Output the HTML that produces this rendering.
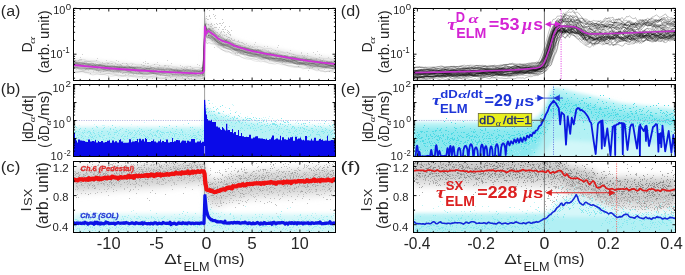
<!DOCTYPE html><html><head><meta charset="utf-8"><style>html,body{margin:0;padding:0;background:#fff;width:685px;height:275px;overflow:hidden}svg{display:block;will-change:transform}</style></head><body><svg width="685" height="275" viewBox="0 0 685 275" font-family='"Liberation Sans", sans-serif'>
<defs>
<clipPath id="clipA0"><rect x="73.5" y="8.5" width="262.0" height="72.0"/></clipPath>
<clipPath id="clipB"><rect x="73.5" y="84.5" width="262.0" height="72.0"/></clipPath>
<clipPath id="clipC"><rect x="73.5" y="161.5" width="262.0" height="71.0"/></clipPath>
<clipPath id="clipD"><rect x="413.5" y="8.5" width="262.0" height="72.0"/></clipPath>
<clipPath id="clipE"><rect x="413.5" y="84.5" width="262.0" height="72.0"/></clipPath>
<clipPath id="clipF"><rect x="413.5" y="161.5" width="262.0" height="71.0"/></clipPath>
<filter id="b1" x="-5%" y="-40%" width="110%" height="180%"><feGaussianBlur stdDeviation="1"/></filter>
<filter id="b2" x="-5%" y="-40%" width="110%" height="180%"><feGaussianBlur stdDeviation="2"/></filter>
<filter id="b3" x="-5%" y="-40%" width="110%" height="180%"><feGaussianBlur stdDeviation="3"/></filter>
<filter id="b15" x="-5%" y="-40%" width="110%" height="180%"><feGaussianBlur stdDeviation="1.5"/></filter>
</defs>
<rect width="685" height="275" fill="#fff"/>
<g clip-path="url(#clipA0)">
<polygon points="73,59 75,59.1 77,59.3 79,59.5 81,59.7 83,59.9 85,60.1 87,60.3 89,60.5 91,60.7 93,60.9 95,61 97,61.2 99,61.4 101,61.5 103,61.7 105,61.9 107,62.1 109,62.2 111,62.4 113,62.6 115,62.7 117,62.9 119,63 121,63.1 123,63.3 125,63.4 127,63.6 129,63.7 131,63.9 133,64 135,64.1 137,64.3 139,64.4 141,64.6 143,64.7 145,64.8 147,64.9 149,65 151,65.1 153,65.2 155,65.3 157,65.4 159,65.5 161,65.7 163,65.8 165,65.9 167,66 169,66.1 171,66.2 173,66.3 175,66.4 177,66.5 179,66.6 181,66.7 183,66.8 185,66.9 187,67 189,67.1 191,67.2 193,67.3 195,67.4 197,67.4 199,67.3 201,67.2 203,66.5 205,16.2 207,23.4 209,22.5 211,24.5 213,26.4 215,28.3 217,30.2 219,31.7 221,32.9 223,34.1 225,34.8 227,35.4 229,36.2 231,37.3 233,38.4 235,39.5 237,40.2 239,40.9 241,41.6 243,42.2 245,42.8 247,43.4 249,44 251,44.5 253,44.9 255,45.3 257,45.8 259,46.2 261,46.6 263,47 265,47.4 267,47.7 269,48.1 271,48.5 273,48.8 275,49.2 277,49.6 279,49.9 281,50.3 283,50.6 285,51 287,51.3 289,51.7 291,52 293,52.4 295,52.7 297,53 299,53.4 301,53.7 303,54 305,54.3 307,54.7 309,54.9 311,55.2 313,55.5 315,55.7 317,56 319,56.3 321,56.5 323,56.8 325,57 327,57.2 329,57.4 331,57.6 333,57.8 335,58 335,69.5 333,69.3 331,69.1 329,68.9 327,68.7 325,68.5 323,68.3 321,68.1 319,67.9 317,67.6 315,67.4 313,67.1 311,66.9 309,66.6 307,66.3 305,66 303,65.7 301,65.4 299,65.1 297,64.8 295,64.5 293,64.1 291,63.8 289,63.5 287,63.1 285,62.8 283,62.4 281,62.1 279,61.8 277,61.4 275,61.1 273,60.7 271,60.4 269,60 267,59.7 265,59.3 263,58.9 261,58.5 259,58.1 257,57.7 255,57.3 253,56.9 251,56.5 249,56 247,55.4 245,54.8 243,54.2 241,53.6 239,53.1 237,52.6 235,52 233,51.1 231,50.2 229,49.3 227,48.7 225,48.2 223,47.8 221,46.8 219,45.8 217,44.4 215,42.6 213,41.5 211,40.3 209,39.1 207,40.7 205,36.9 203,78 201,78.7 199,78.8 197,78.9 195,78.9 193,78.8 191,78.7 189,78.6 187,78.5 185,78.4 183,78.3 181,78.2 179,78.1 177,78 175,77.9 173,77.8 171,77.7 169,77.6 167,77.5 165,77.4 163,77.3 161,77.2 159,77 157,76.9 155,76.8 153,76.7 151,76.6 149,76.5 147,76.4 145,76.3 143,76.2 141,76.1 139,75.9 137,75.8 135,75.6 133,75.5 131,75.4 129,75.2 127,75.1 125,74.9 123,74.8 121,74.6 119,74.5 117,74.4 115,74.2 113,74.1 111,73.9 109,73.7 107,73.6 105,73.4 103,73.2 101,73 99,72.9 97,72.7 95,72.5 93,72.4 91,72.2 89,72 87,71.8 85,71.6 83,71.4 81,71.2 79,71 77,70.8 75,70.6 73,70.5" fill="#e4e4e4" fill-opacity="1.0" filter="url(#b2)"/>
<path d="M208 19.5h1m-3 4h1m-1 1h1m3 0h1m-3 1h1m-4 2h1m3 1h1m-5 1h1m1 0h1m-1 2h1m5 0h1m-5 1h1m0 0h1m2 0h1m1 0h1m4 0h1m0 0h1m-8 1h1m5 0h1m7 0h1m-18 1h1m4 0h1m2 0h1m9 0h1m-12 1h1m0 0h1m2 0h1m-12 1h1m0 0h1m2 0h1m6 0h1m3 0h1m-4 1h1m5 0h1m-13 1h1m13 0h1m-8 1h1m6 0h1m2 0h1m-23 1h1m12 0h1m0 0h1m5 0h1m0 0h1m0 0h1m3 0h1m-23 1h1m10 0h1m0 0h1m8 0h1m0 0h1m-22 1h1m6 0h1m14 0h1m1 0h1m0 0h1m12 0h1m-35 1h1m3 0h1m4 0h1m4 0h1m7 0h1m2 0h1m-43 1h1m39 0h1m9 0h1m-28 1h1m4 0h1m3 0h1m3 0h1m7 0h1m1 0h1m27 0h1m-46 1h1m2 0h1m5 0h1m1 0h1m0 0h1m3 0h1m2 0h1m11 0h1m2 0h1m-54 1h1m8 0h1m6 0h1m26 0h1m19 0h1m-33 1h1m0 0h1m0 0h1m0 0h1m-10 1h1m1 0h1m9 0h1m0 0h1m2 0h1m1 0h1m0 0h1m1 0h1m1 0h1m-59 1h1m46 0h1m1 0h1m0 0h1m1 0h1m11 0h1m2 0h1m3 0h1m14 0h1m-38 1h1m2 0h1m1 0h1m19 0h1m38 0h1m-78 1h1m9 0h1m8 0h1m1 0h1m4 0h1m3 0h1m16 0h1m13 0h1m11 0h1m-79 1h1m1 0h1m5 0h1m16 0h1m0 0h1m0 0h1m2 0h1m4 0h1m2 0h1m3 0h1m11 0h1m11 0h1m5 0h1m-226 1h1m164 0h1m15 0h1m0 0h1m2 0h1m1 0h1m2 0h1m3 0h1m16 0h1m21 0h1m3 0h1m-49 1h1m2 0h1m0 0h1m4 0h1m0 0h1m2 0h1m0 0h1m1 0h1m3 0h1m10 0h1m1 0h1m2 0h1m13 0h1m12 0h1m-70 1h1m0 0h1m12 0h1m5 0h1m0 0h1m5 0h1m2 0h1m1 0h1m-218 1h1m192 0h1m2 0h1m4 0h1m1 0h1m19 0h1m0 0h1m14 0h1m8 0h1m-232 1h1m170 0h1m3 0h1m1 0h1m4 0h1m0 0h1m8 0h1m3 0h1m0 0h1m0 0h1m0 0h1m1 0h1m0 0h1m2 0h1m3 0h1m3 0h1m0 0h1m4 0h1m-238 1h1m0 0h1m0 0h1m201 0h1m0 0h1m3 0h1m2 0h1m8 0h1m4 0h1m10 0h1m3 0h1m2 0h1m-249 1h1m2 0h1m17 0h1m9 0h1m9 0h1m50 0h1m101 0h1m12 0h1m11 0h1m5 0h1m21 0h1m10 0h1m0 0h1m-251 1h1m0 0h1m32 0h1m26 0h1m140 0h1m1 0h1m1 0h1m1 0h1m3 0h1m6 0h1m16 0h1m1 0h1m1 0h1m1 0h1m0 0h1m3 0h1m-257 1h1m0 0h1m2 0h1m6 0h1m15 0h1m40 0h1m13 0h1m124 0h1m26 0h1m2 0h1m1 0h1m0 0h1m11 0h1m0 0h1m0 0h1m-256 1h1m9 0h1m8 0h1m1 0h1m11 0h1m0 0h1m2 0h1m0 0h1m2 0h1m6 0h1m3 0h1m18 0h1m1 0h1m0 0h1m22 0h1m125 0h1m10 0h1m2 0h1m1 0h1m0 0h1m6 0h1m10 0h1m0 0h1m-256 1h1m3 0h1m0 0h1m10 0h1m4 0h1m0 0h1m16 0h1m2 0h1m6 0h1m4 0h1m8 0h1m12 0h1m42 0h1m101 0h1m5 0h1m19 0h1m4 0h1m-257 1h1m2 0h1m3 0h1m1 0h1m3 0h1m0 0h1m3 0h1m2 0h1m2 0h1m0 0h1m4 0h1m2 0h1m6 0h1m6 0h1m4 0h1m0 0h1m0 0h1m2 0h1m11 0h1m0 0h1m14 0h1m4 0h1m0 0h1m14 0h1m18 0h1m110 0h1m7 0h1m11 0h1m4 0h1m-259 1h1m11 0h1m1 0h1m2 0h1m6 0h1m0 0h1m2 0h1m4 0h1m8 0h1m4 0h1m0 0h1m3 0h1m17 0h1m0 0h1m1 0h1m17 0h1m13 0h1m7 0h1m12 0h1m94 0h1m18 0h1m13 0h1m-221 1h1m2 0h1m4 0h1m1 0h1m2 0h1m4 0h1m3 0h1m0 0h1m0 0h1m1 0h1m2 0h1m9 0h1m0 0h1m5 0h1m0 0h1m25 0h1m1 0h1m0 0h1m13 0h1m0 0h1m109 0h1m12 0h1m0 0h1m-241 1h1m2 0h1m0 0h1m0 0h1m0 0h1m4 0h1m3 0h1m4 0h1m2 0h1m2 0h1m0 0h1m9 0h1m6 0h1m1 0h1m1 0h1m11 0h1m7 0h1m3 0h1m4 0h1m12 0h1m4 0h1m10 0h1m8 0h1m107 0h1m22 0h1m-257 1h1m8 0h1m17 0h1m0 0h1m0 0h1m3 0h1m5 0h1m20 0h1m7 0h1m4 0h1m3 0h1m12 0h1m4 0h1m11 0h1m6 0h1m127 0h1m5 0h1m-237 1h1m7 0h1m13 0h1m20 0h1m5 0h1m8 0h1m4 0h1m3 0h1m0 0h1m2 0h1m1 0h1m2 0h1m4 0h1m4 0h1m2 0h1m1 0h1m0 0h1m4 0h1m6 0h1m6 0h1m2 0h1m105 0h1m-216 1h1m4 0h1m4 0h1m9 0h1m2 0h1m0 0h1m12 0h1m4 0h1m3 0h1m9 0h1m2 0h1m7 0h1m1 0h1m5 0h1m1 0h1m2 0h1m0 0h1m0 0h1m1 0h1m0 0h1m5 0h1m8 0h1m0 0h1m134 0h1m-230 1h1m17 0h1m1 0h1m2 0h1m15 0h1m22 0h1m0 0h1m3 0h1m5 0h1m20 0h1m0 0h1m0 0h1m-107 1h1m31 0h1m13 0h1m1 0h1m1 0h1m0 0h1m0 0h1m10 0h1m21 0h1m10 0h1m6 0h1m3 0h1m-73 1h1m2 0h1m4 0h1m32 0h1m5 0h1m10 0h1m5 0h1m5 0h1m0 0h1m3 0h1m-45 1h1m3 0h1m8 0h1m2 0h1m5 0h1m2 0h1m16 0h1m4 0h1m-96 1h1m79 0h1m2 0h1m-50 1h1m22 0h1m4 0h1m5 0h1m5 0h1m4 0h1m-36 1h1m35 0h1m2 0h1m-3 1h1m-5 1h1m14 1h1" stroke="#d2d2d2" stroke-opacity="1.0" stroke-width="1" fill="none" shape-rendering="crispEdges"/>
<path d="M207 9.5h1m1 1h1m3 4h1m-5 1h1m5 0h1m-10 1h1m2 0h1m4 0h1m-9 2h1m3 0h1m4 0h1m-9 1h1m14 0h1m0 3h1m-13 1h1m4 0h1m2 0h1m0 0h1m1 0h1m-15 1h1m2 0h1m2 0h1m2 0h1m-6 1h1m8 0h1m-12 1h1m0 0h1m13 0h1m3 0h1m-16 1h1m0 0h1m0 0h1m2 0h1m4 0h1m-20 1h1m0 0h1m5 0h1m0 0h1m4 1h1m3 0h1m0 0h1m1 0h1m1 1h1m3 0h1m-11 1h1m1 0h1m4 0h1m-12 1h1m6 0h1m2 0h1m1 0h1m-2 1h1m-17 1h1m13 0h1m3 0h1m-23 1h1m11 0h1m3 0h1m5 0h1m-13 1h1m9 1h1m-2 1h1m3 0h1m-6 1h1m2 0h1m-4 1h1m3 0h1" stroke="#c8c8c8" stroke-opacity="1.0" stroke-width="1" fill="none" shape-rendering="crispEdges"/>
<g fill="none" stroke="#3a3a3a" stroke-opacity="0.11" stroke-width="0.9" stroke-linejoin="round"><polyline points="73,71 75,71.2 77,71.9 79,71.5 81,71.6 83,71.2 85,72.2 87,72.2 89,72.3 91,72 93,72.5 95,72.4 97,72.2 99,72.3 101,73 103,73.2 105,73.3 107,73.4 109,73.5 111,73.9 113,73.2 115,74.4 117,75.5 119,77.1 121,76.6 123,76 125,75.3 127,75.6 129,76.1 131,75.6 133,76.1 135,75.5 137,77 139,76.7 141,76.5 143,76.1 145,76.5 147,76.9 149,77.1 151,76.6 153,75.7 155,76 157,76.7 159,77.9 161,77.6 163,77.9 165,77.7 167,77.5 169,77 171,77.9 173,77.7 175,78.4 177,77.7 179,77.9 181,78.1 183,78.4 185,78.4 187,77.7 189,78.3 191,79.5 193,79.6 195,79.4 197,79.2 199,79 201,78.9 203,77.9 205,37.9 207,41.1 209,39.7 211,41.3 213,42.4 215,43.4 217,45.7 219,47.5 221,49.3 223,50.3 225,51 227,52.2 229,51.6 231,52.7 233,52.2 235,54.5 237,55.5 239,55.2 241,54.4 243,54.5 245,56.4 247,57.8 249,58.1 251,58.4 253,58.8 255,59.2 257,59.8 259,58.8 261,59.6 263,59 265,60.9 267,60.8 269,61.3 271,61.3 273,61.4 275,61.7 277,61.1 279,61.9 281,62.9 283,64.5 285,64.8 287,65.4 289,65.2 291,65.6 293,65.7 295,66.5 297,66.7 299,66.7 301,66.4 303,66.9 305,66.9 307,67.8 309,67.8 311,68.7 313,68.1 315,68.7 317,68.9 319,69.4 321,70.4 323,70.6 325,71.8 327,71.5 329,71.2 331,70.4 333,70.4 335,70.9 337,71.2"/><polyline points="73,64.7 75,64.7 77,64.2 79,65.2 81,65.2 83,66 85,65.9 87,66.5 89,66.4 91,66 93,65.7 95,65.7 97,66.1 99,67.3 101,67.8 103,68.6 105,67.7 107,68.3 109,68.2 111,68.8 113,69.1 115,70 117,70.2 119,70.2 121,69.3 123,69.6 125,69.6 127,70.4 129,70.3 131,71.2 133,70.3 135,70.4 137,70.2 139,70.9 141,70.9 143,70.6 145,70.3 147,70.7 149,71.9 151,72.9 153,72.5 155,71.4 157,71 159,71.9 161,72 163,72 165,72.1 167,72.8 169,73 171,72.4 173,71.6 175,71.6 177,71.3 179,72.3 181,72.4 183,73.5 185,74 187,74.7 189,74.2 191,73.9 193,74 195,74.2 197,73.6 199,73 201,72.6 203,72.8 205,27.1 207,33.1 209,31 211,33.7 213,35.8 215,37.6 217,39.4 219,41.3 221,41.4 223,42.5 225,42.3 227,43.8 229,44.6 231,45.5 233,46.2 235,47.4 237,48.6 239,49.2 241,50.3 243,51.6 245,51.9 247,51.9 249,52.5 251,53.9 253,54.3 255,53.6 257,53.5 259,53.8 261,54 263,54.9 265,55.3 267,55.6 269,55.3 271,55.8 273,55.9 275,56.7 277,57.5 279,58.3 281,58.9 283,59 285,59.2 287,59.3 289,59.4 291,60 293,60 295,61 297,61 299,61.4 301,61.1 303,61.1 305,61.8 307,62 309,63 311,62.9 313,62.6 315,62.1 317,61.9 319,63 321,63.9 323,65.1 325,64.9 327,64.4 329,65 331,65.8 333,66.3 335,66.2 337,66.2"/><polyline points="73,72 75,72.3 77,72.2 79,72.1 81,71.7 83,71.7 85,71.8 87,72.4 89,72.6 91,74 93,73.9 95,74 97,73.2 99,73.9 101,74.5 103,74.5 105,74.2 107,73.3 109,73.3 111,74 113,74.9 115,75 117,74.8 119,74.9 121,75.6 123,75.7 125,75.7 127,75 129,74.9 131,75.8 133,75.8 135,76.2 137,75.8 139,76.7 141,76.6 143,76.6 145,76.9 147,77.3 149,76.7 151,76.7 153,76.5 155,77.1 157,77.4 159,78.1 161,78.8 163,78.6 165,78.8 167,79 169,79.8 171,80.1 173,79.7 175,79.3 177,79.2 179,78.8 181,79 183,78.6 185,79.1 187,78.4 189,78.3 191,78.6 193,79.7 195,80.5 197,80.5 199,80 201,79.2 203,78.7 205,39.2 207,43.7 209,42.8 211,44 213,44 215,43.9 217,44.9 219,46.4 221,48.5 223,50.3 225,50.6 227,50.7 229,51.8 231,53.2 233,53.5 235,53.7 237,54.5 239,55.6 241,56.8 243,57.7 245,58.6 247,59.2 249,59.6 251,59 253,58.8 255,59 257,59.9 259,60.7 261,60.8 263,61 265,61.6 267,62.4 269,63.2 271,63.3 273,63.9 275,64.3 277,63.2 279,62.9 281,62.9 283,63.8 285,64.5 287,65.5 289,66.1 291,65.9 293,66.6 295,66.9 297,67.2 299,66.8 301,67.4 303,67.9 305,68.5 307,68.4 309,68.6 311,68.6 313,69.4 315,69.7 317,70 319,69.9 321,71.6 323,71.4 325,72.1 327,71.2 329,71.6 331,71.6 333,72.1 335,72.9 337,72.7"/><polyline points="73,65.8 75,66.1 77,66.6 79,67.5 81,67.6 83,68 85,68.2 87,68.3 89,67.7 91,67 93,66.7 95,67.8 97,68.1 99,69.1 101,69 103,70 105,70.1 107,70 109,69.6 111,69.5 113,69.7 115,69.7 117,69.9 119,70.5 121,70.2 123,70.5 125,69.8 127,70.5 129,70.9 131,71.3 133,71.6 135,71 137,71.5 139,71.2 141,72 143,71.9 145,71.3 147,71 149,71.1 151,72.6 153,73 155,73.1 157,72.3 159,72.8 161,73.4 163,73.9 165,73.5 167,72.5 169,72.9 171,74 173,74.8 175,75.1 177,74.5 179,74 181,74.2 183,73.7 185,74 187,73.8 189,74.5 191,74.8 193,74.9 195,74.5 197,73.9 199,73.8 201,73.7 203,73 205,28.2 207,33.8 209,32.3 211,33.8 213,34.9 215,37.3 217,39.8 219,42.7 221,43.1 223,43.7 225,43.9 227,44.9 229,45.7 231,46.9 233,47.9 235,48.6 237,48.2 239,49 241,50.1 243,50.7 245,50.8 247,51.5 249,52.8 251,53.4 253,53.8 255,54.2 257,54.3 259,54.3 261,54.7 263,55.5 265,55.3 267,55.4 269,56.2 271,57.8 273,57.5 275,58.5 277,58 279,59.4 281,59.2 283,60.3 285,60.4 287,59.9 289,60.1 291,60.2 293,60.1 295,61.2 297,61.9 299,63.7 301,62.8 303,63.3 305,63.6 307,64.7 309,64.5 311,63.8 313,63.5 315,63.1 317,63.2 319,63.5 321,64.2 323,64.9 325,65 327,66.2 329,66.8 331,67.1 333,67 335,66.5 337,66.7"/><polyline points="73,64.3 75,64.4 77,63.8 79,64.5 81,65.3 83,65.7 85,66 87,65.2 89,65.3 91,64.9 93,66 95,67.4 97,68.2 99,67.6 101,67.2 103,67.1 105,67.8 107,67.8 109,68.2 111,68.3 113,68.1 115,68 117,67.3 119,67.5 121,67.3 123,68 125,68 127,68.7 129,69 131,69 133,68.8 135,68.4 137,69.4 139,70.4 141,71.2 143,70.9 145,70.9 147,70.2 149,71 151,70.3 153,70 155,70.5 157,71.4 159,72.2 161,71.4 163,70.8 165,71.4 167,70.9 169,70.8 171,71 173,71.8 175,72.6 177,72.5 179,73.4 181,72.8 183,73 185,71.5 187,71.4 189,71.9 191,72.3 193,73.1 195,72.6 197,72.6 199,72.2 201,72 203,71.5 205,26.9 207,33.2 209,32 211,32.8 213,34.2 215,36 217,38.7 219,41.2 221,42.7 223,43.3 225,42.7 227,42.5 229,42.8 231,43.5 233,44.7 235,46 237,47.3 239,47.9 241,48.6 243,48.5 245,49.9 247,50.8 249,52.5 251,52.7 253,53.5 255,53.1 257,53.5 259,54.3 261,54.4 263,54.9 265,54.9 267,55.9 269,56.1 271,56.3 273,56.3 275,56.5 277,56 279,56.4 281,56.4 283,57 285,57.6 287,58.4 289,58.3 291,59.3 293,59.9 295,61.1 297,60.5 299,60.3 301,60.6 303,61.2 305,60.9 307,61.3 309,62.5 311,62.7 313,63.1 315,62.4 317,63.3 319,63.7 321,63.4 323,63.7 325,63.9 327,64.5 329,64.5 331,64.2 333,64.3 335,65.2 337,65.3"/><polyline points="73,62.8 75,63.2 77,63 79,62.6 81,62.5 83,62.3 85,63.4 87,64.3 89,64.5 91,64.4 93,64.5 95,65.2 97,66.5 99,66.2 101,66 103,65.4 105,66 107,67 109,67.2 111,66.8 113,66.5 115,66.4 117,67.4 119,67.6 121,67.5 123,66.5 125,67 127,67.9 129,68.2 131,67.8 133,67.6 135,67.1 137,66.9 139,67.4 141,68.1 143,68.9 145,69.2 147,69.9 149,69.8 151,70.3 153,70.4 155,70.4 157,69.9 159,69.9 161,69.8 163,69.6 165,69.4 167,69 169,69 171,69.1 173,69.9 175,69.3 177,69.4 179,69.7 181,70.6 183,70.3 185,70.7 187,70.2 189,70.7 191,71.1 193,71.4 195,71.4 197,71.3 199,71.3 201,71.3 203,70.3 205,25.2 207,29.9 209,28.2 211,28.7 213,31.1 215,32.8 217,34.8 219,37.1 221,38.2 223,39.8 225,40.5 227,41.2 229,41.8 231,43.5 233,45 235,45.7 237,45.6 239,45.6 241,46.7 243,47.7 245,48.4 247,48.8 249,49.5 251,50.2 253,50.7 255,50.2 257,50.4 259,50.5 261,52.3 263,52.9 265,53.3 267,52.5 269,52.9 271,53.8 273,54.5 275,55.9 277,56 279,57 281,56.5 283,57 285,56.1 287,56.3 289,56.3 291,57.2 293,56.7 295,57.4 297,57.7 299,58.7 301,58.6 303,58.9 305,59.6 307,59.5 309,59.5 311,59.7 313,60.6 315,61.1 317,61 319,60.8 321,61.2 323,62.2 325,62.3 327,63.2 329,63.2 331,63.7 333,63.6 335,62.8 337,63.1"/><polyline points="73,60.3 75,60.3 77,60.8 79,61.2 81,60.7 83,61.3 85,60.8 87,61.6 89,61.5 91,61.7 93,61.6 95,61.6 97,62.2 99,63.2 101,64 103,63.8 105,63.4 107,62.9 109,63.7 111,63.4 113,64.4 115,64.2 117,64.8 119,64.6 121,65.4 123,66 125,66.4 127,66.2 129,66.7 131,66.9 133,66.9 135,67.2 137,66.9 139,67.1 141,66.3 143,66.2 145,66.6 147,66.5 149,67 151,66.9 153,67.7 155,66.7 157,66.6 159,66.8 161,67.5 163,67.7 165,66.6 167,67.3 169,67.1 171,68.5 173,67.6 175,68.3 177,67.9 179,69.1 181,68.6 183,68.5 185,69.2 187,69.3 189,69.4 191,68.4 193,68.4 195,69.3 197,70.1 199,70.2 201,68.9 203,68 205,21.2 207,29.4 209,28.4 211,29 213,30.2 215,30.7 217,32.4 219,34.5 221,36 223,38.9 225,39.1 227,39.8 229,39.8 231,41.6 233,43.2 235,43.4 237,43.4 239,44.5 241,45.5 243,45.6 245,46 247,46.9 249,47.4 251,47.3 253,47.3 255,48.3 257,48.9 259,50.2 261,50.7 263,50.4 265,50.5 267,51 269,52.2 271,52.8 273,52.6 275,52.3 277,52.6 279,52.8 281,52.6 283,53 285,53.5 287,54.6 289,54 291,54.1 293,54.1 295,54.8 297,55.9 299,55.7 301,56.5 303,56.2 305,57 307,57.3 309,58 311,58.1 313,58.9 315,58.8 317,59.8 319,59.4 321,60.6 323,60.5 325,61.1 327,60.4 329,61.2 331,60.7 333,61.1 335,61.6 337,62"/><polyline points="73,67.1 75,67.4 77,67.2 79,66.7 81,66.3 83,67.3 85,67.7 87,68.1 89,67.6 91,67.3 93,67.8 95,67.8 97,68.1 99,67.4 101,67.8 103,67.6 105,68.5 107,69 109,68.8 111,69.4 113,69.3 115,69.7 117,69 119,68.7 121,69.3 123,69.6 125,70.3 127,70.7 129,71.7 131,72.5 133,72.1 135,71.3 137,71.2 139,71.6 141,72.7 143,72.4 145,72.8 147,72.8 149,73.2 151,73.1 153,73 155,72.9 157,72.9 159,73.2 161,73 163,73.8 165,73.4 167,74.2 169,73.5 171,73.6 173,74.1 175,74.1 177,73.8 179,72.8 181,72.9 183,74.4 185,74.9 187,75.5 189,74.2 191,74.4 193,74.4 195,75.6 197,75.2 199,75.1 201,74.4 203,73.5 205,29.5 207,34.4 209,32.3 211,34.3 213,36.2 215,38.7 217,39.5 219,41.5 221,42.9 223,45.1 225,45.6 227,45.8 229,46.3 231,46.5 233,47.7 235,48.3 237,49 239,50.1 241,50.8 243,51.4 245,51.4 247,52.1 249,52.4 251,52.8 253,53 255,53.5 257,54.1 259,54.3 261,55.8 263,56.8 265,57.7 267,57.1 269,57.9 271,58.2 273,58.5 275,58 277,58.4 279,59.4 281,59.6 283,60.7 285,60.1 287,60.7 289,59.7 291,61.2 293,61.1 295,61.9 297,61.8 299,62.8 301,62.7 303,62.4 305,61.6 307,62.5 309,62.9 311,63.6 313,63.5 315,63.6 317,63.7 319,64.5 321,65.5 323,65.2 325,65.2 327,64.6 329,65.8 331,65.6 333,65.9 335,65.5 337,66"/><polyline points="73,67 75,67.3 77,67.4 79,67 81,67.3 83,67.7 85,68.4 87,68.8 89,69.4 91,69.2 93,68.6 95,68.9 97,70.1 99,70.3 101,69.4 103,68.8 105,69 107,69 109,69.5 111,69.3 113,69.6 115,70.1 117,70.5 119,71.1 121,71.1 123,71.9 125,71.9 127,71.8 129,71.3 131,72.3 133,72.7 135,72.7 137,72.2 139,72.3 141,73.1 143,73.9 145,74.3 147,74 149,73.3 151,72.4 153,72.8 155,73 157,74.7 159,74.8 161,74 163,72.8 165,72.9 167,73.3 169,73.3 171,73.3 173,74 175,74.4 177,74.3 179,74.6 181,74.5 183,74.8 185,74 187,74 189,74.5 191,74.5 193,74.9 195,75 197,75.5 199,75.6 201,74.7 203,74.7 205,32.7 207,38.2 209,35 211,35.3 213,37.2 215,40.4 217,42.8 219,44.3 221,44.3 223,45.1 225,45.1 227,46.1 229,46.1 231,47.5 233,48.8 235,50 237,49.6 239,49.8 241,50.6 243,50.8 245,51.6 247,52.5 249,53.9 251,55 253,55.3 255,55.6 257,55.2 259,55.1 261,55.5 263,56 265,56.6 267,57.1 269,58 271,58.9 273,59.8 275,59.7 277,59.9 279,60.5 281,60.6 283,61.5 285,60.9 287,61.1 289,60.2 291,60.8 293,61.4 295,62.9 297,63.1 299,63.2 301,62.8 303,63 305,62.9 307,63.4 309,63.3 311,64 313,64.3 315,65 317,64.8 319,64.5 321,65.7 323,65.8 325,67.2 327,66.9 329,67.5 331,66.6 333,67 335,68 337,68.5"/><polyline points="73,63.3 75,63.5 77,64.6 79,64.2 81,64.5 83,63.4 85,64.6 87,64.3 89,64.1 91,63.5 93,63.9 95,65.6 97,65.7 99,66 101,65.6 103,66.5 105,66.7 107,67 109,66.8 111,66.9 113,66.7 115,66.6 117,66.5 119,67.1 121,66.7 123,67.6 125,67.7 127,68.3 129,67.7 131,67.4 133,67.8 135,68.5 137,68.8 139,69.2 141,68.8 143,68.9 145,68 147,68.6 149,68.7 151,69.3 153,69.5 155,69.9 157,69 159,68.7 161,68 163,69.6 165,70.7 167,71.1 169,70.9 171,69.9 173,70.3 175,70.7 177,71.4 179,71 181,71.4 183,70.7 185,71.2 187,71.2 189,71.9 191,71.5 193,70.9 195,70.5 197,70.8 199,71.5 201,71.1 203,70.6 205,24.2 207,31.5 209,30.3 211,32.5 213,34 215,35.9 217,37.2 219,39.3 221,39.2 223,40.6 225,40.3 227,41.6 229,41.3 231,41.6 233,42.6 235,43.8 237,45.5 239,45.7 241,47.2 243,47.7 245,48.8 247,48.6 249,48.7 251,48.9 253,49.4 255,50.1 257,50.9 259,50.9 261,51.2 263,51.3 265,52.4 267,53.6 269,54.6 271,54.7 273,53.7 275,53.2 277,53 279,54.3 281,55 283,56 285,55.8 287,56.5 289,57.4 291,57.7 293,57.9 295,57.3 297,58.3 299,58.3 301,58.5 303,57.9 305,58.1 307,59 309,60.9 311,61.3 313,61.8 315,61.1 317,61.3 319,61.1 321,61.2 323,61.6 325,62.6 327,62.2 329,62.8 331,62.4 333,63.1 335,63.2 337,63.2"/><polyline points="73,67.7 75,68.1 77,67.5 79,68.1 81,68.9 83,70.2 85,70.3 87,69 89,68.8 91,68.3 93,68.8 95,69.4 97,69.5 99,69.9 101,69 103,69.4 105,69.6 107,70.3 109,70.2 111,71.1 113,71 115,71.1 117,70.2 119,71.2 121,72.6 123,73.2 125,72.6 127,71.8 129,72.2 131,72.2 133,73.1 135,73.4 137,73.9 139,73.7 141,73.6 143,74.3 145,73.8 147,74 149,73.4 151,73.6 153,73.3 155,73.5 157,73.5 159,73 161,72.8 163,73.8 165,75.3 167,76 169,76.1 171,75.2 173,75 175,74.8 177,74.7 179,74.5 181,74.5 183,74.9 185,74.9 187,75.1 189,75.2 191,76.1 193,76.1 195,76.1 197,75.8 199,75.6 201,75.4 203,74.5 205,32.3 207,37.9 209,37.4 211,37.5 213,38.3 215,38.9 217,41.6 219,43 221,44 223,45.3 225,46.2 227,46.4 229,47.2 231,48.6 233,49.8 235,50.5 237,50.4 239,51.7 241,51.8 243,52.4 245,52.4 247,52.8 249,53.8 251,54.5 253,55.3 255,55.3 257,54.2 259,54.6 261,54.5 263,56.5 265,57.3 267,58.5 269,58.6 271,58.4 273,58.6 275,58.9 277,59.1 279,59.1 281,60.2 283,60.7 285,61.8 287,61.6 289,62 291,61.9 293,62.5 295,63.1 297,63.6 299,63.5 301,63.2 303,64 305,64.5 307,65 309,65.2 311,66 313,66.6 315,66.1 317,66.8 319,67 321,67.7 323,66.9 325,66.4 327,65.9 329,66.3 331,67.2 333,67.8 335,67.4 337,67.4"/><polyline points="73,61.1 75,61.5 77,62.2 79,63.9 81,64.1 83,63.7 85,62.6 87,61.3 89,61.5 91,61.9 93,63.6 95,64.2 97,64.7 99,64.6 101,64.8 103,65.2 105,65 107,64.7 109,63.9 111,65 113,65.8 115,66.7 117,65.9 119,65.6 121,65.4 123,66 125,66 127,66.4 129,66.4 131,66.9 133,66.9 135,67.1 137,66.9 139,66.8 141,67.3 143,67.4 145,67.8 147,67.5 149,67.1 151,67.5 153,67.3 155,68.2 157,68.1 159,68 161,67.6 163,67.4 165,67.8 167,67.8 169,68.3 171,68.7 173,69.3 175,69 177,69.3 179,69 181,69.3 183,69.5 185,69.8 187,69.8 189,69.3 191,69.4 193,69.8 195,70.1 197,69.8 199,69.8 201,70.7 203,70.2 205,23.7 207,28.8 209,26.7 211,28.4 213,29.7 215,33.2 217,34.9 219,36.4 221,36.9 223,38.2 225,38.9 227,39.6 229,39.7 231,40.9 233,42.3 235,44.6 237,45.7 239,46.1 241,46.5 243,47.2 245,48.3 247,48.9 249,49.1 251,49.1 253,49.2 255,49.7 257,50.1 259,50.1 261,49.7 263,49.8 265,49.7 267,50.9 269,51.5 271,52 273,52.6 275,53.2 277,54.2 279,54.9 281,55.6 283,55.5 285,55.7 287,55.5 289,56.4 291,56.7 293,56.7 295,56.6 297,56.3 299,56.6 301,57.1 303,57.2 305,57.4 307,58 309,58.8 311,59.5 313,58.9 315,58.9 317,58.9 319,59.8 321,60.1 323,60.9 325,61.1 327,61.5 329,61.4 331,61.8 333,61.9 335,62.5 337,62.3"/><polyline points="73,66.5 75,66.9 77,67.5 79,68.1 81,68.2 83,68.3 85,68.2 87,68.7 89,68.5 91,67.8 93,68 95,68.2 97,68.8 99,68.3 101,68 103,69.6 105,70.1 107,70 109,69.5 111,69.2 113,70.9 115,70.4 117,69.7 119,69 121,69.5 123,70.4 125,69.6 127,70.1 129,71.1 131,71.4 133,71.9 135,71 137,73 139,72.8 141,73.1 143,72.7 145,72.9 147,72.8 149,72.7 151,72.4 153,72 155,72.7 157,72.8 159,73.5 161,72.8 163,72.4 165,72.2 167,72 169,72.5 171,73.2 173,74.1 175,74.2 177,74.5 179,74.4 181,74.2 183,74.2 185,73.6 187,74.6 189,74.8 191,75.3 193,74.3 195,74.3 197,73.9 199,74.8 201,74.6 203,73.9 205,30.7 207,36.3 209,35.1 211,36.7 213,37.5 215,39.1 217,40.4 219,41.6 221,42.6 223,43.5 225,45.2 227,46.7 229,47.3 231,48.3 233,48.5 235,49.8 237,50.1 239,50.8 241,52.3 243,52.6 245,52.5 247,52.7 249,53 251,53.9 253,52.3 255,53.4 257,54.3 259,56.4 261,56.8 263,57.6 265,57.6 267,57.9 269,57.2 271,57.4 273,57.8 275,58.7 277,58.6 279,58.6 281,58.7 283,59.3 285,59.7 287,59.9 289,59.9 291,59.6 293,60.9 295,61.3 297,62.2 299,62 301,63.2 303,62.9 305,62.8 307,62.9 309,64.1 311,64.2 313,63.9 315,64.2 317,65.2 319,66.2 321,65.7 323,65.6 325,65.7 327,66.5 329,66 331,66.2 333,66 335,66.3 337,66.3"/><polyline points="73,65.7 75,66 77,65.7 79,66 81,66.2 83,67 85,67.6 87,67.2 89,66.7 91,66.6 93,67.4 95,68.9 97,69.2 99,68.9 101,68.6 103,68.2 105,68.2 107,69 109,69.6 111,70.6 113,70 115,70.7 117,70.7 119,71.1 121,70.2 123,69.7 125,69.9 127,71 129,71.8 131,71.5 133,71.2 135,70.9 137,71.5 139,71.8 141,72.4 143,72.1 145,72.3 147,72.4 149,72.7 151,72 153,72.1 155,72.7 157,73.1 159,72.9 161,72.6 163,73.2 165,73.6 167,72.8 169,72.8 171,72.2 173,72.6 175,72.7 177,73.2 179,73.9 181,74.9 183,75.4 185,75.5 187,74.1 189,73.6 191,73.1 193,73.3 195,73.2 197,73.4 199,73.4 201,73.4 203,72.4 205,27.1 207,33.5 209,33.1 211,35.9 213,37.6 215,38.8 217,40.5 219,40.8 221,43.1 223,44.4 225,45.4 227,44.5 229,44.8 231,45.1 233,46.3 235,47.4 237,48.8 239,49.6 241,50.2 243,50.4 245,51.3 247,51.4 249,52.1 251,52.6 253,52.8 255,54.3 257,54.3 259,55.8 261,55.1 263,55.9 265,55.1 267,55.4 269,55.6 271,56.6 273,57 275,57.8 277,57.6 279,58.5 281,58.5 283,59.4 285,59 287,59.8 289,60.1 291,61 293,60.3 295,59.8 297,59.8 299,60.7 301,61.5 303,61.9 305,61.8 307,62.9 309,63.4 311,63.7 313,63.8 315,64.4 317,64.9 319,64.4 321,63.9 323,63.7 325,64 327,64.7 329,65.4 331,66 333,66.4 335,66.5 337,66.4"/><polyline points="73,61.8 75,61.6 77,62.3 79,62.6 81,62.7 83,62.7 85,63 87,63.7 89,64 91,64.5 93,64.5 95,64.5 97,64.5 99,65.5 101,65.8 103,66.4 105,66.4 107,67.4 109,66.8 111,67.2 113,66.8 115,67.2 117,66.5 119,66.8 121,67.1 123,67.2 125,67.6 127,67.5 129,67.3 131,67.3 133,68 135,68.9 137,68.3 139,68.6 141,68.5 143,69.7 145,68.9 147,68.9 149,68.3 151,68.3 153,68 155,68.7 157,69.2 159,69.3 161,69.3 163,70 165,70.7 167,70.2 169,69.9 171,70.1 173,70.2 175,70.1 177,70.1 179,71 181,71 183,69.8 185,68.8 187,68.9 189,69.9 191,70.8 193,71.2 195,71.1 197,70.9 199,70.5 201,70.7 203,69.7 205,25.4 207,31.8 209,30.6 211,30.4 213,31.4 215,32.8 217,34.8 219,36.2 221,38.5 223,39.7 225,40.3 227,39.9 229,40.3 231,41.7 233,43.2 235,45.2 237,45.7 239,46.8 241,47.1 243,47.9 245,47.4 247,47.4 249,48.3 251,50.1 253,51.1 255,51.5 257,51.2 259,51.4 261,51.2 263,52.2 265,52.8 267,53.4 269,53.2 271,53.7 273,54.2 275,54.4 277,55.2 279,55.5 281,56.2 283,56.5 285,57.1 287,57.4 289,57.4 291,57 293,57.1 295,56.4 297,57.6 299,57.4 301,58.8 303,58.4 305,59 307,59 309,59.7 311,60.6 313,61.6 315,61.9 317,62.3 319,61.6 321,62 323,62 325,62.2 327,62.1 329,62.2 331,62.7 333,63.1 335,63.1 337,63.1"/><polyline points="73,63.1 75,63 77,63.5 79,63.3 81,63.4 83,63.3 85,63.9 87,65.4 89,64.3 91,65.7 93,65.5 95,67 97,66.5 99,66.2 101,65.7 103,66.3 105,65.9 107,66.3 109,66.5 111,66.7 113,66.8 115,66.6 117,66.7 119,67.4 121,67.7 123,67.7 125,67.4 127,67.1 129,67.6 131,67.8 133,67.9 135,68.7 137,68.6 139,69.4 141,69.1 143,69.8 145,69.3 147,69.3 149,68.6 151,69.1 153,69.8 155,71.2 157,71.6 159,71.4 161,70.6 163,70.4 165,70.4 167,71.2 169,71.5 171,71.3 173,70.5 175,70.8 177,71.4 179,71.7 181,71.7 183,71.5 185,71.6 187,71 189,70.5 191,71 193,70.8 195,71.4 197,70.8 199,71.5 201,71.6 203,71.2 205,24 207,30.2 209,28.3 211,31.1 213,33 215,35.4 217,38.1 219,39.6 221,41 223,41.2 225,41.5 227,42.2 229,43.3 231,43.9 233,44.9 235,45.7 237,47.3 239,47.7 241,47.6 243,47.3 245,48.5 247,49.7 249,50.2 251,50.1 253,50.3 255,50.5 257,49.8 259,49.7 261,51 263,52.3 265,53.3 267,53.6 269,54.3 271,53.9 273,54 275,53.8 277,54.5 279,54.7 281,55.4 283,56.1 285,56.1 287,56.3 289,57.6 291,58.1 293,57.9 295,57.6 297,58.6 299,59.7 301,59.5 303,60 305,59.8 307,60.1 309,59.7 311,60.3 313,61.3 315,62 317,62.3 319,62.7 321,62.7 323,63.3 325,62.6 327,62.1 329,62.3 331,62.5 333,63.2 335,63 337,63.7"/><polyline points="73,64.5 75,63.6 77,64.3 79,64.9 81,66.1 83,65.9 85,65.5 87,66.4 89,66.1 91,66.1 93,65.4 95,66.3 97,66.5 99,67 101,66.8 103,66.9 105,66.6 107,66.6 109,66.7 111,67.1 113,67.1 115,67.9 117,68 119,68.1 121,68.1 123,68 125,68.9 127,68.5 129,69.1 131,69.1 133,69 135,69.1 137,70 139,69.4 141,69.6 143,69.1 145,69.6 147,69.2 149,70 151,70.4 153,71.8 155,71.3 157,71.6 159,71.1 161,71.2 163,71.8 165,71.9 167,71.8 169,71.5 171,72 173,72.3 175,72 177,71.3 179,71.2 181,71.5 183,71.6 185,71.2 187,71.4 189,71.9 191,72.7 193,72.9 195,73.7 197,73.2 199,74.4 201,73.9 203,73.5 205,27.1 207,30.5 209,29 211,31.1 213,35.3 215,36.2 217,38.9 219,39.3 221,41.4 223,40.4 225,41.2 227,41.3 229,43.4 231,44.4 233,45.1 235,46.2 237,47.2 239,48.5 241,49.1 243,49.9 245,50.3 247,49.9 249,49.5 251,50.5 253,51.8 255,52.8 257,52.5 259,52.6 261,53 263,53.4 265,53.5 267,54.8 269,55.4 271,55.7 273,54.7 275,54.6 277,55.5 279,56.8 281,57.3 283,57.4 285,57.3 287,57.3 289,58.1 291,58.8 293,60.6 295,60.1 297,60.2 299,59.8 301,60.4 303,60.2 305,59.7 307,60.2 309,61.2 311,61.8 313,62.4 315,62.9 317,63.4 319,63.2 321,63 323,63.3 325,63.9 327,64.2 329,64.3 331,64.1 333,63.7 335,63.3 337,63.5"/><polyline points="73,68 75,68.2 77,68.5 79,68.6 81,69.2 83,68.8 85,68.4 87,68.3 89,68.3 91,68.8 93,69.3 95,69.6 97,70.4 99,70.1 101,70.3 103,69.7 105,69.7 107,70.1 109,70.4 111,71.4 113,71.7 115,72 117,71.4 119,70.8 121,70.7 123,70.6 125,71.6 127,71.8 129,72.9 131,73 133,73.5 135,73 137,73 139,73.1 141,73.5 143,73.2 145,73.3 147,74 149,74.4 151,74.2 153,73 155,72.6 157,73.3 159,73.7 161,74.5 163,74.8 165,75.9 167,75.5 169,75.3 171,74.7 173,75.3 175,75.2 177,75.1 179,75.6 181,75.8 183,76 185,76 187,76.2 189,76.3 191,76 193,76.5 195,76.6 197,76.4 199,75.3 201,74.9 203,73.9 205,31.2 207,36.5 209,34.6 211,36 213,37.7 215,40.2 217,41.5 219,43.2 221,43.9 223,44.8 225,44.3 227,45.1 229,46.7 231,48.7 233,49.7 235,49.8 237,49.6 239,49.8 241,50.8 243,50.9 245,51.9 247,52.9 249,54.1 251,54.8 253,54.5 255,54.4 257,54.4 259,55.6 261,57 263,57.5 265,57.9 267,57.7 269,58.8 271,58.9 273,59.2 275,59.3 277,59.1 279,59.3 281,58.8 283,59.5 285,60.2 287,61.1 289,61.2 291,62.1 293,62.3 295,62.5 297,62.8 299,63.8 301,64.5 303,63.7 305,63.2 307,63.6 309,64.6 311,65.7 313,65.2 315,65.7 317,65.1 319,66.4 321,66.3 323,67.2 325,66.6 327,66.3 329,65.7 331,65.9 333,66.3 335,67.4 337,67.7"/><polyline points="73,68.3 75,68.4 77,68.1 79,69.5 81,69.9 83,70.6 85,70 87,69.1 89,68.7 91,68.5 93,69.8 95,70.4 97,70.7 99,70.5 101,71.4 103,71.5 105,71.4 107,70.7 109,71 111,71.4 113,71.9 115,73.2 117,72.7 119,72.6 121,72 123,72.9 125,73 127,72.9 129,73.6 131,73.6 133,73.8 135,73.5 137,73.9 139,74 141,74.6 143,74.7 145,75 147,74.6 149,74.2 151,73.9 153,73.5 155,74.2 157,74.3 159,74.4 161,74.6 163,75.3 165,75.1 167,75.8 169,75.7 171,76.6 173,76.4 175,76.6 177,76.4 179,77.1 181,76.6 183,77 185,76.4 187,76.5 189,76.6 191,76.5 193,78.2 195,77.9 197,77.7 199,76.8 201,77.2 203,75.9 205,34 207,38.5 209,38.2 211,40 213,41.8 215,43.1 217,44.3 219,44.5 221,45.3 223,46.2 225,47.1 227,47.8 229,47.8 231,49.8 233,51.8 235,52.9 237,52.9 239,52.3 241,53.7 243,54.3 245,55.1 247,54.9 249,55.4 251,55.4 253,56.2 255,56.2 257,57.3 259,57.5 261,58.7 263,58.9 265,59.7 267,59.1 269,59.7 271,59.5 273,60.4 275,60.5 277,61.4 279,60.7 281,61.1 283,60.3 285,62.2 287,61.4 289,62 291,61 293,63 295,63.2 297,64.4 299,63.7 301,63.7 303,63.8 305,64.7 307,65.8 309,66.7 311,66.5 313,66.8 315,66.4 317,67 319,68.2 321,68.8 323,68.9 325,67.9 327,67.6 329,68.4 331,68.4 333,68.5 335,68 337,68.6"/><polyline points="73,64.1 75,64.4 77,64 79,64.7 81,64.5 83,64.6 85,66 87,66 89,65.4 91,65.3 93,66.5 95,67.2 97,66 99,66.1 101,66.4 103,68 105,67.5 107,67.6 109,67.1 111,67.9 113,68.9 115,68.3 117,67.4 119,67.7 121,68.6 123,68.5 125,67.9 127,68.2 129,68.9 131,68.8 133,68.9 135,68.8 137,69.3 139,69.3 141,69.5 143,69.4 145,70.4 147,70.8 149,70.9 151,70.7 153,70.8 155,71.4 157,71.5 159,72.2 161,72.4 163,72.3 165,71.5 167,71.4 169,71.7 171,72 173,71.1 175,70.2 177,70.5 179,71.6 181,72.8 183,72.2 185,72.4 187,71.9 189,72.7 191,72.5 193,72.5 195,72.2 197,71.1 199,71 201,70.4 203,70.8 205,25.7 207,33.3 209,32 211,33.3 213,34.5 215,35.7 217,38.2 219,39.6 221,40.4 223,41.2 225,41.7 227,42.6 229,43.7 231,45.5 233,46.5 235,46.9 237,45.7 239,46.5 241,47.1 243,47.7 245,48.5 247,49.6 249,50.8 251,51.1 253,50.8 255,51.8 257,51.7 259,52.4 261,53.3 263,54.4 265,55.2 267,54.6 269,54.4 271,54.6 273,55.2 275,55.6 277,56.1 279,56.8 281,58.1 283,57.6 285,57 287,56.2 289,57.7 291,58.7 293,60.1 295,59.6 297,59.1 299,59.1 301,59.9 303,60.3 305,60.7 307,61.2 309,62 311,61.7 313,60.8 315,60.9 317,61.6 319,62.7 321,62.9 323,62.7 325,63.4 327,63.7 329,64.3 331,63.7 333,63.7 335,63.9 337,64.4"/><polyline points="73,62.2 75,62.8 77,63.5 79,64.4 81,64.1 83,64.1 85,63.2 87,63.2 89,64.1 91,64.9 93,65.6 95,65.5 97,65.5 99,65.3 101,65.3 103,65.7 105,66.2 107,66.5 109,66.4 111,66.2 113,66 115,65.8 117,66.6 119,66 121,66.4 123,67.1 125,67.9 127,67.7 129,66.9 131,67.7 133,68.2 135,68.6 137,68.3 139,68.3 141,69.4 143,69.5 145,69.6 147,68.3 149,68.5 151,69 153,69.6 155,69.6 157,69 159,69 161,69 163,69.5 165,68.9 167,68.9 169,68.8 171,69.5 173,69.3 175,69.7 177,69.8 179,70.1 181,69.9 183,69.6 185,70.5 187,69.9 189,70.1 191,69.3 193,70.1 195,70.7 197,71.1 199,71.2 201,70.5 203,70.8 205,25.4 207,32.5 209,29.5 211,30.2 213,31.9 215,34.1 217,36.4 219,37.5 221,38.2 223,39.8 225,40.2 227,41.6 229,41.7 231,42.9 233,43.5 235,45.2 237,46.1 239,47.4 241,47.8 243,48.3 245,47.4 247,48.2 249,48.4 251,50 253,50 255,50 257,50.1 259,50.9 261,52.4 263,52.8 265,52.6 267,52.9 269,53.2 271,54.7 273,54.5 275,54.9 277,54.8 279,55.8 281,55.9 283,56.5 285,56.1 287,57.6 289,57.2 291,57 293,57 295,57.8 297,59.6 299,60.4 301,60.6 303,60 305,59.5 307,59.4 309,59.4 311,59.8 313,59.2 315,59.8 317,60.2 319,62.4 321,62.9 323,63 325,62.4 327,61.8 329,62 331,61.3 333,62.5 335,63.1 337,64"/><polyline points="73,62.7 75,63.1 77,63.4 79,62.9 81,62.6 83,62.7 85,63.6 87,63.7 89,63.5 91,63.7 93,63.9 95,64.9 97,64.7 99,65.6 101,66 103,66.4 105,66.5 107,65.6 109,65.3 111,65.4 113,66.5 115,67.5 117,68.3 119,68 121,67.6 123,67.2 125,67.3 127,67.3 129,66.6 131,67.2 133,66.9 135,67.7 137,66.9 139,67.9 141,67.4 143,68.4 145,67.4 147,67.8 149,68 151,68.4 153,68.8 155,68.2 157,67.7 159,67.9 161,68.4 163,69 165,69.2 167,68.8 169,69 171,68.9 173,69 175,70.4 177,69.9 179,70.6 181,70.2 183,70.1 185,69.2 187,69.1 189,69.8 191,70.7 193,71 195,71.2 197,70.6 199,69 201,69.1 203,68.5 205,23 207,29.4 209,28.1 211,30.6 213,32.7 215,35.5 217,35.9 219,36.7 221,37.2 223,38.7 225,39 227,40.1 229,41 231,42.8 233,43.4 235,44.9 237,45.5 239,45.2 241,45.1 243,45.6 245,47.7 247,48.5 249,49 251,48.8 253,49.6 255,50 257,50.4 259,50.2 261,51 263,51.5 265,51.5 267,51.9 269,52.2 271,53.3 273,53.6 275,54.7 277,55.4 279,55.4 281,55.1 283,54.5 285,55.8 287,56.4 289,57.8 291,57.4 293,56.7 295,57.1 297,57.6 299,58.8 301,58.5 303,59.1 305,59.5 307,59.2 309,59.7 311,59.5 313,60.2 315,60.7 317,61.6 319,61.9 321,60.7 323,60.6 325,61.2 327,62.1 329,61.7 331,61.4 333,61.2 335,61.9 337,62.3"/><polyline points="73,67.5 75,67.7 77,67.7 79,68 81,68 83,68.9 85,69.3 87,70 89,69.1 91,69.2 93,68.4 95,68.7 97,69.3 99,71.1 101,71.7 103,71.7 105,71 107,70.5 109,70.3 111,70.7 113,70.8 115,71.4 117,70.9 119,70.6 121,70 123,69.8 125,70.1 127,71.1 129,71.9 131,72.7 133,72.8 135,73.6 137,73.4 139,73.6 141,73.4 143,73.7 145,73.5 147,72.8 149,72.6 151,72.5 153,73.4 155,73.7 157,73.8 159,74.1 161,74.9 163,75.4 165,75.6 167,75 169,74.7 171,74.4 173,74.5 175,74.6 177,75.2 179,75.4 181,75.3 183,74.9 185,75.8 187,76.3 189,76.7 191,75.9 193,75.7 195,75 197,75.2 199,76 201,75.8 203,75.8 205,31.9 207,37.3 209,35.5 211,37.8 213,39.5 215,39.6 217,41.2 219,42 221,45.1 223,45.9 225,47 227,45.8 229,46.3 231,46.6 233,48.5 235,49.6 237,51 239,50.9 241,51.3 243,52.3 245,52.7 247,52.8 249,53 251,53.5 253,54.4 255,55.1 257,55.6 259,56.5 261,56.3 263,57.6 265,58.2 267,58.7 269,58.3 271,57.8 273,58.4 275,59.3 277,59.4 279,60.1 281,59.4 283,60 285,59.2 287,61 289,61.7 291,62.9 293,62.1 295,62.8 297,62.2 299,62.8 301,63.5 303,64.6 305,64.9 307,64.5 309,64.7 311,64.9 313,65.3 315,66 317,66.4 319,66.1 321,66.4 323,66.5 325,67.4 327,67.8 329,67.8 331,66.5 333,66.6 335,67.3 337,68.3"/><polyline points="73,61.7 75,62.2 77,62.8 79,63.3 81,63.2 83,64.4 85,64.7 87,64.8 89,64.2 91,65.1 93,65.8 95,66.2 97,65 99,64.4 101,64.9 103,65.3 105,66.2 107,66.3 109,66.9 111,67 113,67.2 115,66.8 117,66.6 119,67.5 121,67.5 123,67.6 125,67.2 127,67.8 129,67.8 131,66.9 133,67.3 135,68.3 137,69.6 139,69.5 141,69.6 143,68.7 145,68.9 147,68.2 149,68.9 151,69.2 153,70.1 155,69.7 157,70 159,69.5 161,69.6 163,69.1 165,68.7 167,69.3 169,69.6 171,70.3 173,70.6 175,70.4 177,70.6 179,69.9 181,70.2 183,69.9 185,70.4 187,70.4 189,71 191,70.5 193,70 195,69.9 197,70.8 199,71.5 201,71.9 203,71.6 205,26.5 207,31.7 209,29.1 211,30 213,31.5 215,33.9 217,36.4 219,38.1 221,39 223,40.4 225,41.1 227,41.9 229,42.4 231,43.1 233,43.5 235,44.6 237,45.7 239,46.7 241,47 243,48.4 245,48.8 247,49.5 249,49.2 251,49.5 253,50.1 255,51.2 257,52.5 259,53.1 261,53 263,53 265,53.6 267,53.6 269,53.7 271,53.7 273,54.5 275,55.2 277,55.8 279,54.9 281,55.6 283,56.7 285,58.5 287,58.2 289,57.2 291,57 293,57.1 295,58.1 297,58.1 299,59.3 301,59.8 303,59.5 305,59.5 307,59 309,59.5 311,59.4 313,59.9 315,61.2 317,61 319,61.8 321,62.5 323,63.7 325,63.7 327,63 329,62.4 331,62.6 333,63 335,64 337,63.9"/><polyline points="73,72.2 75,72.9 77,72.3 79,71.9 81,71.4 83,71.8 85,72.7 87,72.9 89,74 91,74.5 93,75.1 95,74.5 97,74.3 99,74.5 101,74.4 103,74.5 105,74.6 107,75.3 109,75.9 111,76.3 113,76 115,75.6 117,75 119,75.7 121,75.4 123,76.3 125,76.3 127,77.2 129,76.9 131,76.3 133,76.8 135,76.9 137,78.1 139,77.8 141,78.2 143,78.5 145,78.6 147,79 149,77.8 151,78.1 153,77.6 155,78.2 157,78 159,78.4 161,79.1 163,78.5 165,78.5 167,77.7 169,79 171,78.9 173,79.5 175,79 177,79.5 179,79.9 181,80 183,79.8 185,79 187,79.3 189,79.7 191,80.1 193,80.5 195,79.5 197,79 199,78 201,78.5 203,78.5 205,39.8 207,43.6 209,42.3 211,43.3 213,43.8 215,44 217,46.9 219,47.8 221,49.3 223,50 225,51.7 227,51.9 229,51.8 231,52.8 233,54.6 235,55.1 237,55.6 239,55.7 241,57.1 243,57.9 245,58.3 247,57.8 249,58 251,59.4 253,60.6 255,61 257,61.6 259,61.3 261,62 263,61.2 265,62 267,62 269,63.2 271,63.2 273,63.3 275,62.4 277,63.3 279,63.7 281,64.8 283,64.6 285,64.9 287,65.5 289,66.2 291,66.9 293,67.1 295,67.3 297,66.8 299,67.3 301,67.8 303,69.1 305,68.2 307,67.8 309,66.9 311,67.6 313,68.9 315,70.2 317,70.8 319,70.6 321,71 323,71.1 325,71.4 327,71.3 329,70.8 331,70.7 333,71.4 335,72.2 337,72.5"/><polyline points="73,64.5 75,65.1 77,65.4 79,65.4 81,64 83,64 85,63.9 87,64.5 89,65.3 91,66.5 93,66.6 95,66.8 97,66.9 99,67.5 101,67.7 103,67 105,67 107,66.3 109,66.7 111,67.7 113,67.9 115,68 117,67.5 119,68.2 121,68.7 123,69.5 125,69.3 127,69.1 129,68.7 131,69.1 133,69.4 135,69.8 137,70.7 139,71 141,71 143,70.9 145,71 147,70.8 149,69.9 151,70.4 153,71.1 155,71.5 157,71.5 159,71.9 161,72.4 163,72 165,71.6 167,71.4 169,72.3 171,72.4 173,72.2 175,71.8 177,71.3 179,71.7 181,71.7 183,72.7 185,72.4 187,72.5 189,72 191,72.1 193,72.6 195,72.9 197,73.5 199,72.7 201,72.9 203,71.3 205,26.4 207,31.8 209,32 211,33.9 213,35.6 215,37.3 217,39.1 219,40.9 221,42 223,42.9 225,43.1 227,43.5 229,44 231,45.3 233,46.6 235,48.2 237,48.5 239,48.1 241,48.3 243,49 245,50.6 247,51.1 249,51.7 251,52 253,52.4 255,52.8 257,53.6 259,54.8 261,55.5 263,55.3 265,54.7 267,55.1 269,55.3 271,56.2 273,56.1 275,56.4 277,56.6 279,57.3 281,58.2 283,58.8 285,58.4 287,57.8 289,57.3 291,58 293,59 295,60.1 297,60.5 299,60.7 301,60.5 303,60.5 305,60.2 307,60.5 309,61.9 311,62.2 313,63.2 315,63.5 317,64.2 319,63.9 321,63.4 323,63.7 325,64.2 327,64.6 329,65.2 331,65.6 333,66 335,65.9 337,65.6"/><polyline points="73,64.7 75,65 77,65.1 79,65.4 81,66.3 83,66 85,66.2 87,65.7 89,65.5 91,65.7 93,65.2 95,65.7 97,66.1 99,67 101,68 103,68.5 105,69.1 107,69 109,68.7 111,68.9 113,68.6 115,68.7 117,69 119,69.6 121,70.1 123,69.9 125,70.1 127,69.6 129,69.4 131,68.8 133,69.5 135,69.4 137,70.6 139,70.9 141,70.9 143,70.5 145,69.9 147,70.4 149,70.7 151,71.4 153,70.7 155,70.5 157,70.7 159,71.7 161,72.4 163,71.8 165,72 167,71.4 169,72.1 171,72.1 173,72.8 175,72.6 177,72.6 179,72 181,71.8 183,72 185,72.5 187,72.5 189,72.1 191,72.2 193,73.5 195,74.3 197,74.6 199,73.3 201,72.7 203,71.9 205,28.5 207,34.2 209,32.6 211,34.9 213,36.9 215,38.5 217,39 219,40.7 221,41.6 223,43.7 225,44.1 227,44.5 229,44.8 231,44.8 233,46.4 235,47.4 237,49 239,49.7 241,50.1 243,50.4 245,50.7 247,51.1 249,52.2 251,52.5 253,52.8 255,52.3 257,52.6 259,52.4 261,53.2 263,53.7 265,54.7 267,54.5 269,54.8 271,54.9 273,55.5 275,57.2 277,58.3 279,58.9 281,57.7 283,57.7 285,57.3 287,58.6 289,58.8 291,59.7 293,59.7 295,59.8 297,59.5 299,60.1 301,60.1 303,60.6 305,60.5 307,61.1 309,62 311,62.8 313,63.4 315,63.6 317,63.5 319,64 321,63.4 323,63.8 325,63.3 327,63.7 329,63.8 331,64.2 333,65.1 335,65.8 337,66"/><polyline points="73,60 75,60.4 77,61.2 79,60.7 81,60 83,59.3 85,59.7 87,60.8 89,61.1 91,60.9 93,60.9 95,60.7 97,60.8 99,61.5 101,63.1 103,63.4 105,63.6 107,62.8 109,62.7 111,61.4 113,62.1 115,62.4 117,64.2 119,64.1 121,64.5 123,63.1 125,63.7 127,63.6 129,64.3 131,63.1 133,63.7 135,64.3 137,65 139,64.9 141,64.8 143,65.5 145,65.6 147,66.2 149,65.9 151,65.7 153,65 155,64.3 157,64.3 159,65 161,66.1 163,66.2 165,66.1 167,65.3 169,65.7 171,65.8 173,66.9 175,66.9 177,67.1 179,67.7 181,67.9 183,67.9 185,66.7 187,66.3 189,66.3 191,67 193,67.9 195,67.5 197,67.4 199,67.5 201,68.3 203,67.6 205,17.7 207,24.7 209,24.2 211,27.4 213,28.6 215,31.3 217,32.9 219,34.6 221,34 223,34.9 225,35 227,36.5 229,37.6 231,38.7 233,40.5 235,41 237,41.9 239,42 241,42.6 243,43.6 245,44.4 247,45.3 249,46.5 251,46.8 253,47.4 255,46.7 257,46.4 259,46.5 261,47.1 263,48 265,49 267,48.5 269,48.6 271,48 273,49.8 275,50.4 277,51.2 279,50.7 281,51.6 283,52 285,52.8 287,52.1 289,53 291,53.4 293,54.8 295,55.1 297,55.2 299,55.3 301,55.4 303,56 305,56.3 307,56.3 309,56.3 311,56.9 313,57.5 315,57.9 317,58.6 319,58 321,58.1 323,58.3 325,58.9 327,58.6 329,58.7 331,59.3 333,59.7 335,59.6 337,59.5"/><polyline points="73,62 75,62 77,62.3 79,62.4 81,62.4 83,63 85,63.3 87,64.2 89,64.2 91,63.9 93,63.3 95,63.5 97,64.8 99,65.7 101,65.8 103,65.7 105,65.1 107,65.9 109,65.6 111,66.5 113,66.5 115,66.7 117,66.7 119,66.2 121,66.4 123,66.8 125,68.9 127,69.3 129,69.1 131,67.3 133,67.6 135,67.1 137,67.3 139,67.2 141,67.5 143,68.5 145,68.9 147,69.2 149,68.6 151,67.8 153,67.6 155,68.1 157,68.9 159,69.6 161,69.7 163,69.4 165,69.5 167,68.9 169,69.3 171,69.8 173,70.9 175,70.9 177,70.3 179,70.4 181,71.4 183,71 185,70.4 187,70 189,71 191,71 193,71.2 195,70.7 197,71.9 199,71.8 201,71.8 203,70.1 205,24.1 207,30.7 209,29.2 211,30.5 213,31.2 215,33.1 217,34.3 219,35.8 221,37 223,38.3 225,39.7 227,40.9 229,41.9 231,42.3 233,43.4 235,43.7 237,44.1 239,44.7 241,46.4 243,48.1 245,48.4 247,48.2 249,48.3 251,49.1 253,49.7 255,50 257,49.7 259,49.9 261,50.9 263,52 265,52.4 267,52 269,52 271,53 273,53.4 275,53.9 277,53.2 279,53.5 281,54.1 283,55.6 285,56 287,55.9 289,56.2 291,56.8 293,57.3 295,57.5 297,58 299,59 301,59.4 303,59.4 305,59.3 307,59.3 309,59.3 311,59.2 313,59.9 315,60 317,61 319,61 321,61.8 323,61.9 325,62.2 327,62.9 329,62.7 331,62.7 333,62.3 335,63.4 337,63.6"/><polyline points="73,67.1 75,66.9 77,67.5 79,67.9 81,69.2 83,68.7 85,69.2 87,68.7 89,69.3 91,69 93,68.9 95,69.3 97,69.9 99,69.7 101,70.4 103,70 105,71.4 107,71.2 109,72 111,71.8 113,72.2 115,71.9 117,71.5 119,71.5 121,71.9 123,73.2 125,72.3 127,72.1 129,71.8 131,72.2 133,72.4 135,72.9 137,74.1 139,74 141,73.8 143,73.9 145,74.6 147,74.3 149,74.1 151,73.5 153,73.3 155,73.6 157,74.1 159,75.1 161,74.8 163,74 165,73.2 167,73.6 169,74.8 171,75 173,74.7 175,75.2 177,75.1 179,75.8 181,75.2 183,75.1 185,75.4 187,74.7 189,74.9 191,74.6 193,75.5 195,76.2 197,76 199,75.9 201,76.4 203,75.6 205,33.9 207,36.5 209,34.9 211,36.8 213,39 215,40.8 217,41.9 219,43.4 221,43.7 223,44.9 225,45 227,45.9 229,46.7 231,47.5 233,48.5 235,50.2 237,51.4 239,52.8 241,52.6 243,53.3 245,53.8 247,54.8 249,56 251,56.1 253,56.1 255,55.5 257,54.6 259,54.4 261,54.8 263,56.8 265,57.6 267,58.4 269,59 271,59.4 273,59.9 275,60.4 277,61.1 279,60.5 281,60.7 283,60.8 285,61.4 287,61.2 289,61.4 291,62.4 293,63 295,64 297,64.1 299,63.8 301,63.6 303,64 305,64.5 307,66 309,65.8 311,66 313,65.6 315,66.2 317,66.7 319,66.4 321,66.5 323,67.1 325,67.7 327,67.6 329,67.6 331,67.8 333,68.5 335,67.3 337,67.1"/><polyline points="73,62.6 75,62.8 77,63.8 79,64.5 81,64.5 83,64.2 85,65 87,65 89,65.3 91,65.4 93,66 95,65 97,64.6 99,64.4 101,65.6 103,66.1 105,66.7 107,66.8 109,66.9 111,67 113,67.3 115,67.2 117,67.3 119,67.2 121,66.9 123,67 125,66.8 127,66.6 129,67.3 131,67.8 133,68.6 135,68 137,68.3 139,68.5 141,68.7 143,68.4 145,68.9 147,68.7 149,69.7 151,68.4 153,68.3 155,68.4 157,69.4 159,69.7 161,69.5 163,69.2 165,69.7 167,68.5 169,68.9 171,68.7 173,70.1 175,70.9 177,70.9 179,71.5 181,70.9 183,70.4 185,68.5 187,69.7 189,70.7 191,71.7 193,70.6 195,70.2 197,71.2 199,71.4 201,72.8 203,71.3 205,23.9 207,29.4 209,28.2 211,31.4 213,33.5 215,35.2 217,37.9 219,38.5 221,39.3 223,40 225,40.3 227,42 229,43 231,44.3 233,45 235,45.8 237,46.3 239,47.1 241,47.3 243,48.4 245,48.1 247,48.8 249,49.3 251,49.9 253,50.1 255,50 257,51.2 259,51.4 261,52.3 263,53.1 265,54.1 267,53.4 269,53 271,53.8 273,54.8 275,55.6 277,55.8 279,56.5 281,56.2 283,55.9 285,55.9 287,56.5 289,57.3 291,58 293,58.2 295,58.3 297,58.6 299,58.2 301,58.1 303,57.9 305,58.9 307,59.5 309,60 311,60 313,60.7 315,61.2 317,61.1 319,61 321,60.6 323,62.5 325,62.4 327,63 329,62.4 331,62.7 333,63.1 335,64 337,64.2"/><polyline points="73,66.7 75,66.4 77,67 79,67 81,67.9 83,67.1 85,67.4 87,67.4 89,67.7 91,68.4 93,68.7 95,68.9 97,68.3 99,68.6 101,69.3 103,69.6 105,69.9 107,70.2 109,69.7 111,69.2 113,68.5 115,69.1 117,70 119,70.8 121,70.5 123,70 125,70.2 127,70.6 129,70.8 131,70.7 133,70.3 135,70.8 137,70.9 139,72 141,71.5 143,71.1 145,70.8 147,71.4 149,71.8 151,72.2 153,72.9 155,73.5 157,73.3 159,72.4 161,72.7 163,73 165,73.9 167,73.9 169,73.9 171,73.4 173,73 175,73 177,72.8 179,72.7 181,73.5 183,73.8 185,73.9 187,73.5 189,73.2 191,74 193,73.4 195,73.7 197,73.4 199,73.6 201,74 203,73.6 205,30.4 207,35.3 209,32.7 211,35 213,36.4 215,38.5 217,40.7 219,42.4 221,44 223,44.7 225,44.5 227,44.5 229,45.1 231,46 233,47.5 235,48.3 237,49.6 239,49.3 241,49.9 243,50.5 245,51.4 247,52 249,51.6 251,52.8 253,52.7 255,53.1 257,52.6 259,53.1 261,54.6 263,55 265,55.8 267,55.6 269,57.2 271,57.6 273,59.1 275,58.2 277,58.6 279,57.8 281,58.8 283,59.2 285,59.3 287,58.9 289,58.6 291,58.9 293,59.4 295,59.9 297,60.2 299,60.8 301,61.7 303,62.1 305,62.2 307,62.3 309,63 311,63.2 313,63.7 315,64.4 317,65.2 319,65 321,65.7 323,66.4 325,66.5 327,65.9 329,65.9 331,65.9 333,66.3 335,66.1 337,66.5"/><polyline points="73,62.9 75,62.8 77,62.4 79,64 81,65 83,66.4 85,65.8 87,65.8 89,66 91,66.5 93,66.6 95,66 97,65.9 99,65.6 101,65.6 103,65.2 105,65.8 107,66.8 109,66.9 111,67.5 113,67.8 115,68.3 117,67.7 119,67.2 121,67.9 123,68.1 125,67.8 127,67.7 129,67.2 131,67.8 133,68.3 135,69.3 137,69.7 139,69.6 141,69.9 143,69.7 145,69.4 147,69.1 149,69.1 151,70 153,70.8 155,71.1 157,70.5 159,69.7 161,69.6 163,70.5 165,71 167,71.2 169,70.5 171,70.8 173,71 175,71.4 177,71.2 179,71.9 181,71.9 183,72.6 185,72.5 187,72.7 189,72.5 191,72.1 193,71.8 195,71.5 197,71.2 199,71.6 201,71.6 203,71.5 205,26.4 207,30.4 209,29.2 211,29.6 213,32.9 215,34 217,36.8 219,38.8 221,39.6 223,40.7 225,40.7 227,41.2 229,42.1 231,43.2 233,44.8 235,45.2 237,47.2 239,47.9 241,48 243,47 245,47.7 247,48.8 249,49.8 251,50 253,50.8 255,51 257,51.3 259,51.2 261,51.6 263,52.9 265,53.8 267,54.1 269,54.2 271,54.4 273,55.7 275,55.8 277,56.3 279,56.1 281,56.4 283,56.6 285,56.7 287,57.3 289,57.8 291,58.4 293,59.4 295,59.4 297,59.4 299,60.2 301,60.2 303,60.5 305,60.3 307,61.1 309,61.5 311,61.5 313,62 315,62.5 317,62.6 319,62.6 321,62.4 323,62.6 325,62.7 327,62.5 329,63.1 331,64 333,65.2 335,65.6 337,65.1"/><polyline points="73,63.2 75,63.3 77,63.6 79,63.7 81,64.2 83,63.8 85,64.4 87,63.9 89,64.2 91,64.2 93,65.1 95,65.6 97,65.4 99,65 101,64.6 103,64.8 105,64.8 107,65.1 109,65.7 111,65.6 113,65.5 115,66 117,66.3 119,66.3 121,66.8 123,67.9 125,67.8 127,66.8 129,66.6 131,66.9 133,67.5 135,67.3 137,68.1 139,67.4 141,66.8 143,66.2 145,67.7 147,68.6 149,68.6 151,68.5 153,68.9 155,69.6 157,69.4 159,69.4 161,70.1 163,70.4 165,70.5 167,70.1 169,70 171,69.6 173,69.8 175,69.9 177,70.3 179,70.7 181,71.1 183,71.6 185,70.7 187,70.8 189,70.4 191,70.7 193,70.3 195,71.1 197,71.7 199,71.7 201,70.7 203,69.7 205,23.2 207,31.1 209,29.2 211,30.2 213,30.9 215,33.4 217,36.2 219,38.1 221,40.2 223,41.1 225,41.1 227,40 229,40.9 231,42.6 233,44.3 235,45.7 237,46.1 239,47.4 241,47.7 243,47.9 245,47.6 247,47.5 249,47.8 251,48.7 253,50 255,51.9 257,52.2 259,52.2 261,51.3 263,52.2 265,52.8 267,53.4 269,53.6 271,54 273,53.9 275,54.3 277,54.5 279,55.4 281,55.3 283,56.3 285,57.4 287,58.6 289,57.8 291,57.3 293,57.3 295,57.6 297,57.9 299,57.2 301,58.7 303,59.7 305,60.9 307,60.6 309,60.3 311,60.2 313,60.6 315,60.8 317,61.7 319,61.5 321,61.7 323,61.9 325,62.3 327,63 329,62.6 331,62 333,62.2 335,62 337,63"/><polyline points="73,66.6 75,66.9 77,67.9 79,68.9 81,68.5 83,68.8 85,68.4 87,68.9 89,68.4 91,69 93,69.7 95,70 97,70.5 99,70.6 101,70.4 103,69.8 105,69.6 107,70.2 109,71 111,70.5 113,71.2 115,71.5 117,72.4 119,71.7 121,71.5 123,71.5 125,72.4 127,72.6 129,73.2 131,72.9 133,73.7 135,72.6 137,72.5 139,72.3 141,72.7 143,73.6 145,73 147,73.7 149,73.2 151,73.6 153,73.7 155,74.2 157,74.3 159,75.2 161,75.4 163,75.3 165,74.9 167,75.3 169,76.3 171,76.8 173,76.2 175,76.2 177,76.1 179,76.6 181,76.3 183,74.7 185,74.5 187,75.3 189,75.9 191,76 193,75.4 195,76.5 197,77.4 199,76.5 201,76.2 203,75.2 205,33.2 207,37.8 209,37 211,39.9 213,41.4 215,40.4 217,41.4 219,42.8 221,45 223,46 225,47.9 227,48.4 229,48.6 231,48.2 233,49.1 235,50.4 237,50.8 239,51.9 241,52.7 243,52.8 245,53 247,53.7 249,54.7 251,55.7 253,56.3 255,56.4 257,56.5 259,57.4 261,58.9 263,59.1 265,59 267,58.4 269,58.2 271,58.4 273,59.1 275,60.3 277,60.4 279,60.8 281,60.7 283,61.3 285,61.9 287,62.4 289,62.9 291,62.1 293,62.2 295,62.8 297,64.6 299,65.3 301,65 303,64 305,64.4 307,65 309,65.2 311,65.6 313,65.7 315,66.8 317,66.3 319,66.6 321,66 323,67.3 325,67.4 327,67.7 329,67.8 331,68.5 333,68.9 335,69.4 337,69"/><polyline points="73,63.4 75,62.6 77,63.1 79,62.8 81,63.9 83,63.3 85,63.6 87,63.4 89,63.6 91,63.5 93,63.6 95,64.8 97,64.6 99,65 101,64.4 103,65.1 105,65.9 107,66.5 109,66.5 111,66.3 113,66.1 115,66.7 117,67.2 119,67.2 121,66.2 123,66.9 125,67.6 127,68.7 129,68.1 131,67.7 133,67.3 135,67.2 137,67.5 139,67.8 141,67.5 143,67.5 145,68.1 147,68.6 149,68.8 151,67.9 153,68.1 155,68.2 157,68.6 159,68.1 161,68.5 163,68.7 165,69.7 167,69.5 169,70.2 171,69.9 173,69.6 175,69.5 177,69.6 179,70.5 181,70.5 183,70.5 185,70.7 187,71.4 189,72 191,72.1 193,71.9 195,72 197,72 199,71.9 201,71.5 203,70.5 205,25.9 207,31.7 209,30.4 211,30.6 213,32.2 215,34.2 217,35.7 219,36.2 221,37.4 223,38.3 225,40 227,40.5 229,42.4 231,44.1 233,45.2 235,45.5 237,45 239,45.2 241,46 243,46.3 245,47.3 247,47.8 249,49.6 251,49.9 253,50.3 255,50.2 257,50.5 259,50.2 261,50.9 263,52.2 265,53.3 267,53.8 269,53.1 271,54 273,53.9 275,55 277,54.8 279,55.1 281,55.5 283,55.8 285,56.6 287,56.8 289,57.1 291,57.2 293,57.6 295,57.8 297,58.3 299,58.1 301,58 303,58 305,58.4 307,59.3 309,60.4 311,60.2 313,60.5 315,59.4 317,59.9 319,59.9 321,60.2 323,60.1 325,60.5 327,61.6 329,62.5 331,62.4 333,63.4 335,63.5 337,64"/></g>
<g fill="none" stroke="#333" stroke-opacity="0.18" stroke-width="0.9" stroke-linejoin="round"><polyline points="208,35.2 210,36.2 212,37.5 214,38.7 216,40.6 218,42.1 220,42.7 222,43.8 224,44.5 226,45 228,44.9 230,46 232,47.1 234,48.4 236,49.1 238,49.8 240,49.9 242,50.5 244,51.4 246,52.7 248,53.6 250,54 252,54.4 254,54.7 256,54.9 258,55.6 260,56 262,56.7 264,57.1 266,57.2 268,57 270,57.2 272,57.3 274,58.1 276,58.1 278,58.8 280,59.2 282,59.2 284,59.3 286,59.7 288,60 290,60 292,60 294,60.4 296,60.9 298,61.6 300,62.7 302,63.3 304,63.6 306,63.6 308,64 310,63.8 312,63.9 314,63.8 316,64.1 318,64 320,64 322,64.2 324,64.1 326,64.6 328,64.9 330,65.5 332,65.6 334,66 336,66.1"/><polyline points="208,34.6 210,35.2 212,36.2 214,38.2 216,39.9 218,42.2 220,43.2 222,44.5 224,45.5 226,46 228,46.8 230,47.7 232,48.5 234,49.1 236,49.5 238,49.8 240,50.3 242,50.5 244,51.7 246,52.5 248,53.3 250,53.3 252,53.8 254,54.1 256,54.6 258,54.6 260,54.8 262,55.1 264,55.8 266,56.9 268,57.6 270,58.3 272,58.3 274,58.4 276,58 278,58.3 280,58.2 282,58.7 284,59.4 286,60.3 288,60.9 290,60.8 292,60.8 294,60.7 296,61 298,61.9 300,62.7 302,62.9 304,62.9 306,62.7 308,63.1 310,63.1 312,63.4 314,63.8 316,64.4 318,64.4 320,64.5 322,64.3 324,64.9 326,64.9 328,65.4 330,65.3 332,65.6 334,65.6 336,65.9"/><polyline points="208,33.8 210,34.9 212,36.4 214,37.7 216,39.4 218,40.6 220,41.9 222,42.9 224,43.7 226,43.8 228,44.2 230,45.2 232,45.7 234,46.6 236,47 238,48.1 240,48.2 242,49.1 244,49.5 246,50.6 248,50.8 250,51.2 252,51.5 254,51.5 256,52.1 258,52.5 260,53.4 262,54 264,54.5 266,55.4 268,55.8 270,55.9 272,55.5 274,55.5 276,56.2 278,56.5 280,56.8 282,57.6 284,58.1 286,58.6 288,58.4 290,58.6 292,59.4 294,60 296,60.6 298,59.7 300,60 302,60.2 304,61.9 306,62.1 308,61.7 310,61.5 312,61.6 314,61.8 316,61.7 318,62.4 320,63.4 322,64 324,63.7 326,64.2 328,63.9 330,64.3 332,63.4 334,64.3 336,64.5"/><polyline points="208,36.9 210,38 212,39.1 214,39.9 216,41.8 218,43.8 220,45.3 222,46 224,46.5 226,47.6 228,48.3 230,49 232,49.2 234,49.6 236,50.2 238,51 240,52 242,52.8 244,53.6 246,54.4 248,55.1 250,55.6 252,55.9 254,56.2 256,56.5 258,56.3 260,57.1 262,56.9 264,58.1 266,58.1 268,59.2 270,59.3 272,59.3 274,59.6 276,60 278,60.7 280,60.7 282,61.3 284,61.9 286,62.2 288,61.7 290,61.6 292,61.9 294,63.4 296,63.9 298,64.2 300,64.3 302,64.4 304,64.7 306,64.7 308,64.5 310,65.1 312,65.4 314,66 316,65.6 318,65.7 320,66.5 322,66.9 324,66.7 326,66.5 328,66.4 330,66.2 332,66.1 334,66.6 336,67.5"/><polyline points="208,35.5 210,36.5 212,37.9 214,39 216,40.9 218,43.1 220,44.6 222,45.6 224,45 226,44.8 228,45 230,46.9 232,47.7 234,49.2 236,50 238,50.9 240,51.1 242,51.5 244,52.1 246,52.8 248,53.3 250,53.7 252,53.7 254,54.2 256,54.7 258,55.7 260,55.8 262,57 264,57.3 266,57.7 268,57.5 270,58 272,58.5 274,58.5 276,58.5 278,59.5 280,59.7 282,60.2 284,59.9 286,60.7 288,60.7 290,60.9 292,61.6 294,62.2 296,62.3 298,62.8 300,62.5 302,63.3 304,63.2 306,64.2 308,64.4 310,65 312,64.8 314,65.2 316,65.3 318,66.2 320,65.9 322,66.4 324,66.1 326,66.5 328,66.1 330,66.3 332,66 334,65.9 336,65.9"/><polyline points="208,37 210,38 212,40 214,41 216,42.8 218,44.4 220,45.2 222,46.1 224,47.2 226,48.2 228,49.1 230,49.7 232,50.2 234,50.2 236,51.1 238,52.1 240,53.1 242,53.7 244,54.5 246,55.2 248,55.9 250,56.2 252,55.9 254,55.8 256,55.9 258,57.1 260,57.3 262,57.7 264,57.6 266,58.2 268,58.7 270,59.7 272,60.3 274,60.7 276,60.8 278,60.9 280,61.2 282,62 284,61.4 286,61.7 288,61.6 290,63.1 292,63.1 294,63.5 296,63.7 298,64.2 300,63.7 302,63.6 304,63.7 306,64.8 308,64.9 310,66.2 312,66.3 314,66.5 316,66 318,65.8 320,66.4 322,67.4 324,67.8 326,68.2 328,67.6 330,67.9 332,68.6 334,68.6 336,68.6"/><polyline points="208,37.6 210,38.3 212,39.1 214,41.3 216,43.2 218,45.2 220,46.1 222,47.3 224,48.1 226,48.3 228,49.1 230,49.5 232,51.1 234,51.7 236,52.5 238,52.8 240,53.6 242,53.8 244,54.3 246,54.3 248,55.3 250,56 252,56.6 254,57.3 256,57.3 258,58.5 260,58.8 262,58.9 264,58.4 266,58.5 268,59.2 270,59.9 272,60.8 274,61.2 276,61.5 278,61.7 280,61.9 282,62.3 284,62.8 286,63.4 288,63.4 290,63 292,62.9 294,63.4 296,63.5 298,63.9 300,64.3 302,65.1 304,65.2 306,65.9 308,66.8 310,67.3 312,67.4 314,67.6 316,67.6 318,68.2 320,67.8 322,68.3 324,67.3 326,67.8 328,67.7 330,68.2 332,68.7 334,69.3 336,69.5"/><polyline points="208,35.8 210,37.2 212,38 214,39.7 216,41 218,42.9 220,43.8 222,44.6 224,45.1 226,45.7 228,46.4 230,47 232,47.6 234,48.4 236,49.5 238,50.4 240,51.3 242,51.7 244,52.2 246,52.3 248,52.2 250,52.7 252,53 254,54 256,54 258,55.2 260,55.5 262,56.3 264,56.3 266,56.7 268,56.4 270,57.1 272,57.9 274,59 276,59.8 278,60.1 280,60.3 282,60 284,60.3 286,60.4 288,60.4 290,61.4 292,61.2 294,61.9 296,61.7 298,62.7 300,62.6 302,62.6 304,62.7 306,63 308,63.3 310,63.6 312,64 314,64.5 316,64.5 318,65.1 320,64.9 322,65.6 324,65.7 326,66.1 328,65.8 330,65.7 332,65.6 334,66.1 336,66.6"/></g>
<line x1="204.6" y1="8" x2="204.6" y2="80" stroke="#888" stroke-width="0.8"/>
<polyline points="73.5,65 90,66.6 112,68.5 140,70.5 160,71.6 180,72.7 196,73.4 201,73.2 203.3,72.4 204.2,70.5 204.6,40 204.8,26.5 205.2,27.5 205.8,34.5 206.5,33.2 208.2,30.5 210,32 214.7,35.5 218,38.5 222.9,41.2 228.6,42.8 235.2,46.1 250,50.6 265,53.6 279,56.1 294,58.7 308,60.9 322,62.7 336,64.1" fill="none" stroke="#d030d8" stroke-width="1.8" stroke-linejoin="round"/>
</g>
<g clip-path="url(#clipB)">
<polygon points="73,127.5 75,127.5 77,127.5 79,127.5 81,127.5 83,127.5 85,127.5 87,127.5 89,127.5 91,127.5 93,127.5 95,127.5 97,127.5 99,127.5 101,127.5 103,127.5 105,127.5 107,127.5 109,127.5 111,127.5 113,127.5 115,127.5 117,127.5 119,127.5 121,127.5 123,127.5 125,127.5 127,127.5 129,127.5 131,127.5 133,127.5 135,127.5 137,127.5 139,127.5 141,127.5 143,127.5 145,127.5 147,127.5 149,127.5 151,127.5 153,127.5 155,127.5 157,127.5 159,127.5 161,127.5 163,127.5 165,127.5 167,127.5 169,127.5 171,127.5 173,127.5 175,127.5 177,127.5 179,127.5 181,127.5 183,127.5 185,127.5 187,127.5 189,127.5 191,127.5 193,127.5 195,127.5 197,127.5 199,127.5 201,127.5 203,127.5 205,104 207,108.8 209,110.2 211,111.4 213,112.2 215,113 217,113.8 219,114.6 221,115.2 223,115.8 225,116.2 227,116.8 229,117.2 231,117.8 233,118.2 235,118.8 237,119.2 239,119.8 241,120.1 243,120.4 245,120.7 247,121 249,121.3 251,121.6 253,121.9 255,122.1 257,122.4 259,122.7 261,123 263,123.3 265,123.6 267,123.9 269,124.1 271,124.2 273,124.3 275,124.4 277,124.6 279,124.7 281,124.8 283,124.9 285,125.1 287,125.2 289,125.3 291,125.4 293,125.6 295,125.7 297,125.8 299,125.9 301,126 303,126.1 305,126.1 307,126.2 309,126.2 311,126.3 313,126.4 315,126.4 317,126.5 319,126.5 321,126.6 323,126.6 325,126.7 327,126.8 329,126.8 331,126.9 333,126.9 335,127 335,150 333,150 331,150 329,150 327,150 325,150 323,150 321,150 319,150 317,150 315,150 313,150 311,150 309,150 307,150 305,150 303,150 301,150 299,150 297,150 295,150 293,150 291,150 289,150 287,150 285,150 283,150 281,150 279,150 277,150 275,150 273,150 271,150 269,150 267,150 265,150 263,150 261,150 259,150 257,150 255,150 253,150 251,150 249,150 247,150 245,150 243,150 241,150 239,150 237,150 235,150 233,150 231,150 229,150 227,150 225,150 223,150 221,150 219,150 217,150 215,150 213,150 211,150 209,150 207,150 205,150 203,150 201,150 199,150 197,150 195,150 193,150 191,150 189,150 187,150 185,150 183,150 181,150 179,150 177,150 175,150 173,150 171,150 169,150 167,150 165,150 163,150 161,150 159,150 157,150 155,150 153,150 151,150 149,150 147,150 145,150 143,150 141,150 139,150 137,150 135,150 133,150 131,150 129,150 127,150 125,150 123,150 121,150 119,150 117,150 115,150 113,150 111,150 109,150 107,150 105,150 103,150 101,150 99,150 97,150 95,150 93,150 91,150 89,150 87,150 85,150 83,150 81,150 79,150 77,150 75,150 73,150" fill="#b8f2f5" fill-opacity="1.0" filter="url(#b2)"/>
<path d="M208 100.5h1m0 3h1m-6 1h1m0 1h1m16 0h1m-3 1h1m-8 1h1m-7 1h1m9 0h1m11 0h1m-24 1h1m9 0h1m-11 2h1m2 0h1m1 0h1m1 0h1m0 0h1m8 0h1m-18 1h1m1 0h1m9 0h1m0 0h1m15 0h1m-31 1h1m12 0h1m0 0h1m10 0h1m-17 1h1m-5 1h1m1 0h1m2 0h1m8 0h1m1 0h1m11 0h1m-18 1h1m3 0h1m2 0h1m5 0h1m4 0h1m7 0h1m-41 1h1m8 0h1m6 0h1m8 0h1m1 0h1m10 0h1m7 0h1m-40 1h1m2 0h1m12 0h1m2 0h1m2 0h1m0 0h1m9 0h1m1 0h1m0 0h1m5 0h1m2 0h1m21 0h1m-67 1h1m10 0h1m0 0h1m5 0h1m8 0h1m0 0h1m2 0h1m4 0h1m-45 1h1m17 0h1m3 0h1m8 0h1m4 0h1m1 0h1m2 0h1m0 0h1m5 0h1m2 0h1m4 0h1m-53 1h1m14 0h1m11 0h1m0 0h1m23 0h1m2 0h1m4 0h1m3 0h1m7 0h1m3 0h1m37 0h1m-105 1h1m2 0h1m6 0h1m4 0h1m2 0h1m2 0h1m2 0h1m13 0h1m1 0h1m22 0h1m0 0h1m2 0h1m20 0h1m-122 1h1m15 0h1m7 0h1m22 0h1m5 0h1m9 0h1m5 0h1m9 0h1m4 0h1m0 0h1m0 0h1m5 0h1m17 0h1m4 0h1m1 0h1m18 0h1m-117 1h1m13 0h1m23 0h1m6 0h1m3 0h1m6 0h1m5 0h1m1 0h1m0 0h1m0 0h1m0 0h1m0 0h1m3 0h1m1 0h1m5 0h1m1 0h1m10 0h1m31 0h1m-222 1h1m56 0h1m59 0h1m14 0h1m3 0h1m0 0h1m4 0h1m6 0h1m0 0h1m3 0h1m0 0h1m1 0h1m5 0h1m1 0h1m7 0h1m18 0h1m9 0h1m8 0h1m5 0h1m2 0h1m-258 1h1m20 0h1m22 0h1m39 0h1m16 0h1m55 0h1m1 0h1m17 0h1m7 0h1m4 0h1m5 0h1m5 0h1m1 0h1m4 0h1m2 0h1m4 0h1m0 0h1m8 0h1m3 0h1m0 0h1m7 0h1m2 0h1m1 0h1m9 0h1m-255 1h1m20 0h1m6 0h1m10 0h1m48 0h1m1 0h1m23 0h1m1 0h1m35 0h1m12 0h1m8 0h1m7 0h1m9 0h1m7 0h1m15 0h1m1 0h1m3 0h1m1 0h1m1 0h1m8 0h1m9 0h1m13 0h1m-256 1h1m4 0h1m6 0h1m10 0h1m6 0h1m11 0h1m16 0h1m32 0h1m67 0h1m1 0h1m4 0h1m2 0h1m2 0h1m1 0h1m23 0h1m1 0h1m9 0h1m2 0h1m5 0h1m2 0h1m0 0h1m6 0h1m0 0h1m1 0h1m10 0h1m9 0h1m-257 1h1m30 0h1m2 0h1m6 0h1m5 0h1m14 0h1m9 0h1m24 0h1m4 0h1m5 0h1m6 0h1m5 0h1m59 0h1m0 0h1m8 0h1m2 0h1m4 0h1m7 0h1m0 0h1m8 0h1m7 0h1m1 0h1m9 0h1m5 0h1m3 0h1m-243 1h1m8 0h1m18 0h1m3 0h1m2 0h1m8 0h1m5 0h1m3 0h1m9 0h1m1 0h1m6 0h1m0 0h1m22 0h1m8 0h1m0 0h1m11 0h1m16 0h1m10 0h1m1 0h1m6 0h1m3 0h1m9 0h1m1 0h1m12 0h1m8 0h1m10 0h1m5 0h1m3 0h1m8 0h1m0 0h1m2 0h1m12 0h1m3 0h1m2 0h1m2 0h1m-261 1h1m0 0h1m1 0h1m9 0h1m0 0h1m7 0h1m2 0h1m0 0h1m0 0h1m4 0h1m9 0h1m7 0h1m0 0h1m10 0h1m4 0h1m1 0h1m11 0h1m0 0h1m2 0h1m9 0h1m4 0h1m3 0h1m2 0h1m15 0h1m3 0h1m62 0h1m17 0h1m10 0h1m1 0h1m6 0h1m1 0h1m7 0h1m4 0h1m2 0h1m0 0h1m0 0h1m7 0h1m-258 1h1m0 0h1m6 0h1m1 0h1m2 0h1m2 0h1m2 0h1m4 0h1m10 0h1m4 0h1m0 0h1m0 0h1m12 0h1m0 0h1m1 0h1m2 0h1m3 0h1m13 0h1m3 0h1m3 0h1m0 0h1m0 0h1m2 0h1m0 0h1m0 0h1m1 0h1m0 0h1m7 0h1m2 0h1m14 0h1m0 0h1m63 0h1m11 0h1m13 0h1m0 0h1m0 0h1m16 0h1m4 0h1m4 0h1m6 0h1m2 0h1m2 0h1m-248 1h1m0 0h1m5 0h1m3 0h1m6 0h1m6 0h1m9 0h1m9 0h1m2 0h1m4 0h1m3 0h1m2 0h1m6 0h1m8 0h1m4 0h1m0 0h1m7 0h1m1 0h1m0 0h1m16 0h1m82 0h1m5 0h1m10 0h1m5 0h1m1 0h1m21 0h1m8 0h1m-254 1h1m11 0h1m6 0h1m9 0h1m1 0h1m3 0h1m8 0h1m6 0h1m4 0h1m3 0h1m3 0h1m5 0h1m1 0h1m3 0h1m4 0h1m1 0h1m6 0h1m4 0h1m3 0h1m1 0h1m1 0h1m2 0h1m2 0h1m9 0h1m3 0h1m7 0h1m67 0h1m18 0h1m12 0h1m5 0h1m0 0h1m0 0h1m0 0h1m8 0h1m2 0h1m2 0h1m-261 1h1m2 0h1m3 0h1m7 0h1m5 0h1m3 0h1m3 0h1m0 0h1m12 0h1m4 0h1m4 0h1m6 0h1m6 0h1m2 0h1m7 0h1m1 0h1m0 0h1m0 0h1m3 0h1m11 0h1m1 0h1m8 0h1m0 0h1m5 0h1m2 0h1m0 0h1m0 0h1m3 0h1m0 0h1m85 0h1m4 0h1m3 0h1m14 0h1m8 0h1m8 0h1m-247 1h1m2 0h1m4 0h1m1 0h1m1 0h1m4 0h1m0 0h1m20 0h1m2 0h1m0 0h1m1 0h1m17 0h1m1 0h1m4 0h1m3 0h1m4 0h1m5 0h1m0 0h1m5 0h1m4 0h1m5 0h1m3 0h1m2 0h1m3 0h1m4 0h1m95 0h1m2 0h1m7 0h1m0 0h1m10 0h1m6 0h1m6 0h1m-259 1h1m1 0h1m2 0h1m6 0h1m2 0h1m0 0h1m3 0h1m5 0h1m6 0h1m2 0h1m0 0h1m18 0h1m0 0h1m0 0h1m1 0h1m9 0h1m1 0h1m9 0h1m0 0h1m11 0h1m19 0h1m2 0h1m0 0h1m111 0h1m18 0h1m6 0h1m-251 1h1m9 0h1m12 0h1m7 0h1m8 0h1m3 0h1m3 0h1m15 0h1m3 0h1m11 0h1m9 0h1m3 0h1m0 0h1m4 0h1m2 0h1m9 0h1m0 0h1m3 0h1m1 0h1m-130 1h1m11 0h1m0 0h1m3 0h1m3 0h1m7 0h1m5 0h1m1 0h1m6 0h1m5 0h1m4 0h1m3 0h1m2 0h1m1 0h1m6 0h1m0 0h1m2 0h1m4 0h1m10 0h1m23 0h1m6 0h1m2 0h1m1 0h1m111 0h1m-234 1h1m16 0h1m7 0h1m7 0h1m16 0h1m1 0h1m4 0h1m7 0h1m12 0h1m28 0h1m103 0h1m-214 1h1m7 0h1m11 0h1m8 0h1m15 0h1m29 0h1m23 0h1m8 0h1m-35 1h1m-71 1h1m22 0h1m56 0h1m17 0h1m-104 1h1m33 0h1m8 2h1" stroke="#86e7ee" stroke-opacity="1.0" stroke-width="1" fill="none" shape-rendering="crispEdges"/>
<path d="M209 100.5h1m2 3h1m19 1h1m-29 1h1m28 0h1m-19 1h1m9 1h1m-21 1h1m0 0h1m1 0h1m1 0h1m7 1h1m-3 1h1m13 0h1m5 1h1m-18 1h1m0 1h1m1 0h1m17 0h1m10 0h1m-35 1h1m5 0h1m4 0h1m-5 1h1m4 0h1m-3 1h1m19 0h1m21 0h1m-33 1h1m3 0h1m13 0h1m7 0h1m1 0h1m-35 1h1m13 0h1m2 0h1m12 0h1m6 0h1m3 0h1m-120 1h1m72 0h1m7 0h1m7 0h1m11 0h1m7 0h1m1 0h1m1 0h1m10 0h1m-39 1h1m46 0h1m13 0h1m5 0h1m15 0h1m-67 1h1m0 0h1m16 0h1m6 0h1m15 0h1m-154 1h1m101 0h1m2 0h1m8 0h1m1 0h1m15 0h1m10 0h1m8 0h1m34 0h1m-88 1h1m50 0h1m5 0h1m2 0h1m13 0h1m1 0h1m7 0h1m-235 1h1m36 0h1m51 0h1m95 0h1m3 0h1m0 0h1m18 0h1m5 0h1m2 0h1m19 0h1m-259 1h1m4 0h1m22 0h1m0 0h1m0 0h1m96 0h1m41 0h1m6 0h1m2 0h1m16 0h1m0 0h1m1 0h1m4 0h1m9 0h1m9 0h1m0 0h1m23 0h1m-216 1h1m10 0h1m17 0h1m24 0h1m139 0h1m24 0h1m5 0h1m-241 1h1m2 0h1m24 0h1m6 0h1m1 0h1m15 0h1m48 0h1m1 0h1m1 0h1m89 0h1m17 0h1m2 0h1m0 0h1m1 0h1m10 0h1m0 0h1m0 0h1m2 0h1m-252 1h1m10 0h1m9 0h1m6 0h1m6 0h1m0 0h1m1 0h1m8 0h1m23 0h1m0 0h1m4 0h1m3 0h1m22 0h1m102 0h1m4 0h1m17 0h1m5 0h1m-233 1h1m24 0h1m3 0h1m6 0h1m5 0h1m11 0h1m24 0h1m25 0h1m15 0h1m113 0h1m16 0h1m0 0h1m-256 1h1m11 0h1m19 0h1m14 0h1m23 0h1m0 0h1m38 0h1m2 0h1m-114 1h1m9 0h1m5 0h1m2 0h1m21 0h1m22 0h1m2 0h1m17 0h1m4 0h1m7 0h1m1 0h1m4 0h1m3 0h1m5 0h1m85 0h1m-188 1h1m24 0h1m12 0h1m0 0h1m3 0h1m1 0h1m17 0h1m10 0h1m5 0h1m0 0h1m128 0h1m-222 1h1m32 0h1m25 0h1m16 0h1m4 0h1m12 0h1m9 0h1m-104 1h1m2 0h1m53 0h1m13 0h1m-71 1h1m0 0h1m27 0h1m7 0h1m2 0h1m30 0h1m15 0h1m10 0h1m4 0h1m-85 1h1m48 0h1m12 0h1m-67 2h1" stroke="#ccf7f9" stroke-opacity="1.0" stroke-width="1" fill="none" shape-rendering="crispEdges"/>
<line x1="74" y1="120.5" x2="335" y2="120.5" stroke="#9c9cd6" stroke-width="0.7" stroke-dasharray="1.2 1.2"/>
<polygon points="73,157 73,133 75,133 75,138 76,139.2 76,140.5 77,140.5 77,142.5 78,142.5 78,139.5 80,139.5 80,140.4 82,140.4 82,140.7 84,140.7 84,141.1 85,141.1 85,141.7 86,141.7 86,142.1 88,142.1 88,139.5 90,139.5 90,141.5 92,141.5 92,141.1 94,141.1 94,141.4 95,141.4 95,140.1 96,140.1 96,142.5 98,142.5 98,141.1 99,141.1 99,142 101,142 101,140.9 103,140.9 103,142.6 105,142.6 105,142 107,142 107,140.7 109,140.7 109,140.3 110,140.3 110,142.7 112,142.7 112,140.4 114,140.4 114,142.2 115,142.2 115,141.2 117,141.2 117,142.6 119,142.6 119,140 120,140 120,139.3 121,139.3 121,141.6 123,141.6 123,142.7 124,142.7 124,142.7 126,142.7 126,142.8 128,142.8 128,142.6 129,142.6 129,139.3 131,139.3 131,142.3 132,142.3 132,141.4 134,141.4 134,141.4 135,141.4 135,140.9 137,140.9 137,139 138,139 138,142.3 139,142.3 139,138.8 141,138.8 141,140.5 142,140.5 142,139.3 144,139.3 144,141.4 145,141.4 145,137.9 146,137.9 146,138.9 147,138.9 147,142 148,142 148,142.1 150,142.1 150,141.9 151,141.9 151,141 153,141 153,139.5 154,139.5 154,141.6 156,141.6 156,142.4 158,142.4 158,141.3 160,141.3 160,139.4 161,139.4 161,142.2 162,142.2 162,141.1 164,141.1 164,142 166,142 166,139.6 168,139.6 168,142.4 170,142.4 170,141.9 172,141.9 172,137.9 173,137.9 173,142.1 174,142.1 174,141.3 176,141.3 176,140.1 178,140.1 178,140.3 180,140.3 180,142.7 181,142.7 181,141.6 182,141.6 182,140.5 184,140.5 184,140.7 186,140.7 186,142.8 187,142.8 187,140.7 189,140.7 189,141.5 191,141.5 191,138.9 193,138.9 193,139 195,139 195,142.5 197,142.5 197,141.5 198,141.5 198,141.6 200,141.6 200,140.4 201,140.4 201,142.8 202,142.8 202,141.8 204,141.8 204,142.6 204,99.8 205.2,99.8 205.6,107.4 206,112 206,114.4 207,114.4 207,119 208,119 208,120.6 210,120.6 210,120.8 211,120.8 211,119.7 212,119.7 212,121.9 213,121.9 213,122 214,122 214,122 216,122 216,126.6 218,126.6 218,127.5 220,127.5 220,129.2 221,129.2 221,130 222,130 222,127 223,127 223,128.2 224,128.2 224,128.9 226,131 226,123.8 227.3,123.8 227.3,131 228,128.9 228,130.1 230,130.1 230,131.9 232,131.9 232,129.1 233,129.1 233,133.2 234,133.2 234,132 236,132 236,135 238,135 238,130 239,130 239,135.9 241,135.9 241,133 242,133 242,136.2 244,136.2 244,136.9 246,136.9 246,136.7 247,136.7 247,137.1 248,137.1 248,137.1 249,137.1 249,134.7 251,134.7 251,138.4 252,138.4 252,138.6 253,138.6 253,137.6 255,137.6 255,136.6 256,136.6 256,136.3 258,136.3 258,138.2 260,138.2 260,138.4 262,138.4 262,138.4 263,138.4 263,139 265,139 265,139.4 266,139.4 266,138.7 267,138.7 267,139.9 268,139.9 268,139.9 269,139.9 269,139.3 271,139.3 271,137.5 272,137.5 272,135.4 274,135.4 274,139.8 275,139.8 275,139.3 276,139.3 276,138.5 278,138.5 278,139.6 280,139.6 280,135.8 281,135.8 281,140.2 282,140.2 282,137.3 284,137.3 284,139.2 286,139.2 286,139.7 288,139.7 288,137.6 289,137.6 289,138.7 290,138.7 290,137.2 292,137.2 292,136.7 293,136.7 293,140.7 295,140.7 295,136.7 297,136.7 297,139.3 298,139.3 298,138.5 300,138.5 300,137.5 301,137.5 301,139.4 302,139.4 302,140.2 303,140.2 303,139.8 304,139.8 304,140.4 305,140.4 305,136.1 307,136.1 307,140.2 309,140.2 309,140.4 311,140.4 311,138.7 312,138.7 312,140.6 314,140.6 314,137.7 316,137.7 316,140.7 318,140.7 318,140.5 319,140.5 319,139.1 320,139.1 320,138.7 321,138.7 321,139.9 322,139.9 322,139.4 323,139.4 323,140.7 325,140.7 325,140.4 327,140.4 327,135.7 328,135.7 328,140.8 330,140.8 330,140.4 331,140.4 331,140 333,140 333,140.2 334,140.2 334,140.1 336,140.1 336,157" fill="#0a0ae8"/>
<line x1="204.6" y1="84" x2="204.6" y2="100" stroke="#888" stroke-width="0.8"/>
<line x1="204.6" y1="146" x2="204.6" y2="156" stroke="#c8c8ff" stroke-width="0.8"/>
</g>
<g clip-path="url(#clipC)">
<polygon points="73,167 75,166.9 77,166.8 79,166.7 81,166.6 83,166.5 85,166.4 87,166.3 89,166.2 91,166.1 93,166 95,165.9 97,165.7 99,165.6 101,165.5 103,165.4 105,165.2 107,165.1 109,165 111,164.9 113,164.7 115,164.6 117,164.5 119,164.4 121,164.2 123,164.1 125,164 127,163.8 129,163.7 131,163.6 133,163.5 135,163.3 137,163.2 139,163.1 141,162.9 143,162.8 145,162.8 147,162.7 149,162.6 151,162.4 153,162.3 155,162.2 157,162.2 159,162.1 161,161.9 163,161.7 165,161.6 167,161.4 169,161.2 171,161 173,160.8 175,160.6 177,160.5 179,160.3 181,160.1 183,160 185,159.8 187,159.7 189,159.6 191,159.4 193,159.3 195,159.2 197,159 199,158.9 201,158.7 203,158.6 205,166.1 207,175.7 209,176.4 211,177 213,177.3 215,177.7 217,177.4 219,176.9 221,176.2 223,175.6 225,174.8 227,174.2 229,173.6 231,173.2 233,172.8 235,172.4 237,172 239,171.6 241,171.3 243,171 245,170.7 247,170.4 249,170.1 251,169.9 253,169.7 255,169.6 257,169.5 259,169.3 261,169.2 263,169.1 265,169 267,168.9 269,168.8 271,168.8 273,168.7 275,168.6 277,168.5 279,168.4 281,168.3 283,168.2 285,168.2 287,168.1 289,168 291,167.9 293,167.8 295,167.7 297,167.6 299,167.5 301,167.4 303,167.3 305,167.2 307,167.2 309,167.1 311,166.9 313,166.8 315,166.8 317,166.7 319,166.6 321,166.4 323,166.3 325,166.2 327,166.1 329,166 331,165.9 333,165.8 335,165.7 335,195.7 333,195.8 331,195.9 329,196 327,196.1 325,196.2 323,196.3 321,196.4 319,196.6 317,196.7 315,196.8 313,196.8 311,196.9 309,197.1 307,197.2 305,197.2 303,197.3 301,197.4 299,197.5 297,197.6 295,197.7 293,197.8 291,197.9 289,198 287,198.1 285,198.2 283,198.2 281,198.3 279,198.4 277,198.5 275,198.6 273,198.7 271,198.8 269,198.8 267,198.9 265,199 263,199.1 261,199.2 259,199.3 257,199.5 255,199.6 253,199.7 251,199.9 249,200.1 247,200.4 245,200.7 243,201 241,201.3 239,201.6 237,202 235,202.4 233,202.8 231,203.2 229,203.6 227,204.2 225,204.8 223,205.6 221,206.2 219,206.9 217,207.4 215,207.7 213,207.3 211,207 209,206.4 207,205.7 205,193.1 203,185.6 201,185.7 199,185.9 197,186 195,186.2 193,186.3 191,186.4 189,186.6 187,186.7 185,186.8 183,187 181,187.1 179,187.3 177,187.5 175,187.6 173,187.8 171,188 169,188.2 167,188.4 165,188.6 163,188.7 161,188.9 159,189.1 157,189.2 155,189.2 153,189.3 151,189.4 149,189.6 147,189.7 145,189.8 143,189.8 141,189.9 139,190.1 137,190.2 135,190.3 133,190.5 131,190.6 129,190.7 127,190.8 125,191 123,191.1 121,191.2 119,191.4 117,191.5 115,191.6 113,191.7 111,191.9 109,192 107,192.1 105,192.2 103,192.4 101,192.5 99,192.6 97,192.7 95,192.9 93,193 91,193.1 89,193.2 87,193.3 85,193.4 83,193.5 81,193.6 79,193.7 77,193.8 75,193.9 73,194" fill="#e4e4e4" fill-opacity="1.0" filter="url(#b3)"/>
<polygon points="73,172 75,171.9 77,171.8 79,171.7 81,171.6 83,171.5 85,171.4 87,171.3 89,171.2 91,171.1 93,171 95,170.9 97,170.7 99,170.6 101,170.5 103,170.4 105,170.2 107,170.1 109,170 111,169.9 113,169.7 115,169.6 117,169.5 119,169.4 121,169.2 123,169.1 125,169 127,168.8 129,168.7 131,168.6 133,168.5 135,168.3 137,168.2 139,168.1 141,167.9 143,167.8 145,167.8 147,167.7 149,167.6 151,167.4 153,167.3 155,167.2 157,167.2 159,167.1 161,166.9 163,166.7 165,166.6 167,166.4 169,166.2 171,166 173,165.8 175,165.6 177,165.5 179,165.3 181,165.1 183,165 185,164.8 187,164.7 189,164.6 191,164.4 193,164.3 195,164.2 197,164 199,163.9 201,163.7 203,163.6 205,171.1 207,180.7 209,181.4 211,182 213,182.3 215,182.7 217,182.4 219,181.9 221,181.2 223,180.6 225,179.8 227,179.2 229,178.6 231,178.2 233,177.8 235,177.4 237,177 239,176.6 241,176.3 243,176 245,175.7 247,175.4 249,175.1 251,174.9 253,174.7 255,174.6 257,174.5 259,174.3 261,174.2 263,174.1 265,174 267,173.9 269,173.8 271,173.8 273,173.7 275,173.6 277,173.5 279,173.4 281,173.3 283,173.2 285,173.2 287,173.1 289,173 291,172.9 293,172.8 295,172.7 297,172.6 299,172.5 301,172.4 303,172.3 305,172.2 307,172.2 309,172.1 311,171.9 313,171.8 315,171.8 317,171.7 319,171.6 321,171.4 323,171.3 325,171.2 327,171.1 329,171 331,170.9 333,170.8 335,170.7 335,189.7 333,189.8 331,189.9 329,190 327,190.1 325,190.2 323,190.3 321,190.4 319,190.6 317,190.7 315,190.8 313,190.8 311,190.9 309,191.1 307,191.2 305,191.2 303,191.3 301,191.4 299,191.5 297,191.6 295,191.7 293,191.8 291,191.9 289,192 287,192.1 285,192.2 283,192.2 281,192.3 279,192.4 277,192.5 275,192.6 273,192.7 271,192.8 269,192.8 267,192.9 265,193 263,193.1 261,193.2 259,193.3 257,193.5 255,193.6 253,193.7 251,193.9 249,194.1 247,194.4 245,194.7 243,195 241,195.3 239,195.6 237,196 235,196.4 233,196.8 231,197.2 229,197.6 227,198.2 225,198.8 223,199.6 221,200.2 219,200.9 217,201.4 215,201.7 213,201.3 211,201 209,200.4 207,199.7 205,188.1 203,180.6 201,180.7 199,180.9 197,181 195,181.2 193,181.3 191,181.4 189,181.6 187,181.7 185,181.8 183,182 181,182.1 179,182.3 177,182.5 175,182.6 173,182.8 171,183 169,183.2 167,183.4 165,183.6 163,183.7 161,183.9 159,184.1 157,184.2 155,184.2 153,184.3 151,184.4 149,184.6 147,184.7 145,184.8 143,184.8 141,184.9 139,185.1 137,185.2 135,185.3 133,185.5 131,185.6 129,185.7 127,185.8 125,186 123,186.1 121,186.2 119,186.4 117,186.5 115,186.6 113,186.7 111,186.9 109,187 107,187.1 105,187.2 103,187.4 101,187.5 99,187.6 97,187.7 95,187.9 93,188 91,188.1 89,188.2 87,188.3 85,188.4 83,188.5 81,188.6 79,188.7 77,188.8 75,188.9 73,189" fill="#d4d4d4" fill-opacity="1.0" filter="url(#b2)"/>
<path d="M96 161.5h1m20 0h1m26 0h1m5 0h1m22 0h1m21 0h1m0 0h1m4 0h1m0 0h1m74 0h1m6 0h1m25 0h1m2 0h1m3 0h1m7 0h1m8 0h1m-243 1h1m24 0h1m7 0h1m4 0h1m9 0h1m11 0h1m0 0h1m6 0h1m5 0h1m2 0h1m2 0h1m0 0h1m10 0h1m7 0h1m5 0h1m54 0h1m11 0h1m0 0h1m28 0h1m6 0h1m30 0h1m-221 1h1m1 0h1m9 0h1m1 0h1m0 0h1m15 0h1m13 0h1m7 0h1m2 0h1m1 0h1m5 0h1m5 0h1m5 0h1m0 0h1m1 0h1m1 0h1m9 0h1m23 0h1m27 0h1m18 0h1m9 0h1m26 0h1m16 0h1m4 0h1m0 0h1m-249 1h1m4 0h1m5 0h1m11 0h1m0 0h1m0 0h1m18 0h1m1 0h1m3 0h1m6 0h1m1 0h1m0 0h1m3 0h1m1 0h1m0 0h1m4 0h1m4 0h1m2 0h1m12 0h1m1 0h1m6 0h1m1 0h1m2 0h1m2 0h1m1 0h1m0 0h1m1 0h1m0 0h1m66 0h1m12 0h1m4 0h1m10 0h1m4 0h1m13 0h1m7 0h1m5 0h1m-236 1h1m0 0h1m3 0h1m6 0h1m2 0h1m4 0h1m0 0h1m2 0h1m4 0h1m7 0h1m2 0h1m3 0h1m1 0h1m6 0h1m0 0h1m1 0h1m2 0h1m2 0h1m1 0h1m4 0h1m1 0h1m9 0h1m0 0h1m3 0h1m1 0h1m0 0h1m2 0h1m1 0h1m1 0h1m2 0h1m2 0h1m4 0h1m47 0h1m20 0h1m30 0h1m1 0h1m1 0h1m7 0h1m7 0h1m4 0h1m3 0h1m-249 1h1m5 0h1m8 0h1m0 0h1m12 0h1m1 0h1m0 0h1m13 0h1m28 0h1m0 0h1m1 0h1m2 0h1m8 0h1m5 0h1m1 0h1m9 0h1m2 0h1m4 0h1m29 0h1m26 0h1m12 0h1m12 0h1m1 0h1m17 0h1m2 0h1m7 0h1m4 0h1m6 0h1m-245 1h1m11 0h1m3 0h1m3 0h1m19 0h1m2 0h1m0 0h1m1 0h1m4 0h1m3 0h1m0 0h1m0 0h1m0 0h1m6 0h1m5 0h1m2 0h1m3 0h1m6 0h1m4 0h1m1 0h1m0 0h1m1 0h1m5 0h1m0 0h1m3 0h1m1 0h1m4 0h1m3 0h1m0 0h1m2 0h1m0 0h1m38 0h1m12 0h1m16 0h1m14 0h1m8 0h1m5 0h1m1 0h1m6 0h1m5 0h1m4 0h1m3 0h1m-245 1h1m9 0h1m3 0h1m0 0h1m7 0h1m5 0h1m2 0h1m7 0h1m9 0h1m11 0h1m1 0h1m0 0h1m1 0h1m4 0h1m8 0h1m0 0h1m2 0h1m3 0h1m0 0h1m0 0h1m3 0h1m5 0h1m1 0h1m0 0h1m8 0h1m7 0h1m4 0h1m17 0h1m6 0h1m5 0h1m45 0h1m9 0h1m5 0h1m4 0h1m0 0h1m4 0h1m3 0h1m-239 1h1m0 0h1m0 0h1m15 0h1m1 0h1m11 0h1m1 0h1m6 0h1m0 0h1m2 0h1m5 0h1m4 0h1m2 0h1m1 0h1m0 0h1m0 0h1m4 0h1m2 0h1m1 0h1m0 0h1m2 0h1m0 0h1m7 0h1m1 0h1m6 0h1m0 0h1m2 0h1m6 0h1m0 0h1m1 0h1m1 0h1m2 0h1m30 0h1m18 0h1m1 0h1m13 0h1m1 0h1m1 0h1m13 0h1m12 0h1m6 0h1m10 0h1m1 0h1m3 0h1m1 0h1m6 0h1m1 0h1m-246 1h1m3 0h1m10 0h1m10 0h1m0 0h1m0 0h1m2 0h1m1 0h1m2 0h1m1 0h1m4 0h1m5 0h1m11 0h1m3 0h1m1 0h1m3 0h1m0 0h1m0 0h1m0 0h1m4 0h1m2 0h1m0 0h1m4 0h1m3 0h1m0 0h1m0 0h1m0 0h1m1 0h1m1 0h1m1 0h1m2 0h1m0 0h1m1 0h1m1 0h1m0 0h1m3 0h1m0 0h1m13 0h1m8 0h1m14 0h1m3 0h1m5 0h1m11 0h1m1 0h1m1 0h1m2 0h1m1 0h1m1 0h1m2 0h1m5 0h1m0 0h1m16 0h1m0 0h1m0 0h1m3 0h1m18 0h1m1 0h1m0 0h1m0 0h1m3 0h1m3 0h1m0 0h1m-259 1h1m0 0h1m7 0h1m5 0h1m1 0h1m2 0h1m0 0h1m0 0h1m2 0h1m2 0h1m2 0h1m0 0h1m3 0h1m0 0h1m3 0h1m3 0h1m0 0h1m0 0h1m2 0h1m1 0h1m1 0h1m2 0h1m0 0h1m0 0h1m0 0h1m1 0h1m0 0h1m0 0h1m1 0h1m0 0h1m1 0h1m0 0h1m0 0h1m0 0h1m0 0h1m7 0h1m6 0h1m0 0h1m0 0h1m0 0h1m1 0h1m0 0h1m2 0h1m0 0h1m3 0h1m1 0h1m1 0h1m0 0h1m4 0h1m1 0h1m7 0h1m0 0h1m2 0h1m1 0h1m0 0h1m21 0h1m0 0h1m4 0h1m5 0h1m4 0h1m10 0h1m0 0h1m3 0h1m0 0h1m3 0h1m17 0h1m1 0h1m0 0h1m1 0h1m1 0h1m8 0h1m16 0h1m11 0h1m5 0h1m2 0h1m-261 1h1m2 0h1m1 0h1m10 0h1m0 0h1m1 0h1m2 0h1m1 0h1m1 0h1m0 0h1m2 0h1m1 0h1m0 0h1m10 0h1m2 0h1m0 0h1m0 0h1m0 0h1m4 0h1m0 0h1m0 0h1m0 0h1m0 0h1m0 0h1m7 0h1m2 0h1m3 0h1m1 0h1m1 0h1m0 0h1m0 0h1m1 0h1m5 0h1m2 0h1m1 0h1m1 0h1m0 0h1m0 0h1m1 0h1m1 0h1m0 0h1m3 0h1m0 0h1m2 0h1m0 0h1m0 0h1m4 0h1m0 0h1m0 0h1m2 0h1m1 0h1m14 0h1m1 0h1m1 0h1m17 0h1m6 0h1m1 0h1m0 0h1m4 0h1m14 0h1m0 0h1m0 0h1m6 0h1m1 0h1m3 0h1m0 0h1m8 0h1m11 0h1m1 0h1m2 0h1m6 0h1m2 0h1m0 0h1m1 0h1m5 0h1m4 0h1m-260 1h1m3 0h1m6 0h1m0 0h1m0 0h1m5 0h1m0 0h1m10 0h1m0 0h1m7 0h1m2 0h1m0 0h1m0 0h1m1 0h1m0 0h1m4 0h1m1 0h1m4 0h1m1 0h1m1 0h1m0 0h1m5 0h1m1 0h1m1 0h1m2 0h1m0 0h1m1 0h1m3 0h1m1 0h1m3 0h1m4 0h1m1 0h1m1 0h1m4 0h1m4 0h1m1 0h1m0 0h1m2 0h1m1 0h1m5 0h1m0 0h1m0 0h1m2 0h1m16 0h1m9 0h1m14 0h1m0 0h1m4 0h1m3 0h1m0 0h1m6 0h1m2 0h1m4 0h1m1 0h1m0 0h1m3 0h1m9 0h1m1 0h1m4 0h1m7 0h1m1 0h1m7 0h1m0 0h1m4 0h1m5 0h1m1 0h1m5 0h1m-259 1h1m2 0h1m0 0h1m0 0h1m2 0h1m0 0h1m1 0h1m0 0h1m6 0h1m2 0h1m1 0h1m2 0h1m2 0h1m1 0h1m0 0h1m5 0h1m0 0h1m1 0h1m1 0h1m1 0h1m0 0h1m3 0h1m0 0h1m0 0h1m1 0h1m0 0h1m3 0h1m1 0h1m2 0h1m0 0h1m0 0h1m1 0h1m0 0h1m5 0h1m3 0h1m2 0h1m1 0h1m0 0h1m5 0h1m0 0h1m1 0h1m4 0h1m1 0h1m1 0h1m0 0h1m9 0h1m4 0h1m0 0h1m3 0h1m1 0h1m7 0h1m11 0h1m5 0h1m2 0h1m3 0h1m7 0h1m6 0h1m1 0h1m9 0h1m5 0h1m6 0h1m5 0h1m3 0h1m2 0h1m2 0h1m1 0h1m0 0h1m2 0h1m1 0h1m5 0h1m1 0h1m9 0h1m1 0h1m3 0h1m2 0h1m2 0h1m3 0h1m-260 1h1m0 0h1m3 0h1m3 0h1m0 0h1m0 0h1m2 0h1m2 0h1m2 0h1m1 0h1m0 0h1m2 0h1m0 0h1m0 0h1m3 0h1m2 0h1m0 0h1m9 0h1m2 0h1m2 0h1m5 0h1m0 0h1m0 0h1m0 0h1m0 0h1m8 0h1m2 0h1m0 0h1m0 0h1m5 0h1m0 0h1m1 0h1m7 0h1m0 0h1m0 0h1m7 0h1m2 0h1m1 0h1m4 0h1m0 0h1m3 0h1m2 0h1m3 0h1m0 0h1m0 0h1m1 0h1m0 0h1m4 0h1m23 0h1m4 0h1m1 0h1m2 0h1m4 0h1m2 0h1m2 0h1m1 0h1m5 0h1m2 0h1m4 0h1m1 0h1m4 0h1m2 0h1m6 0h1m1 0h1m0 0h1m0 0h1m1 0h1m1 0h1m0 0h1m2 0h1m3 0h1m2 0h1m1 0h1m3 0h1m1 0h1m0 0h1m4 0h1m2 0h1m6 0h1m2 0h1m0 0h1m-259 1h1m2 0h1m1 0h1m0 0h1m1 0h1m2 0h1m1 0h1m3 0h1m6 0h1m2 0h1m0 0h1m1 0h1m2 0h1m0 0h1m6 0h1m0 0h1m1 0h1m2 0h1m1 0h1m1 0h1m0 0h1m2 0h1m3 0h1m1 0h1m2 0h1m1 0h1m6 0h1m3 0h1m8 0h1m0 0h1m0 0h1m7 0h1m3 0h1m4 0h1m2 0h1m4 0h1m5 0h1m1 0h1m3 0h1m0 0h1m22 0h1m2 0h1m8 0h1m1 0h1m1 0h1m1 0h1m5 0h1m5 0h1m2 0h1m0 0h1m1 0h1m6 0h1m0 0h1m2 0h1m3 0h1m5 0h1m6 0h1m0 0h1m5 0h1m1 0h1m2 0h1m0 0h1m2 0h1m7 0h1m4 0h1m1 0h1m2 0h1m2 0h1m0 0h1m4 0h1m-258 1h1m3 0h1m2 0h1m3 0h1m0 0h1m1 0h1m1 0h1m4 0h1m3 0h1m3 0h1m2 0h1m0 0h1m0 0h1m0 0h1m2 0h1m2 0h1m1 0h1m0 0h1m1 0h1m0 0h1m1 0h1m3 0h1m1 0h1m7 0h1m2 0h1m4 0h1m2 0h1m0 0h1m0 0h1m0 0h1m1 0h1m5 0h1m2 0h1m0 0h1m2 0h1m3 0h1m5 0h1m3 0h1m2 0h1m0 0h1m1 0h1m4 0h1m1 0h1m1 0h1m1 0h1m7 0h1m7 0h1m9 0h1m1 0h1m2 0h1m8 0h1m1 0h1m7 0h1m0 0h1m7 0h1m5 0h1m2 0h1m1 0h1m14 0h1m12 0h1m1 0h1m1 0h1m1 0h1m2 0h1m2 0h1m3 0h1m0 0h1m1 0h1m1 0h1m1 0h1m1 0h1m3 0h1m2 0h1m1 0h1m3 0h1m-261 1h1m3 0h1m1 0h1m1 0h1m1 0h1m4 0h1m0 0h1m5 0h1m0 0h1m0 0h1m0 0h1m1 0h1m0 0h1m2 0h1m0 0h1m3 0h1m0 0h1m3 0h1m4 0h1m2 0h1m4 0h1m3 0h1m2 0h1m2 0h1m0 0h1m0 0h1m3 0h1m0 0h1m4 0h1m4 0h1m2 0h1m1 0h1m1 0h1m1 0h1m5 0h1m0 0h1m6 0h1m1 0h1m0 0h1m2 0h1m4 0h1m1 0h1m1 0h1m3 0h1m0 0h1m0 0h1m0 0h1m3 0h1m0 0h1m7 0h1m3 0h1m2 0h1m6 0h1m4 0h1m10 0h1m1 0h1m8 0h1m2 0h1m3 0h1m9 0h1m0 0h1m0 0h1m0 0h1m0 0h1m3 0h1m0 0h1m5 0h1m0 0h1m4 0h1m0 0h1m1 0h1m8 0h1m5 0h1m0 0h1m6 0h1m0 0h1m1 0h1m0 0h1m2 0h1m2 0h1m4 0h1m1 0h1m-262 1h1m0 0h1m0 0h1m1 0h1m1 0h1m1 0h1m7 0h1m1 0h1m7 0h1m0 0h1m1 0h1m1 0h1m0 0h1m4 0h1m2 0h1m0 0h1m3 0h1m4 0h1m0 0h1m0 0h1m4 0h1m0 0h1m6 0h1m2 0h1m3 0h1m1 0h1m7 0h1m0 0h1m5 0h1m1 0h1m6 0h1m10 0h1m0 0h1m13 0h1m6 0h1m9 0h1m2 0h1m8 0h1m2 0h1m17 0h1m0 0h1m2 0h1m2 0h1m2 0h1m0 0h1m2 0h1m11 0h1m0 0h1m0 0h1m4 0h1m4 0h1m5 0h1m6 0h1m5 0h1m1 0h1m0 0h1m3 0h1m3 0h1m0 0h1m2 0h1m1 0h1m0 0h1m2 0h1m3 0h1m0 0h1m-256 1h1m0 0h1m0 0h1m3 0h1m3 0h1m1 0h1m0 0h1m1 0h1m0 0h1m0 0h1m1 0h1m0 0h1m6 0h1m7 0h1m1 0h1m1 0h1m7 0h1m5 0h1m6 0h1m2 0h1m0 0h1m29 0h1m1 0h1m4 0h1m0 0h1m10 0h1m0 0h1m2 0h1m0 0h1m4 0h1m2 0h1m29 0h1m0 0h1m3 0h1m9 0h1m0 0h1m2 0h1m0 0h1m1 0h1m6 0h1m0 0h1m5 0h1m0 0h1m2 0h1m4 0h1m3 0h1m2 0h1m0 0h1m0 0h1m1 0h1m0 0h1m4 0h1m10 0h1m2 0h1m0 0h1m1 0h1m1 0h1m0 0h1m3 0h1m5 0h1m5 0h1m4 0h1m-262 1h1m2 0h1m3 0h1m6 0h1m1 0h1m1 0h1m0 0h1m7 0h1m2 0h1m4 0h1m3 0h1m2 0h1m1 0h1m0 0h1m9 0h1m9 0h1m2 0h1m0 0h1m0 0h1m2 0h1m3 0h1m0 0h1m4 0h1m1 0h1m1 0h1m7 0h1m22 0h1m6 0h1m5 0h1m0 0h1m0 0h1m7 0h1m2 0h1m2 0h1m2 0h1m1 0h1m11 0h1m2 0h1m5 0h1m1 0h1m7 0h1m6 0h1m11 0h1m1 0h1m0 0h1m0 0h1m11 0h1m0 0h1m0 0h1m2 0h1m1 0h1m0 0h1m0 0h1m9 0h1m5 0h1m8 0h1m1 0h1m2 0h1m0 0h1m-256 1h1m1 0h1m0 0h1m4 0h1m0 0h1m4 0h1m4 0h1m0 0h1m0 0h1m3 0h1m2 0h1m0 0h1m3 0h1m1 0h1m2 0h1m0 0h1m1 0h1m7 0h1m2 0h1m6 0h1m6 0h1m1 0h1m0 0h1m5 0h1m4 0h1m1 0h1m5 0h1m0 0h1m6 0h1m0 0h1m13 0h1m18 0h1m0 0h1m1 0h1m2 0h1m4 0h1m2 0h1m0 0h1m1 0h1m4 0h1m5 0h1m0 0h1m1 0h1m0 0h1m1 0h1m0 0h1m4 0h1m1 0h1m1 0h1m0 0h1m7 0h1m3 0h1m0 0h1m1 0h1m7 0h1m1 0h1m0 0h1m0 0h1m2 0h1m0 0h1m3 0h1m0 0h1m2 0h1m4 0h1m0 0h1m3 0h1m5 0h1m3 0h1m2 0h1m5 0h1m0 0h1m12 0h1m0 0h1m-259 1h1m4 0h1m1 0h1m0 0h1m1 0h1m0 0h1m1 0h1m0 0h1m6 0h1m1 0h1m3 0h1m9 0h1m1 0h1m1 0h1m9 0h1m3 0h1m12 0h1m1 0h1m8 0h1m0 0h1m0 0h1m6 0h1m8 0h1m11 0h1m16 0h1m0 0h1m1 0h1m0 0h1m3 0h1m2 0h1m1 0h1m6 0h1m3 0h1m0 0h1m0 0h1m2 0h1m7 0h1m1 0h1m2 0h1m0 0h1m8 0h1m3 0h1m1 0h1m3 0h1m6 0h1m0 0h1m1 0h1m5 0h1m2 0h1m1 0h1m4 0h1m1 0h1m6 0h1m3 0h1m1 0h1m0 0h1m0 0h1m0 0h1m1 0h1m5 0h1m3 0h1m1 0h1m5 0h1m1 0h1m0 0h1m-245 1h1m0 0h1m0 0h1m2 0h1m3 0h1m0 0h1m4 0h1m0 0h1m2 0h1m1 0h1m1 0h1m8 0h1m0 0h1m5 0h1m5 0h1m0 0h1m0 0h1m2 0h1m8 0h1m11 0h1m1 0h1m0 0h1m0 0h1m10 0h1m1 0h1m24 0h1m1 0h1m2 0h1m3 0h1m0 0h1m0 0h1m2 0h1m7 0h1m0 0h1m0 0h1m0 0h1m7 0h1m2 0h1m2 0h1m1 0h1m0 0h1m6 0h1m3 0h1m4 0h1m0 0h1m0 0h1m4 0h1m1 0h1m8 0h1m4 0h1m2 0h1m4 0h1m0 0h1m0 0h1m1 0h1m8 0h1m6 0h1m1 0h1m0 0h1m0 0h1m0 0h1m9 0h1m-250 1h1m2 0h1m1 0h1m0 0h1m0 0h1m3 0h1m1 0h1m4 0h1m9 0h1m3 0h1m3 0h1m26 0h1m9 0h1m21 0h1m26 0h1m5 0h1m4 0h1m9 0h1m7 0h1m2 0h1m2 0h1m1 0h1m6 0h1m1 0h1m0 0h1m3 0h1m3 0h1m1 0h1m8 0h1m0 0h1m3 0h1m0 0h1m2 0h1m0 0h1m4 0h1m1 0h1m0 0h1m2 0h1m1 0h1m2 0h1m2 0h1m5 0h1m0 0h1m1 0h1m0 0h1m0 0h1m0 0h1m9 0h1m0 0h1m1 0h1m1 0h1m2 0h1m3 0h1m1 0h1m-254 1h1m0 0h1m9 0h1m5 0h1m0 0h1m12 0h1m1 0h1m10 0h1m14 0h1m5 0h1m68 0h1m2 0h1m3 0h1m4 0h1m2 0h1m0 0h1m2 0h1m2 0h1m0 0h1m2 0h1m2 0h1m1 0h1m0 0h1m2 0h1m6 0h1m3 0h1m1 0h1m2 0h1m6 0h1m2 0h1m12 0h1m0 0h1m3 0h1m6 0h1m1 0h1m2 0h1m0 0h1m0 0h1m9 0h1m8 0h1m1 0h1m-248 1h1m6 0h1m3 0h1m3 0h1m2 0h1m15 0h1m15 0h1m7 0h1m49 0h1m19 0h1m5 0h1m1 0h1m0 0h1m5 0h1m1 0h1m0 0h1m6 0h1m0 0h1m2 0h1m1 0h1m0 0h1m1 0h1m6 0h1m4 0h1m1 0h1m2 0h1m6 0h1m2 0h1m3 0h1m0 0h1m0 0h1m0 0h1m6 0h1m0 0h1m3 0h1m4 0h1m3 0h1m1 0h1m1 0h1m7 0h1m0 0h1m2 0h1m14 0h1m2 0h1m-251 1h1m9 0h1m6 0h1m12 0h1m15 0h1m84 0h1m2 0h1m9 0h1m0 0h1m0 0h1m13 0h1m3 0h1m7 0h1m0 0h1m2 0h1m2 0h1m2 0h1m1 0h1m0 0h1m3 0h1m7 0h1m8 0h1m0 0h1m2 0h1m0 0h1m0 0h1m4 0h1m34 0h1m4 0h1m-261 1h1m1 0h1m21 0h1m4 0h1m2 0h1m5 0h1m10 0h1m5 0h1m2 0h1m4 0h1m33 0h1m19 0h1m12 0h1m1 0h1m0 0h1m0 0h1m3 0h1m2 0h1m5 0h1m1 0h1m4 0h1m1 0h1m1 0h1m0 0h1m1 0h1m0 0h1m2 0h1m0 0h1m5 0h1m2 0h1m0 0h1m3 0h1m1 0h1m1 0h1m0 0h1m3 0h1m1 0h1m0 0h1m2 0h1m2 0h1m13 0h1m4 0h1m1 0h1m11 0h1m2 0h1m1 0h1m3 0h1m6 0h1m1 0h1m3 0h1m-246 1h1m32 0h1m13 0h1m21 0h1m53 0h1m5 0h1m6 0h1m3 0h1m3 0h1m8 0h1m8 0h1m4 0h1m9 0h1m2 0h1m2 0h1m0 0h1m8 0h1m2 0h1m0 0h1m8 0h1m2 0h1m8 0h1m6 0h1m7 0h1m3 0h1m6 0h1m2 0h1m0 0h1m2 0h1m-229 1h1m6 0h1m15 0h1m77 0h1m0 0h1m0 0h1m1 0h1m2 0h1m0 0h1m1 0h1m0 0h1m0 0h1m6 0h1m0 0h1m1 0h1m2 0h1m0 0h1m0 0h1m13 0h1m1 0h1m1 0h1m6 0h1m1 0h1m7 0h1m1 0h1m7 0h1m13 0h1m0 0h1m2 0h1m2 0h1m0 0h1m0 0h1m4 0h1m2 0h1m4 0h1m0 0h1m8 0h1m8 0h1m0 0h1m-239 1h1m3 0h1m48 0h1m61 0h1m2 0h1m6 0h1m0 0h1m1 0h1m2 0h1m5 0h1m4 0h1m9 0h1m19 0h1m1 0h1m1 0h1m3 0h1m5 0h1m3 0h1m2 0h1m9 0h1m8 0h1m2 0h1m-232 1h1m3 0h1m4 0h1m4 0h1m40 0h1m18 0h1m27 0h1m23 0h1m3 0h1m0 0h1m1 0h1m1 0h1m1 0h1m1 0h1m6 0h1m3 0h1m9 0h1m3 0h1m0 0h1m1 0h1m7 0h1m0 0h1m4 0h1m9 0h1m10 0h1m22 0h1m17 0h1m-248 1h1m87 0h1m46 0h1m1 0h1m2 0h1m10 0h1m6 0h1m8 0h1m5 0h1m2 0h1m10 0h1m2 0h1m0 0h1m9 0h1m3 0h1m1 0h1m13 0h1m4 0h1m12 0h1m0 0h1m0 0h1m2 0h1m9 0h1m-224 1h1m97 0h1m3 0h1m0 0h1m4 0h1m6 0h1m6 0h1m1 0h1m1 0h1m5 0h1m10 0h1m6 0h1m19 0h1m8 0h1m31 0h1m9 0h1m1 0h1m-127 1h1m0 0h1m1 0h1m0 0h1m11 0h1m3 0h1m0 0h1m0 0h1m7 0h1m4 0h1m2 0h1m0 0h1m8 0h1m1 0h1m8 0h1m17 0h1m8 0h1m5 0h1m5 0h1m-228 1h1m1 0h1m134 0h1m0 0h1m2 0h1m1 0h1m1 0h1m17 0h1m1 0h1m12 0h1m10 0h1m57 0h1m-195 1h1m17 0h1m58 0h1m1 0h1m7 0h1m2 0h1m1 0h1m3 0h1m4 0h1m0 0h1m38 0h1m3 0h1m5 0h1m21 0h1m-89 1h1m33 0h1m7 0h1m22 0h1m15 0h1m13 0h1m16 0h1m0 0h1m2 0h1m-182 1h1m70 0h1m8 0h1m3 0h1m2 0h1m1 0h1m1 0h1m6 0h1m40 0h1m-81 1h1m3 0h1m7 0h1m21 0h1m2 0h1m9 0h1m4 0h1m8 0h1m-50 1h1m2 0h1m5 0h1m2 0h1m13 0h1m20 0h1m3 0h1m20 0h1m-81 1h1m2 0h1m1 0h1m2 0h1m0 0h1m4 0h1m11 0h1m0 0h1m24 0h1m42 0h1m-98 1h1m64 0h1m-60 1h1m4 0h1m21 0h1m32 0h1m-59 1h1m0 0h1m-9 1h1m23 0h1m97 3h1m-116 3h1m57 0h1m-69 2h1" stroke="#c0c0c0" stroke-opacity="1.0" stroke-width="1" fill="none" shape-rendering="crispEdges"/>
<path d="M149 161.5h1m145 0h1m-103 1h1m-86 1h1m64 0h1m9 0h1m-47 1h1m36 0h1m98 0h1m-166 1h1m16 0h1m18 0h1m16 0h1m4 0h1m20 0h1m0 0h1m6 0h1m8 0h1m-90 1h1m10 0h1m4 0h1m27 0h1m13 0h1m17 0h1m5 0h1m2 0h1m1 0h1m-93 1h1m11 0h1m15 0h1m5 0h1m15 0h1m9 0h1m14 0h1m1 0h1m2 0h1m1 0h1m3 0h1m0 0h1m2 0h1m80 0h1m41 0h1m3 0h1m-219 1h1m10 0h1m11 0h1m4 0h1m24 0h1m11 0h1m2 0h1m2 0h1m1 0h1m1 0h1m6 0h1m9 0h1m68 0h1m1 0h1m37 0h1m11 0h1m-243 1h1m11 0h1m19 0h1m11 0h1m14 0h1m1 0h1m4 0h1m6 0h1m5 0h1m10 0h1m0 0h1m5 0h1m0 0h1m7 0h1m5 0h1m1 0h1m3 0h1m4 0h1m37 0h1m21 0h1m1 0h1m52 0h1m16 0h1m-255 1h1m0 0h1m8 0h1m4 0h1m29 0h1m1 0h1m0 0h1m4 0h1m15 0h1m5 0h1m2 0h1m7 0h1m7 0h1m0 0h1m2 0h1m1 0h1m6 0h1m4 0h1m2 0h1m1 0h1m0 0h1m1 0h1m97 0h1m11 0h1m1 0h1m2 0h1m5 0h1m9 0h1m0 0h1m-236 1h1m0 0h1m12 0h1m10 0h1m4 0h1m13 0h1m2 0h1m3 0h1m3 0h1m3 0h1m0 0h1m1 0h1m2 0h1m0 0h1m0 0h1m9 0h1m9 0h1m0 0h1m3 0h1m1 0h1m1 0h1m0 0h1m3 0h1m38 0h1m14 0h1m25 0h1m9 0h1m34 0h1m5 0h1m-253 1h1m7 0h1m3 0h1m7 0h1m17 0h1m4 0h1m7 0h1m5 0h1m3 0h1m2 0h1m0 0h1m7 0h1m3 0h1m6 0h1m2 0h1m1 0h1m1 0h1m3 0h1m2 0h1m5 0h1m0 0h1m0 0h1m14 0h1m4 0h1m40 0h1m20 0h1m15 0h1m9 0h1m1 0h1m0 0h1m37 0h1m-258 1h1m0 0h1m20 0h1m4 0h1m0 0h1m1 0h1m7 0h1m1 0h1m4 0h1m5 0h1m3 0h1m6 0h1m2 0h1m1 0h1m7 0h1m4 0h1m6 0h1m4 0h1m0 0h1m2 0h1m7 0h1m104 0h1m5 0h1m0 0h1m4 0h1m30 0h1m4 0h1m-259 1h1m7 0h1m9 0h1m3 0h1m2 0h1m2 0h1m1 0h1m1 0h1m11 0h1m6 0h1m0 0h1m0 0h1m1 0h1m2 0h1m0 0h1m17 0h1m1 0h1m3 0h1m7 0h1m4 0h1m0 0h1m1 0h1m8 0h1m87 0h1m32 0h1m10 0h1m0 0h1m10 0h1m2 0h1m0 0h1m3 0h1m-257 1h1m5 0h1m9 0h1m3 0h1m4 0h1m0 0h1m7 0h1m1 0h1m4 0h1m4 0h1m5 0h1m8 0h1m4 0h1m2 0h1m1 0h1m4 0h1m0 0h1m4 0h1m7 0h1m0 0h1m7 0h1m8 0h1m1 0h1m5 0h1m8 0h1m17 0h1m16 0h1m10 0h1m0 0h1m7 0h1m3 0h1m3 0h1m46 0h1m11 0h1m5 0h1m-255 1h1m4 0h1m3 0h1m8 0h1m3 0h1m5 0h1m7 0h1m2 0h1m0 0h1m2 0h1m0 0h1m11 0h1m1 0h1m9 0h1m1 0h1m11 0h1m0 0h1m2 0h1m24 0h1m3 0h1m8 0h1m28 0h1m4 0h1m4 0h1m11 0h1m1 0h1m9 0h1m2 0h1m8 0h1m0 0h1m5 0h1m0 0h1m7 0h1m2 0h1m1 0h1m2 0h1m0 0h1m10 0h1m4 0h1m0 0h1m4 0h1m3 0h1m2 0h1m-258 1h1m9 0h1m10 0h1m0 0h1m5 0h1m3 0h1m3 0h1m4 0h1m7 0h1m0 0h1m25 0h1m28 0h1m20 0h1m2 0h1m41 0h1m2 0h1m8 0h1m3 0h1m0 0h1m1 0h1m11 0h1m6 0h1m1 0h1m4 0h1m2 0h1m6 0h1m9 0h1m6 0h1m1 0h1m1 0h1m4 0h1m-252 1h1m1 0h1m2 0h1m3 0h1m8 0h1m3 0h1m21 0h1m5 0h1m7 0h1m6 0h1m23 0h1m38 0h1m25 0h1m2 0h1m6 0h1m0 0h1m0 0h1m2 0h1m1 0h1m3 0h1m4 0h1m0 0h1m2 0h1m4 0h1m3 0h1m10 0h1m1 0h1m8 0h1m12 0h1m2 0h1m1 0h1m3 0h1m8 0h1m3 0h1m-252 1h1m1 0h1m5 0h1m8 0h1m5 0h1m2 0h1m0 0h1m27 0h1m2 0h1m2 0h1m3 0h1m5 0h1m1 0h1m4 0h1m4 0h1m4 0h1m42 0h1m0 0h1m7 0h1m3 0h1m2 0h1m13 0h1m4 0h1m6 0h1m6 0h1m7 0h1m0 0h1m11 0h1m4 0h1m0 0h1m1 0h1m4 0h1m2 0h1m8 0h1m2 0h1m28 0h1m1 0h1m-260 1h1m3 0h1m4 0h1m1 0h1m3 0h1m4 0h1m6 0h1m2 0h1m5 0h1m5 0h1m2 0h1m42 0h1m4 0h1m12 0h1m42 0h1m21 0h1m9 0h1m1 0h1m14 0h1m13 0h1m9 0h1m6 0h1m5 0h1m0 0h1m2 0h1m0 0h1m4 0h1m8 0h1m4 0h1m0 0h1m-262 1h1m10 0h1m1 0h1m0 0h1m0 0h1m3 0h1m0 0h1m4 0h1m4 0h1m5 0h1m8 0h1m7 0h1m7 0h1m85 0h1m15 0h1m5 0h1m5 0h1m10 0h1m11 0h1m5 0h1m27 0h1m5 0h1m6 0h1m0 0h1m-241 1h1m0 0h1m27 0h1m1 0h1m12 0h1m83 0h1m9 0h1m1 0h1m10 0h1m1 0h1m1 0h1m12 0h1m0 0h1m6 0h1m1 0h1m9 0h1m9 0h1m1 0h1m5 0h1m2 0h1m4 0h1m14 0h1m-234 1h1m24 0h1m1 0h1m7 0h1m24 0h1m10 0h1m57 0h1m6 0h1m13 0h1m5 0h1m1 0h1m12 0h1m4 0h1m1 0h1m6 0h1m5 0h1m1 0h1m4 0h1m1 0h1m5 0h1m16 0h1m1 0h1m3 0h1m2 0h1m8 0h1m-237 1h1m25 0h1m5 0h1m16 0h1m78 0h1m0 0h1m4 0h1m9 0h1m0 0h1m0 0h1m29 0h1m9 0h1m18 0h1m1 0h1m6 0h1m3 0h1m7 0h1m5 0h1m11 0h1m2 0h1m-240 1h1m2 0h1m1 0h1m19 0h1m26 0h1m102 0h1m7 0h1m19 0h1m1 0h1m0 0h1m1 0h1m6 0h1m2 0h1m19 0h1m4 0h1m4 0h1m-101 1h1m4 0h1m0 0h1m4 0h1m9 0h1m27 0h1m16 0h1m3 0h1m10 0h1m5 0h1m2 0h1m0 0h1m6 0h1m7 0h1m7 0h1m-123 1h1m5 0h1m1 0h1m7 0h1m8 0h1m1 0h1m2 0h1m3 0h1m1 0h1m1 0h1m1 0h1m8 0h1m11 0h1m25 0h1m8 0h1m-212 1h1m114 0h1m0 0h1m0 0h1m0 0h1m0 0h1m0 0h1m2 0h1m1 0h1m5 0h1m3 0h1m3 0h1m12 0h1m7 0h1m14 0h1m4 0h1m19 0h1m34 0h1m-114 1h1m2 0h1m4 0h1m2 0h1m0 0h1m8 0h1m13 0h1m7 0h1m49 0h1m6 0h1m12 0h1m-123 1h1m7 0h1m0 0h1m3 0h1m1 0h1m7 0h1m11 0h1m8 0h1m8 0h1m1 0h1m-49 1h1m23 0h1m32 0h1m17 0h1m11 0h1m0 0h1m27 0h1m-125 1h1m23 0h1m1 0h1m72 0h1m-98 1h1m4 0h1m26 0h1m1 0h1m-155 1h1m117 0h1m22 0h1m13 0h1m-33 1h1m0 0h1m0 0h1m6 0h1m2 0h1m9 0h1m-18 1h1m-10 1h1m13 0h1m-14 2h1m14 3h1" stroke="#a4a4a4" stroke-opacity="1.0" stroke-width="1" fill="none" shape-rendering="crispEdges"/>
<polygon points="73,214.3 75,214.3 77,214.3 79,214.3 81,214.3 83,214.3 85,214.3 87,214.3 89,214.3 91,214.3 93,214.3 95,214.3 97,214.3 99,214.3 101,214.3 103,214.3 105,214.3 107,214.3 109,214.3 111,214.3 113,214.3 115,214.3 117,214.3 119,214.3 121,214.3 123,214.3 125,214.3 127,214.3 129,214.3 131,214.3 133,214.3 135,214.3 137,214.3 139,214.3 141,214.3 143,214.3 145,214.3 147,214.3 149,214.3 151,214.3 153,214.3 155,214.3 157,214.3 159,214.3 161,214.3 163,214.3 165,214.3 167,214.3 169,214.3 171,214.3 173,214.3 175,214.3 177,214.3 179,214.3 181,214.3 183,214.3 185,214.3 187,214.3 189,214.3 191,214.3 193,214.3 195,214.3 197,214.3 199,214.3 201,214.3 203,214.3 205,187.6 207,203.6 209,208.1 211,210.1 213,211.3 215,211.9 217,212.6 219,212.8 221,213.1 223,213.3 225,213.6 227,213.7 229,213.7 231,213.8 233,213.9 235,213.9 237,214 239,214.1 241,214.1 243,214.1 245,214.1 247,214.1 249,214.1 251,214.1 253,214.1 255,214.1 257,214.1 259,214.1 261,214.1 263,214.1 265,214.1 267,214.1 269,214.1 271,214.1 273,214.1 275,214.1 277,214.1 279,214.1 281,214.1 283,214.1 285,214.1 287,214.1 289,214.2 291,214.2 293,214.2 295,214.2 297,214.2 299,214.2 301,214.2 303,214.2 305,214.2 307,214.2 309,214.2 311,214.2 313,214.2 315,214.2 317,214.2 319,214.2 321,214.2 323,214.2 325,214.2 327,214.2 329,214.2 331,214.2 333,214.2 335,214.2 335,240 333,240 331,240 329,240 327,240 325,240 323,240 321,240 319,240 317,240 315,240 313,240 311,240 309,240 307,240 305,240 303,240 301,240 299,240 297,240 295,240 293,240 291,240 289,240 287,240 285,240 283,240 281,240 279,240 277,240 275,240 273,240 271,240 269,240 267,240 265,240 263,240 261,240 259,240 257,240 255,240 253,240 251,240 249,240 247,240 245,240 243,240 241,240 239,240 237,240 235,240 233,240 231,240 229,240 227,240 225,240 223,240 221,240 219,240 217,240 215,240 213,240 211,240 209,240 207,240 205,240 203,240 201,240 199,240 197,240 195,240 193,240 191,240 189,240 187,240 185,240 183,240 181,240 179,240 177,240 175,240 173,240 171,240 169,240 167,240 165,240 163,240 161,240 159,240 157,240 155,240 153,240 151,240 149,240 147,240 145,240 143,240 141,240 139,240 137,240 135,240 133,240 131,240 129,240 127,240 125,240 123,240 121,240 119,240 117,240 115,240 113,240 111,240 109,240 107,240 105,240 103,240 101,240 99,240 97,240 95,240 93,240 91,240 89,240 87,240 85,240 83,240 81,240 79,240 77,240 75,240 73,240" fill="#d2f6f8" fill-opacity="1.0" filter="url(#b2)"/>
<path d="M204 206.5h1m-1 3h1m5 0h1m-28 2h1m22 0h1m74 0h1m-95 1h1m19 0h1m0 0h1m-129 1h1m16 0h1m58 0h1m25 0h1m12 0h1m10 0h1m6 0h1m2 0h1m13 0h1m-52 1h1m27 0h1m0 0h1m0 0h1m0 0h1m13 0h1m4 0h1m0 0h1m24 0h1m6 0h1m17 0h1m19 0h1m-188 1h1m14 0h1m56 0h1m16 0h1m0 0h1m37 0h1m58 0h1m6 0h1m3 0h1m9 0h1m11 0h1m-212 1h1m1 0h1m0 0h1m8 0h1m3 0h1m12 0h1m12 0h1m47 0h1m5 0h1m1 0h1m12 0h1m25 0h1m9 0h1m7 0h1m0 0h1m1 0h1m45 0h1m0 0h1m3 0h1m-241 1h1m9 0h1m5 0h1m19 0h1m11 0h1m5 0h1m5 0h1m1 0h1m3 0h1m5 0h1m28 0h1m26 0h1m32 0h1m3 0h1m4 0h1m10 0h1m5 0h1m22 0h1m11 0h1m9 0h1m-238 1h1m10 0h1m16 0h1m8 0h1m6 0h1m5 0h1m0 0h1m8 0h1m1 0h1m5 0h1m6 0h1m0 0h1m12 0h1m3 0h1m0 0h1m8 0h1m19 0h1m5 0h1m17 0h1m0 0h1m5 0h1m25 0h1m5 0h1m6 0h1m25 0h1m9 0h1m3 0h1m12 0h1m-258 1h1m0 0h1m5 0h1m6 0h1m0 0h1m13 0h1m3 0h1m4 0h1m0 0h1m2 0h1m3 0h1m1 0h1m7 0h1m8 0h1m14 0h1m2 0h1m8 0h1m16 0h1m3 0h1m3 0h1m21 0h1m2 0h1m0 0h1m21 0h1m7 0h1m31 0h1m0 0h1m2 0h1m13 0h1m10 0h1m8 0h1m3 0h1m0 0h1m3 0h1m-251 1h1m0 0h1m4 0h1m8 0h1m11 0h1m0 0h1m7 0h1m12 0h1m3 0h1m11 0h1m0 0h1m0 0h1m0 0h1m8 0h1m3 0h1m15 0h1m3 0h1m0 0h1m0 0h1m1 0h1m5 0h1m5 0h1m4 0h1m2 0h1m19 0h1m0 0h1m10 0h1m2 0h1m19 0h1m5 0h1m3 0h1m0 0h1m1 0h1m3 0h1m6 0h1m0 0h1m1 0h1m4 0h1m3 0h1m0 0h1m7 0h1m0 0h1m2 0h1m1 0h1m1 0h1m13 0h1m2 0h1m1 0h1m0 0h1m-253 1h1m1 0h1m10 0h1m3 0h1m0 0h1m1 0h1m2 0h1m7 0h1m1 0h1m13 0h1m10 0h1m5 0h1m5 0h1m14 0h1m0 0h1m1 0h1m20 0h1m3 0h1m6 0h1m0 0h1m1 0h1m2 0h1m6 0h1m0 0h1m0 0h1m4 0h1m6 0h1m1 0h1m7 0h1m2 0h1m2 0h1m0 0h1m0 0h1m5 0h1m0 0h1m15 0h1m3 0h1m5 0h1m1 0h1m5 0h1m1 0h1m10 0h1m1 0h1m1 0h1m1 0h1m0 0h1m10 0h1m2 0h1m2 0h1m4 0h1m3 0h1m-255 1h1m0 0h1m3 0h1m5 0h1m3 0h1m1 0h1m2 0h1m3 0h1m6 0h1m0 0h1m2 0h1m3 0h1m1 0h1m17 0h1m0 0h1m10 0h1m0 0h1m0 0h1m1 0h1m3 0h1m0 0h1m0 0h1m1 0h1m0 0h1m3 0h1m0 0h1m5 0h1m0 0h1m0 0h1m4 0h1m2 0h1m4 0h1m2 0h1m0 0h1m5 0h1m5 0h1m5 0h1m2 0h1m2 0h1m0 0h1m5 0h1m8 0h1m0 0h1m0 0h1m0 0h1m8 0h1m2 0h1m7 0h1m3 0h1m12 0h1m4 0h1m6 0h1m5 0h1m12 0h1m7 0h1m4 0h1m3 0h1m0 0h1m1 0h1m13 0h1m-261 1h1m4 0h1m0 0h1m3 0h1m3 0h1m3 0h1m0 0h1m4 0h1m4 0h1m0 0h1m4 0h1m4 0h1m1 0h1m4 0h1m1 0h1m5 0h1m0 0h1m0 0h1m0 0h1m7 0h1m1 0h1m9 0h1m2 0h1m2 0h1m2 0h1m4 0h1m0 0h1m1 0h1m2 0h1m7 0h1m8 0h1m0 0h1m0 0h1m0 0h1m6 0h1m8 0h1m11 0h1m3 0h1m0 0h1m1 0h1m5 0h1m0 0h1m3 0h1m2 0h1m5 0h1m0 0h1m1 0h1m6 0h1m1 0h1m1 0h1m0 0h1m12 0h1m8 0h1m2 0h1m0 0h1m8 0h1m11 0h1m0 0h1m1 0h1m2 0h1m0 0h1m6 0h1m1 0h1m4 0h1m0 0h1m-259 1h1m8 0h1m2 0h1m1 0h1m6 0h1m0 0h1m0 0h1m0 0h1m0 0h1m3 0h1m2 0h1m5 0h1m3 0h1m11 0h1m2 0h1m1 0h1m0 0h1m0 0h1m3 0h1m0 0h1m0 0h1m2 0h1m5 0h1m3 0h1m6 0h1m3 0h1m2 0h1m5 0h1m1 0h1m4 0h1m0 0h1m13 0h1m1 0h1m23 0h1m0 0h1m12 0h1m2 0h1m4 0h1m2 0h1m2 0h1m0 0h1m2 0h1m3 0h1m6 0h1m2 0h1m10 0h1m10 0h1m3 0h1m0 0h1m0 0h1m5 0h1m4 0h1m4 0h1m4 0h1m6 0h1m5 0h1m3 0h1m0 0h1m-262 1h1m3 0h1m2 0h1m0 0h1m1 0h1m2 0h1m5 0h1m0 0h1m6 0h1m1 0h1m2 0h1m3 0h1m0 0h1m7 0h1m1 0h1m3 0h1m3 0h1m8 0h1m0 0h1m2 0h1m7 0h1m4 0h1m1 0h1m2 0h1m0 0h1m6 0h1m0 0h1m5 0h1m0 0h1m1 0h1m5 0h1m0 0h1m2 0h1m4 0h1m1 0h1m1 0h1m1 0h1m0 0h1m0 0h1m1 0h1m3 0h1m5 0h1m0 0h1m0 0h1m1 0h1m1 0h1m0 0h1m3 0h1m2 0h1m1 0h1m10 0h1m0 0h1m2 0h1m1 0h1m0 0h1m9 0h1m6 0h1m6 0h1m1 0h1m0 0h1m12 0h1m3 0h1m3 0h1m0 0h1m0 0h1m1 0h1m4 0h1m0 0h1m4 0h1m6 0h1m7 0h1m2 0h1m-254 1h1m10 0h1m1 0h1m1 0h1m8 0h1m3 0h1m1 0h1m10 0h1m3 0h1m6 0h1m0 0h1m3 0h1m8 0h1m21 0h1m6 0h1m1 0h1m10 0h1m11 0h1m1 0h1m5 0h1m8 0h1m3 0h1m4 0h1m15 0h1m5 0h1m1 0h1m2 0h1m7 0h1m2 0h1m2 0h1m0 0h1m0 0h1m0 0h1m1 0h1m1 0h1m1 0h1m1 0h1m1 0h1m1 0h1m9 0h1m5 0h1m6 0h1m8 0h1m4 0h1m0 0h1m0 0h1m12 0h1m3 0h1m-244 1h1m1 0h1m7 0h1m8 0h1m2 0h1m3 0h1m1 0h1m3 0h1m6 0h1m3 0h1m6 0h1m2 0h1m3 0h1m2 0h1m1 0h1m5 0h1m1 0h1m10 0h1m18 0h1m6 0h1m2 0h1m18 0h1m5 0h1m9 0h1m10 0h1m3 0h1m2 0h1m2 0h1m3 0h1m0 0h1m13 0h1m0 0h1m2 0h1m3 0h1m5 0h1m0 0h1m1 0h1m0 0h1m4 0h1m14 0h1m5 0h1m0 0h1m4 0h1m5 0h1m-255 1h1m1 0h1m5 0h1m1 0h1m6 0h1m11 0h1m0 0h1m2 0h1m4 0h1m5 0h1m4 0h1m17 0h1m1 0h1m2 0h1m3 0h1m12 0h1m2 0h1m3 0h1m1 0h1m1 0h1m6 0h1m1 0h1m14 0h1m20 0h1m5 0h1m16 0h1m1 0h1m4 0h1m24 0h1m5 0h1m2 0h1m25 0h1m7 0h1m2 0h1m8 0h1m-259 1h1m1 0h1m2 0h1m4 0h1m4 0h1m10 0h1m1 0h1m6 0h1m10 0h1m2 0h1m2 0h1m25 0h1m14 0h1m2 0h1m3 0h1m1 0h1m0 0h1m5 0h1m3 0h1m23 0h1m16 0h1m3 0h1m11 0h1m15 0h1m5 0h1m15 0h1m2 0h1m4 0h1m0 0h1m4 0h1m11 0h1m24 0h1m-255 1h1m8 0h1m3 0h1m2 0h1m6 0h1m5 0h1m9 0h1m19 0h1m8 0h1m4 0h1m19 0h1m18 0h1m2 0h1m3 0h1m27 0h1m9 0h1m2 0h1m19 0h1m1 0h1m12 0h1m12 0h1m6 0h1m11 0h1m0 0h1m0 0h1m2 0h1m10 0h1m5 0h1m-246 1h1m14 0h1m20 0h1m46 0h1m70 0h1m5 0h1m8 0h1m5 0h1m10 0h1" stroke="#a2edf1" stroke-opacity="1.0" stroke-width="1" fill="none" shape-rendering="crispEdges"/>
<path d="M245 206.5h1m44 1h1m-4 1h1m42 1h1m-198 1h1m16 0h1m53 0h1m-115 1h1m40 0h1m75 0h1m127 0h1m-124 1h1m8 0h1m-141 1h1m54 0h1m175 0h1m2 0h1m17 0h1m0 0h1m-244 1h1m11 0h1m70 0h1m34 0h1m19 0h1m29 0h1m-163 1h1m14 0h1m93 0h1m26 0h1m60 0h1m4 0h1m16 0h1m-217 1h1m38 0h1m1 0h1m29 0h1m16 0h1m4 0h1m67 0h1m35 0h1m7 0h1m18 0h1m-246 1h1m0 0h1m5 0h1m0 0h1m22 0h1m5 0h1m5 0h1m11 0h1m7 0h1m34 0h1m6 0h1m14 0h1m0 0h1m12 0h1m3 0h1m16 0h1m1 0h1m10 0h1m58 0h1m14 0h1m9 0h1m-244 1h1m49 0h1m12 0h1m12 0h1m4 0h1m8 0h1m3 0h1m0 0h1m10 0h1m60 0h1m26 0h1m49 0h1m-259 1h1m2 0h1m5 0h1m53 0h1m30 0h1m61 0h1m18 0h1m2 0h1m16 0h1m10 0h1m11 0h1m8 0h1m2 0h1m12 0h1m11 0h1m-232 1h1m0 0h1m14 0h1m6 0h1m10 0h1m26 0h1m13 0h1m1 0h1m32 0h1m9 0h1m3 0h1m0 0h1m22 0h1m1 0h1m24 0h1m3 0h1m20 0h1m8 0h1m19 0h1m-253 1h1m20 0h1m10 0h1m0 0h1m8 0h1m22 0h1m3 0h1m0 0h1m6 0h1m2 0h1m6 0h1m24 0h1m1 0h1m2 0h1m9 0h1m0 0h1m10 0h1m4 0h1m33 0h1m9 0h1m3 0h1m4 0h1m2 0h1m8 0h1m11 0h1m13 0h1m9 0h1m-245 1h1m7 0h1m10 0h1m39 0h1m13 0h1m22 0h1m8 0h1m8 0h1m10 0h1m8 0h1m28 0h1m25 0h1m5 0h1m13 0h1m14 0h1m2 0h1m10 0h1m10 0h1m0 0h1m-245 1h1m35 0h1m1 0h1m25 0h1m0 0h1m6 0h1m5 0h1m4 0h1m1 0h1m73 0h1m15 0h1m2 0h1m1 0h1m1 0h1m5 0h1m3 0h1m13 0h1m2 0h1m30 0h1m0 0h1m-231 1h1m11 0h1m7 0h1m1 0h1m27 0h1m17 0h1m17 0h1m0 0h1m4 0h1m12 0h1m25 0h1m6 0h1m0 0h1m2 0h1m4 0h1m3 0h1m11 0h1m24 0h1m4 0h1m-202 1h1m18 0h1m6 0h1m15 0h1m2 0h1m22 0h1m9 0h1m2 0h1m19 0h1m4 0h1m34 0h1m0 0h1m0 0h1m25 0h1m3 0h1m17 0h1m31 0h1m2 0h1m-220 1h1m13 0h1m89 0h1m14 0h1m4 0h1m8 0h1m11 0h1m12 0h1m0 0h1m14 0h1m51 0h1m-225 1h1m6 0h1m21 0h1m5 0h1m26 0h1m19 0h1m38 0h1m26 0h1m25 0h1m14 0h1m9 0h1m34 0h1m-251 1h1m23 0h1m6 0h1m9 0h1m4 0h1m0 0h1m2 0h1m19 0h1m9 0h1m61 0h1m-132 1h1m189 0h1m9 0h1m12 0h1m-177 1h1m43 0h1m72 0h1m69 0h1m-157 1h1m39 0h1m40 0h1m39 0h1m30 0h1" stroke="#c0f3f5" stroke-opacity="1.0" stroke-width="1" fill="none" shape-rendering="crispEdges"/>
<line x1="204.6" y1="161" x2="204.6" y2="232" stroke="#888" stroke-width="0.8"/>
<polyline points="73,180.4 73,180 74,179.5 75,180.2 76,180 77,180.2 78,180.4 79,179.3 80,179.2 81,179.4 82,179.2 83,179.9 84,179.4 85,179.4 86,179.6 87,179.1 88,179.8 89,178.3 90,179.3 91,179.4 92,178.7 93,178.7 93,179 94,179.4 95,178.7 96,177.8 97,178.1 98,179.2 99,178.2 100,179.2 101,179.2 102,178.3 103,178.7 104,177.9 105,178 106,177.8 107,178.4 108,177.4 109,177.9 110,178 111,178.1 112,176.7 113,176.8 114,177.2 115,177.5 116,177.6 117,177.6 118,178.5 119,177.7 120,177.6 120,177.3 121,177 122,177.6 123,177.5 124,177.4 125,176.9 126,177.2 127,177.6 128,176.4 129,175.6 130,177.1 131,177 132,176.4 133,176.2 134,177.8 135,176.1 136,175.6 137,175.9 138,176.4 139,175.7 140,175.8 140,176 141,176.1 142,175.7 143,175.9 144,175.8 145,175.2 146,175.7 147,175 148,176.1 149,175.1 150,175.4 151,174.5 152,175.2 153,174.7 154,176.1 155,175.2 156,175.5 157,174.2 158,174.5 159,175 160,174.3 160,175 161,175.5 162,174.6 163,174.8 164,174.8 165,174.5 166,174.8 167,174 168,174.5 169,174.8 170,174.2 171,174.1 172,173.7 173,173.8 174,174.1 175,173.5 176,172.7 177,173.5 178,173.3 179,173.5 180,173.2 180,173.2 181,173.9 182,172.4 183,172.5 184,173.2 185,172.3 186,172.9 187,172.7 188,171.6 189,172.9 190,173.2 191,172.5 192,171.6 193,172.7 194,171.7 195,172.1 196,172.3 197,171.6 198,171.1 199,171.8 200,171.8 200,171.8 201,171.3 202,171.2 203,171.9 203.8,171.5 204,172.1 204.6,174 205,178.9 205.3,183 206,186.2 206.6,189.5 207,189.7 208,190.1 209,190.3 210,190.1 210,190.8 211,190.8 212,190.8 213,191.4 214,192.1 215,192.2 215.5,191.8 216,192 217,191.4 218,191 219,191 220,190.3 220,190.6 221,190.1 222,189.5 223,189.5 224,189.1 225,189.8 226,188.8 227,187.9 228,188.2 228,187.8 229,187.3 230,187.9 231,187.6 232,188.4 233,186.2 234,186.5 235,186.3 236,186.3 237,186.3 238,185.3 239,185.2 240,185.5 240,185.4 241,185.7 242,184.5 243,184.2 244,185.4 245,185.1 246,185.1 247,183.9 248,184.2 249,184.2 250,184.2 251,183.8 251.5,183.8 252,183.7 253,184.2 254,183.4 255,183.3 256,183.3 257,183.2 258,183.5 259,183.2 260,183 261,183.9 262,183.3 263,182.9 263,183.1 264,183.7 265,182.7 266,183 267,182.9 268,182.6 269,182.6 270,182.8 271,182 272,182.5 273,182.8 274,182.8 275,182.7 275,182.6 276,183.7 277,182.8 278,182.4 279,182.3 280,182.4 281,182.5 282,182.1 283,183 284,181.6 285,182.5 286,182.3 287,181.5 288,182.3 289,182.2 290,181.6 291,183 292,182.2 293,181.6 294,181.5 295,181.3 296,181.8 297,181.6 298,180.9 299,181 300,181.1 300,181.5 301,181.2 302,181.2 303,181 304,181.6 305,181.7 306,181.2 307,180.1 308,181 309,181.3 310,180.9 311,181.1 312,180.9 313,180.1 314,179.5 315,181 316,180.4 317,180.8 318,180.4 319,180.4 320,181.2 320,180.5 321,179.8 322,180.4 323,179.8 324,180.3 325,180.4 326,180.5 327,180.2 328,179.4 329,180.1 330,180.4 331,180.3 332,180.9 333,180 334,179.2 335,179.4 336,179.6 336,179.6" fill="none" stroke="#f01010" stroke-width="4.2" stroke-linejoin="round"/>
<polyline points="73,223.7 73,223.3 74,222.8 75,223.7 76,223.6 77,222.9 78,223.5 79,223 80,223.3 81,223.2 82,223.4 83,222.8 84,223.5 85,222.3 86,223.1 87,223 88,224 89,223.5 90,223.1 91,222.9 92,223.3 93,223 94,224.2 95,222.1 96,223.3 97,222.2 98,223.7 99,222.9 100,224 101,223 102,223.7 103,223.4 104,223.8 105,223.3 106,222 107,223 108,222.6 109,223.7 110,223.5 111,223.3 112,223.5 113,223.4 114,223 115,224.1 116,223.4 117,223.2 118,222.6 119,223 120,223.3 121,223.2 122,223.1 123,223.3 124,222.8 125,223.3 126,222.6 127,222.9 128,223 129,223.7 130,223.5 131,223.3 132,222.8 133,223.1 134,223.6 135,223.8 136,222.6 137,223.1 138,223.3 139,223.4 140,223.3 141,223.6 142,222.7 143,224 144,222.8 145,223.3 146,223.5 147,223.8 148,223.7 149,223.7 150,223.8 151,223.2 152,223.6 153,224 154,223 155,222.7 156,222.9 157,223.9 158,223.8 159,223.1 160,223.4 161,223.5 162,223.7 163,222.5 164,223 165,223.2 166,223.4 167,223.3 168,223.2 169,223.4 170,222.2 171,224.6 172,223.6 173,223.7 174,223 175,223.5 176,224.2 177,224.1 178,223.3 179,222.8 180,223.4 181,223.2 182,223.7 183,222.7 184,223.2 185,223.4 186,223.1 187,223.8 188,222.8 189,222.8 190,223.1 191,223.7 192,223.2 193,223 194,223.6 195,223.4 196,223.1 197,223.3 198,223.2 199,223.6 200,223.4 201,222.9 202,223.1 203,223.1 204,223.5 204,223.3 204.4,212 204.9,195.5 205,196.8 205.4,201 206,206.6 206.3,210 207,212.5 207.8,215.5 208,215.9 209,217.6 210,218.6 210,218.5 211,219.9 212,219.7 213,220.6 213,220.3 214,220.5 215,220.5 216,221.3 217,221.8 217,221.6 218,221.9 219,221.9 220,221.8 221,221.7 222,222.1 223,222.5 224,222.9 225,221.2 225,222.6 226,222.9 227,223.1 228,223.2 229,222.9 230,223.1 231,222.6 232,222.8 233,223.1 234,222.4 235,222.6 236,223 237,222.4 238,223 239,222.4 240,223.2 240,223.1 241,223.1 242,222.8 243,222.7 244,222.9 245,222.1 246,222.9 247,223.2 248,223.6 249,222.9 250,223 251,223.7 252,223.9 253,222.9 254,223.6 255,223.6 256,223.3 257,222.7 258,222.7 259,223.4 260,224.1 261,223 262,223.8 263,223.9 264,222.6 265,222.9 266,223.8 267,223.5 268,223.4 269,223.1 270,223.4 271,222.8 272,224.2 273,222.6 274,222.3 275,223.2 276,223.8 277,222.9 278,223.1 279,222.7 280,223.1 281,222.7 282,222.7 283,222.5 284,222.9 285,224 286,223.1 287,223.2 288,224.1 289,222.9 290,222.7 291,223.4 292,222.6 293,223.3 294,223.7 295,222.7 296,222.9 297,223.9 298,222.7 299,222.9 300,223.3 301,223 302,222.8 303,223.9 304,222.9 305,223.3 306,223 307,223.1 308,222.6 309,223.6 310,223 311,223.7 312,222.7 313,223 314,223.4 315,223.2 316,222.9 317,223.1 318,222.6 319,223.2 320,222 321,223.3 322,223.8 323,223.6 324,223.6 325,223 326,223.4 327,223 328,223.1 329,223.1 330,221.7 331,223.6 332,223.4 333,223.6 334,222.8 335,223.5 336,223.4 336,223.2" fill="none" stroke="#0c12e6" stroke-width="3.2" stroke-linejoin="round"/>
</g>
<text x="80.6" y="171.2" font-size="7.4" fill="#e22a2a" font-weight="bold" font-style="italic" stroke="#e22a2a" stroke-width="0.3">Ch.6 (Pedestal)</text>
<text x="80.2" y="217.6" font-size="7.4" fill="#2238d6" font-weight="bold" font-style="italic" stroke="#2238d6" stroke-width="0.3">Ch.5 (SOL)</text>
<g clip-path="url(#clipD)">
<g fill="none" stroke="#000" stroke-opacity="0.38" stroke-width="0.65" stroke-linejoin="round"><polyline points="413.5,69.9 415,70.1 416.5,70.1 418,69.9 419.5,69.4 421,69.5 422.5,69.7 424,69.9 425.5,69.6 427,69.3 428.5,69.8 430,70.6 431.5,70.6 433,70.6 434.5,70.3 436,70.4 437.5,70.1 439,70.4 440.5,70 442,69.3 443.5,68.3 445,68 446.5,68.3 448,68.4 449.5,68.6 451,67.9 452.5,67.8 454,67.7 455.5,68.1 457,68.6 458.5,68.6 460,68.8 461.5,68.6 463,68.7 464.5,68.3 466,68.3 467.5,68.4 469,68.3 470.5,68.4 472,68.1 473.5,68.5 475,68.1 476.5,67.9 478,67.6 479.5,67.6 481,67.3 482.5,66.8 484,66.3 485.5,65.7 487,66.4 488.5,66.5 490,66.8 491.5,66.7 493,66 494.5,65.9 496,67.1 497.5,67.7 499,67.4 500.5,67.7 502,67.8 503.5,67.7 505,67.3 506.5,67.3 508,67.1 509.5,67.7 511,67.4 512.5,66.4 514,66.3 515.5,65.9 517,66 518.5,66.5 520,65.8 521.5,66.1 523,66 524.5,65.5 526,65.4 527.5,65.1 529,65.3 530.5,65.5 532,65.6 533.5,65.2 535,64.7 536.5,63.5 538,62.2 539.5,59.5 541,56.3 542.5,52.4 544,48.4 545.5,43.5 547,38.5 548.5,32.7 550,28.1 551.5,23 553,19.5 554.5,19.2 556,18.3 557.5,16 559,16.2 560.5,15.8 562,17 563.5,16.5 565,17.9 566.5,19.4 568,19.1 569.5,19.4 571,20 572.5,22.2 574,20.5 575.5,23.3 577,22 578.5,23.6 580,20.5 581.5,23.1 583,23.4 584.5,23.9 586,23.8 587.5,23.7 589,24.8 590.5,24.4 592,23.7 593.5,24.9 595,25.8 596.5,25.6 598,23.4 599.5,24.6 601,22.8 602.5,25.1 604,24.5 605.5,25.9 607,27 608.5,24.8 610,24.4 611.5,24.3 613,25.3 614.5,25.4 616,27.2 617.5,24.9 619,24.8 620.5,23.5 622,23.5 623.5,25 625,24.7 626.5,23.7 628,20.8 629.5,21 631,20.9 632.5,25 634,23.3 635.5,23.1 637,21.2 638.5,22 640,19.9 641.5,19.9 643,19.7 644.5,22.1 646,22.5 647.5,22 649,22.8 650.5,23.7 652,23.4 653.5,22.4 655,22.4 656.5,22.2 658,22 659.5,20.5 661,18.7 662.5,18 664,18 665.5,20.4 667,21.5 668.5,21.5 670,21.2 671.5,20.8 673,21.7 674.5,21 676,20.6"/><polyline points="413.5,75.7 415,75.9 416.5,75.7 418,76 419.5,76.6 421,77.2 422.5,77 424,76.7 425.5,76.3 427,76.3 428.5,76.5 430,75.8 431.5,76 433,76.2 434.5,75.9 436,75.9 437.5,75.5 439,76.1 440.5,76.7 442,76.2 443.5,75.4 445,75.5 446.5,75.3 448,74.8 449.5,75.1 451,75.6 452.5,76.3 454,76.1 455.5,75.5 457,76.3 458.5,76.3 460,76.4 461.5,76.1 463,76.2 464.5,75.3 466,74.7 467.5,74.4 469,74.4 470.5,75.1 472,75.4 473.5,75.4 475,74.4 476.5,73.7 478,73.7 479.5,73.7 481,73.9 482.5,73.5 484,73.9 485.5,73.9 487,74.5 488.5,74.7 490,74.6 491.5,75 493,74.8 494.5,74.7 496,74.9 497.5,74.6 499,74.7 500.5,73.9 502,74.1 503.5,74.5 505,74.5 506.5,73.8 508,73.4 509.5,73.4 511,73.4 512.5,72.5 514,72.6 515.5,72.7 517,72.3 518.5,71.8 520,71.8 521.5,72.3 523,72.7 524.5,73.4 526,72.6 527.5,71.8 529,72 530.5,71.6 532,71.8 533.5,71.6 535,71.1 536.5,70.5 538,70.1 539.5,69.3 541,68.2 542.5,66.1 544,61.7 545.5,57 547,53.1 548.5,46.6 550,42.7 551.5,36.4 553,28.8 554.5,25.3 556,21 557.5,20.5 559,22.9 560.5,21.9 562,22.5 563.5,21.1 565,21.5 566.5,22.8 568,22.5 569.5,21.9 571,20.6 572.5,21.4 574,20.7 575.5,22.4 577,22.8 578.5,24.2 580,26.3 581.5,26.1 583,26.8 584.5,28.8 586,31.8 587.5,31.1 589,29.5 590.5,26 592,25.9 593.5,26.1 595,25.3 596.5,28.1 598,28.9 599.5,27.3 601,24.4 602.5,24.3 604,25.6 605.5,26.2 607,23.8 608.5,24.6 610,24.8 611.5,24.8 613,25.4 614.5,25.2 616,26.2 617.5,25.7 619,26.1 620.5,25 622,25.1 623.5,25.3 625,24.9 626.5,24.9 628,25.5 629.5,23.8 631,24.1 632.5,23.2 634,24.1 635.5,25.1 637,24.7 638.5,24.1 640,22.9 641.5,22.9 643,22.9 644.5,23.7 646,24.7 647.5,25.4 649,24.1 650.5,23.4 652,23.7 653.5,22.4 655,21.9 656.5,19.7 658,20.9 659.5,20.5 661,18.7 662.5,19.1 664,17.2 665.5,18.1 667,17.2 668.5,20.9 670,21.7 671.5,22.4 673,21.1 674.5,22 676,23"/><polyline points="413.5,66.9 415,67.4 416.5,67.5 418,67.8 419.5,67 421,67.7 422.5,67.7 424,68.4 425.5,68.2 427,68.7 428.5,68.8 430,68.1 431.5,67.8 433,67.5 434.5,67.5 436,67.2 437.5,66.6 439,66.7 440.5,66.9 442,66.5 443.5,66.6 445,66.6 446.5,67.1 448,67.1 449.5,67 451,66.4 452.5,66.4 454,66.2 455.5,66.7 457,66.7 458.5,67.2 460,66.7 461.5,65.6 463,65.4 464.5,65.1 466,65.8 467.5,65.9 469,66.1 470.5,66 472,66.8 473.5,66.5 475,66.3 476.5,65.6 478,65.4 479.5,65.6 481,65.9 482.5,65.9 484,66.3 485.5,66.2 487,66.2 488.5,65.4 490,65.4 491.5,65.6 493,65.7 494.5,65.1 496,65.5 497.5,65.8 499,65.8 500.5,65.3 502,64.8 503.5,64.9 505,65.1 506.5,64.6 508,64.5 509.5,64.1 511,64 512.5,64.1 514,64.5 515.5,64.8 517,64.3 518.5,64.3 520,64.2 521.5,64.3 523,64.7 524.5,64.1 526,63.9 527.5,63.6 529,63.8 530.5,63.2 532,63 533.5,62.6 535,62.8 536.5,63.4 538,63.4 539.5,62.8 541,61.3 542.5,59.7 544,57.2 545.5,55 547,51.7 548.5,47.4 550,43.3 551.5,40.1 553,34.5 554.5,29.8 556,27.1 557.5,28.4 559,28.5 560.5,29.8 562,31.6 563.5,33 565,33.3 566.5,30.8 568,31.5 569.5,32.9 571,33.6 572.5,31.8 574,30.9 575.5,31 577,30.4 578.5,32.2 580,32.3 581.5,35.3 583,34.4 584.5,36.3 586,35.3 587.5,36 589,38.7 590.5,39.2 592,40.8 593.5,40.1 595,39.7 596.5,41.2 598,40.7 599.5,41.6 601,39.6 602.5,42.1 604,40 605.5,39.4 607,36.7 608.5,36 610,36.1 611.5,37.1 613,36.9 614.5,38.9 616,39.7 617.5,37.2 619,37.7 620.5,36.4 622,36.7 623.5,34.3 625,33.7 626.5,33.9 628,33.7 629.5,34.8 631,33.7 632.5,33.1 634,32.9 635.5,31.6 637,33 638.5,34.1 640,35.5 641.5,34.9 643,37.1 644.5,37.5 646,36.3 647.5,35.9 649,35 650.5,37.2 652,36.9 653.5,36.5 655,35.7 656.5,34.1 658,33.7 659.5,32.3 661,34.3 662.5,35.9 664,37.5 665.5,37.5 667,36.5 668.5,35.7 670,36.4 671.5,36.2 673,35.7 674.5,36 676,35.7"/><polyline points="413.5,78.6 415,78.6 416.5,78.9 418,78.5 419.5,78.1 421,77.4 422.5,77.9 424,78 425.5,79.3 427,79.1 428.5,78.8 430,78.4 431.5,78.1 433,78.3 434.5,78.4 436,78.3 437.5,78.3 439,78 440.5,77.6 442,77.6 443.5,76.9 445,77.4 446.5,77.8 448,78.5 449.5,77.5 451,77.3 452.5,76.3 454,77.3 455.5,77.7 457,77.8 458.5,77.9 460,77.8 461.5,78.6 463,77.4 464.5,77.3 466,76.8 467.5,77.7 469,77.1 470.5,77.2 472,77 473.5,76.3 475,76.2 476.5,76 478,76.3 479.5,77 481,76.8 482.5,76.9 484,77 485.5,76.7 487,77 488.5,76.4 490,76.4 491.5,75.5 493,75.9 494.5,74.9 496,73.9 497.5,73.7 499,73.7 500.5,73.9 502,74.2 503.5,74.3 505,74.9 506.5,75.5 508,75.7 509.5,75.9 511,76 512.5,76 514,76.3 515.5,75.7 517,74.8 518.5,73.9 520,73.8 521.5,73.9 523,74.2 524.5,73.8 526,73.2 527.5,73.1 529,73.3 530.5,73.4 532,73 533.5,73.5 535,73.5 536.5,73.4 538,72.5 539.5,71.8 541,70.1 542.5,67 544,62.6 545.5,58.5 547,52.4 548.5,45.5 550,38.8 551.5,35.5 553,32.9 554.5,32 556,27 557.5,27 559,24.9 560.5,29.7 562,31.8 563.5,34.7 565,30.3 566.5,30.3 568,32.4 569.5,32.4 571,31.9 572.5,31.3 574,33.1 575.5,32.5 577,33.3 578.5,33.5 580,33.8 581.5,35.4 583,35 584.5,35.8 586,37.2 587.5,37.4 589,35.8 590.5,36.1 592,35.5 593.5,39.7 595,39.8 596.5,38.9 598,38 599.5,39.2 601,39 602.5,38.6 604,40.1 605.5,40.9 607,42 608.5,40.1 610,39.7 611.5,37.9 613,38.9 614.5,37.6 616,37.8 617.5,34.8 619,33.3 620.5,32.6 622,33.3 623.5,34.7 625,36 626.5,35.6 628,34.7 629.5,37 631,35 632.5,35.9 634,36.3 635.5,37.3 637,38.4 638.5,38.5 640,36.2 641.5,34.5 643,33 644.5,31.9 646,32.1 647.5,33.5 649,35.4 650.5,37.6 652,37 653.5,36.7 655,36.2 656.5,36.5 658,35.8 659.5,35 661,34.3 662.5,34.7 664,36.5 665.5,33.2 667,32.5 668.5,31.8 670,34.1 671.5,33.5 673,34.6 674.5,34.3 676,36.2"/><polyline points="413.5,74.8 415,75.3 416.5,75.6 418,75.7 419.5,75.4 421,75.2 422.5,75.1 424,75.6 425.5,75.6 427,74.8 428.5,74.4 430,74.4 431.5,74.6 433,74 434.5,73.9 436,74.2 437.5,74.4 439,73.6 440.5,73.4 442,73.1 443.5,74.1 445,74 446.5,74.5 448,74.8 449.5,74.8 451,74.6 452.5,74.7 454,74.6 455.5,74.3 457,74.4 458.5,74 460,73.8 461.5,73.9 463,74 464.5,73.8 466,73.4 467.5,73.9 469,73.3 470.5,73.2 472,72.9 473.5,71.8 475,72.3 476.5,72.3 478,72.4 479.5,72.4 481,72.1 482.5,71.8 484,72.2 485.5,71.5 487,71.2 488.5,72.5 490,72.8 491.5,73.7 493,73.7 494.5,73.1 496,73.5 497.5,73.1 499,73.7 500.5,74 502,73.7 503.5,72.8 505,72.8 506.5,72.6 508,73.4 509.5,73.3 511,73.6 512.5,73.4 514,73.1 515.5,73.2 517,72.5 518.5,73.2 520,72.5 521.5,72.4 523,71.5 524.5,71.5 526,71.3 527.5,71.7 529,71.8 530.5,71.3 532,71.4 533.5,70.9 535,71.3 536.5,70.5 538,70.1 539.5,69.9 541,69.3 542.5,68.7 544,66.5 545.5,63.8 547,60 548.5,56 550,51 551.5,46.5 553,43 554.5,38 556,37.6 557.5,32.7 559,29.4 560.5,30.2 562,32.7 563.5,32.7 565,32.7 566.5,34.3 568,35.2 569.5,37.8 571,34.6 572.5,35.3 574,35.3 575.5,36.2 577,35.9 578.5,36.5 580,38.7 581.5,40.5 583,41.6 584.5,42.8 586,45 587.5,44.5 589,44.2 590.5,42.1 592,43.5 593.5,44.7 595,42.7 596.5,42.1 598,42.2 599.5,43.6 601,43.7 602.5,45.1 604,42.7 605.5,43.5 607,43.8 608.5,43.3 610,44.9 611.5,43.3 613,45.6 614.5,44.4 616,43.8 617.5,41.3 619,39.7 620.5,39.1 622,39.3 623.5,39 625,40.6 626.5,41.4 628,42.6 629.5,43.1 631,39.6 632.5,37 634,39.4 635.5,41.6 637,40.2 638.5,37.8 640,35.6 641.5,35.7 643,36.9 644.5,36.9 646,38.1 647.5,40.6 649,37.9 650.5,38.5 652,40.1 653.5,40 655,40.5 656.5,41.1 658,39 659.5,38.9 661,40.3 662.5,39.5 664,41.9 665.5,38.9 667,40.3 668.5,40.3 670,39.7 671.5,39.7 673,40.4 674.5,39.5 676,39"/><polyline points="413.5,72.4 415,72.7 416.5,73.2 418,73.2 419.5,73 421,73.6 422.5,73.4 424,73.2 425.5,72.9 427,72.1 428.5,72.6 430,72 431.5,71.7 433,71.2 434.5,71.4 436,71.3 437.5,71.2 439,70.6 440.5,71.2 442,70.3 443.5,69.9 445,69.6 446.5,69.7 448,69.9 449.5,69.8 451,70 452.5,69.3 454,70.1 455.5,70 457,70.6 458.5,71.5 460,71.7 461.5,72.2 463,72.2 464.5,71.9 466,72.1 467.5,72 469,71.8 470.5,71.5 472,71.3 473.5,70.7 475,70.6 476.5,70.5 478,69.9 479.5,69.7 481,69 482.5,69.2 484,69.1 485.5,69.4 487,69.7 488.5,69.9 490,69.8 491.5,69.8 493,70.2 494.5,70.6 496,71.3 497.5,70.9 499,70.2 500.5,69.9 502,69.3 503.5,70.2 505,69.7 506.5,69.7 508,69.6 509.5,68.8 511,69.5 512.5,68.7 514,68.8 515.5,68.6 517,68.4 518.5,68.4 520,68.3 521.5,68.2 523,67.5 524.5,68.8 526,68.2 527.5,68 529,67.6 530.5,66.6 532,66.9 533.5,67.2 535,67.8 536.5,68.1 538,67.8 539.5,66.7 541,65.8 542.5,63.7 544,61.3 545.5,58.4 547,54.7 548.5,53.4 550,48.7 551.5,43.7 553,36.4 554.5,35.5 556,33.2 557.5,30.2 559,31.1 560.5,28.3 562,29.4 563.5,28.1 565,31.3 566.5,32.3 568,30.6 569.5,30.5 571,32.3 572.5,32.8 574,33.3 575.5,32.4 577,31.3 578.5,31.9 580,32.1 581.5,33.6 583,34.6 584.5,37.4 586,39.7 587.5,41 589,38.8 590.5,38.5 592,39.9 593.5,40.4 595,43.4 596.5,43.8 598,44 599.5,41.6 601,38.8 602.5,40.6 604,39.4 605.5,38.8 607,39.2 608.5,40.8 610,41.9 611.5,40.4 613,39.5 614.5,37.2 616,36.7 617.5,36.2 619,37.3 620.5,38.1 622,38.4 623.5,37.5 625,35.5 626.5,36.3 628,37.7 629.5,39.4 631,39.7 632.5,38.4 634,38.8 635.5,39.9 637,38.5 638.5,38.7 640,38.2 641.5,36.9 643,37.8 644.5,36.8 646,37.1 647.5,36.8 649,36.7 650.5,36.8 652,38.5 653.5,37.6 655,38.3 656.5,37.1 658,35.8 659.5,35.5 661,37.3 662.5,38.3 664,38.5 665.5,37.6 667,37.8 668.5,38.5 670,38.1 671.5,37.7 673,38.3 674.5,38.2 676,38"/><polyline points="413.5,76.7 415,76.6 416.5,77 418,77 419.5,77 421,76.9 422.5,76.4 424,75.6 425.5,75.5 427,75.6 428.5,74.8 430,75.2 431.5,75.3 433,74.9 434.5,74.8 436,75.6 437.5,76 439,76.5 440.5,75.9 442,76.1 443.5,76.7 445,76.6 446.5,76.6 448,75.7 449.5,75.7 451,75 452.5,75.3 454,74.6 455.5,74.8 457,74.4 458.5,74.6 460,74.8 461.5,74.8 463,74.6 464.5,74.5 466,74.6 467.5,74.6 469,74.7 470.5,75.2 472,75.5 473.5,75.8 475,75.4 476.5,75 478,75.1 479.5,75.3 481,74.9 482.5,75.3 484,75.4 485.5,74.9 487,74.4 488.5,74.6 490,75.1 491.5,75.2 493,75.1 494.5,74.4 496,74.6 497.5,74.8 499,74.3 500.5,74.3 502,74.4 503.5,74.1 505,74.5 506.5,74.8 508,75.6 509.5,75.6 511,75 512.5,73.7 514,74 515.5,74.4 517,75.1 518.5,74.5 520,74 521.5,74.1 523,73.9 524.5,73.6 526,73 527.5,73 529,72.9 530.5,72.4 532,72.8 533.5,72.9 535,72.6 536.5,72.2 538,71.6 539.5,71.7 541,71.7 542.5,71.4 544,71.3 545.5,71.3 547,70.3 548.5,67.7 550,66.2 551.5,63.3 553,60.4 554.5,55.9 556,53 557.5,48.7 559,38.2 560.5,34.2 562,33.1 563.5,32.2 565,31.4 566.5,29.1 568,30.5 569.5,29.4 571,30 572.5,27.1 574,27.6 575.5,27.5 577,24.6 578.5,26.1 580,27.2 581.5,29.1 583,32.4 584.5,32.6 586,33.5 587.5,33.9 589,34.4 590.5,36.5 592,39.1 593.5,39.1 595,39.1 596.5,39 598,36.8 599.5,35.5 601,34.5 602.5,34.3 604,37 605.5,37.4 607,37 608.5,36.3 610,36.4 611.5,36.7 613,37.6 614.5,38 616,36.9 617.5,35.8 619,34.6 620.5,32.2 622,32.8 623.5,34.7 625,35.2 626.5,33.6 628,32.8 629.5,31 631,32.4 632.5,30.3 634,32 635.5,33.1 637,32.5 638.5,32.1 640,31.9 641.5,32.5 643,31.7 644.5,33.1 646,32.2 647.5,32.8 649,32.7 650.5,32.4 652,32.2 653.5,32.1 655,31.2 656.5,32.2 658,32.2 659.5,33.2 661,33.4 662.5,33.1 664,33.1 665.5,32.9 667,33.7 668.5,33.5 670,34.9 671.5,35.3 673,33.8 674.5,35 676,34"/><polyline points="413.5,74.9 415,75 416.5,75.6 418,75.2 419.5,74.4 421,73.9 422.5,74.1 424,74.6 425.5,74.8 427,75.5 428.5,75.3 430,74.4 431.5,74.1 433,73.6 434.5,74.4 436,74.3 437.5,74.5 439,74.5 440.5,74.3 442,74.5 443.5,74.9 445,75.6 446.5,74.3 448,74.6 449.5,73.7 451,74.4 452.5,74.6 454,74.8 455.5,74.3 457,74.4 458.5,74.6 460,74.9 461.5,75.5 463,75 464.5,75.1 466,75.2 467.5,75.4 469,75 470.5,75.4 472,74.8 473.5,74.1 475,74.3 476.5,73.6 478,73.9 479.5,73.5 481,73.8 482.5,74 484,73.9 485.5,73.7 487,73.5 488.5,73.8 490,73.4 491.5,73.4 493,72.9 494.5,73.1 496,72.5 497.5,72.3 499,72.1 500.5,72.2 502,71.3 503.5,71.1 505,70.7 506.5,70.6 508,71.3 509.5,71 511,71.6 512.5,72 514,72.1 515.5,72.1 517,71.9 518.5,71.7 520,71.7 521.5,71.6 523,72 524.5,71.9 526,72.1 527.5,71.2 529,71.4 530.5,70.6 532,70.9 533.5,70.1 535,69.8 536.5,68.1 538,66.7 539.5,64.3 541,61 542.5,56.7 544,52.6 545.5,48 547,43.7 548.5,38.3 550,34.7 551.5,31.3 553,30.8 554.5,25.7 556,26.2 557.5,27.2 559,29.5 560.5,30.9 562,30.1 563.5,30.3 565,27.1 566.5,27.8 568,27.8 569.5,28.8 571,26.6 572.5,26.2 574,27.7 575.5,28.4 577,28 578.5,27.1 580,29.3 581.5,32.8 583,34.4 584.5,32.4 586,31.8 587.5,32.4 589,33.6 590.5,33.6 592,34 593.5,34 595,32.6 596.5,33.3 598,33.1 599.5,33.5 601,34.3 602.5,32.9 604,35.2 605.5,33.7 607,35.4 608.5,35 610,33.7 611.5,33.7 613,34.8 614.5,35.4 616,36 617.5,33.3 619,32.9 620.5,34.1 622,33.6 623.5,34.1 625,31.8 626.5,32.6 628,31.4 629.5,34.3 631,35.2 632.5,35 634,34.6 635.5,34.8 637,34.8 638.5,35.9 640,36.9 641.5,38.3 643,38.3 644.5,35.9 646,34.3 647.5,35.7 649,36.3 650.5,36.8 652,36.4 653.5,34.9 655,33.8 656.5,33.9 658,33.6 659.5,32.8 661,31.9 662.5,29.3 664,29 665.5,30.3 667,31.7 668.5,31.9 670,32.5 671.5,31.4 673,32 674.5,32.7 676,33.4"/><polyline points="413.5,70.5 415,70.9 416.5,71 418,70.4 419.5,69.9 421,69.8 422.5,69.7 424,69.8 425.5,69.8 427,70 428.5,69.4 430,69.9 431.5,70.3 433,70.2 434.5,69.9 436,69.8 437.5,70.2 439,70.7 440.5,70.7 442,70.6 443.5,71.1 445,70 446.5,69.5 448,69.1 449.5,69.2 451,69.3 452.5,68.7 454,68.1 455.5,67.7 457,68.4 458.5,68.5 460,68.8 461.5,68.2 463,67.7 464.5,67.1 466,67.9 467.5,68.1 469,68.7 470.5,69.5 472,69.2 473.5,68.8 475,68.3 476.5,67.3 478,67.3 479.5,67.3 481,67.4 482.5,66.7 484,66.8 485.5,67 487,67.7 488.5,67.8 490,67.8 491.5,68.1 493,67.8 494.5,69 496,68.2 497.5,69 499,68.7 500.5,69.2 502,67.8 503.5,67.4 505,66.2 506.5,65.8 508,66.4 509.5,66.5 511,67.5 512.5,66.6 514,65.7 515.5,65.5 517,66.2 518.5,66.7 520,67 521.5,66.3 523,66.2 524.5,66.1 526,65.5 527.5,65.7 529,65.8 530.5,65 532,64.6 533.5,65 535,65.1 536.5,64.8 538,63.4 539.5,62.8 541,60.5 542.5,57.9 544,54.4 545.5,50.1 547,46.7 548.5,42.1 550,36.4 551.5,33.9 553,31.6 554.5,25.7 556,26.1 557.5,24.9 559,25.5 560.5,25.3 562,22.9 563.5,21.3 565,21.1 566.5,22.3 568,20.7 569.5,23.8 571,19.5 572.5,17.3 574,16.9 575.5,18.4 577,21 578.5,25 580,25.7 581.5,28.5 583,26.8 584.5,26.8 586,26.2 587.5,27.4 589,26.1 590.5,26.8 592,24.5 593.5,25 595,24.2 596.5,23.6 598,24.6 599.5,24.9 601,25.1 602.5,24.5 604,24.2 605.5,23 607,21.3 608.5,21.8 610,21.6 611.5,22 613,22.8 614.5,22.8 616,22.9 617.5,24 619,24.8 620.5,26.2 622,25.7 623.5,26.6 625,24.2 626.5,26.2 628,24.4 629.5,25.7 631,24.7 632.5,24.4 634,23.5 635.5,24.6 637,25.3 638.5,26.2 640,28.3 641.5,26 643,25.2 644.5,23.8 646,24.7 647.5,22.8 649,25.3 650.5,25.1 652,27 653.5,25.9 655,23.5 656.5,24.2 658,25.1 659.5,25 661,26.1 662.5,26.8 664,26.5 665.5,26.7 667,25.1 668.5,24 670,23.6 671.5,23 673,24.3 674.5,24.3 676,24.6"/><polyline points="413.5,72.5 415,72.9 416.5,72.8 418,73.3 419.5,72.9 421,72.7 422.5,72.2 424,72.2 425.5,72.1 427,72.5 428.5,72.7 430,72.5 431.5,72.6 433,72.1 434.5,72.2 436,71.7 437.5,71.7 439,71.3 440.5,71.3 442,72.1 443.5,72.3 445,72.8 446.5,72.4 448,72 449.5,71.9 451,71.6 452.5,71 454,71.3 455.5,72.1 457,73.1 458.5,72.8 460,72 461.5,71.7 463,71.9 464.5,72.2 466,72.2 467.5,72.4 469,71.7 470.5,71.3 472,70.6 473.5,70.7 475,71.2 476.5,71.5 478,71.8 479.5,71.7 481,71.4 482.5,71.6 484,71.1 485.5,71.6 487,71.7 488.5,72.2 490,72 491.5,72 493,71.6 494.5,71.4 496,71.7 497.5,71.9 499,72 500.5,73.1 502,72.5 503.5,72.3 505,71.8 506.5,71.9 508,71.3 509.5,71 511,70.6 512.5,70.4 514,69.9 515.5,68.8 517,68.8 518.5,68.2 520,68.7 521.5,68.2 523,68.4 524.5,67.9 526,68.4 527.5,69.3 529,70.2 530.5,69.8 532,70.1 533.5,69.6 535,69.8 536.5,70 538,69.6 539.5,68.5 541,67.4 542.5,66.9 544,64.6 545.5,61.8 547,57.9 548.5,53.6 550,48 551.5,40.5 553,33.9 554.5,33.2 556,29.7 557.5,25.9 559,22.2 560.5,24.2 562,21.8 563.5,19.7 565,18.1 566.5,22 568,21.5 569.5,19.8 571,21.2 572.5,22.3 574,22.1 575.5,21 577,19.2 578.5,21.6 580,22.5 581.5,25.6 583,26 584.5,25.6 586,23.7 587.5,24.8 589,26.6 590.5,28.5 592,30 593.5,31.5 595,31.6 596.5,28.2 598,28.1 599.5,28.9 601,30.1 602.5,29.7 604,28 605.5,25.7 607,26.1 608.5,26.2 610,25.4 611.5,26.7 613,26.9 614.5,27.7 616,29.3 617.5,27.2 619,28.2 620.5,29.1 622,28.3 623.5,27.3 625,27.1 626.5,29.2 628,30.2 629.5,31 631,30.6 632.5,29.1 634,27.4 635.5,26.6 637,27.8 638.5,30.1 640,28 641.5,27.6 643,24.2 644.5,24.1 646,22.6 647.5,24.9 649,26 650.5,25.6 652,23.9 653.5,23.1 655,23.2 656.5,26.5 658,26.4 659.5,26.5 661,23.8 662.5,23.7 664,21.7 665.5,22.3 667,22.4 668.5,24.3 670,24.9 671.5,22.9 673,24 674.5,22.7 676,23.6"/><polyline points="413.5,73.8 415,73.5 416.5,72.9 418,73.4 419.5,73.4 421,73.3 422.5,73.2 424,73 425.5,72.8 427,72.9 428.5,73.3 430,73.6 431.5,73.6 433,73.5 434.5,73.2 436,73 437.5,72.7 439,72.7 440.5,72.4 442,72.9 443.5,72.9 445,73.4 446.5,73.4 448,73.3 449.5,73.5 451,73.3 452.5,72.5 454,72.5 455.5,72 457,72 458.5,71.8 460,71.4 461.5,70.8 463,70.4 464.5,70.6 466,70.7 467.5,71.1 469,70.8 470.5,70.8 472,70.6 473.5,71.2 475,71.5 476.5,71.1 478,71.4 479.5,70.8 481,72 482.5,72.3 484,72.4 485.5,72.2 487,71.9 488.5,71.8 490,72 491.5,72.4 493,72 494.5,71.9 496,71.9 497.5,72.2 499,72.1 500.5,72.5 502,72 503.5,71.2 505,70.6 506.5,70.5 508,70.5 509.5,70.4 511,70.6 512.5,71.1 514,71.5 515.5,71.2 517,70.6 518.5,69.7 520,69.9 521.5,70.1 523,70.2 524.5,70.1 526,69.3 527.5,69 529,68.7 530.5,69.1 532,69.1 533.5,69.7 535,69.2 536.5,69.3 538,69.3 539.5,68.7 541,68.3 542.5,68.4 544,67.4 545.5,65.7 547,63.2 548.5,61.5 550,57.3 551.5,52.6 553,47.5 554.5,41.2 556,34.9 557.5,31.3 559,27.8 560.5,23.9 562,20.6 563.5,19.9 565,19.7 566.5,20.7 568,22.2 569.5,23.9 571,24.4 572.5,23.9 574,22.6 575.5,23.9 577,26.9 578.5,27.7 580,27.9 581.5,28.8 583,30.3 584.5,33.7 586,34.1 587.5,33.2 589,32.8 590.5,31.8 592,32.1 593.5,34 595,35.7 596.5,35.6 598,33.4 599.5,32.8 601,32.8 602.5,33.6 604,32.8 605.5,32.9 607,33.4 608.5,34.1 610,32.9 611.5,33.1 613,31.6 614.5,33.3 616,32.3 617.5,32.7 619,31.1 620.5,30.7 622,29.6 623.5,30.6 625,30.1 626.5,31.1 628,31.6 629.5,29.2 631,28.9 632.5,29.6 634,31.9 635.5,32.9 637,32.6 638.5,32.5 640,32.5 641.5,32.2 643,31.4 644.5,30.4 646,31.4 647.5,31 649,32.3 650.5,32.5 652,34.2 653.5,34.1 655,34.2 656.5,32.4 658,32.1 659.5,33.9 661,32.4 662.5,33 664,31.1 665.5,33 667,33.2 668.5,32.5 670,31.9 671.5,32.5 673,32.5 674.5,32.6 676,31.1"/><polyline points="413.5,74 415,74 416.5,74 418,73.7 419.5,73.4 421,73.1 422.5,73.2 424,73.2 425.5,73.3 427,73 428.5,73.2 430,73.9 431.5,74.4 433,74.4 434.5,74.4 436,74.5 437.5,74 439,73.9 440.5,73.3 442,74.5 443.5,74.7 445,73.7 446.5,74 448,73.9 449.5,74.9 451,74.7 452.5,74.5 454,74 455.5,74.2 457,74.1 458.5,74.4 460,74.8 461.5,73.9 463,73.7 464.5,73.6 466,73.7 467.5,72.9 469,73.1 470.5,73.1 472,73.3 473.5,72.5 475,72.1 476.5,71.8 478,72.1 479.5,71 481,71 482.5,70.8 484,71.2 485.5,71.2 487,70.7 488.5,71.5 490,71.3 491.5,71.2 493,71.2 494.5,71.8 496,72 497.5,71.4 499,71.3 500.5,71.4 502,72.1 503.5,71.6 505,72.1 506.5,72 508,71.1 509.5,70.6 511,70.4 512.5,71.3 514,71.1 515.5,71.2 517,71.4 518.5,70.9 520,70.7 521.5,70.8 523,70.6 524.5,69.9 526,68.9 527.5,68.4 529,68.2 530.5,68.5 532,68.9 533.5,69.4 535,68.2 536.5,68.5 538,68.2 539.5,67.5 541,67.4 542.5,66.7 544,66.2 545.5,63.2 547,59.1 548.5,54.5 550,50.7 551.5,43.5 553,39.6 554.5,37.4 556,36.2 557.5,33.8 559,29.7 560.5,32 562,30 563.5,32 565,31.1 566.5,33.7 568,32.5 569.5,33.8 571,32.4 572.5,31.9 574,33.1 575.5,32 577,32.5 578.5,33.1 580,35.7 581.5,37.4 583,38.7 584.5,37.6 586,37.4 587.5,39.7 589,37.8 590.5,41.6 592,40.6 593.5,40.2 595,39.5 596.5,38 598,39.6 599.5,39.6 601,38.7 602.5,37.4 604,38.1 605.5,38.6 607,37.9 608.5,38.3 610,39.1 611.5,38.6 613,39 614.5,38.7 616,37.7 617.5,37.6 619,38.3 620.5,38.9 622,37.3 623.5,40.3 625,40 626.5,41.4 628,36.6 629.5,37.9 631,37.1 632.5,39.1 634,36.6 635.5,35.2 637,36.2 638.5,37 640,36.2 641.5,37.2 643,36.8 644.5,38.3 646,37.7 647.5,39.2 649,38.3 650.5,39.3 652,39.8 653.5,40.1 655,41.6 656.5,40.7 658,38.8 659.5,38 661,38.3 662.5,38 664,38.7 665.5,36.5 667,36.7 668.5,36.5 670,37.6 671.5,36.5 673,34.9 674.5,33.7 676,33.9"/><polyline points="413.5,70.5 415,70.9 416.5,70.6 418,71.1 419.5,70.3 421,70.6 422.5,70.9 424,72 425.5,71.1 427,71.6 428.5,71.2 430,71.8 431.5,72.1 433,72.2 434.5,72.4 436,72.3 437.5,72 439,71.5 440.5,71.8 442,71.4 443.5,71.7 445,71 446.5,71 448,71.2 449.5,71.6 451,71.3 452.5,71.5 454,71.4 455.5,71.1 457,70.8 458.5,71.2 460,70.9 461.5,70.6 463,70.3 464.5,70.7 466,70.6 467.5,70.2 469,70.2 470.5,70.4 472,70.5 473.5,69.6 475,70.1 476.5,70.1 478,70.7 479.5,70 481,69.9 482.5,69.5 484,69.5 485.5,68.8 487,68.6 488.5,68.4 490,68.8 491.5,68.9 493,68.8 494.5,68.7 496,68.9 497.5,68.9 499,69.1 500.5,68.9 502,68.5 503.5,68.8 505,68.9 506.5,69.1 508,68.2 509.5,68.6 511,68.2 512.5,67.9 514,67.3 515.5,67.4 517,67.5 518.5,67 520,67.7 521.5,67.4 523,68.1 524.5,67.8 526,67.8 527.5,67.8 529,67.3 530.5,69 532,68.8 533.5,69 535,67.8 536.5,67.6 538,67.4 539.5,67.4 541,66.2 542.5,65.4 544,64.5 545.5,63.5 547,61.8 548.5,59.8 550,58.6 551.5,55.4 553,49.4 554.5,44.1 556,40.4 557.5,36.1 559,32.9 560.5,29.8 562,31.1 563.5,30.3 565,28.9 566.5,31.1 568,31.9 569.5,30.4 571,29.1 572.5,30 574,29 575.5,27.4 577,24.4 578.5,25.9 580,29 581.5,28.2 583,29.7 584.5,29.2 586,34 587.5,34 589,36.7 590.5,36.9 592,38.9 593.5,38.6 595,38.6 596.5,37.7 598,39.1 599.5,40.5 601,40.8 602.5,39.4 604,37.2 605.5,36.7 607,36 608.5,37.5 610,38 611.5,38.8 613,38 614.5,37.6 616,38 617.5,37 619,38 620.5,38.6 622,40.2 623.5,40.4 625,40.8 626.5,40 628,37.5 629.5,38.8 631,38.5 632.5,39.2 634,38.5 635.5,38.7 637,39.3 638.5,40.5 640,38.4 641.5,39.1 643,37 644.5,35.8 646,35.3 647.5,35.2 649,36.8 650.5,35.7 652,35 653.5,34.6 655,35.9 656.5,35.8 658,36 659.5,36.7 661,36.9 662.5,35.6 664,34.9 665.5,33 667,33.6 668.5,34.6 670,35.1 671.5,32.5 673,33.3 674.5,32.2 676,33.4"/><polyline points="413.5,77 415,77.1 416.5,77.6 418,77.1 419.5,77.1 421,77.3 422.5,76.4 424,75.9 425.5,75.1 427,75.1 428.5,75.9 430,76.6 431.5,76.8 433,76.7 434.5,76.1 436,75.7 437.5,75.2 439,75.2 440.5,75.1 442,75.6 443.5,74.7 445,74.6 446.5,74 448,73.8 449.5,73.9 451,74.4 452.5,74.7 454,74.6 455.5,74.9 457,74.5 458.5,75.1 460,75.5 461.5,74.9 463,74.5 464.5,74.3 466,74.2 467.5,74 469,73.9 470.5,74.4 472,74.9 473.5,75.1 475,74.5 476.5,73.9 478,73.5 479.5,73.3 481,73 482.5,73.9 484,74 485.5,73.7 487,72.7 488.5,72 490,72.6 491.5,72.5 493,73.1 494.5,72.6 496,72.8 497.5,72.3 499,72.5 500.5,72.8 502,72.9 503.5,73 505,72.9 506.5,72.8 508,71.8 509.5,72 511,71.6 512.5,72.1 514,71.5 515.5,72.1 517,72.1 518.5,72.5 520,71.2 521.5,72 523,72.3 524.5,73 526,71.8 527.5,71.7 529,70.7 530.5,70.5 532,70.3 533.5,70.7 535,71.5 536.5,71.4 538,71.2 539.5,70.5 541,70 542.5,68.2 544,66.3 545.5,63.4 547,59.8 548.5,54.4 550,49.6 551.5,42.8 553,38.7 554.5,35.3 556,33.7 557.5,32.6 559,31.5 560.5,28.8 562,26.5 563.5,26.1 565,25 566.5,26.7 568,25.3 569.5,25.3 571,27.2 572.5,29 574,27.2 575.5,27.7 577,29.3 578.5,32.3 580,34.6 581.5,33.9 583,33.5 584.5,34.5 586,33.5 587.5,35.2 589,33.7 590.5,34.5 592,32.3 593.5,34.1 595,33.2 596.5,35.3 598,33.1 599.5,34.7 601,35.9 602.5,34.3 604,32.8 605.5,33 607,33.3 608.5,31.9 610,30.8 611.5,29.3 613,30.3 614.5,28.2 616,29.4 617.5,29.7 619,32.7 620.5,31.8 622,34.2 623.5,33.6 625,31 626.5,31.4 628,32.3 629.5,33.6 631,32.6 632.5,32.4 634,30.3 635.5,31.9 637,32.3 638.5,33.3 640,35.7 641.5,33.5 643,32.1 644.5,30.9 646,31 647.5,32.1 649,33 650.5,32.6 652,31.4 653.5,30.3 655,30.4 656.5,30.1 658,30.4 659.5,31.2 661,31.4 662.5,30.7 664,29 665.5,31 667,31.2 668.5,31.6 670,30.7 671.5,29.6 673,29.4 674.5,28.4 676,30.3"/><polyline points="413.5,77.5 415,77.7 416.5,77.9 418,77.9 419.5,77.8 421,77.8 422.5,78.1 424,78.2 425.5,77.8 427,77.4 428.5,76.3 430,76 431.5,76.3 433,77 434.5,77.2 436,76.6 437.5,76 439,76.2 440.5,75.9 442,76 443.5,75.6 445,75.5 446.5,74.9 448,75.1 449.5,75.5 451,75.9 452.5,75.9 454,75.5 455.5,75.7 457,75.8 458.5,76.1 460,75.9 461.5,76.2 463,76.2 464.5,76.6 466,76.8 467.5,76.7 469,75.7 470.5,75.7 472,75.1 473.5,75 475,75.5 476.5,75.7 478,76 479.5,76.4 481,76 482.5,75.1 484,75.9 485.5,75.4 487,75.8 488.5,75.4 490,75.3 491.5,75.6 493,75.5 494.5,75.7 496,75.1 497.5,75 499,74.7 500.5,75.4 502,75.9 503.5,76.3 505,76.5 506.5,76.4 508,76.8 509.5,75.8 511,75.7 512.5,75.6 514,75.3 515.5,74.8 517,74.7 518.5,74.5 520,73.4 521.5,73 523,72.6 524.5,73.2 526,73.7 527.5,73.1 529,73.4 530.5,73.4 532,73.5 533.5,73.6 535,73.8 536.5,73.8 538,73.8 539.5,72.7 541,71.8 542.5,71.4 544,70.2 545.5,67.9 547,64.9 548.5,60 550,53.7 551.5,47.9 553,42.5 554.5,40.2 556,33.9 557.5,30.4 559,25.2 560.5,22.9 562,20.7 563.5,19.3 565,18.8 566.5,17.7 568,18.6 569.5,18.4 571,19.4 572.5,19.2 574,19 575.5,21.3 577,19.3 578.5,19.9 580,21.7 581.5,25.6 583,28.8 584.5,27.9 586,26.8 587.5,26.8 589,25.5 590.5,25.5 592,26.1 593.5,27.8 595,27.4 596.5,27.2 598,24.9 599.5,24.6 601,25.5 602.5,24.6 604,27.2 605.5,26.7 607,26.6 608.5,24.8 610,24 611.5,24.6 613,24.6 614.5,22.9 616,22.4 617.5,22.1 619,22.2 620.5,22.8 622,23.2 623.5,24.5 625,24.5 626.5,25.3 628,23.8 629.5,25.7 631,24 632.5,24.6 634,24.4 635.5,25.3 637,24.9 638.5,23.6 640,23.8 641.5,25.9 643,24.7 644.5,24.3 646,23.2 647.5,23 649,22.3 650.5,23.4 652,23.8 653.5,25.7 655,25 656.5,25.4 658,27.3 659.5,25.8 661,25.3 662.5,25 664,25.4 665.5,24.9 667,24 668.5,22.9 670,23.5 671.5,23.6 673,23.2 674.5,23.2 676,22.9"/><polyline points="413.5,72 415,72 416.5,71.3 418,71.5 419.5,71.5 421,71.7 422.5,71 424,70.8 425.5,70.6 427,70.9 428.5,70.7 430,70.9 431.5,70.7 433,70.6 434.5,71.1 436,70.9 437.5,71 439,71 440.5,70.4 442,70.1 443.5,69.6 445,69.6 446.5,70.3 448,70.7 449.5,70.7 451,70.4 452.5,70.5 454,70.1 455.5,70.2 457,70.3 458.5,70.6 460,70.9 461.5,70.5 463,69.9 464.5,69.6 466,69 467.5,69 469,68.7 470.5,69.5 472,68.7 473.5,68.8 475,68.2 476.5,68.4 478,68.1 479.5,68.5 481,68.6 482.5,68.9 484,69 485.5,68.8 487,68.2 488.5,68.7 490,69 491.5,69.2 493,69 494.5,69.2 496,69.3 497.5,69.5 499,68.7 500.5,68.5 502,68.7 503.5,69 505,68.9 506.5,69.2 508,68.6 509.5,68.5 511,67.1 512.5,68.1 514,68.2 515.5,67.8 517,66.9 518.5,66.4 520,65.9 521.5,65.5 523,65.4 524.5,65.9 526,66.7 527.5,66.3 529,66.3 530.5,66.6 532,66.5 533.5,66.6 535,66.6 536.5,66.4 538,66.4 539.5,65.7 541,64.7 542.5,62.9 544,58.6 545.5,53.9 547,48.2 548.5,43.1 550,40.4 551.5,35.8 553,31.9 554.5,28.5 556,27.7 557.5,24.9 559,25.2 560.5,26.2 562,26.8 563.5,26 565,25.5 566.5,25.2 568,25.7 569.5,25 571,25.6 572.5,25.9 574,27.7 575.5,26.7 577,28.8 578.5,29.1 580,30.7 581.5,31.5 583,32.5 584.5,33.4 586,33 587.5,33.3 589,31.2 590.5,31.2 592,29.7 593.5,30.6 595,32 596.5,30.5 598,29.9 599.5,29 601,30.1 602.5,29.4 604,30.1 605.5,30.1 607,30 608.5,29 610,26.9 611.5,27.2 613,27.3 614.5,27.6 616,27.5 617.5,27.2 619,28.6 620.5,28.1 622,28.8 623.5,27.6 625,27.3 626.5,28 628,28.3 629.5,26.4 631,28.9 632.5,27.4 634,26.2 635.5,27.7 637,27.2 638.5,28.2 640,29.3 641.5,29.1 643,28 644.5,26.3 646,24.8 647.5,26.3 649,25.4 650.5,25.1 652,25.7 653.5,26.4 655,26.7 656.5,28.2 658,29.6 659.5,30.2 661,28.7 662.5,27.2 664,28.6 665.5,29.7 667,31 668.5,30.5 670,31.8 671.5,29.6 673,28.5 674.5,27.1 676,28.2"/><polyline points="413.5,72.6 415,72 416.5,72.3 418,72.2 419.5,72.2 421,72 422.5,71.9 424,72 425.5,73 427,73 428.5,72.4 430,72.3 431.5,72.6 433,72.8 434.5,72.8 436,72.7 437.5,72.7 439,72.8 440.5,72.8 442,72.7 443.5,73.4 445,73.3 446.5,73.5 448,73.2 449.5,73.1 451,72.5 452.5,71.4 454,71 455.5,71.3 457,72.1 458.5,71.8 460,72 461.5,72.4 463,72.5 464.5,72.4 466,72.1 467.5,72.7 469,72.3 470.5,72.1 472,72.2 473.5,72.3 475,71.9 476.5,72.4 478,71.9 479.5,72.1 481,72.3 482.5,72.8 484,72.2 485.5,71.4 487,71.1 488.5,71.8 490,71.6 491.5,70.5 493,71 494.5,71.2 496,71.6 497.5,71.1 499,71.7 500.5,71.1 502,70.9 503.5,69.7 505,70 506.5,70.4 508,69.9 509.5,70.2 511,70.2 512.5,70.5 514,70.4 515.5,70.7 517,70.6 518.5,70.7 520,70.2 521.5,69.9 523,69.2 524.5,69 526,69.7 527.5,70.1 529,70.7 530.5,70.1 532,70 533.5,70.6 535,70.5 536.5,70.4 538,69.1 539.5,68.9 541,67.5 542.5,67.2 544,65.7 545.5,64.3 547,62.4 548.5,60 550,55.5 551.5,51.5 553,49.3 554.5,46.1 556,42.2 557.5,40.4 559,37.9 560.5,37.7 562,36.1 563.5,36.6 565,38.1 566.5,37.1 568,34 569.5,33.6 571,33 572.5,30.9 574,30.2 575.5,32.4 577,33.1 578.5,31.4 580,30.7 581.5,33.8 583,37.7 584.5,40 586,39.9 587.5,41.3 589,42.2 590.5,42.2 592,42.8 593.5,43.6 595,45.1 596.5,43.9 598,43.1 599.5,41.9 601,41.2 602.5,43.4 604,44.7 605.5,43.9 607,43.4 608.5,42.5 610,39.5 611.5,37.6 613,38.5 614.5,36.9 616,36.8 617.5,35.2 619,37 620.5,39.5 622,37.9 623.5,37 625,36.8 626.5,37.1 628,38.2 629.5,38.5 631,40.4 632.5,40.7 634,39.8 635.5,39.9 637,40.8 638.5,41.5 640,40.6 641.5,39.7 643,38.4 644.5,38.4 646,37.8 647.5,39.1 649,41 650.5,41.3 652,42.1 653.5,41.8 655,41.2 656.5,41.3 658,40.3 659.5,41.6 661,40.8 662.5,41 664,42.4 665.5,42.6 667,41.9 668.5,40.3 670,41.3 671.5,40.1 673,39.3 674.5,38.3 676,39.1"/><polyline points="413.5,77.4 415,77.5 416.5,77.6 418,77.6 419.5,77.4 421,77.3 422.5,77.2 424,77 425.5,76.5 427,76.4 428.5,76.5 430,76.6 431.5,76.6 433,76.4 434.5,76.6 436,76.3 437.5,76.3 439,76.6 440.5,76.9 442,76.8 443.5,76.5 445,76.5 446.5,76.5 448,75.6 449.5,75.8 451,75.6 452.5,75.8 454,75.7 455.5,75.7 457,75.9 458.5,75.9 460,75.4 461.5,75.4 463,75.5 464.5,75.4 466,75.5 467.5,75.4 469,74.9 470.5,75.2 472,75.3 473.5,75.5 475,76 476.5,76.1 478,75.9 479.5,75.5 481,76 482.5,76.9 484,76.6 485.5,76 487,75.5 488.5,76.2 490,76.5 491.5,77 493,75.8 494.5,75.3 496,74.8 497.5,74.8 499,75.1 500.5,75 502,75.4 503.5,75.3 505,75.2 506.5,75.2 508,75.4 509.5,75.8 511,75.3 512.5,74.9 514,74.5 515.5,73.7 517,73.4 518.5,73.4 520,74.1 521.5,74.1 523,73.6 524.5,72.4 526,71.8 527.5,71.9 529,72.2 530.5,72.6 532,72.1 533.5,71.9 535,71.6 536.5,70.4 538,68.7 539.5,66.5 541,63.5 542.5,59.6 544,56 545.5,49.6 547,43.9 548.5,37.6 550,33.2 551.5,29.3 553,26.9 554.5,24.6 556,26.3 557.5,26.7 559,26.5 560.5,26 562,24.3 563.5,21.8 565,19.6 566.5,21.5 568,19.9 569.5,21.7 571,19.6 572.5,22.4 574,23.2 575.5,24.3 577,24 578.5,23.3 580,24.6 581.5,25.6 583,27.5 584.5,27 586,27.3 587.5,26.6 589,26.5 590.5,29.2 592,30 593.5,31.1 595,30.8 596.5,30 598,29.9 599.5,29.9 601,28.2 602.5,27.8 604,27 605.5,25.1 607,24.5 608.5,23.6 610,24.7 611.5,25.6 613,25.6 614.5,25.9 616,28 617.5,28.5 619,27 620.5,27.3 622,26.3 623.5,27.2 625,27 626.5,28.4 628,27.8 629.5,25.7 631,24.5 632.5,25.3 634,27.4 635.5,26.4 637,25.6 638.5,23.5 640,22.6 641.5,21.1 643,20.3 644.5,19.6 646,20.2 647.5,20.8 649,19.5 650.5,19.8 652,20.2 653.5,20.1 655,20.7 656.5,21.3 658,20.2 659.5,20.9 661,21.2 662.5,22.6 664,23 665.5,22.1 667,22.7 668.5,22.7 670,23 671.5,22.9 673,22.6 674.5,21.9 676,21.7"/><polyline points="413.5,71.8 415,71.6 416.5,72.2 418,72.7 419.5,73.2 421,72.7 422.5,72.3 424,72.2 425.5,71.7 427,71.2 428.5,70.9 430,70.2 431.5,69.7 433,70.2 434.5,70.5 436,70.7 437.5,70.7 439,70.6 440.5,71 442,71.4 443.5,71.6 445,71.9 446.5,72.3 448,72.1 449.5,72.2 451,71.9 452.5,71.5 454,71.5 455.5,71 457,70.9 458.5,70.9 460,70.8 461.5,71.1 463,71.5 464.5,70.9 466,70.8 467.5,70.2 469,70.6 470.5,70.2 472,70.5 473.5,70.5 475,70.5 476.5,70.2 478,69.6 479.5,69.7 481,69 482.5,68.9 484,68.7 485.5,69.3 487,69 488.5,68.9 490,68.6 491.5,69.3 493,69.8 494.5,69.4 496,69.9 497.5,69.5 499,69.2 500.5,68.8 502,68.6 503.5,67.8 505,68.1 506.5,68.7 508,69.7 509.5,70.4 511,68.8 512.5,68.5 514,68.5 515.5,68.1 517,67.6 518.5,67.3 520,67.2 521.5,67.8 523,67.7 524.5,67.6 526,67.9 527.5,67.7 529,67.2 530.5,67.4 532,67.4 533.5,67.7 535,68 536.5,68 538,66.6 539.5,66.1 541,64.9 542.5,63.8 544,61.4 545.5,57.6 547,53.2 548.5,50.2 550,46 551.5,42.4 553,38.1 554.5,35.5 556,32.3 557.5,30.9 559,26.8 560.5,26.2 562,29 563.5,30.6 565,29.2 566.5,28 568,26 569.5,26.5 571,28.2 572.5,29.1 574,29.2 575.5,27 577,26.1 578.5,27.8 580,29.7 581.5,29.7 583,32.7 584.5,35.7 586,35.8 587.5,34.4 589,33.3 590.5,34.6 592,34.5 593.5,34.7 595,36.6 596.5,36.7 598,35.5 599.5,32.6 601,32.3 602.5,34.4 604,34.7 605.5,34.7 607,33.8 608.5,32.7 610,32.2 611.5,30.6 613,31.6 614.5,32.2 616,33.1 617.5,32.9 619,32.7 620.5,31.6 622,32.2 623.5,31.5 625,31.9 626.5,33 628,32.6 629.5,31.4 631,31.3 632.5,29.5 634,31.3 635.5,31.5 637,32.9 638.5,32.8 640,33.9 641.5,32.5 643,33.5 644.5,32.6 646,32.6 647.5,32.5 649,33 650.5,32.4 652,32.5 653.5,30.6 655,28.3 656.5,27.2 658,25.7 659.5,27.1 661,28 662.5,28.3 664,27.4 665.5,27.1 667,29 668.5,29 670,28.9 671.5,28.1 673,28.6 674.5,28.6 676,28.3"/><polyline points="413.5,69.8 415,70.2 416.5,70.7 418,71.1 419.5,70.9 421,70.3 422.5,69.7 424,69.2 425.5,69.1 427,69.3 428.5,69.5 430,69.1 431.5,68.6 433,68.4 434.5,68.2 436,68.8 437.5,68.5 439,68.5 440.5,68.1 442,68.7 443.5,68.1 445,68.2 446.5,68 448,68.6 449.5,68.1 451,68.3 452.5,69.1 454,69.9 455.5,70.1 457,69 458.5,69.3 460,69.1 461.5,69.3 463,69 464.5,68.7 466,68.5 467.5,68.1 469,67.7 470.5,67.7 472,67.9 473.5,68.1 475,68.3 476.5,68.4 478,68.3 479.5,68.3 481,68.7 482.5,68.7 484,68.9 485.5,69.2 487,69.8 488.5,69.6 490,69.5 491.5,69.1 493,68.6 494.5,68.1 496,67.4 497.5,67.5 499,68.1 500.5,68 502,67.5 503.5,67.5 505,66.6 506.5,66.8 508,66.7 509.5,67.4 511,67.8 512.5,68 514,68.1 515.5,67.7 517,67.1 518.5,66.4 520,67.2 521.5,67.8 523,68.1 524.5,68.3 526,67.9 527.5,68.5 529,68.2 530.5,67.8 532,67.6 533.5,68.2 535,67.5 536.5,66.3 538,65.2 539.5,64 541,62.8 542.5,60 544,56.5 545.5,52.1 547,47.6 548.5,41.1 550,35.4 551.5,29.8 553,25.7 554.5,24.4 556,21 557.5,21.2 559,22.2 560.5,22.9 562,20.9 563.5,21 565,19.2 566.5,19 568,18.6 569.5,17.1 571,19.3 572.5,19.4 574,20.4 575.5,19.9 577,20.2 578.5,20.2 580,22.2 581.5,22.3 583,22.6 584.5,22.9 586,25 587.5,23.3 589,24.1 590.5,23.7 592,24.9 593.5,24.3 595,23.6 596.5,23.9 598,24.9 599.5,27.7 601,26.7 602.5,26.6 604,27.1 605.5,26.5 607,27.2 608.5,27.2 610,27.1 611.5,26.5 613,25.1 614.5,22.5 616,22.4 617.5,22.9 619,23.8 620.5,24.1 622,24.6 623.5,23.8 625,24 626.5,22 628,22.4 629.5,22.9 631,22.9 632.5,22.3 634,23 635.5,23.8 637,23.5 638.5,23.5 640,23.7 641.5,24.9 643,24.1 644.5,23.4 646,22.4 647.5,22.8 649,23.4 650.5,22.4 652,22.2 653.5,21.9 655,21.9 656.5,21.7 658,22.6 659.5,21.5 661,20.6 662.5,19 664,20.1 665.5,20.9 667,21.4 668.5,21.9 670,20.9 671.5,19.6 673,20 674.5,21.2 676,21.4"/><polyline points="413.5,77 415,77.4 416.5,77.7 418,77.9 419.5,77.8 421,77.4 422.5,76.7 424,76.9 425.5,76.5 427,76.7 428.5,76.8 430,76.8 431.5,76.5 433,76.5 434.5,75.3 436,75.9 437.5,75.5 439,75.9 440.5,75.4 442,75 443.5,75.3 445,76.1 446.5,75.7 448,75.6 449.5,76.3 451,76 452.5,76.5 454,76.2 455.5,76.6 457,76.2 458.5,75.5 460,75.3 461.5,75.6 463,75.9 464.5,75.5 466,76 467.5,75.7 469,75.9 470.5,75.4 472,75.7 473.5,75.6 475,75.7 476.5,75.4 478,75.2 479.5,74 481,74.1 482.5,74.5 484,74.3 485.5,74.6 487,74.1 488.5,75 490,74.5 491.5,75.2 493,74.8 494.5,75.1 496,74.2 497.5,74.2 499,74.7 500.5,75.2 502,74.8 503.5,74.9 505,74.7 506.5,74.7 508,74.4 509.5,74.3 511,74.1 512.5,73.9 514,72.7 515.5,72.9 517,72.9 518.5,72.8 520,72.2 521.5,71.7 523,72.3 524.5,72.3 526,73 527.5,73.1 529,73.2 530.5,72.5 532,71.9 533.5,71.3 535,70.9 536.5,71.9 538,71.5 539.5,71.6 541,71 542.5,71.4 544,69.7 545.5,68.6 547,65.7 548.5,65.2 550,62.4 551.5,58.3 553,52.6 554.5,49.3 556,43.5 557.5,38.4 559,36.9 560.5,35.6 562,34.7 563.5,34.9 565,33.5 566.5,30.7 568,31.3 569.5,33.7 571,35.1 572.5,32.6 574,31.5 575.5,31.7 577,33.3 578.5,30.9 580,32.4 581.5,33 583,32.4 584.5,34.9 586,35.4 587.5,36 589,37.4 590.5,35.1 592,34.7 593.5,35.2 595,35.4 596.5,36.7 598,37.5 599.5,37.5 601,36.4 602.5,37.4 604,38.4 605.5,39.2 607,38.6 608.5,37.6 610,38.2 611.5,37.5 613,35.8 614.5,35.3 616,36 617.5,35.9 619,34.1 620.5,35.5 622,37.3 623.5,38.5 625,36.6 626.5,38 628,39.2 629.5,39.3 631,39.2 632.5,36.6 634,36.9 635.5,35.8 637,34.8 638.5,34.3 640,35.3 641.5,34.1 643,34.4 644.5,35.9 646,34.6 647.5,37.4 649,36.9 650.5,34.7 652,33.9 653.5,34.9 655,35.6 656.5,36.8 658,39.3 659.5,38.9 661,38.8 662.5,36.8 664,36.2 665.5,35.9 667,36.8 668.5,37.5 670,35.8 671.5,36 673,35.5 674.5,36.8 676,37.1"/><polyline points="413.5,76.2 415,76.5 416.5,76.6 418,76.3 419.5,76.6 421,76.6 422.5,76.8 424,77.2 425.5,76.4 427,76.1 428.5,76.5 430,77.1 431.5,77.5 433,77.7 434.5,76.8 436,76.5 437.5,76.3 439,75.5 440.5,75.9 442,75.5 443.5,75.3 445,74.8 446.5,74.5 448,74 449.5,74.3 451,75.1 452.5,75.3 454,75.7 455.5,75.5 457,76 458.5,75.3 460,75.2 461.5,75 463,75.1 464.5,75.5 466,75.3 467.5,75.1 469,74.5 470.5,74.4 472,74.6 473.5,74.9 475,74.6 476.5,73.5 478,73.6 479.5,73.5 481,73.8 482.5,73.4 484,73.2 485.5,72.5 487,72.9 488.5,73.2 490,73.2 491.5,73.5 493,73.2 494.5,73.1 496,73.2 497.5,73.8 499,74.2 500.5,74 502,73.8 503.5,73.8 505,74.8 506.5,74.6 508,74.7 509.5,75.1 511,75.1 512.5,74.7 514,73.8 515.5,73.6 517,73.2 518.5,72.9 520,72.5 521.5,73.1 523,73.1 524.5,72.6 526,72.6 527.5,71.9 529,72.6 530.5,72.5 532,72.2 533.5,72.4 535,72.1 536.5,72 538,71.9 539.5,71.2 541,71.3 542.5,70.3 544,69.3 545.5,67.2 547,65.6 548.5,62.4 550,60.6 551.5,55.6 553,51.6 554.5,47 556,42.2 557.5,38.3 559,37.3 560.5,32.1 562,32 563.5,30.5 565,31 566.5,30.2 568,28.6 569.5,28.1 571,28 572.5,29.2 574,29.8 575.5,32 577,32.7 578.5,32.8 580,32.1 581.5,35.1 583,38.4 584.5,39.8 586,38.5 587.5,40 589,38.2 590.5,39.1 592,37.2 593.5,37.1 595,38.2 596.5,38.8 598,39.2 599.5,37.4 601,36.1 602.5,36.4 604,38.3 605.5,38.7 607,36.8 608.5,37.4 610,35.4 611.5,36 613,36.4 614.5,38.5 616,40.9 617.5,39.9 619,38.7 620.5,37.1 622,39.9 623.5,40.1 625,41.1 626.5,41.7 628,41.3 629.5,39.9 631,38.4 632.5,38.6 634,40 635.5,39.4 637,37.8 638.5,35.9 640,35.4 641.5,32.9 643,34.1 644.5,35.4 646,35.5 647.5,34.6 649,32.6 650.5,33.5 652,34.9 653.5,35.1 655,35.5 656.5,38.2 658,37.5 659.5,37.7 661,34.6 662.5,35.7 664,36.3 665.5,37.5 667,38.4 668.5,39.1 670,37.6 671.5,36 673,34.9 674.5,35.1 676,36"/><polyline points="413.5,73.7 415,73.6 416.5,74.2 418,74.3 419.5,74.5 421,74.2 422.5,74.3 424,74.5 425.5,74.4 427,74.2 428.5,74.5 430,73.9 431.5,73.1 433,73.2 434.5,73.2 436,73.2 437.5,73 439,72.8 440.5,72.8 442,73.2 443.5,72.8 445,73 446.5,72.6 448,72 449.5,72.1 451,72.8 452.5,72.8 454,72.8 455.5,73 457,73.2 458.5,73.3 460,73.6 461.5,73.7 463,74.4 464.5,73.6 466,73 467.5,73.1 469,73.4 470.5,72.9 472,72.8 473.5,72.6 475,72.3 476.5,72.6 478,72.5 479.5,73.3 481,73.6 482.5,73.6 484,73.4 485.5,73.9 487,74 488.5,74.3 490,73.8 491.5,73.4 493,72.5 494.5,72.6 496,72.5 497.5,73.3 499,72.6 500.5,71.9 502,71.7 503.5,71.2 505,71.4 506.5,71.6 508,72.5 509.5,71.7 511,70.8 512.5,70.3 514,70.6 515.5,71.7 517,72 518.5,71.7 520,71.3 521.5,71.2 523,69.9 524.5,69.8 526,69.5 527.5,69.5 529,69.8 530.5,70.2 532,69.9 533.5,70.1 535,70.2 536.5,69.9 538,69.8 539.5,68.8 541,68.5 542.5,66.8 544,65.3 545.5,63.5 547,60.5 548.5,58.1 550,54.8 551.5,49.9 553,47.7 554.5,39.6 556,36.1 557.5,32.9 559,32.2 560.5,30.2 562,28.6 563.5,26.3 565,23.2 566.5,24.4 568,24 569.5,24.4 571,23.9 572.5,25.1 574,25.7 575.5,25.1 577,26.4 578.5,28.8 580,29.2 581.5,30.1 583,28.9 584.5,31.2 586,31.2 587.5,32.6 589,33.3 590.5,33.8 592,34.6 593.5,32 595,33.9 596.5,34.2 598,35 599.5,33.2 601,34 602.5,34.2 604,36.1 605.5,37.5 607,35.3 608.5,33.6 610,31.8 611.5,30.8 613,32.3 614.5,33.5 616,34.8 617.5,34.1 619,31.8 620.5,31.5 622,33.3 623.5,32.5 625,31.7 626.5,32 628,35.3 629.5,35.6 631,36.1 632.5,35.9 634,36 635.5,35.2 637,36.1 638.5,38.1 640,36.5 641.5,38.3 643,33.8 644.5,33.3 646,32 647.5,33.5 649,34.1 650.5,33.8 652,29.8 653.5,28.7 655,30.5 656.5,31.1 658,32.3 659.5,31.5 661,31.8 662.5,29.8 664,30.4 665.5,30.8 667,31.6 668.5,33.5 670,32.6 671.5,32.4 673,32.4 674.5,33.8 676,34.8"/><polyline points="413.5,71.7 415,71.4 416.5,71.3 418,71.9 419.5,71.8 421,72.4 422.5,72.5 424,73 425.5,73.2 427,73.1 428.5,73.4 430,73.2 431.5,73.3 433,73.2 434.5,73.3 436,72.9 437.5,72.6 439,72.8 440.5,72.3 442,72.2 443.5,72.4 445,72 446.5,72.3 448,71.9 449.5,72.6 451,72.3 452.5,72.5 454,71.6 455.5,72 457,71.9 458.5,72 460,71.4 461.5,70.7 463,70.6 464.5,70.8 466,70.5 467.5,70.5 469,70.1 470.5,70.6 472,70.5 473.5,71.1 475,71.6 476.5,71.5 478,71.5 479.5,71.8 481,71.5 482.5,71.1 484,71 485.5,71.6 487,71.5 488.5,71.3 490,71.1 491.5,72.4 493,72.6 494.5,72.1 496,71.9 497.5,71.6 499,71.2 500.5,71.1 502,71 503.5,70.5 505,70.7 506.5,70.2 508,69.6 509.5,70 511,69.8 512.5,70.3 514,71 515.5,71.5 517,71.7 518.5,72.6 520,71.4 521.5,70.3 523,69.6 524.5,69 526,68.7 527.5,67.9 529,67.3 530.5,67.5 532,68.5 533.5,68.7 535,69 536.5,68.5 538,68.3 539.5,69.6 541,69.6 542.5,69.3 544,67.5 545.5,67.7 547,65.4 548.5,63.6 550,58.9 551.5,55 553,52.8 554.5,47.1 556,44.2 557.5,36.8 559,33.9 560.5,32.3 562,32.4 563.5,31 565,28.5 566.5,26.7 568,23.5 569.5,24.6 571,25 572.5,28.4 574,27.5 575.5,29.2 577,29.7 578.5,31.3 580,32 581.5,33.6 583,33.9 584.5,35.1 586,35.6 587.5,35.6 589,37.5 590.5,40.4 592,40.8 593.5,38.9 595,39.5 596.5,38.4 598,37.8 599.5,37.2 601,38.8 602.5,39.2 604,38.4 605.5,35.5 607,35.4 608.5,36.6 610,36.7 611.5,37.1 613,37.3 614.5,35.1 616,33.8 617.5,33.8 619,33.8 620.5,33.5 622,34 623.5,35.8 625,37.4 626.5,39 628,36.9 629.5,36.3 631,37.3 632.5,37 634,38.2 635.5,39.4 637,37.6 638.5,36.2 640,33.2 641.5,33.6 643,35.7 644.5,36.2 646,36.1 647.5,35.3 649,34 650.5,33 652,34.5 653.5,34.3 655,35.2 656.5,35.2 658,34.9 659.5,35.1 661,34.5 662.5,35.3 664,35 665.5,35.5 667,36.2 668.5,36.3 670,35.1 671.5,33.6 673,33.1 674.5,33.9 676,34.6"/><polyline points="413.5,67.7 415,67.5 416.5,67.1 418,67.2 419.5,67.3 421,67.7 422.5,67.7 424,67.5 425.5,67.4 427,67.2 428.5,67.1 430,67.1 431.5,67.1 433,67 434.5,67 436,67.2 437.5,67 439,66.6 440.5,66 442,65.9 443.5,66.9 445,67.8 446.5,67.4 448,66.9 449.5,66.6 451,66.3 452.5,66.9 454,66.6 455.5,67 457,66.9 458.5,66.8 460,65.8 461.5,66.3 463,66 464.5,66.9 466,66.4 467.5,65.4 469,65.5 470.5,65.1 472,65.3 473.5,65.3 475,65.5 476.5,65.7 478,66.3 479.5,66.7 481,66.9 482.5,67.2 484,66.6 485.5,66.8 487,67 488.5,67.1 490,66.8 491.5,66.2 493,65.9 494.5,66.1 496,66.1 497.5,65.5 499,65.3 500.5,65 502,65.6 503.5,64.9 505,64.7 506.5,64.6 508,64.8 509.5,64.2 511,64.2 512.5,64.1 514,64.9 515.5,65.3 517,65.4 518.5,65.3 520,64.5 521.5,64.2 523,63.9 524.5,64.1 526,65 527.5,65 529,64.4 530.5,64 532,63.7 533.5,63.6 535,62.8 536.5,62 538,62.2 539.5,63.4 541,62.4 542.5,60.6 544,58.3 545.5,57.4 547,56.1 548.5,54.2 550,50.1 551.5,45 553,40 554.5,34.5 556,30.9 557.5,29.5 559,30.9 560.5,30.8 562,31.3 563.5,31.4 565,31.3 566.5,30.1 568,29.1 569.5,29.4 571,31 572.5,34 574,35 575.5,36.9 577,38.9 578.5,39.2 580,41.6 581.5,42.3 583,43.6 584.5,44.8 586,45.8 587.5,46.2 589,47.2 590.5,47.2 592,45.2 593.5,43 595,44.2 596.5,43.5 598,43.5 599.5,42.3 601,40.5 602.5,40.6 604,40.8 605.5,43.2 607,43.2 608.5,43.2 610,42.3 611.5,42.5 613,44.6 614.5,44.8 616,44.9 617.5,44.4 619,44.8 620.5,45.5 622,46.3 623.5,45.5 625,43 626.5,43.5 628,44.5 629.5,44.4 631,43.7 632.5,43.9 634,43.6 635.5,42.6 637,41.5 638.5,41.6 640,41.7 641.5,43.4 643,42 644.5,41.5 646,39.5 647.5,39.8 649,40 650.5,40.9 652,39.4 653.5,39.6 655,41.3 656.5,39.8 658,41.4 659.5,40.3 661,41.9 662.5,39.8 664,39.6 665.5,39.7 667,39.3 668.5,38.8 670,39.4 671.5,39.2 673,38.6 674.5,39.3 676,40.1"/><polyline points="413.5,70 415,70.3 416.5,70.5 418,70.5 419.5,70.4 421,70.2 422.5,70.1 424,70 425.5,70 427,70 428.5,69.8 430,69.8 431.5,69.5 433,69.8 434.5,68.9 436,69 437.5,68.4 439,69 440.5,69.6 442,69.1 443.5,69.3 445,69.1 446.5,70.2 448,70.4 449.5,70.5 451,70.3 452.5,70.1 454,69.7 455.5,69.1 457,69.5 458.5,69.7 460,69.8 461.5,69.2 463,69.1 464.5,69.3 466,68.7 467.5,68 469,67.2 470.5,67.5 472,67.4 473.5,67.6 475,67.7 476.5,67.8 478,68.2 479.5,68.2 481,68.6 482.5,68.1 484,68.5 485.5,69.4 487,69.6 488.5,70 490,69.3 491.5,69.7 493,69.3 494.5,69.2 496,69.3 497.5,68.7 499,68.5 500.5,68.6 502,68.6 503.5,68.5 505,67.8 506.5,67.1 508,67.5 509.5,67 511,67.5 512.5,66.9 514,66.4 515.5,65.3 517,66.1 518.5,66.7 520,66.8 521.5,66.7 523,65.6 524.5,65.8 526,65.9 527.5,66.5 529,66.8 530.5,66.6 532,66.8 533.5,66 535,66.1 536.5,65.8 538,65 539.5,63.6 541,61.5 542.5,58.2 544,54 545.5,49.9 547,45.3 548.5,40.1 550,35.7 551.5,31.8 553,28.9 554.5,28.8 556,24.8 557.5,23.6 559,26.8 560.5,26.3 562,26.9 563.5,29.1 565,26.5 566.5,25.2 568,27.1 569.5,27.4 571,28.2 572.5,26.6 574,26.1 575.5,27.4 577,30.7 578.5,30.3 580,32.2 581.5,31.6 583,30.4 584.5,30.7 586,30.2 587.5,30.2 589,29 590.5,28.9 592,28.9 593.5,29.7 595,28.4 596.5,28 598,30.5 599.5,31.5 601,30.9 602.5,29.4 604,29.3 605.5,30.4 607,32.1 608.5,30.7 610,31.7 611.5,31.2 613,30.8 614.5,30.2 616,31.7 617.5,32.2 619,30.5 620.5,32 622,32.1 623.5,33.6 625,30.5 626.5,30.1 628,28.4 629.5,28.5 631,28.1 632.5,29.9 634,29.4 635.5,30.4 637,28.9 638.5,29.7 640,31.4 641.5,29.4 643,31.2 644.5,30.4 646,29.1 647.5,28.2 649,30.4 650.5,29.9 652,29.5 653.5,27 655,26.8 656.5,29.3 658,28.2 659.5,27.4 661,28.4 662.5,29.1 664,30.5 665.5,31 667,31.4 668.5,30.1 670,30.7 671.5,28.9 673,28.7 674.5,28.6 676,29"/><polyline points="413.5,76.2 415,77 416.5,77.3 418,77.6 419.5,76.6 421,76.3 422.5,76.3 424,76.3 425.5,76.4 427,76.5 428.5,77.2 430,76.9 431.5,76.5 433,75.4 434.5,75.9 436,76.2 437.5,75.7 439,75.4 440.5,74.9 442,75.2 443.5,74.9 445,75.1 446.5,75.9 448,76.5 449.5,75.6 451,75 452.5,75.3 454,75.8 455.5,75.9 457,75.2 458.5,74.8 460,75.1 461.5,74.7 463,74.7 464.5,74.8 466,74.9 467.5,75 469,75.1 470.5,74.9 472,75.6 473.5,76 475,75.5 476.5,75.7 478,75.4 479.5,75.9 481,75.6 482.5,75.9 484,75.6 485.5,75.3 487,73.9 488.5,72.8 490,72.1 491.5,72.5 493,72.9 494.5,73.3 496,73.7 497.5,73.5 499,73.2 500.5,73.3 502,73.6 503.5,73.3 505,73.3 506.5,73.1 508,73.8 509.5,74.4 511,74.1 512.5,73 514,73.1 515.5,72.7 517,73 518.5,72.5 520,72.3 521.5,71.9 523,71.9 524.5,72.2 526,71.9 527.5,71.6 529,71.3 530.5,70.7 532,70.7 533.5,70 535,70.8 536.5,71.4 538,71 539.5,70 541,69.9 542.5,68.9 544,67.7 545.5,64.3 547,61 548.5,57.2 550,50.5 551.5,44.4 553,39.2 554.5,33.8 556,29.8 557.5,28.3 559,26.1 560.5,23.6 562,22.1 563.5,21.6 565,21.9 566.5,21.6 568,21.5 569.5,21.7 571,22.4 572.5,22.1 574,24.8 575.5,24.1 577,24.1 578.5,22.6 580,24 581.5,25.3 583,26.6 584.5,27.5 586,28.4 587.5,29.6 589,28.4 590.5,29.6 592,29.3 593.5,28.7 595,28.4 596.5,27.6 598,27.7 599.5,27.7 601,26.5 602.5,28.3 604,26.6 605.5,26.3 607,26.2 608.5,26.1 610,26.7 611.5,28.5 613,27.7 614.5,28.2 616,26.6 617.5,26.9 619,29 620.5,30.4 622,27.7 623.5,24.9 625,24.5 626.5,24.4 628,26.1 629.5,25.6 631,26.4 632.5,26.1 634,23.9 635.5,25.9 637,27.3 638.5,29.2 640,26.6 641.5,24.4 643,22.8 644.5,22.8 646,24.8 647.5,26 649,25.4 650.5,24.8 652,24.3 653.5,23.8 655,26.8 656.5,26.4 658,26.7 659.5,26.5 661,24.9 662.5,25.3 664,24.7 665.5,25.4 667,27 668.5,28.2 670,27.4 671.5,26.3 673,26.5 674.5,25.9 676,25.9"/><polyline points="413.5,71.2 415,71 416.5,70.5 418,69.7 419.5,69.9 421,69.6 422.5,70.2 424,70.3 425.5,70 427,69.8 428.5,70 430,70.1 431.5,69.7 433,69.7 434.5,69.9 436,70.3 437.5,70.3 439,70.5 440.5,71.3 442,71 443.5,70.7 445,69.3 446.5,70 448,69.6 449.5,70.4 451,69.6 452.5,69.8 454,69.5 455.5,69.4 457,68.8 458.5,68.1 460,68.3 461.5,68.2 463,68.9 464.5,69.2 466,69.5 467.5,69.3 469,68.6 470.5,68.4 472,68 473.5,68.5 475,68.5 476.5,68.2 478,67.6 479.5,67.7 481,67.7 482.5,68.7 484,68.5 485.5,68.4 487,68.1 488.5,68.6 490,68.9 491.5,68.4 493,67.4 494.5,67 496,68 497.5,67.5 499,66.6 500.5,66 502,66.1 503.5,66 505,65.6 506.5,65.7 508,66.9 509.5,66.8 511,66.6 512.5,66.5 514,66.9 515.5,66.5 517,66.3 518.5,67 520,67 521.5,66.9 523,66.7 524.5,67.2 526,66.8 527.5,65.7 529,64.7 530.5,65 532,65 533.5,65.4 535,66.2 536.5,65.3 538,64.7 539.5,63.3 541,62.5 542.5,61.5 544,59.5 545.5,57 547,53.9 548.5,50.3 550,44.8 551.5,40.4 553,36.5 554.5,35.5 556,33.6 557.5,30.4 559,31.8 560.5,32.2 562,32.7 563.5,30.2 565,30.8 566.5,32.1 568,32.3 569.5,32 571,33 572.5,34.5 574,36 575.5,36.8 577,37.6 578.5,39 580,38.6 581.5,40.2 583,39.7 584.5,38.7 586,39.4 587.5,40.4 589,38.8 590.5,37.1 592,37.8 593.5,38.9 595,39.8 596.5,39.7 598,39 599.5,39.7 601,39.5 602.5,38.9 604,40.3 605.5,39.6 607,39.8 608.5,38.3 610,38 611.5,37.9 613,39.3 614.5,38.8 616,39 617.5,39.4 619,40.4 620.5,41.4 622,41.5 623.5,41.3 625,40.2 626.5,40.9 628,40.7 629.5,41.6 631,41.9 632.5,42.3 634,43.3 635.5,42.4 637,43 638.5,42.3 640,43.5 641.5,41.3 643,41.5 644.5,40.4 646,39.3 647.5,37.7 649,38.9 650.5,38.3 652,38.5 653.5,38.5 655,39.6 656.5,40.2 658,38 659.5,37.1 661,36.6 662.5,36 664,35.4 665.5,34.7 667,34.8 668.5,35.1 670,35.5 671.5,36 673,37.2 674.5,39.1 676,38.5"/><polyline points="413.5,70.8 415,70.7 416.5,70.9 418,70.4 419.5,70.3 421,69.6 422.5,70.4 424,69.8 425.5,69.8 427,69.4 428.5,69 430,69.7 431.5,69.9 433,69.9 434.5,69.6 436,70.2 437.5,70 439,70.3 440.5,69.1 442,69.3 443.5,69.7 445,69.7 446.5,69.7 448,69.5 449.5,70.1 451,70.5 452.5,70.8 454,70.2 455.5,70.3 457,70.3 458.5,69.8 460,69.6 461.5,69.3 463,69.1 464.5,68.4 466,68.5 467.5,68.4 469,69 470.5,68.7 472,68.3 473.5,68.1 475,67.7 476.5,68.2 478,68.6 479.5,69.5 481,69.3 482.5,69.3 484,68.9 485.5,68.4 487,68.9 488.5,69.4 490,70.7 491.5,70.8 493,70.6 494.5,69.6 496,69.7 497.5,69.6 499,69.5 500.5,69.7 502,69.8 503.5,69.9 505,69.7 506.5,69.5 508,68.6 509.5,68.4 511,67.9 512.5,67.7 514,67 515.5,66.8 517,66.6 518.5,66.7 520,67.5 521.5,67.6 523,67.2 524.5,67.4 526,67.4 527.5,67.3 529,67.5 530.5,67.4 532,67.9 533.5,67.1 535,66.1 536.5,65 538,65.5 539.5,65 541,63.4 542.5,60.9 544,57.7 545.5,54.8 547,51.1 548.5,47.1 550,40.6 551.5,35.3 553,30.7 554.5,30 556,29.8 557.5,28.9 559,26 560.5,25.8 562,25.7 563.5,26.3 565,26.2 566.5,24.1 568,25 569.5,25.6 571,24 572.5,24.3 574,24.6 575.5,25.4 577,27.3 578.5,30.6 580,32.1 581.5,34 583,34.8 584.5,33.6 586,34.2 587.5,33.1 589,32.8 590.5,31.9 592,32.3 593.5,31.9 595,31.2 596.5,31.8 598,31.8 599.5,31.8 601,31.6 602.5,30.5 604,28.9 605.5,28.4 607,26.8 608.5,25.8 610,28.2 611.5,28.6 613,31.6 614.5,31.3 616,33.1 617.5,32.4 619,32 620.5,32 622,32.9 623.5,30.5 625,28.8 626.5,29.4 628,29.7 629.5,29.3 631,28.4 632.5,28.2 634,29.9 635.5,29.8 637,29.3 638.5,30.9 640,31.7 641.5,32.8 643,31.6 644.5,29.8 646,29 647.5,28.4 649,28.4 650.5,28.5 652,27.9 653.5,25.6 655,25.7 656.5,25.3 658,25.5 659.5,26.2 661,27.2 662.5,29.2 664,29 665.5,28.5 667,29.6 668.5,30.5 670,31.2 671.5,31.6 673,31.3 674.5,31.9 676,30.6"/><polyline points="413.5,74 415,73.9 416.5,73.7 418,74 419.5,74.7 421,74.7 422.5,74.5 424,74.5 425.5,74.5 427,74.4 428.5,74 430,73.9 431.5,73.7 433,73 434.5,72.1 436,72.2 437.5,72.7 439,73.2 440.5,73.2 442,73.8 443.5,73.3 445,72.8 446.5,72.6 448,72.8 449.5,73.4 451,73.5 452.5,73.1 454,72.7 455.5,72.5 457,71.8 458.5,72.4 460,72.2 461.5,72.8 463,73.4 464.5,73.7 466,73.7 467.5,73.2 469,73.2 470.5,73.9 472,74.4 473.5,74.2 475,73.9 476.5,73.6 478,73.1 479.5,73.2 481,73.1 482.5,73.5 484,73.7 485.5,73.4 487,73.1 488.5,73.1 490,72.6 491.5,72.9 493,72.5 494.5,72.3 496,71.6 497.5,70.7 499,70.6 500.5,70.8 502,71.1 503.5,70.8 505,70.7 506.5,70.3 508,71 509.5,70.3 511,70.4 512.5,69.2 514,69.3 515.5,69.8 517,69.2 518.5,69.8 520,70 521.5,70.2 523,70 524.5,70.1 526,70.9 527.5,71.2 529,71 530.5,70.3 532,70.3 533.5,70 535,70.4 536.5,70.6 538,70.1 539.5,68.8 541,68 542.5,67.9 544,67.5 545.5,66.8 547,65 548.5,60.9 550,56.3 551.5,51.7 553,48 554.5,45 556,41.6 557.5,36.4 559,33.5 560.5,31.8 562,33.9 563.5,31.4 565,31.5 566.5,30.2 568,31.4 569.5,28.9 571,28 572.5,25.9 574,25.6 575.5,27.9 577,28.9 578.5,29.1 580,30.4 581.5,31.5 583,32.9 584.5,33.3 586,35.2 587.5,36 589,37.2 590.5,38.1 592,37.7 593.5,38.9 595,37.4 596.5,35.5 598,35.4 599.5,36.4 601,38.4 602.5,37.4 604,37.6 605.5,36.2 607,37.8 608.5,37.8 610,38.9 611.5,38.8 613,38.6 614.5,39 616,37.2 617.5,37.3 619,35.8 620.5,37.3 622,37 623.5,38.5 625,39 626.5,37.4 628,36.6 629.5,35.6 631,37.2 632.5,36.2 634,35.8 635.5,32.6 637,33.3 638.5,33 640,33.7 641.5,34.5 643,35.9 644.5,35.5 646,35.9 647.5,35.6 649,36.2 650.5,36.6 652,39 653.5,38.6 655,39.6 656.5,38.5 658,37.4 659.5,37.5 661,38.4 662.5,37.4 664,36.3 665.5,35 667,35 668.5,35.4 670,36.4 671.5,36.3 673,35.8 674.5,34.2 676,33.8"/><polyline points="413.5,74.3 415,74.6 416.5,74.4 418,74.1 419.5,74.1 421,74.3 422.5,74.2 424,74.6 425.5,74.7 427,74.8 428.5,75 430,74.2 431.5,73.9 433,73.8 434.5,73.8 436,73.6 437.5,73.7 439,73.7 440.5,73.9 442,73.7 443.5,73.3 445,73.1 446.5,73.6 448,73.3 449.5,72.7 451,72.4 452.5,72.8 454,73.1 455.5,73.6 457,73.8 458.5,73.5 460,73.4 461.5,73.1 463,73.8 464.5,74.4 466,73.9 467.5,74.1 469,73.8 470.5,74.1 472,73.5 473.5,73 475,73.5 476.5,73.6 478,73.9 479.5,73.2 481,73.2 482.5,72.6 484,72.3 485.5,72.4 487,72.4 488.5,72.3 490,71.8 491.5,72 493,72.4 494.5,72.8 496,73 497.5,73 499,72.4 500.5,72.1 502,71.6 503.5,72.5 505,72.4 506.5,71.6 508,71.2 509.5,71.8 511,72.5 512.5,72.1 514,72.8 515.5,72 517,72.2 518.5,71.5 520,71 521.5,71 523,71 524.5,70.7 526,71 527.5,70.8 529,69.8 530.5,69.8 532,69.7 533.5,69.2 535,68.3 536.5,68.6 538,68.2 539.5,68.4 541,67 542.5,64.7 544,60.4 545.5,56.5 547,51.7 548.5,47.2 550,43.6 551.5,38.2 553,33.5 554.5,29.7 556,25.4 557.5,25.3 559,27.2 560.5,28.5 562,28.6 563.5,29.5 565,28.5 566.5,30.7 568,29.9 569.5,28.6 571,30.4 572.5,31.7 574,33.8 575.5,33.5 577,34.9 578.5,34.8 580,35.6 581.5,34.9 583,35.9 584.5,35.5 586,34.7 587.5,32.2 589,30.3 590.5,31.9 592,33.8 593.5,34.5 595,33.6 596.5,32.4 598,34.6 599.5,37.1 601,39.7 602.5,39.9 604,40.8 605.5,39.3 607,38.3 608.5,36.7 610,35.9 611.5,34.1 613,34.6 614.5,32.8 616,33 617.5,32.8 619,33 620.5,33 622,32.9 623.5,34.6 625,35.7 626.5,37.2 628,36.7 629.5,36.5 631,38.3 632.5,37.6 634,38.5 635.5,36.5 637,35.3 638.5,37 640,37.5 641.5,36.9 643,34.9 644.5,33.7 646,33.6 647.5,33.7 649,34.5 650.5,35.6 652,34.1 653.5,32.9 655,32.9 656.5,36.1 658,35 659.5,34.7 661,34.4 662.5,33.6 664,31.6 665.5,30.8 667,31.8 668.5,31.9 670,31.6 671.5,30.4 673,30 674.5,30.9 676,31.8"/><polyline points="413.5,72.7 415,72.4 416.5,72.5 418,72.6 419.5,72.8 421,72.7 422.5,72.3 424,73 425.5,73.3 427,72.8 428.5,72 430,71.1 431.5,70.8 433,70.6 434.5,70.8 436,71.8 437.5,72.2 439,72.2 440.5,71.9 442,71.4 443.5,71.5 445,71.5 446.5,71.8 448,71.3 449.5,71.1 451,69.9 452.5,70.2 454,70.9 455.5,70.8 457,71.4 458.5,70.8 460,70.8 461.5,70.4 463,71.1 464.5,71.8 466,72.6 467.5,72.4 469,71.9 470.5,72.1 472,71.6 473.5,71.2 475,70.9 476.5,71.5 478,71.6 479.5,70.3 481,70.5 482.5,71.4 484,71.5 485.5,71 487,70.1 488.5,69.9 490,70.9 491.5,71 493,71.2 494.5,71.3 496,70.9 497.5,70.7 499,70.2 500.5,69.7 502,69.2 503.5,69.4 505,69 506.5,68.8 508,68.9 509.5,68.6 511,69.5 512.5,68.8 514,68 515.5,67.2 517,66.9 518.5,67.6 520,68.2 521.5,68.3 523,68 524.5,67.9 526,67.5 527.5,67.7 529,68.6 530.5,69.4 532,69.9 533.5,69.9 535,69.2 536.5,69.4 538,68.6 539.5,68.2 541,66.5 542.5,65.2 544,62.4 545.5,59.6 547,54.7 548.5,50.3 550,44.4 551.5,37.7 553,31.8 554.5,31 556,27.2 557.5,26.8 559,23.5 560.5,19.4 562,15.7 563.5,12.8 565,15.1 566.5,17.5 568,19.8 569.5,16.4 571,15.5 572.5,17.2 574,20.1 575.5,21.5 577,20.4 578.5,20.1 580,20.3 581.5,22 583,20.2 584.5,20.9 586,24 587.5,24 589,24.4 590.5,24.5 592,22.9 593.5,23.8 595,23.7 596.5,23 598,25.8 599.5,25.7 601,24.2 602.5,25.2 604,25.2 605.5,26.4 607,28.9 608.5,29.3 610,28.3 611.5,26.4 613,23.8 614.5,24.3 616,24.6 617.5,25 619,25.4 620.5,24.3 622,22.9 623.5,21.9 625,25.3 626.5,25.5 628,28.4 629.5,26.8 631,26 632.5,26.3 634,24.9 635.5,25.8 637,24.9 638.5,25.8 640,24.8 641.5,25.2 643,23.4 644.5,22.7 646,21.8 647.5,21.6 649,23.9 650.5,24.7 652,24.2 653.5,24.4 655,24.5 656.5,25.2 658,25 659.5,25 661,26 662.5,24.8 664,23.4 665.5,23.2 667,23.7 668.5,23.2 670,24.3 671.5,24.6 673,25.3 674.5,25.1 676,22.9"/><polyline points="413.5,71.6 415,71.7 416.5,71.4 418,71.6 419.5,71.1 421,70.9 422.5,70.9 424,71 425.5,71.4 427,71.5 428.5,70.9 430,70.7 431.5,70.9 433,70.5 434.5,70.4 436,70.1 437.5,70.3 439,70.3 440.5,70.3 442,69.9 443.5,70.3 445,69.6 446.5,69.8 448,70.6 449.5,71.3 451,70.8 452.5,70.1 454,70.2 455.5,70.3 457,70.3 458.5,69.7 460,69.1 461.5,68.9 463,68.5 464.5,68.7 466,68.8 467.5,68.8 469,69.1 470.5,70.5 472,70.5 473.5,70.7 475,70.4 476.5,71 478,70.5 479.5,71.2 481,71.4 482.5,71.8 484,71.7 485.5,71.6 487,71.2 488.5,71.1 490,70.3 491.5,70.2 493,69.9 494.5,70.5 496,69.9 497.5,69.9 499,69.2 500.5,69.1 502,69.9 503.5,70 505,70.3 506.5,69.7 508,69.8 509.5,69.7 511,69.7 512.5,69.6 514,69.2 515.5,69.4 517,68.3 518.5,68 520,67.7 521.5,69.1 523,68.6 524.5,68.3 526,67.9 527.5,67.9 529,67.5 530.5,66.6 532,66.6 533.5,67 535,67.3 536.5,66.8 538,66 539.5,66.2 541,65.3 542.5,64.1 544,61.6 545.5,58.5 547,54.6 548.5,50.8 550,47.9 551.5,43.3 553,41 554.5,35.4 556,33.4 557.5,32.2 559,30 560.5,29.7 562,31.4 563.5,32.3 565,32.8 566.5,31 568,30 569.5,31.1 571,31.9 572.5,32.4 574,30.4 575.5,31.2 577,31.3 578.5,32.6 580,34.7 581.5,35.9 583,38.3 584.5,37.9 586,36.8 587.5,36.7 589,35.4 590.5,37 592,36.9 593.5,37.3 595,34.6 596.5,34.7 598,33.6 599.5,35.5 601,34.8 602.5,36.7 604,36.4 605.5,36.8 607,36.9 608.5,37.6 610,37.1 611.5,36.3 613,34.9 614.5,34.5 616,33.7 617.5,33 619,33.2 620.5,33.3 622,33.8 623.5,33.8 625,32.9 626.5,31.9 628,32.6 629.5,32.6 631,32.4 632.5,33.4 634,34.2 635.5,35.1 637,34 638.5,33.7 640,34 641.5,35.7 643,35.6 644.5,37.8 646,36.7 647.5,36.3 649,35 650.5,35.7 652,35 653.5,33.9 655,35.8 656.5,35 658,36.6 659.5,34.3 661,33.4 662.5,32.6 664,34.8 665.5,37 667,38.8 668.5,38.5 670,37.4 671.5,36.2 673,34.7 674.5,34.7 676,35.3"/><polyline points="413.5,72.3 415,71.6 416.5,71.2 418,71 419.5,71.2 421,71.2 422.5,71.7 424,71.6 425.5,72 427,71.5 428.5,71.6 430,71.6 431.5,72.1 433,71.9 434.5,72.8 436,71.9 437.5,71.8 439,71.5 440.5,71.1 442,71 443.5,71.5 445,71.4 446.5,71 448,71.4 449.5,70.5 451,70.9 452.5,71.4 454,71 455.5,71.2 457,71 458.5,71.2 460,71.2 461.5,71.3 463,71.2 464.5,71.3 466,72 467.5,71.7 469,71.9 470.5,72.4 472,71.8 473.5,71.5 475,71.8 476.5,71.2 478,70.7 479.5,70.8 481,71.3 482.5,71.4 484,70.6 485.5,69.6 487,69.5 488.5,69.5 490,69.9 491.5,70.4 493,70.9 494.5,70.7 496,70.6 497.5,70.3 499,70.7 500.5,69.7 502,70.2 503.5,69.4 505,69.9 506.5,70 508,69.6 509.5,70.3 511,70.1 512.5,70.1 514,70 515.5,70.3 517,69.8 518.5,69.7 520,69.7 521.5,68.6 523,67.9 524.5,67.2 526,67.4 527.5,68.2 529,68.2 530.5,67.6 532,67.9 533.5,67.9 535,67 536.5,68 538,67.3 539.5,66.9 541,66.4 542.5,65.8 544,64.3 545.5,61.9 547,58.9 548.5,55.5 550,53.7 551.5,48.4 553,44.3 554.5,37.5 556,34.7 557.5,31.3 559,30.3 560.5,30 562,29.6 563.5,29.5 565,32.6 566.5,31.5 568,32.9 569.5,31.6 571,30.8 572.5,31.5 574,32.6 575.5,33.6 577,33.2 578.5,33.6 580,33.9 581.5,36.5 583,38.4 584.5,40.7 586,43.1 587.5,43.3 589,43 590.5,42 592,44.7 593.5,46.3 595,43.5 596.5,40.1 598,38.3 599.5,37.9 601,37.5 602.5,36.5 604,38.6 605.5,40.1 607,39.6 608.5,38.4 610,39 611.5,39.2 613,39 614.5,39.9 616,42.5 617.5,42.7 619,40.3 620.5,41.2 622,40.6 623.5,40.5 625,38.9 626.5,39.4 628,39.2 629.5,39.1 631,35.1 632.5,36.1 634,33.8 635.5,33.7 637,33.3 638.5,32.9 640,33.9 641.5,32.2 643,32.6 644.5,31.4 646,32.3 647.5,32.6 649,34.6 650.5,35.5 652,34.2 653.5,34.8 655,37.7 656.5,39.9 658,39.5 659.5,38.7 661,37.7 662.5,37.8 664,36.8 665.5,36.7 667,37.3 668.5,38.9 670,38.2 671.5,37.7 673,36.9 674.5,36.1 676,37.1"/><polyline points="413.5,73.5 415,73.6 416.5,73.7 418,73.5 419.5,73.8 421,74.1 422.5,74.2 424,73.5 425.5,73.8 427,74.1 428.5,74.2 430,74.9 431.5,74.5 433,74.5 434.5,73.9 436,73.4 437.5,73 439,72.8 440.5,72.8 442,72.4 443.5,73.7 445,73.7 446.5,74.3 448,73.7 449.5,74 451,73.7 452.5,73.5 454,73.4 455.5,73.6 457,73.3 458.5,72.5 460,71.8 461.5,71.4 463,71.1 464.5,71.2 466,71.9 467.5,72.1 469,73.1 470.5,72.8 472,73.2 473.5,73.1 475,72.3 476.5,72.1 478,72.1 479.5,72.8 481,72.8 482.5,72.5 484,72.3 485.5,72.2 487,71.8 488.5,71.3 490,71.8 491.5,71.4 493,71.5 494.5,71.5 496,71.1 497.5,71.1 499,71.3 500.5,72 502,72.1 503.5,72.3 505,71.5 506.5,71.6 508,71.6 509.5,71.6 511,72 512.5,71.6 514,71.2 515.5,70.7 517,70.7 518.5,70.4 520,70.2 521.5,69.7 523,69.3 524.5,69.2 526,69.5 527.5,69.2 529,69.7 530.5,69.1 532,69.2 533.5,69.9 535,70.1 536.5,69.5 538,68.6 539.5,68.5 541,68.5 542.5,66.8 544,64.9 545.5,61.5 547,55.4 548.5,50.3 550,45.1 551.5,43.4 553,36.2 554.5,28.6 556,24.9 557.5,25.8 559,24 560.5,20.5 562,20.9 563.5,16.3 565,16.9 566.5,14.6 568,15.8 569.5,14.8 571,16.3 572.5,17.2 574,17.5 575.5,16.3 577,16.9 578.5,19.2 580,19.3 581.5,18.1 583,19 584.5,19.8 586,22.4 587.5,22.2 589,23.9 590.5,24.2 592,23.2 593.5,22.9 595,23.9 596.5,23.4 598,21.3 599.5,21.2 601,20.6 602.5,22.6 604,22 605.5,20.8 607,21.3 608.5,20.4 610,20.5 611.5,21.9 613,22.7 614.5,22.6 616,23.2 617.5,22.9 619,22.6 620.5,24.4 622,23.5 623.5,25.3 625,24.9 626.5,25.8 628,25.4 629.5,27 631,26.8 632.5,27.9 634,27.8 635.5,27.2 637,26.7 638.5,25.8 640,26.9 641.5,26.1 643,26.2 644.5,25.9 646,24.1 647.5,22.8 649,19.6 650.5,18.4 652,18.4 653.5,18.9 655,20.4 656.5,21.3 658,19.9 659.5,18.8 661,20.7 662.5,24.5 664,25.6 665.5,25.3 667,24.1 668.5,25.5 670,25 671.5,24.7 673,25.3 674.5,24.5 676,23.7"/><polyline points="413.5,76.9 415,76.8 416.5,77.2 418,77.4 419.5,77.4 421,77.8 422.5,77.5 424,77.8 425.5,77.4 427,76.8 428.5,77 430,76.6 431.5,77.1 433,76.7 434.5,76.4 436,76 437.5,76.6 439,76.7 440.5,76.8 442,76.1 443.5,76.2 445,76.5 446.5,76.2 448,76.1 449.5,76.5 451,76.4 452.5,76.7 454,77 455.5,76.9 457,76.7 458.5,76 460,75.6 461.5,75.1 463,74.9 464.5,75.1 466,75.7 467.5,75.3 469,75 470.5,74.7 472,75.3 473.5,76.2 475,76 476.5,76.1 478,75.8 479.5,75.3 481,75.3 482.5,75.6 484,75.2 485.5,74.6 487,74.3 488.5,73.9 490,74.3 491.5,74.8 493,74.7 494.5,75.3 496,75.3 497.5,75.2 499,75.5 500.5,75.4 502,75.1 503.5,75.1 505,75.2 506.5,74.2 508,74.4 509.5,73.8 511,73.7 512.5,73.4 514,73.2 515.5,72.8 517,74 518.5,73.3 520,72.5 521.5,72.6 523,72.3 524.5,72.3 526,72.5 527.5,72.3 529,73.2 530.5,74.1 532,73 533.5,73.3 535,73.8 536.5,73.9 538,74.2 539.5,73.2 541,72 542.5,70.2 544,67.1 545.5,62.9 547,57.8 548.5,53.5 550,49.5 551.5,45.8 553,40.9 554.5,33.3 556,31.4 557.5,29.2 559,28.5 560.5,25.8 562,28 563.5,29.1 565,31.8 566.5,31.2 568,31.7 569.5,34.3 571,31.7 572.5,31.7 574,32.8 575.5,33.4 577,32.4 578.5,29.6 580,29.7 581.5,31.2 583,32.7 584.5,32.8 586,34 587.5,34.8 589,36.1 590.5,37.3 592,38.4 593.5,37.4 595,36.8 596.5,37 598,40.7 599.5,41.4 601,42.2 602.5,41.2 604,42.1 605.5,40.3 607,39 608.5,38.2 610,38.2 611.5,38.2 613,37 614.5,34.6 616,35 617.5,34.4 619,37.5 620.5,37.6 622,38.6 623.5,39 625,37.8 626.5,36.6 628,36.9 629.5,35 631,37.7 632.5,39 634,40.6 635.5,37.6 637,36.6 638.5,35.2 640,37.5 641.5,38 643,36.7 644.5,36.8 646,34.9 647.5,33.3 649,31.1 650.5,31.8 652,33.9 653.5,33.6 655,34.2 656.5,34.8 658,36 659.5,35.4 661,33.5 662.5,33.1 664,34.8 665.5,32.5 667,31.4 668.5,33.4 670,36.6 671.5,35.3 673,33.4 674.5,32.6 676,33.4"/><polyline points="413.5,79.6 415,79.5 416.5,79.7 418,79.9 419.5,79.7 421,79.6 422.5,79.7 424,79.6 425.5,79.9 427,79.8 428.5,80.1 430,80.1 431.5,80.5 433,80.5 434.5,80.8 436,80.7 437.5,80 439,79.6 440.5,79.3 442,78.6 443.5,78.9 445,79.4 446.5,79.7 448,79.3 449.5,79.1 451,79 452.5,78.9 454,79.3 455.5,79.1 457,79.2 458.5,78.4 460,78.3 461.5,78.7 463,79 464.5,78.4 466,78.6 467.5,78.8 469,79.2 470.5,79.5 472,79.4 473.5,79.2 475,78.5 476.5,79.4 478,78.9 479.5,79.1 481,78.3 482.5,78.3 484,77.4 485.5,77.5 487,78 488.5,78.4 490,78.9 491.5,77.9 493,77.9 494.5,77.9 496,78.3 497.5,77.8 499,78 500.5,78.1 502,78 503.5,78.4 505,78.4 506.5,78.6 508,78.1 509.5,78 511,78.1 512.5,78.7 514,78.8 515.5,78.5 517,77.8 518.5,77.9 520,77.8 521.5,78.1 523,77.7 524.5,78.7 526,77.6 527.5,77.1 529,76.4 530.5,76.7 532,76.6 533.5,75.7 535,75.7 536.5,75.5 538,75.7 539.5,74.5 541,74.1 542.5,73.2 544,72.6 545.5,70.7 547,66.4 548.5,62.7 550,58.9 551.5,53.9 553,47.6 554.5,38 556,34.8 557.5,31.7 559,31.7 560.5,29.2 562,33.1 563.5,31 565,29.2 566.5,26.1 568,27.8 569.5,27.1 571,27.2 572.5,26.1 574,25.5 575.5,27.2 577,28.4 578.5,30.4 580,30.4 581.5,33.2 583,34.1 584.5,37.1 586,41 587.5,40.8 589,40.9 590.5,39.9 592,38.9 593.5,39.5 595,40 596.5,39.7 598,40.2 599.5,40.5 601,37.7 602.5,38.2 604,36.5 605.5,37.7 607,36.8 608.5,37.9 610,37.4 611.5,37.5 613,36.7 614.5,38.9 616,38.2 617.5,38.1 619,37.7 620.5,37 622,37.9 623.5,37.5 625,39.2 626.5,37.3 628,37.3 629.5,35.7 631,34.8 632.5,34.2 634,33.5 635.5,34.9 637,34.7 638.5,35 640,35.5 641.5,37.2 643,36.9 644.5,35.6 646,37.6 647.5,37.7 649,37.3 650.5,35.9 652,37.5 653.5,37.8 655,36.6 656.5,35.7 658,36.4 659.5,37.1 661,37.3 662.5,38.4 664,38.4 665.5,38.7 667,36.8 668.5,36.9 670,37.1 671.5,38.2 673,36.4 674.5,35.5 676,34.6"/><polyline points="413.5,73.6 415,73.4 416.5,73.9 418,73.6 419.5,73.4 421,73.2 422.5,73.4 424,73.8 425.5,73.4 427,72.7 428.5,72.8 430,73.2 431.5,73.6 433,73.8 434.5,73.5 436,72.7 437.5,72.4 439,72.4 440.5,72.2 442,72.8 443.5,72.8 445,73.2 446.5,73.3 448,72.9 449.5,73.1 451,72.7 452.5,73 454,72.4 455.5,71.8 457,72.1 458.5,72.2 460,71.5 461.5,71.2 463,71.1 464.5,71.2 466,71.4 467.5,71.3 469,71.3 470.5,71.7 472,71.4 473.5,71.1 475,71.1 476.5,71.3 478,71.4 479.5,71.9 481,71.8 482.5,72.5 484,72 485.5,71.2 487,70.2 488.5,70.7 490,71.5 491.5,71.3 493,71.2 494.5,70.6 496,70.1 497.5,70.7 499,71.1 500.5,71.6 502,71.2 503.5,70.4 505,70.6 506.5,70.1 508,70.1 509.5,70.4 511,70.4 512.5,70.6 514,69.6 515.5,69.2 517,69 518.5,69.5 520,69.3 521.5,69.5 523,68.7 524.5,68.2 526,68.3 527.5,68.3 529,68.7 530.5,68.7 532,68.8 533.5,68.6 535,68.8 536.5,68.3 538,68.7 539.5,68.3 541,67.5 542.5,67.6 544,67.6 545.5,67.7 547,66.6 548.5,65.5 550,63.7 551.5,61.4 553,58.4 554.5,54.5 556,51.8 557.5,46.6 559,41.4 560.5,38.4 562,33.6 563.5,32 565,31.6 566.5,32.3 568,32.4 569.5,33 571,31 572.5,27.4 574,27.9 575.5,26.7 577,30.8 578.5,32.8 580,33.5 581.5,34.9 583,36.5 584.5,37.4 586,39.4 587.5,41.1 589,41.2 590.5,42.1 592,41.5 593.5,40.6 595,40.4 596.5,42 598,40.7 599.5,40.2 601,38.5 602.5,38.7 604,40.4 605.5,42.2 607,43.4 608.5,44.7 610,45.4 611.5,44.4 613,45.4 614.5,44.7 616,44.1 617.5,43.2 619,41.7 620.5,40.8 622,39.6 623.5,40.7 625,39.4 626.5,40.3 628,41 629.5,42 631,40.8 632.5,39.7 634,38 635.5,38.6 637,37.2 638.5,36.3 640,35.4 641.5,35.9 643,34.9 644.5,37 646,38.5 647.5,40.5 649,40.2 650.5,38.9 652,38.5 653.5,38 655,37.4 656.5,37.7 658,38.5 659.5,36.7 661,37.3 662.5,37 664,38.9 665.5,39.9 667,39.9 668.5,39.5 670,37.8 671.5,38.3 673,37.1 674.5,37.6 676,36.5"/><polyline points="413.5,74.2 415,74.1 416.5,74.2 418,74.5 419.5,75 421,74.4 422.5,74.5 424,73.5 425.5,73.7 427,73.4 428.5,73.5 430,73.2 431.5,73.4 433,73 434.5,73 436,72.3 437.5,72.4 439,72.1 440.5,73.3 442,73.2 443.5,73.9 445,73.2 446.5,72.7 448,72.2 449.5,72.5 451,72.5 452.5,72.6 454,71.9 455.5,70.9 457,71 458.5,71.2 460,70.6 461.5,71.1 463,70.4 464.5,70.2 466,70.7 467.5,71.3 469,71.9 470.5,72.6 472,72.9 473.5,73.1 475,73.7 476.5,73 478,73.2 479.5,73 481,72.3 482.5,72.5 484,72.6 485.5,72.5 487,71.8 488.5,71.4 490,71.9 491.5,72.4 493,72.7 494.5,72.5 496,72 497.5,71.8 499,71.6 500.5,71.7 502,72.3 503.5,72.1 505,71.6 506.5,71.5 508,71.1 509.5,71 511,71 512.5,71.7 514,72 515.5,71.8 517,71.5 518.5,71.2 520,71 521.5,70.1 523,70.6 524.5,70.4 526,70.1 527.5,70.7 529,70.9 530.5,70.8 532,69.9 533.5,70 535,70.2 536.5,70.6 538,70.3 539.5,69.6 541,67.5 542.5,65.5 544,63 545.5,59.6 547,55.4 548.5,50.1 550,43.2 551.5,37.7 553,32.1 554.5,29.7 556,28.6 557.5,23.7 559,20.2 560.5,19.7 562,19.1 563.5,15.4 565,14.3 566.5,15.2 568,16.2 569.5,16.6 571,16.9 572.5,15.3 574,16 575.5,16.4 577,17.1 578.5,19.8 580,20.6 581.5,22.6 583,22 584.5,21.7 586,20.1 587.5,21.9 589,22.1 590.5,22.8 592,23.9 593.5,26.5 595,26.7 596.5,23.9 598,24.3 599.5,25.7 601,26.8 602.5,26.1 604,24.6 605.5,23.5 607,23.2 608.5,22.5 610,21.7 611.5,22.1 613,22.7 614.5,22.1 616,23 617.5,19.8 619,20 620.5,19.3 622,22 623.5,20.4 625,21 626.5,20 628,21.9 629.5,21.1 631,24.6 632.5,24.3 634,23.8 635.5,22.6 637,23.8 638.5,24.5 640,24.7 641.5,22.9 643,19.9 644.5,21.5 646,19.2 647.5,21 649,20.8 650.5,22.2 652,21.8 653.5,22 655,20.7 656.5,20.9 658,22.2 659.5,20.4 661,19.3 662.5,20.5 664,22 665.5,22.8 667,23.8 668.5,24.3 670,25.8 671.5,26.2 673,25.8 674.5,26.1 676,25"/><polyline points="413.5,73.6 415,72.8 416.5,72.9 418,73 419.5,73.8 421,74.1 422.5,73.4 424,72.6 425.5,72.7 427,72.4 428.5,72.8 430,72.6 431.5,72.9 433,72.7 434.5,72.8 436,72.1 437.5,71.9 439,71.8 440.5,72.2 442,72.3 443.5,70.9 445,70.8 446.5,71.3 448,71.7 449.5,71.8 451,71 452.5,70.9 454,70.8 455.5,71.3 457,72 458.5,72.3 460,71.8 461.5,71.7 463,71.9 464.5,71.4 466,71.4 467.5,71.2 469,71.1 470.5,71.1 472,70.4 473.5,70.7 475,70.8 476.5,70.8 478,70.9 479.5,70.9 481,70.9 482.5,71.1 484,70.4 485.5,70.1 487,70.4 488.5,70.6 490,70.7 491.5,70.1 493,69.8 494.5,70 496,69.8 497.5,70.1 499,70.5 500.5,70.8 502,69.8 503.5,69.2 505,69.4 506.5,69.9 508,69.7 509.5,69.7 511,70 512.5,69.6 514,69.8 515.5,69.9 517,70.2 518.5,70.2 520,69.2 521.5,69.1 523,68.8 524.5,69.7 526,69.8 527.5,69.4 529,69.5 530.5,69.7 532,69.8 533.5,69.7 535,70 536.5,69.4 538,69.5 539.5,68.6 541,68.8 542.5,69.3 544,68.3 545.5,67.4 547,66.3 548.5,65.9 550,65.9 551.5,64.8 553,57.2 554.5,53 556,46.1 557.5,44.1 559,40.7 560.5,37.3 562,32.1 563.5,28.5 565,28.7 566.5,27.3 568,29 569.5,27.1 571,29.8 572.5,29.8 574,31.1 575.5,34.1 577,33.5 578.5,34.4 580,32.1 581.5,33.5 583,34.8 584.5,36.6 586,37.1 587.5,38.6 589,38.2 590.5,36.8 592,38.2 593.5,37 595,39.5 596.5,38.7 598,39.2 599.5,37.6 601,37.4 602.5,35.6 604,34.9 605.5,34.1 607,34.4 608.5,33.6 610,33.4 611.5,33.4 613,33.9 614.5,34.1 616,34.8 617.5,35.7 619,36.7 620.5,38.7 622,40 623.5,38.5 625,38.7 626.5,37.8 628,37 629.5,34.8 631,34.1 632.5,36.1 634,36.7 635.5,36.9 637,36.2 638.5,35.5 640,34 641.5,33.7 643,35.3 644.5,35.8 646,35.2 647.5,32.9 649,33.8 650.5,32.1 652,34.6 653.5,33.1 655,34.9 656.5,35.4 658,35.6 659.5,35.1 661,33.8 662.5,35.7 664,35.8 665.5,35.8 667,33.5 668.5,33.9 670,34.6 671.5,34.8 673,35.4 674.5,35 676,34.7"/><polyline points="413.5,75.5 415,75.7 416.5,76.1 418,75.7 419.5,75.9 421,75.7 422.5,77.2 424,76.9 425.5,76.5 427,76.3 428.5,76.3 430,76.9 431.5,76.6 433,77.2 434.5,76.4 436,76.3 437.5,75.9 439,76 440.5,75.8 442,75.3 443.5,75.2 445,74.8 446.5,75.1 448,74.1 449.5,74.6 451,74.2 452.5,74.7 454,74.5 455.5,74.8 457,74.7 458.5,73.8 460,74.2 461.5,73.8 463,73.9 464.5,73.6 466,74 467.5,73.9 469,73.8 470.5,73.7 472,73.5 473.5,74.8 475,75 476.5,75 478,74.6 479.5,74.7 481,74.9 482.5,74.4 484,73.8 485.5,73.6 487,74 488.5,73.9 490,74 491.5,73.8 493,74 494.5,73.4 496,74 497.5,74.1 499,75 500.5,74.2 502,74.4 503.5,74.5 505,74.5 506.5,73.7 508,73.6 509.5,73.6 511,73.6 512.5,73.3 514,73.7 515.5,73.7 517,73.7 518.5,72.4 520,72.4 521.5,72.2 523,72.3 524.5,72.3 526,72.1 527.5,72 529,72.4 530.5,72.3 532,72.1 533.5,71.3 535,71.1 536.5,70.8 538,70.6 539.5,68.8 541,67.2 542.5,66.1 544,63.6 545.5,58.4 547,52.1 548.5,46.8 550,41.6 551.5,37.4 553,32 554.5,28.6 556,26.6 557.5,23.3 559,19.4 560.5,20.3 562,19.9 563.5,17.7 565,15.1 566.5,13.7 568,12.5 569.5,12 571,12.5 572.5,11.4 574,13.1 575.5,12.8 577,12 578.5,13 580,15 581.5,16.5 583,19.6 584.5,19.1 586,19 587.5,19.7 589,21.5 590.5,21.5 592,21.3 593.5,20.4 595,21 596.5,21 598,21.2 599.5,21.5 601,22.8 602.5,21.5 604,19.2 605.5,17.7 607,19.1 608.5,17.9 610,17.8 611.5,17.8 613,17.2 614.5,20.1 616,19.5 617.5,19.8 619,19 620.5,19 622,17.4 623.5,19.5 625,18.8 626.5,16.5 628,16.9 629.5,15.9 631,17.3 632.5,18.4 634,18.8 635.5,17.6 637,20.7 638.5,20.2 640,19.7 641.5,20.9 643,21.4 644.5,20.7 646,19.7 647.5,18.3 649,19.1 650.5,20.3 652,17 653.5,16.8 655,15.8 656.5,14.9 658,16.2 659.5,17.3 661,17 662.5,15.9 664,15 665.5,13.9 667,16.2 668.5,16.8 670,18.3 671.5,17.5 673,18.6 674.5,18.1 676,18.8"/><polyline points="413.5,76.4 415,76.5 416.5,76.6 418,76.1 419.5,76.4 421,76.3 422.5,76.9 424,76.6 425.5,76.4 427,76.3 428.5,76.3 430,76.7 431.5,76.2 433,76.3 434.5,75.9 436,75.8 437.5,75.2 439,74.9 440.5,75.3 442,75.6 443.5,76 445,76 446.5,76 448,75.3 449.5,75.2 451,75.5 452.5,75.8 454,76 455.5,76.1 457,75.8 458.5,75.3 460,74.9 461.5,74.6 463,75.5 464.5,75.7 466,75 467.5,74.2 469,74.3 470.5,74.2 472,74.6 473.5,74 475,74.5 476.5,74.3 478,74.4 479.5,73.7 481,73.9 482.5,74.2 484,73.6 485.5,73.4 487,73.7 488.5,74.4 490,74.4 491.5,74.1 493,74.1 494.5,73.8 496,74.5 497.5,74.7 499,75.1 500.5,75.2 502,75.3 503.5,75.6 505,75.3 506.5,74.7 508,73.7 509.5,74.2 511,73.7 512.5,74.2 514,73 515.5,72.9 517,73.2 518.5,72.7 520,73.4 521.5,73.6 523,74 524.5,73.5 526,73 527.5,72.9 529,73.1 530.5,73.2 532,73 533.5,73 535,71.3 536.5,70.4 538,68.8 539.5,68.7 541,66.9 542.5,64.6 544,61.5 545.5,57.6 547,53.4 548.5,48.8 550,43.1 551.5,36.8 553,34 554.5,32.4 556,31.2 557.5,29 559,28 560.5,26.8 562,25.6 563.5,26.1 565,26.3 566.5,26.5 568,27.3 569.5,27.2 571,27.5 572.5,28.3 574,29.1 575.5,31.1 577,33.8 578.5,33.6 580,35.1 581.5,35.6 583,38 584.5,37 586,38 587.5,35.4 589,37.6 590.5,37 592,35.3 593.5,33.5 595,32.6 596.5,33.6 598,33.6 599.5,33.5 601,32.6 602.5,31.5 604,31 605.5,31.4 607,33 608.5,34.4 610,34.2 611.5,32.3 613,32.4 614.5,32.1 616,32.6 617.5,32.5 619,31.7 620.5,31.9 622,32.4 623.5,33.6 625,32.9 626.5,32.3 628,30 629.5,30.2 631,29.4 632.5,29.9 634,30.4 635.5,32.9 637,34.9 638.5,33.7 640,32.2 641.5,32.3 643,32.3 644.5,32.1 646,34 647.5,34.9 649,34.4 650.5,34.3 652,34.7 653.5,34.1 655,33.9 656.5,32.2 658,32.7 659.5,35.1 661,34.8 662.5,34.7 664,34.8 665.5,34.7 667,34.5 668.5,35.7 670,35.3 671.5,36.2 673,35 674.5,33.8 676,33.2"/><polyline points="413.5,67.6 415,67.2 416.5,67.2 418,66.9 419.5,66.8 421,66.8 422.5,67 424,67.4 425.5,67.1 427,67.9 428.5,68.1 430,68.5 431.5,68.2 433,67.7 434.5,67.8 436,68.9 437.5,68.8 439,68.3 440.5,68.1 442,67.8 443.5,68.1 445,67.6 446.5,66.6 448,67 449.5,67.1 451,66.8 452.5,66.5 454,66.7 455.5,66.6 457,66.6 458.5,66.3 460,66.6 461.5,66.7 463,67.5 464.5,67.9 466,67.8 467.5,67.7 469,67 470.5,67.4 472,67.5 473.5,66.8 475,66.3 476.5,65.4 478,65.7 479.5,65.3 481,65.5 482.5,65.2 484,65.5 485.5,65.8 487,66.6 488.5,66.5 490,66 491.5,65.9 493,66.2 494.5,66.9 496,66.8 497.5,66.6 499,67 500.5,66.5 502,65.8 503.5,64.8 505,64.5 506.5,64.4 508,64.4 509.5,63.8 511,64 512.5,63.1 514,63.6 515.5,63.8 517,64.2 518.5,64.1 520,63.8 521.5,64.5 523,64.7 524.5,64.7 526,64.1 527.5,63.7 529,62.9 530.5,63.3 532,62.8 533.5,63.2 535,63.5 536.5,63 538,62.9 539.5,62.1 541,61.6 542.5,59.9 544,57 545.5,52.6 547,47.6 548.5,42.3 550,37.4 551.5,33.4 553,28.6 554.5,24.4 556,23.3 557.5,18.9 559,18.6 560.5,20.3 562,19.2 563.5,18.2 565,13.4 566.5,12.3 568,10.8 569.5,9.4 571,8.8 572.5,10 574,11 575.5,14.4 577,15.6 578.5,18.7 580,18 581.5,18.5 583,18 584.5,20.9 586,21.5 587.5,23.5 589,20.8 590.5,21.9 592,21.9 593.5,22.9 595,25.9 596.5,25.9 598,26.9 599.5,23.1 601,22.6 602.5,22 604,21.4 605.5,18.8 607,18.8 608.5,18.2 610,19.1 611.5,20.8 613,19.3 614.5,22.6 616,19.2 617.5,19.3 619,18.6 620.5,21.1 622,21.8 623.5,22.8 625,23.8 626.5,22.8 628,22.4 629.5,21.8 631,24.7 632.5,23.4 634,24.2 635.5,22.7 637,23.8 638.5,22.2 640,21.1 641.5,20.3 643,21.9 644.5,22.2 646,23 647.5,21.4 649,21.9 650.5,21.7 652,21.3 653.5,21.3 655,19.3 656.5,19.9 658,20.4 659.5,20.4 661,18.9 662.5,20 664,19.4 665.5,18.9 667,20.6 668.5,19.1 670,20 671.5,18.7 673,19.3 674.5,19.2 676,19.9"/><polyline points="413.5,78.1 415,77.4 416.5,77.5 418,77.6 419.5,77.9 421,77.6 422.5,78.2 424,77.9 425.5,78.4 427,78.6 428.5,78 430,78.9 431.5,78.6 433,78 434.5,77.6 436,77.1 437.5,77.1 439,77.2 440.5,76.4 442,77 443.5,76.9 445,76.5 446.5,76.3 448,76.1 449.5,76.8 451,77.9 452.5,78.6 454,78.8 455.5,78.1 457,77.6 458.5,77.6 460,77.3 461.5,77.3 463,77.1 464.5,77 466,76.5 467.5,76.3 469,76.6 470.5,77.1 472,76.9 473.5,76.2 475,76.4 476.5,76.4 478,76.9 479.5,77.1 481,76.9 482.5,77.2 484,77.1 485.5,76.9 487,76.4 488.5,76.3 490,76.6 491.5,76.9 493,76.8 494.5,77.5 496,77.2 497.5,76.1 499,75.1 500.5,74.8 502,75 503.5,75.5 505,75 506.5,75.4 508,74.8 509.5,75.7 511,75.8 512.5,75.1 514,75.4 515.5,75.2 517,76 518.5,75.6 520,75.4 521.5,75.1 523,75.2 524.5,75.3 526,75.4 527.5,75.2 529,74.9 530.5,75.2 532,74.9 533.5,74.7 535,74.9 536.5,74.3 538,74.5 539.5,74.1 541,73.1 542.5,73.4 544,72.2 545.5,70.8 547,67.9 548.5,64.9 550,60.6 551.5,54.2 553,47.5 554.5,38.9 556,36.5 557.5,31.4 559,30.2 560.5,28 562,28.9 563.5,26.3 565,26.8 566.5,25.9 568,29.2 569.5,30.2 571,29.9 572.5,29.8 574,28 575.5,27.9 577,26.9 578.5,27.6 580,29 581.5,29.6 583,30.9 584.5,31.1 586,32.4 587.5,34.5 589,35.9 590.5,37.1 592,37.9 593.5,39.4 595,39.5 596.5,39.2 598,37.5 599.5,37.1 601,36.6 602.5,35.6 604,35.3 605.5,33.8 607,34.5 608.5,35.5 610,34.6 611.5,34.8 613,33.9 614.5,36 616,36.9 617.5,37.6 619,38.3 620.5,39 622,38.4 623.5,36.9 625,36.5 626.5,35.9 628,35.8 629.5,33.7 631,32 632.5,33.9 634,34.3 635.5,35.4 637,35 638.5,36.2 640,36.5 641.5,37.3 643,36.1 644.5,36 646,35.6 647.5,37 649,37.9 650.5,37.8 652,37.6 653.5,36.4 655,36.2 656.5,35 658,36.3 659.5,37 661,38.9 662.5,37.4 664,37.9 665.5,38.1 667,37.8 668.5,37.5 670,36.4 671.5,37 673,35.8 674.5,35.7 676,34.2"/><polyline points="413.5,73.8 415,73.9 416.5,74.2 418,74.5 419.5,74.4 421,74.2 422.5,74 424,73.7 425.5,73.9 427,73.5 428.5,73.9 430,73.8 431.5,73.5 433,72.9 434.5,73.4 436,73.7 437.5,74 439,74.1 440.5,73.8 442,73.8 443.5,73.8 445,73.6 446.5,73.9 448,74.4 449.5,73.9 451,73.6 452.5,73 454,73.3 455.5,72.9 457,73 458.5,72.9 460,73.7 461.5,73.7 463,74.3 464.5,74.6 466,74.5 467.5,74.1 469,73.5 470.5,73.1 472,73 473.5,73.1 475,73 476.5,73.2 478,73.4 479.5,73.7 481,73.5 482.5,73.2 484,72.8 485.5,73.3 487,73.3 488.5,72.4 490,72.8 491.5,72.7 493,72.3 494.5,72.2 496,72.4 497.5,73 499,73.6 500.5,73.2 502,73.1 503.5,72.4 505,71.6 506.5,71.5 508,72.4 509.5,71.9 511,71.7 512.5,71.4 514,70.6 515.5,70.8 517,70.8 518.5,71.3 520,71.3 521.5,71.5 523,71.2 524.5,71.4 526,70.7 527.5,70.6 529,70.6 530.5,70.3 532,69.6 533.5,69.8 535,69.7 536.5,69.4 538,68.1 539.5,67.2 541,66 542.5,63.9 544,61 545.5,57.9 547,53.9 548.5,50 550,43.9 551.5,36.2 553,32.2 554.5,28.6 556,26.5 557.5,23.8 559,25.3 560.5,26.6 562,29 563.5,28.6 565,30.2 566.5,30.3 568,28.8 569.5,30.6 571,29.7 572.5,32.4 574,32.4 575.5,33.7 577,33 578.5,33.6 580,35.7 581.5,38.2 583,39.7 584.5,37.8 586,40.3 587.5,42.6 589,42.8 590.5,43.3 592,44 593.5,43.4 595,43.5 596.5,41.9 598,38 599.5,38.6 601,37.1 602.5,39.8 604,39.9 605.5,40.7 607,39.3 608.5,40.5 610,39 611.5,41.8 613,42.9 614.5,41.1 616,40.7 617.5,41.7 619,42.2 620.5,40.9 622,39.7 623.5,38.9 625,39 626.5,37 628,38 629.5,39.1 631,39.3 632.5,39.9 634,38.9 635.5,40 637,40.9 638.5,40.5 640,41.1 641.5,40.7 643,41.3 644.5,40.5 646,40.5 647.5,39.6 649,40.8 650.5,40.6 652,41.2 653.5,41.4 655,39.1 656.5,37.2 658,36.4 659.5,37.4 661,39.1 662.5,38.4 664,37.6 665.5,36.7 667,36.9 668.5,36.5 670,35.3 671.5,35 673,35.7 674.5,35.5 676,36.3"/><polyline points="413.5,71.7 415,71.4 416.5,71.3 418,71.2 419.5,70.9 421,70.9 422.5,71 424,71.1 425.5,71.7 427,71.3 428.5,71.4 430,72.5 431.5,71.8 433,72.4 434.5,72.5 436,72.5 437.5,72.2 439,72.2 440.5,71.3 442,71.2 443.5,71.1 445,70.9 446.5,72.2 448,72.6 449.5,72.1 451,71.7 452.5,71.2 454,71.1 455.5,71.6 457,72.2 458.5,72.6 460,73.1 461.5,72.1 463,71 464.5,71 466,71.3 467.5,71.2 469,71.4 470.5,70.7 472,70.4 473.5,70.2 475,69.6 476.5,70 478,69.9 479.5,70.1 481,70.2 482.5,70.4 484,69.9 485.5,69.7 487,70.2 488.5,70.5 490,71.6 491.5,71 493,70.5 494.5,70.6 496,70.5 497.5,69.8 499,69.2 500.5,68.1 502,68.8 503.5,68.7 505,68.6 506.5,68.8 508,68.8 509.5,68.9 511,68.8 512.5,68.5 514,69.2 515.5,68.9 517,68.9 518.5,69 520,69.1 521.5,68.9 523,69 524.5,69.4 526,68.9 527.5,68.6 529,67.8 530.5,68.2 532,69 533.5,68.9 535,68.2 536.5,67 538,66 539.5,65.2 541,64.5 542.5,63.1 544,60.4 545.5,57.6 547,52.3 548.5,49.3 550,44.8 551.5,40.7 553,37.8 554.5,33.4 556,34.8 557.5,31.5 559,30.4 560.5,31.5 562,35.5 563.5,36.3 565,38.3 566.5,35.9 568,35.7 569.5,33.8 571,29.9 572.5,27.4 574,26.8 575.5,28.4 577,29.3 578.5,29.1 580,30.2 581.5,31.7 583,34.5 584.5,37.2 586,39.5 587.5,39.7 589,37.1 590.5,37.8 592,36.8 593.5,39.1 595,38.4 596.5,38 598,36.9 599.5,36.6 601,37 602.5,36.8 604,38 605.5,35.6 607,37 608.5,35.8 610,38.6 611.5,38.8 613,38.8 614.5,35.2 616,35.9 617.5,36.2 619,35.7 620.5,37.8 622,37.7 623.5,39 625,36.5 626.5,35.5 628,35.6 629.5,38.6 631,39.8 632.5,40.2 634,42 635.5,41.3 637,40.2 638.5,39.3 640,38.4 641.5,39.6 643,41.4 644.5,41.1 646,38.8 647.5,37.7 649,37.1 650.5,37.7 652,38.5 653.5,38.9 655,37 656.5,36.5 658,32.9 659.5,33.7 661,36.2 662.5,37.6 664,36.9 665.5,38.1 667,36.9 668.5,37.2 670,38.5 671.5,38.2 673,39.3 674.5,38.8 676,37.7"/><polyline points="413.5,72.4 415,72.7 416.5,72.8 418,72.6 419.5,72.7 421,72.8 422.5,73.2 424,72.9 425.5,72.7 427,72.4 428.5,72.3 430,72.4 431.5,72.5 433,73 434.5,72.8 436,72.9 437.5,72.8 439,72.4 440.5,72 442,71.6 443.5,71.9 445,72 446.5,71.8 448,71.5 449.5,71.4 451,71.2 452.5,71.3 454,71.7 455.5,71.7 457,72.1 458.5,71.3 460,71.5 461.5,72 463,72.4 464.5,72.1 466,72 467.5,72.3 469,72.9 470.5,72.5 472,71.8 473.5,70.7 475,70.8 476.5,70.9 478,70.6 479.5,71 481,71.2 482.5,71.1 484,70.7 485.5,71 487,71.6 488.5,71.4 490,71.1 491.5,70.4 493,70.3 494.5,69.1 496,68.3 497.5,68.2 499,68.7 500.5,69.4 502,68.6 503.5,68.9 505,68.7 506.5,70.2 508,69.8 509.5,70.1 511,70.2 512.5,70.1 514,69.9 515.5,69.9 517,70 518.5,69.7 520,69.2 521.5,68.8 523,68.8 524.5,68.5 526,68.6 527.5,69 529,69.2 530.5,68.4 532,67.7 533.5,67 535,67.8 536.5,67.8 538,67.7 539.5,66.8 541,64.8 542.5,62.4 544,59.3 545.5,55.9 547,50.1 548.5,43.4 550,37.7 551.5,34.1 553,31.3 554.5,27.5 556,23.7 557.5,22.2 559,21.2 560.5,19.8 562,18.6 563.5,22 565,22.1 566.5,24 568,23.3 569.5,21.6 571,21 572.5,21.1 574,22.1 575.5,22.4 577,23.2 578.5,21.9 580,22.2 581.5,22.4 583,23.9 584.5,25.8 586,27.7 587.5,28.3 589,28.4 590.5,29.5 592,26.9 593.5,26.5 595,25.3 596.5,25.7 598,28.2 599.5,27.6 601,28.2 602.5,26.4 604,26.1 605.5,24.7 607,26.7 608.5,28.2 610,27.1 611.5,28.1 613,27.1 614.5,28 616,29.6 617.5,29.3 619,29.6 620.5,27.3 622,27.3 623.5,27.1 625,27.6 626.5,28.3 628,27.6 629.5,26 631,25.4 632.5,24.4 634,24.6 635.5,24.3 637,23.9 638.5,21.6 640,23.2 641.5,22.8 643,24.2 644.5,24.1 646,25.2 647.5,25.4 649,24.9 650.5,25.4 652,25.6 653.5,26.4 655,26.4 656.5,27.4 658,27.7 659.5,28 661,28.5 662.5,27.6 664,27.5 665.5,26.9 667,27.6 668.5,27.4 670,26.6 671.5,24.6 673,24.7 674.5,24 676,24.3"/><polyline points="413.5,73.2 415,73.1 416.5,73.9 418,73.9 419.5,73.2 421,72.8 422.5,73.1 424,73.5 425.5,73.4 427,73.2 428.5,73.8 430,73.7 431.5,72.8 433,72.7 434.5,73.4 436,73.4 437.5,73.5 439,73.2 440.5,73.9 442,73.7 443.5,73 445,72.9 446.5,73.5 448,73.6 449.5,73.6 451,73.6 452.5,73.6 454,73.4 455.5,73.6 457,73.1 458.5,73.6 460,72.9 461.5,72.7 463,72.7 464.5,72.1 466,71.6 467.5,71.4 469,71.3 470.5,71.6 472,71.4 473.5,71.1 475,70.8 476.5,71.3 478,71.4 479.5,71.7 481,72.2 482.5,72.5 484,72.5 485.5,72.5 487,72.2 488.5,71.7 490,71.3 491.5,71.3 493,72.1 494.5,71.5 496,70.8 497.5,70.8 499,70.2 500.5,70.7 502,70.8 503.5,70.6 505,70.6 506.5,70.3 508,70.1 509.5,70.4 511,70.4 512.5,70.2 514,70.7 515.5,70.8 517,70.4 518.5,70.2 520,70.2 521.5,70.9 523,71.2 524.5,71.5 526,71.1 527.5,70.8 529,70.9 530.5,71.3 532,71.4 533.5,71.1 535,69.9 536.5,69.6 538,69.5 539.5,69.6 541,68.7 542.5,67.5 544,67.2 545.5,65.6 547,62.7 548.5,58.6 550,53.2 551.5,49.5 553,45.3 554.5,41.6 556,38.9 557.5,37.5 559,33.4 560.5,30.3 562,28.6 563.5,28.5 565,32.1 566.5,32.1 568,31.7 569.5,30 571,30 572.5,29.7 574,29.1 575.5,29.8 577,30 578.5,30.3 580,28.7 581.5,29.7 583,30.9 584.5,33.3 586,32.4 587.5,33.2 589,34.6 590.5,34.5 592,33.2 593.5,33.1 595,32.4 596.5,33 598,32.2 599.5,32.4 601,32.9 602.5,32.9 604,33.9 605.5,32.1 607,34.1 608.5,34.3 610,37.8 611.5,36.7 613,36.4 614.5,35.7 616,35.2 617.5,35.3 619,34 620.5,34.8 622,32.8 623.5,31.6 625,28.4 626.5,28.8 628,28.1 629.5,29.4 631,30.4 632.5,30.7 634,32 635.5,30.8 637,31.9 638.5,32.4 640,32.7 641.5,33.5 643,33.7 644.5,33.4 646,36 647.5,35.3 649,35.8 650.5,36.1 652,34.8 653.5,34.5 655,33 656.5,32.5 658,32.3 659.5,31.7 661,29.5 662.5,31.6 664,32.4 665.5,32.6 667,33.6 668.5,33.6 670,32.9 671.5,31.2 673,30.2 674.5,31.8 676,33"/></g>
<line x1="544.4" y1="8" x2="544.4" y2="80" stroke="#333" stroke-width="0.7"/>
<line x1="561.1" y1="8" x2="561.1" y2="80" stroke="#dd22dd" stroke-width="0.8" stroke-dasharray="1.2 1.2"/>
<polyline points="413.5,72.7 440,72.2 474,71.3 500,70.5 515,69.8 528,68.9 535.7,68.2 539.5,67.2 541.8,65.8 543.8,63 546,58.2 549,50 551.5,42 554,34 556.5,28.8 559,26.6 563,26.2 568,26.3 574.5,26.8 579,29 584,32.2 588,33.6 595,33.8 610,33.5 630,32.8 650,32 675.5,31.2" fill="none" stroke="#c033c8" stroke-width="1.7" stroke-linejoin="round"/>
</g>
<g clip-path="url(#clipE)">
<polygon points="413,123 415,123 417,123 419,123 421,123 423,123 425,123 427,123 429,123 431,123 433,123 435,123 437,123 439,123 441,123 443,123 445,123 447,123 449,123 451,123 453,123 455,123 457,123 459,123 461,123 463,123 465,123 467,123 469,123 471,123 473,123 475,123 477,123 479,123 481,123 483,123 485,123 487,123 489,123 491,123 493,123 495,123 497,123 499,123 501,123 503,123 505,123 507,123 509,123 511,123 513,123 515,123 517,123 519,123 521,123 523,123 525,123 527,123 529,122.4 531,121.2 533,120.1 535,118.9 537,117.8 539,116.6 541,114.3 543,111 545,107.7 547,103.2 549,97.8 551,93 553,89 555,88.3 557,88.8 559,89.2 561,89.7 563,90.1 565,90.6 567,91 569,91.5 571,92 573,92.4 575,92.9 577,93.4 579,93.9 581,94.4 583,94.9 585,95.3 587,95.8 589,96.3 591,96.8 593,97.3 595,97.7 597,98.2 599,98.7 601,99.2 603,99.7 605,100.1 607,100.6 609,101.1 611,101.6 613,102.1 615,102.6 617,103 619,103.5 621,104 623,104.2 625,104.4 627,104.7 629,104.9 631,105.1 633,105.3 635,105.6 637,105.8 639,106 641,106.2 643,106.4 645,106.7 647,106.9 649,107.1 651,107.3 653,107.5 655,107.8 657,108 659,108.2 661,108.4 663,108.6 665,108.8 667,109 669,109.2 671,109.5 673,109.7 675,109.9 675,160 673,160 671,160 669,160 667,160 665,160 663,160 661,160 659,160 657,160 655,160 653,160 651,160 649,160 647,160 645,160 643,160 641,160 639,160 637,160 635,160 633,160 631,160 629,160 627,160 625,160 623,160 621,160 619,160 617,160 615,160 613,160 611,160 609,160 607,160 605,160 603,160 601,160 599,160 597,160 595,160 593,160 591,160 589,160 587,160 585,160 583,160 581,160 579,160 577,160 575,160 573,160 571,160 569,160 567,160 565,160 563,160 561,160 559,160 557,160 555,160 553,160 551,160 549,160 547,160 545,160 543,160 541,160 539,160 537,160 535,160 533,160 531,160 529,160 527,160 525,160 523,160 521,160 519,160 517,160 515,160 513,160 511,160 509,160 507,160 505,160 503,160 501,160 499,160 497,160 495,160 493,160 491,160 489,160 487,160 485,160 483,160 481,160 479,160 477,160 475,160 473,160 471,160 469,160 467,160 465,160 463,160 461,160 459,160 457,160 455,160 453,160 451,160 449,160 447,160 445,160 443,160 441,160 439,160 437,160 435,160 433,160 431,160 429,160 427,160 425,160 423,160 421,160 419,160 417,160 415,160 413,160" fill="#d2f7f9" fill-opacity="1.0" filter="url(#b2)"/>
<polygon points="413,123 415,123 417,123 419,123 421,123 423,123 425,123 427,123 429,123 431,123 433,123 435,123 437,123 439,123 441,123 443,123 445,123 447,123 449,123 451,123 453,123 455,123 457,123 459,123 461,123 463,123 465,123 467,123 469,123 471,123 473,123 475,123 477,123 479,123 481,123 483,123 485,123 487,123 489,123 491,123 493,123 495,123 497,123 499,123 501,123 503,123 505,123 507,123 509,123 511,123 513,123 515,123 517,123 519,123 521,123 523,123 525,123 527,123 529,122.4 531,121.2 533,120.1 535,118.9 537,117.8 539,116.6 541,114.3 543,111 545,107.7 547,103.2 549,97.8 551,93 553,89 555,88.3 557,88.8 559,89.2 561,89.7 563,90.1 565,90.6 567,91 569,91.5 571,92 573,92.4 575,92.9 577,93.4 579,93.9 581,94.4 583,94.9 585,95.3 587,95.8 589,96.3 591,96.8 593,97.3 595,97.7 597,98.2 599,98.7 601,99.2 603,99.7 605,100.1 607,100.6 609,101.1 611,101.6 613,102.1 615,102.6 617,103 619,103.5 621,104 623,104.2 625,104.4 627,104.7 629,104.9 631,105.1 633,105.3 635,105.6 637,105.8 639,106 641,106.2 643,106.4 645,106.7 647,106.9 649,107.1 651,107.3 653,107.5 655,107.8 657,108 659,108.2 661,108.4 663,108.6 665,108.8 667,109 669,109.2 671,109.5 673,109.7 675,109.9 675,144 673,143.9 671,143.9 669,143.8 667,143.8 665,143.7 663,143.7 661,143.6 659,143.6 657,143.5 655,143.5 653,143.4 651,143.4 649,143.3 647,143.3 645,143.2 643,143.2 641,143.1 639,143.1 637,143 635,143 633,143 631,142.9 629,142.9 627,142.8 625,142.8 623,142.7 621,142.7 619,142.6 617,142.6 615,142.5 613,142.5 611,142.4 609,142.4 607,142.3 605,142.3 603,142.2 601,142.2 599,142.1 597,142.1 595,142 593,141.9 591,141.8 589,141.6 587,141.5 585,141.3 583,141.2 581,141 579,140.9 577,140.7 575,140.6 573,140.4 571,140.3 569,140.1 567,140 565,140 563,140 561,140 559,140 557,140 555,140 553,140.7 551,143.3 549,146 547,148.7 545,151.3 543,154 541,156.7 539,158.2 537,158.5 535,158.8 533,159.2 531,159.5 529,159.8 527,160 525,160 523,160 521,160 519,160 517,160 515,160 513,160 511,160 509,160 507,160 505,160 503,160 501,160 499,160 497,160 495,160 493,160 491,160 489,160 487,160 485,160 483,160 481,160 479,160 477,160 475,160 473,160 471,160 469,160 467,160 465,160 463,160 461,160 459,160 457,160 455,160 453,160 451,160 449,160 447,160 445,160 443,160 441,160 439,160 437,160 435,160 433,160 431,160 429,160 427,160 425,160 423,160 421,160 419,160 417,160 415,160 413,160" fill="#b2f1f4" fill-opacity="1.0" filter="url(#b2)"/>
<polygon points="413,128 415,128 417,128 419,128 421,128 423,128 425,128 427,128 429,128 431,128 433,128 435,128 437,128 439,128 441,128 443,128 445,128 447,128 449,128 451,128 453,128 455,128 457,128 459,128 461,128 463,128 465,128 467,128 469,128 471,128 473,128 475,128 477,128 479,128 481,128 483,128 485,128 487,128 489,128 491,128 493,128 495,128 497,128 499,128 501,128 503,128 505,128 507,128 509,128 511,128 513,128 515,128 517,128 519,128 521,128 523,128 525,128 527,128 529,127.5 531,126.5 533,125.5 535,124.5 537,123.5 539,122.5 541,120.3 543,117 545,113.7 547,109.2 549,103.8 551,99.3 553,95.9 555,95.3 557,95.8 559,96.2 561,96.7 563,97.1 565,97.6 567,98 569,98.5 571,99 573,99.6 575,100.1 577,100.6 579,101.1 581,101.6 583,102.1 585,102.7 587,103.2 589,103.7 591,104.2 593,104.7 595,105.2 597,105.7 599,106.1 601,106.6 603,107 605,107.4 607,107.9 609,108.3 611,108.8 613,109.2 615,109.7 617,110.1 619,110.6 621,111 623,111.2 625,111.4 627,111.7 629,111.9 631,112.1 633,112.3 635,112.6 637,112.8 639,113 641,113.2 643,113.4 645,113.7 647,113.9 649,114.1 651,114.3 653,114.5 655,114.8 657,115 659,115.2 661,115.4 663,115.6 665,115.8 667,116 669,116.2 671,116.5 673,116.7 675,116.9 675,125 673,124.9 671,124.8 669,124.7 667,124.7 665,124.6 663,124.5 661,124.5 659,124.4 657,124.3 655,124.2 653,124.2 651,124.1 649,124 647,123.9 645,123.9 643,123.8 641,123.7 639,123.6 637,123.6 635,123.5 633,123.4 631,123.4 629,123.3 627,123.2 625,123.1 623,123.1 621,123 619,122.9 617,122.8 615,122.8 613,122.7 611,122.6 609,122.5 607,122.5 605,122.4 603,122.3 601,122.3 599,122.2 597,122.1 595,122 593,121.8 591,121.3 589,120.9 587,120.4 585,120 583,119.6 581,119.1 579,118.7 577,118.2 575,117.8 573,117.3 571,116.9 569,116.4 567,116 565,116 563,116 561,116 559,116 557,116 555,116 553,116.9 551,120.7 549,124.4 547,128.1 545,132.5 543,137.5 541,142.5 539,146.2 537,148.8 535,151.2 533,153.8 531,156.2 529,158.8 527,160 525,160 523,160 521,160 519,160 517,160 515,160 513,160 511,160 509,160 507,160 505,160 503,160 501,160 499,160 497,160 495,160 493,160 491,160 489,160 487,160 485,160 483,160 481,160 479,160 477,160 475,160 473,160 471,160 469,160 467,160 465,160 463,160 461,160 459,160 457,160 455,160 453,160 451,160 449,160 447,160 445,160 443,160 441,160 439,160 437,160 435,160 433,160 431,160 429,160 427,160 425,160 423,160 421,160 419,160 417,160 415,160 413,160" fill="#86e7ee" fill-opacity="0.9" filter="url(#b2)"/>
<path d="M553 87.5h1m0 2h1m8 0h1m2 4h1m-13 1h1m4 0h1m14 0h1m-25 1h1m49 0h1m2 0h1m-51 2h1m7 0h1m9 0h1m17 0h1m0 0h1m-40 1h1m15 0h1m9 0h1m5 0h1m2 0h1m22 0h1m-12 1h1m-43 1h1m5 0h1m5 0h1m12 0h1m0 0h1m-33 1h1m8 0h1m6 0h1m12 0h1m22 0h1m-47 1h1m1 0h1m1 0h1m23 0h1m12 0h1m8 0h1m-55 1h1m4 0h1m0 0h1m6 0h1m1 0h1m1 0h1m1 0h1m8 0h1m3 0h1m1 0h1m3 0h1m12 0h1m9 0h1m20 0h1m23 0h1m-110 1h1m4 0h1m0 0h1m3 0h1m2 0h1m1 0h1m0 0h1m9 0h1m0 0h1m1 0h1m9 0h1m6 0h1m37 0h1m-80 1h1m14 0h1m3 0h1m0 0h1m0 0h1m0 0h1m10 0h1m0 0h1m1 0h1m3 0h1m27 0h1m2 0h1m27 0h1m2 0h1m7 0h1m3 0h1m-121 1h1m3 0h1m8 0h1m2 0h1m3 0h1m3 0h1m3 0h1m9 0h1m1 0h1m6 0h1m10 0h1m3 0h1m3 0h1m21 0h1m9 0h1m3 0h1m-105 1h1m2 0h1m10 0h1m2 0h1m1 0h1m11 0h1m2 0h1m2 0h1m8 0h1m0 0h1m0 0h1m5 0h1m7 0h1m13 0h1m10 0h1m-86 1h1m0 0h1m2 0h1m3 0h1m5 0h1m3 0h1m4 0h1m1 0h1m6 0h1m1 0h1m4 0h1m0 0h1m10 0h1m0 0h1m3 0h1m0 0h1m0 0h1m1 0h1m9 0h1m6 0h1m3 0h1m0 0h1m12 0h1m14 0h1m-109 1h1m0 0h1m1 0h1m1 0h1m1 0h1m2 0h1m9 0h1m6 0h1m0 0h1m10 0h1m0 0h1m3 0h1m1 0h1m2 0h1m0 0h1m0 0h1m10 0h1m2 0h1m7 0h1m15 0h1m0 0h1m-91 1h1m0 0h1m5 0h1m7 0h1m1 0h1m2 0h1m2 0h1m11 0h1m26 0h1m1 0h1m4 0h1m0 0h1m0 0h1m14 0h1m5 0h1m5 0h1m11 0h1m0 0h1m11 0h1m-127 1h1m3 0h1m6 0h1m1 0h1m8 0h1m0 0h1m0 0h1m10 0h1m4 0h1m3 0h1m7 0h1m7 0h1m16 0h1m5 0h1m0 0h1m3 0h1m3 0h1m1 0h1m5 0h1m18 0h1m-104 1h1m2 0h1m3 0h1m1 0h1m1 0h1m2 0h1m7 0h1m5 0h1m3 0h1m0 0h1m1 0h1m3 0h1m0 0h1m9 0h1m1 0h1m20 0h1m9 0h1m3 0h1m0 0h1m8 0h1m2 0h1m3 0h1m7 0h1m-115 1h1m7 0h1m4 0h1m1 0h1m4 0h1m9 0h1m7 0h1m8 0h1m0 0h1m1 0h1m5 0h1m9 0h1m3 0h1m0 0h1m2 0h1m0 0h1m18 0h1m0 0h1m5 0h1m1 0h1m6 0h1m0 0h1m2 0h1m-134 1h1m5 0h1m4 0h1m1 0h1m2 0h1m26 0h1m9 0h1m5 0h1m2 0h1m2 0h1m7 0h1m0 0h1m0 0h1m0 0h1m9 0h1m3 0h1m7 0h1m0 0h1m0 0h1m1 0h1m1 0h1m3 0h1m15 0h1m2 0h1m0 0h1m-130 1h1m26 0h1m4 0h1m5 0h1m0 0h1m6 0h1m5 0h1m4 0h1m5 0h1m0 0h1m4 0h1m0 0h1m1 0h1m1 0h1m7 0h1m3 0h1m9 0h1m9 0h1m2 0h1m0 0h1m0 0h1m12 0h1m1 0h1m7 0h1m-113 1h1m0 0h1m7 0h1m2 0h1m21 0h1m4 0h1m1 0h1m4 0h1m6 0h1m2 0h1m0 0h1m4 0h1m3 0h1m0 0h1m3 0h1m17 0h1m8 0h1m4 0h1m6 0h1m-122 1h1m6 0h1m21 0h1m2 0h1m4 0h1m2 0h1m5 0h1m9 0h1m5 0h1m9 0h1m2 0h1m0 0h1m5 0h1m3 0h1m5 0h1m1 0h1m2 0h1m22 0h1m-227 1h1m110 0h1m24 0h1m3 0h1m9 0h1m16 0h1m9 0h1m14 0h1m3 0h1m6 0h1m4 0h1m1 0h1m6 0h1m6 0h1m2 0h1m-134 1h1m0 0h1m19 0h1m17 0h1m13 0h1m2 0h1m20 0h1m1 0h1m1 0h1m9 0h1m2 0h1m3 0h1m1 0h1m4 0h1m6 0h1m1 0h1m0 0h1m3 0h1m6 0h1m0 0h1m0 0h1m4 0h1m0 0h1m0 0h1m-133 1h1m0 0h1m0 0h1m0 0h1m8 0h1m29 0h1m5 0h1m13 0h1m3 0h1m0 0h1m1 0h1m5 0h1m5 0h1m8 0h1m6 0h1m3 0h1m6 0h1m2 0h1m2 0h1m0 0h1m5 0h1m0 0h1m2 0h1m3 0h1m-229 1h1m18 0h1m66 0h1m12 0h1m0 0h1m2 0h1m35 0h1m5 0h1m17 0h1m9 0h1m7 0h1m0 0h1m2 0h1m13 0h1m0 0h1m2 0h1m5 0h1m3 0h1m1 0h1m0 0h1m1 0h1m0 0h1m1 0h1m3 0h1m0 0h1m0 0h1m0 0h1m-222 1h1m81 0h1m8 0h1m3 0h1m0 0h1m35 0h1m10 0h1m2 0h1m3 0h1m3 0h1m6 0h1m8 0h1m1 0h1m5 0h1m1 0h1m5 0h1m1 0h1m9 0h1m1 0h1m0 0h1m12 0h1m1 0h1m6 0h1m-220 1h1m24 0h1m67 0h1m0 0h1m25 0h1m17 0h1m3 0h1m3 0h1m4 0h1m13 0h1m12 0h1m3 0h1m3 0h1m1 0h1m4 0h1m0 0h1m5 0h1m2 0h1m4 0h1m4 0h1m2 0h1m-80 1h1m26 0h1m2 0h1m3 0h1m5 0h1m9 0h1m17 0h1m8 0h1m0 0h1m-247 1h1m62 0h1m22 0h1m28 0h1m90 0h1m4 0h1m2 0h1m6 0h1m7 0h1m7 0h1m0 0h1m-199 1h1m41 0h1m36 0h1m67 0h1m14 0h1m8 0h1m21 0h1m-235 1h1m22 0h1m7 0h1m5 0h1m1 0h1m42 0h1m8 0h1m22 0h1m0 0h1m2 0h1m2 0h1m0 0h1m57 0h1m16 0h1m3 0h1m3 0h1m33 0h1m-235 1h1m8 0h1m3 0h1m13 0h1m0 0h1m13 0h1m14 0h1m26 0h1m14 0h1m3 0h1m7 0h1m0 0h1m85 0h1m32 0h1m14 0h1m-235 1h1m33 0h1m5 0h1m4 0h1m11 0h1m46 0h1m2 0h1m36 0h1m31 0h1m4 0h1m6 0h1m30 0h1m-225 1h1m0 0h1m2 0h1m0 0h1m4 0h1m0 0h1m8 0h1m25 0h1m0 0h1m2 0h1m8 0h1m4 0h1m139 0h1m8 0h1m25 0h1m-255 1h1m0 0h1m0 0h1m3 0h1m0 0h1m4 0h1m0 0h1m1 0h1m12 0h1m22 0h1m1 0h1m1 0h1m21 0h1m6 0h1m9 0h1m3 0h1m3 0h1m7 0h1m2 0h1m2 0h1m0 0h1m0 0h1m3 0h1m67 0h1m3 0h1m30 0h1m7 0h1m17 0h1m-258 1h1m2 0h1m3 0h1m2 0h1m16 0h1m11 0h1m3 0h1m3 0h1m1 0h1m0 0h1m8 0h1m0 0h1m5 0h1m6 0h1m0 0h1m18 0h1m19 0h1m0 0h1m2 0h1m1 0h1m0 0h1m1 0h1m3 0h1m4 0h1m109 0h1m-223 1h1m17 0h1m0 0h1m15 0h1m14 0h1m0 0h1m8 0h1m24 0h1m0 0h1m5 0h1m0 0h1m2 0h1m5 0h1m1 0h1m1 0h1m0 0h1m0 0h1m74 0h1m5 0h1m22 0h1m-228 1h1m0 0h1m6 0h1m3 0h1m3 0h1m8 0h1m0 0h1m0 0h1m2 0h1m2 0h1m14 0h1m0 0h1m8 0h1m12 0h1m1 0h1m6 0h1m7 0h1m1 0h1m0 0h1m6 0h1m0 0h1m2 0h1m1 0h1m6 0h1m7 0h1m4 0h1m0 0h1m-128 1h1m1 0h1m7 0h1m3 0h1m5 0h1m1 0h1m1 0h1m1 0h1m0 0h1m10 0h1m3 0h1m1 0h1m7 0h1m0 0h1m2 0h1m4 0h1m5 0h1m3 0h1m3 0h1m0 0h1m5 0h1m0 0h1m0 0h1m2 0h1m7 0h1m0 0h1m0 0h1m0 0h1m4 0h1m0 0h1m-104 1h1m1 0h1m6 0h1m1 0h1m2 0h1m0 0h1m2 0h1m1 0h1m0 0h1m4 0h1m3 0h1m11 0h1m1 0h1m4 0h1m0 0h1m2 0h1m0 0h1m0 0h1m1 0h1m0 0h1m3 0h1m2 0h1m3 0h1m2 0h1m6 0h1m4 0h1m1 0h1m6 0h1m9 0h1m2 0h1m8 0h1m6 0h1m124 0h1m4 0h1m-255 1h1m2 0h1m2 0h1m0 0h1m11 0h1m4 0h1m0 0h1m6 0h1m0 0h1m3 0h1m4 0h1m4 0h1m0 0h1m2 0h1m2 0h1m4 0h1m1 0h1m1 0h1m3 0h1m12 0h1m2 0h1m3 0h1m5 0h1m0 0h1m4 0h1m0 0h1m5 0h1m5 0h1m0 0h1m3 0h1m1 0h1m0 0h1m2 0h1m79 0h1m-204 1h1m1 0h1m1 0h1m0 0h1m0 0h1m6 0h1m0 0h1m2 0h1m6 0h1m1 0h1m5 0h1m2 0h1m0 0h1m0 0h1m1 0h1m2 0h1m11 0h1m14 0h1m1 0h1m1 0h1m0 0h1m0 0h1m1 0h1m3 0h1m0 0h1m11 0h1m2 0h1m0 0h1m2 0h1m0 0h1m3 0h1m1 0h1m1 0h1m5 0h1m4 0h1m-112 1h1m2 0h1m7 0h1m0 0h1m1 0h1m5 0h1m1 0h1m1 0h1m2 0h1m0 0h1m0 0h1m3 0h1m12 0h1m1 0h1m5 0h1m3 0h1m12 0h1m4 0h1m2 0h1m1 0h1m6 0h1m1 0h1m11 0h1m3 0h1m-116 1h1m0 0h1m4 0h1m0 0h1m13 0h1m0 0h1m3 0h1m7 0h1m2 0h1m2 0h1m0 0h1m0 0h1m8 0h1m0 0h1m2 0h1m3 0h1m3 0h1m10 0h1m2 0h1m6 0h1m1 0h1m0 0h1m9 0h1m5 0h1m2 0h1m9 0h1m1 0h1m0 0h1m-122 1h1m1 0h1m3 0h1m1 0h1m0 0h1m5 0h1m1 0h1m10 0h1m6 0h1m10 0h1m0 0h1m3 0h1m6 0h1m2 0h1m2 0h1m0 0h1m0 0h1m2 0h1m3 0h1m0 0h1m1 0h1m4 0h1m0 0h1m7 0h1m3 0h1m0 0h1m8 0h1m1 0h1m3 0h1m4 0h1m2 0h1m-118 1h1m11 0h1m1 0h1m4 0h1m3 0h1m5 0h1m3 0h1m7 0h1m7 0h1m0 0h1m1 0h1m4 0h1m3 0h1m0 0h1m0 0h1m2 0h1m8 0h1m2 0h1m5 0h1m6 0h1m4 0h1m11 0h1m1 0h1m0 0h1m1 0h1m6 0h1m-113 1h1m0 0h1m0 0h1m4 0h1m1 0h1m2 0h1m7 0h1m2 0h1m2 0h1m0 0h1m4 0h1m3 0h1m0 0h1m2 0h1m6 0h1m2 0h1m3 0h1m3 0h1m2 0h1m3 0h1m2 0h1m5 0h1m3 0h1m3 0h1m4 0h1m0 0h1m5 0h1m0 0h1m5 0h1m0 0h1m0 0h1m2 0h1m-116 1h1m29 0h1m11 0h1m9 0h1m2 0h1m6 0h1m0 0h1m0 0h1m3 0h1m2 0h1m5 0h1m0 0h1m0 0h1m6 0h1m1 0h1m0 0h1m4 0h1m7 0h1m4 0h1m6 0h1m1 0h1m-117 1h1m9 0h1m4 0h1m0 0h1m0 0h1m1 0h1m0 0h1m10 0h1m12 0h1m43 0h1m1 0h1m7 0h1m9 0h1m-98 1h1m1 0h1m25 0h1m10 0h1m29 0h1m0 0h1m25 0h1m2 0h1m-106 1h1m21 0h1m8 0h1m14 0h1m34 0h1m4 0h1m4 0h1m-75 1h1m24 0h1m8 0h1m15 0h1m7 0h1m28 0h1m-104 1h1m12 0h1m31 0h1m23 0h1m36 0h1m-102 1h1m1 0h1m14 0h1m19 0h1m32 0h1m11 0h1m3 0h1m-5 1h1m-77 1h1m102 0h1m-73 1h1m44 0h1m-16 1h1m5 2h1m-50 1h1m31 0h1" stroke="#4edae4" stroke-opacity="1.0" stroke-width="1" fill="none" shape-rendering="crispEdges"/>
<path d="M562 107.5h1m-10 5h1m9 0h1m14 0h1m16 1h1m-11 1h1m33 0h1m26 0h1m-83 2h1m21 0h1m2 1h1m-39 1h1m62 0h1m-57 1h1m2 0h1m3 0h1m27 0h1m7 0h1m7 0h1m18 0h1m-77 1h1m6 0h1m6 0h1m14 0h1m20 0h1m-28 1h1m1 0h1m10 0h1m5 0h1m46 0h1m-95 1h1m0 0h1m22 0h1m20 0h1m14 0h1m-52 1h1m15 0h1m0 0h1m0 0h1m15 0h1m12 0h1m22 0h1m0 0h1m26 0h1m8 0h1m-104 1h1m39 0h1m15 0h1m17 0h1m0 0h1m-54 1h1m0 0h1m12 0h1m-27 1h1m5 0h1m20 0h1m15 0h1m9 0h1m6 0h1m1 0h1m10 0h1m27 0h1m-118 1h1m2 0h1m10 0h1m41 0h1m4 0h1m13 0h1m3 0h1m4 0h1m23 0h1m-114 1h1m5 0h1m28 0h1m46 0h1m25 0h1m1 0h1m10 0h1m-104 1h1m23 0h1m20 0h1m31 0h1m16 0h1m-42 1h1m35 0h1m7 0h1m0 0h1m3 0h1m-31 1h1m28 0h1m-123 1h1m22 0h1m9 0h1m18 0h1m5 0h1m17 0h1m13 0h1m35 0h1m-86 1h1m17 0h1m0 0h1m14 0h1m25 0h1m18 0h1m-228 1h1m4 0h1m97 0h1m56 0h1m8 0h1m9 0h1m18 0h1m37 0h1m-133 1h1m67 0h1m30 0h1m9 0h1m0 0h1m1 0h1m-116 1h1m4 0h1m4 0h1m73 0h1m-84 1h1m83 0h1m-110 1h1m63 0h1m64 0h1m3 0h1m8 0h1m-244 1h1m108 0h1m19 0h1m103 0h1m1 0h1m-151 1h1m24 0h1m91 0h1m22 0h1m-120 1h1m6 0h1m122 0h1m8 0h1m-193 1h1m15 0h1m52 0h1m1 0h1m133 0h1m-252 1h1m52 0h1m25 0h1m34 0h1m130 0h1m6 0h1m-241 1h1m18 0h1m24 0h1m11 0h1m7 0h1m8 0h1m22 0h1m-112 1h1m9 0h1m6 0h1m13 0h1m6 0h1m64 0h1m-85 1h1m42 0h1m6 0h1m7 0h1m9 0h1m-49 1h1m1 0h1m5 0h1m4 0h1m17 0h1m20 0h1m16 0h1m10 0h1m-121 1h1m37 0h1m5 0h1m19 0h1m21 0h1m0 0h1m-92 1h1m34 0h1m15 0h1m46 0h1m18 0h1m0 0h1m2 0h1m-110 1h1m1 0h1m2 0h1m8 0h1m7 0h1m2 0h1m21 0h1m40 0h1m5 0h1m-105 1h1m3 0h1m0 0h1m10 0h1m13 0h1m0 0h1m22 0h1m37 0h1m8 0h1m15 0h1m-117 1h1m6 0h1m17 0h1m2 0h1m23 0h1m10 0h1m34 0h1m2 0h1m-96 1h1m37 0h1m10 0h1m4 0h1m14 0h1m2 0h1m17 0h1m-71 1h1m30 0h1m1 0h1m8 0h1m16 0h1m16 0h1m-61 1h1m26 0h1m4 0h1m2 0h1m4 0h1m26 0h1m-102 1h1m1 0h1m26 0h1m28 0h1m45 0h1m4 0h1m-105 1h1m2 0h1m1 0h1m5 0h1m37 0h1m23 0h1" stroke="#a8eef2" stroke-opacity="1.0" stroke-width="1" fill="none" shape-rendering="crispEdges"/>
<line x1="414" y1="120.5" x2="675" y2="120.5" stroke="#9c9cd6" stroke-width="0.7" stroke-dasharray="1.2 1.2"/>
<line x1="544.4" y1="84" x2="544.4" y2="157" stroke="#888" stroke-width="0.7"/>
<line x1="553.5" y1="84" x2="553.5" y2="157" stroke="#5566dd" stroke-width="0.8" stroke-dasharray="1.2 1.2"/>
<polyline points="413.5,156.9 415.5,156.3 415.5,156.5 416.6,146.8 417.1,145.6 417.5,146.8 418.6,156.5 418.6,156.5 419.2,152.8 419.4,151.6 419.7,152.8 420.3,156.5 420.3,157 422.7,156.1 422.7,156.3 425,156.4 425,156.7 427.4,155.8 427.4,156.1 428.4,157.3 428.4,155.9 430,156.6 430,156.5 430.9,151.1 431.2,149.9 431.6,151.1 432.4,156.5 432.4,156.5 434.8,157.1 434.8,156.5 435.8,146.4 436.3,145.2 436.7,146.4 437.8,156.5 437.8,156.5 438.9,152 439.4,150.8 439.8,152 440.9,156.5 440.9,156.3 443.3,155.9 443.3,157 444.8,155.7 444.8,157.2 446.2,156.1 446.2,156.5 447.2,149.3 447.6,148.1 448,149.3 449,156.5 449,156.5 450,147 450.4,145.8 450.8,147 451.8,156.5 451.8,156.5 452.9,147.6 453.3,146.4 453.8,147.6 454.8,156.5 454.8,155.9 457.2,156.5 457.2,157.1 457.8,151.2 458.3,149 458.9,148 459.4,148 459.8,148.7 460.4,151 461,157.1 461.5,157.1 462.9,157.1 462.9,156.4 463.6,149.5 464.4,147 465.2,145.8 465.8,145.8 466.4,146.6 467.3,149.2 468,156.4 468.7,156.6 469.3,148.6 470,145.6 470.8,144.2 471.3,144.3 471.8,145.2 472.6,148.3 473.2,156.6 473.8,157.1 474.4,150.8 475,148.5 475.8,147.4 476.3,147.5 476.7,148.2 477.5,150.6 478.1,157.1 478.7,157.1 480.3,157.1 480.3,156.4 480.7,148.7 481.2,145.9 481.8,144.6 482.2,144.6 482.6,145.5 483.2,148.5 483.7,156.4 484.2,156.5 484.6,149.8 485.1,147.3 485.7,146.1 486,146.2 486.4,146.9 487,149.5 487.5,156.5 487.9,156.5 489.5,156.5 489.5,156.5 490,149.9 490.5,147.5 491,146.3 491.4,146.4 491.7,147.1 492.3,149.6 492.8,156.5 493.2,156.5 494.9,156.5 494.9,156.5 495.4,148.6 496,145.6 496.7,144.2 497.1,144.3 497.6,145.2 498.2,148.3 498.8,156.5 499.3,156.5 500.5,156.5 500.5,155.1 501.2,147.5 502,144.6 502.9,143.3 503.5,143.4 504.1,144.2 505,147.2 505.7,155.1 506.5,145.6 507.9,141.4 509.5,145.4 511.1,141.3 513,143.8 514.4,139.3 516.1,142.5 517.5,138.5 519.1,142.6 520.5,138 522.3,141.9 523.9,137.4 525.6,140.5 527.1,135.6 529,137.5 530.3,134.7 531.7,136.1 533.2,132.5 534.4,133.3 535.8,130.5 537.5,130 539.2,126.2 541,125.1 542.7,121.2 544.5,118.1 545.8,114.6 547.7,111.2 549.2,106.8 550.9,104.1 553.5,100.7 553.5,100.7 556,103.5 557.4,106.1 558.8,108.2 560.2,124.4 561.5,112.3 562.9,113.6 564.2,115 566,144.6 567.7,116.3 570.2,133.8 571.8,117.7 573.7,124.4 576.3,109.6 577.6,108.1 579,108.2 580.3,110.3 581.7,109.8 583,111 584.4,112 585.8,113.7 587.1,115.5 588.5,117.7 589.9,121.5 591.2,123 593.8,141.9 595.7,154 597.9,124.4 599.2,122.2 600.6,121.7 601.1,120.8 601.8,148.5 602.5,120.3 602.5,121.1 604.6,146 607.3,128.4 610.5,155.4 612.7,127 614,126 614.5,125.4 615.2,155.1 615.4,125.4 615.9,125.4 616.7,124.4 618,124.3 619.4,122.7 620.7,123.3 622,123 622.1,123.4 622.8,154.2 623.4,123.8 623.5,123.3 624.8,124.4 627.5,150 630.2,127 631.5,124.5 632.9,124.4 637,148.6 639.2,126.7 639.9,155.6 640.2,124.4 640.6,126.4 642,128.2 643.7,131 645,128.4 645.3,126.5 646,140.9 646.4,125.7 646.7,126.4 649,146 653,127 654.3,126.2 655.7,124.2 657,124.4 657.7,133.6 658.4,151.7 659.1,133.9 659.8,143.2 660.6,133.2 661.3,147.1 662,134.1 662.5,125.7 665.2,151.3 668.7,131 671.4,152.7 673.3,135 675.5,157" fill="none" stroke="#0a18e0" stroke-width="1.8" stroke-linejoin="round"/>
</g>
<g clip-path="url(#clipF)">
<polygon points="413,156.8 415,156.8 417,156.7 419,156.6 421,156.6 423,156.5 425,156.5 427,156.4 429,156.3 431,156.4 433,156.5 435,156.6 437,156.7 439,156.8 441,157 443,157.1 445,157.2 447,157.1 449,157 451,156.9 453,156.8 455,156.7 457,156.6 459,156.5 461,156.6 463,156.7 465,156.8 467,157 469,157.1 471,157.2 473,157.4 475,157.5 477,157.4 479,157.2 481,157.1 483,156.9 485,156.8 487,156.6 489,156.5 491,156.5 493,156.6 495,156.7 497,156.8 499,156.9 501,157.1 503,157.2 505,157.3 507,157.2 509,157.1 511,157 513,156.9 515,156.8 517,156.7 519,156.6 521,156.6 523,156.7 525,156.7 527,156.8 529,156.8 531,156.9 533,156.9 535,157 537,157.2 539,157.4 541,157.3 543,156.8 545,157.8 547,157.3 549,157.6 551,158.6 553,158.2 555,158.7 557,157.3 559,156.7 561,157.3 563,159.9 565,162.1 567,160.4 569,163.7 571,164.7 573,164.8 575,164 577,163.4 579,165.1 581,166.4 583,167 585,166.8 587,167 589,169.2 591,168.8 593,167.2 595,170.4 597,173.1 599,174 601,172.8 603,171.8 605,173.4 607,174.4 609,174.9 611,175.4 613,175.9 615,176.3 617,176.1 619,175.2 621,175.3 623,175.7 625,175.2 627,174.6 629,175.4 631,175.9 633,175.3 635,175.4 637,176.4 639,176 641,175.8 643,176.1 645,176.4 647,176.4 649,176 651,175.6 653,175.6 655,175.9 657,176.3 659,176.3 661,176.1 663,175.8 665,175.7 667,176 669,176.3 671,176.3 673,176.1 675,175.9 675,209.9 673,210.1 671,210.3 669,210.3 667,210 665,209.7 663,209.8 661,210.1 659,210.3 657,210.3 655,209.9 653,209.6 651,209.6 649,210 647,210.4 645,210.4 643,210.1 641,209.8 639,210 637,210.4 635,209.4 633,209.3 631,209.9 629,209.4 627,208.6 625,209.2 623,209.7 621,209.3 619,209.2 617,210.1 615,210.3 613,209.9 611,209.4 609,208.9 607,208.4 605,207.4 603,205.8 601,206.8 599,207.9 597,206.9 595,204 593,200.7 591,202.1 589,202.4 587,200.1 585,199.8 583,199.7 581,199.1 579,197.6 577,195.7 575,196.2 573,196.9 571,196.6 569,195.4 567,192 565,193.5 563,191.2 561,188.4 559,187.8 557,188.2 555,189.5 553,188.8 551,189 549,187.9 547,187.4 545,187.8 543,186.8 541,187.3 539,187.4 537,187.2 535,187 533,186.9 531,186.9 529,186.8 527,186.8 525,186.7 523,186.7 521,186.6 519,186.6 517,186.7 515,186.8 513,186.9 511,187 509,187.1 507,187.2 505,187.3 503,187.2 501,187.1 499,186.9 497,186.8 495,186.7 493,186.6 491,186.5 489,186.5 487,186.6 485,186.8 483,186.9 481,187.1 479,187.2 477,187.4 475,187.5 473,187.4 471,187.2 469,187.1 467,187 465,186.8 463,186.7 461,186.6 459,186.5 457,186.6 455,186.7 453,186.8 451,186.9 449,187 447,187.1 445,187.2 443,187.1 441,187 439,186.8 437,186.7 435,186.6 433,186.5 431,186.4 429,186.3 427,186.4 425,186.5 423,186.5 421,186.6 419,186.6 417,186.7 415,186.8 413,186.8" fill="#dedede" fill-opacity="1.0" filter="url(#b3)"/>
<polygon points="413,160.8 415,160.8 417,160.7 419,160.6 421,160.6 423,160.5 425,160.5 427,160.4 429,160.3 431,160.4 433,160.5 435,160.6 437,160.7 439,160.8 441,161 443,161.1 445,161.2 447,161.1 449,161 451,160.9 453,160.8 455,160.7 457,160.6 459,160.5 461,160.6 463,160.7 465,160.8 467,161 469,161.1 471,161.2 473,161.4 475,161.5 477,161.4 479,161.2 481,161.1 483,160.9 485,160.8 487,160.6 489,160.5 491,160.5 493,160.6 495,160.7 497,160.8 499,160.9 501,161.1 503,161.2 505,161.3 507,161.2 509,161.1 511,161 513,160.9 515,160.8 517,160.7 519,160.6 521,160.6 523,160.7 525,160.7 527,160.8 529,160.8 531,160.9 533,160.9 535,161 537,161.2 539,161.4 541,161.3 543,160.8 545,161.8 547,161.3 549,161.6 551,162.6 553,162.2 555,162.7 557,161.3 559,160.7 561,161.3 563,163.9 565,166.1 567,164.4 569,167.7 571,168.7 573,168.8 575,168 577,167.4 579,169.1 581,170.4 583,171 585,170.8 587,171 589,173.2 591,172.8 593,171.2 595,174.4 597,177.1 599,178 601,176.8 603,175.8 605,177.4 607,178.4 609,178.9 611,179.4 613,179.9 615,180.3 617,180.1 619,179.2 621,179.3 623,179.7 625,179.2 627,178.6 629,179.4 631,179.9 633,179.3 635,179.4 637,180.4 639,180 641,179.8 643,180.1 645,180.4 647,180.4 649,180 651,179.6 653,179.6 655,179.9 657,180.3 659,180.3 661,180.1 663,179.8 665,179.7 667,180 669,180.3 671,180.3 673,180.1 675,179.9 675,201.9 673,202.1 671,202.3 669,202.3 667,202 665,201.7 663,201.8 661,202.1 659,202.3 657,202.3 655,201.9 653,201.6 651,201.6 649,202 647,202.4 645,202.4 643,202.1 641,201.8 639,202 637,202.4 635,201.4 633,201.3 631,201.9 629,201.4 627,200.6 625,201.2 623,201.7 621,201.3 619,201.2 617,202.1 615,202.3 613,201.9 611,201.4 609,200.9 607,200.4 605,199.4 603,197.8 601,198.8 599,199.9 597,198.9 595,196 593,192.7 591,194.1 589,194.4 587,192.1 585,191.8 583,191.7 581,191.1 579,189.6 577,187.7 575,188.2 573,188.9 571,188.6 569,187.4 567,184 565,185.5 563,183.2 561,180.4 559,179.8 557,180.2 555,181.5 553,180.8 551,181 549,179.9 547,179.4 545,179.8 543,178.8 541,179.3 539,179.4 537,179.2 535,179 533,178.9 531,178.9 529,178.8 527,178.8 525,178.7 523,178.7 521,178.6 519,178.6 517,178.7 515,178.8 513,178.9 511,179 509,179.1 507,179.2 505,179.3 503,179.2 501,179.1 499,178.9 497,178.8 495,178.7 493,178.6 491,178.5 489,178.5 487,178.6 485,178.8 483,178.9 481,179.1 479,179.2 477,179.4 475,179.5 473,179.4 471,179.2 469,179.1 467,179 465,178.8 463,178.7 461,178.6 459,178.5 457,178.6 455,178.7 453,178.8 451,178.9 449,179 447,179.1 445,179.2 443,179.1 441,179 439,178.8 437,178.7 435,178.6 433,178.5 431,178.4 429,178.3 427,178.4 425,178.5 423,178.5 421,178.6 419,178.6 417,178.7 415,178.8 413,178.8" fill="#cdcdcd" fill-opacity="1.0" filter="url(#b2)"/>
<path d="M415 161.5h1m3 0h1m16 0h1m1 0h1m9 0h1m1 0h1m7 0h1m0 0h1m2 0h1m25 0h1m1 0h1m2 0h1m19 0h1m2 0h1m19 0h1m3 0h1m7 0h1m8 0h1m20 0h1m-158 1h1m6 0h1m22 0h1m34 0h1m0 0h1m7 0h1m7 0h1m4 0h1m5 0h1m7 0h1m1 0h1m7 0h1m9 0h1m0 0h1m2 0h1m0 0h1m1 0h1m0 0h1m4 0h1m0 0h1m0 0h1m8 0h1m8 0h1m-162 1h1m0 0h1m1 0h1m3 0h1m18 0h1m2 0h1m5 0h1m1 0h1m11 0h1m2 0h1m20 0h1m4 0h1m5 0h1m2 0h1m0 0h1m0 0h1m2 0h1m11 0h1m18 0h1m2 0h1m1 0h1m2 0h1m0 0h1m0 0h1m2 0h1m2 0h1m1 0h1m0 0h1m9 0h1m99 0h1m-253 1h1m4 0h1m0 0h1m3 0h1m1 0h1m1 0h1m5 0h1m5 0h1m1 0h1m0 0h1m2 0h1m2 0h1m5 0h1m0 0h1m3 0h1m0 0h1m10 0h1m11 0h1m4 0h1m0 0h1m3 0h1m3 0h1m3 0h1m5 0h1m6 0h1m2 0h1m6 0h1m1 0h1m0 0h1m0 0h1m0 0h1m3 0h1m1 0h1m1 0h1m1 0h1m2 0h1m0 0h1m2 0h1m2 0h1m35 0h1m0 0h1m39 0h1m-214 1h1m2 0h1m3 0h1m4 0h1m4 0h1m6 0h1m2 0h1m8 0h1m4 0h1m0 0h1m1 0h1m2 0h1m4 0h1m17 0h1m0 0h1m0 0h1m10 0h1m2 0h1m3 0h1m1 0h1m1 0h1m2 0h1m9 0h1m1 0h1m6 0h1m18 0h1m5 0h1m2 0h1m9 0h1m6 0h1m6 0h1m-168 1h1m4 0h1m10 0h1m7 0h1m13 0h1m0 0h1m4 0h1m0 0h1m2 0h1m2 0h1m8 0h1m7 0h1m6 0h1m2 0h1m1 0h1m1 0h1m1 0h1m3 0h1m20 0h1m3 0h1m5 0h1m4 0h1m6 0h1m3 0h1m0 0h1m6 0h1m3 0h1m2 0h1m65 0h1m-204 1h1m1 0h1m8 0h1m3 0h1m8 0h1m0 0h1m2 0h1m2 0h1m2 0h1m2 0h1m0 0h1m0 0h1m0 0h1m0 0h1m4 0h1m2 0h1m1 0h1m0 0h1m0 0h1m2 0h1m2 0h1m14 0h1m6 0h1m1 0h1m1 0h1m8 0h1m0 0h1m9 0h1m0 0h1m3 0h1m5 0h1m4 0h1m6 0h1m3 0h1m3 0h1m12 0h1m30 0h1m36 0h1m-231 1h1m9 0h1m2 0h1m1 0h1m1 0h1m8 0h1m2 0h1m0 0h1m3 0h1m1 0h1m1 0h1m4 0h1m6 0h1m1 0h1m2 0h1m0 0h1m0 0h1m1 0h1m1 0h1m2 0h1m2 0h1m4 0h1m3 0h1m4 0h1m0 0h1m5 0h1m2 0h1m3 0h1m1 0h1m19 0h1m5 0h1m0 0h1m1 0h1m2 0h1m0 0h1m0 0h1m5 0h1m1 0h1m2 0h1m0 0h1m4 0h1m1 0h1m1 0h1m6 0h1m52 0h1m24 0h1m-238 1h1m2 0h1m4 0h1m0 0h1m2 0h1m1 0h1m2 0h1m0 0h1m0 0h1m2 0h1m6 0h1m1 0h1m0 0h1m14 0h1m0 0h1m8 0h1m1 0h1m1 0h1m0 0h1m1 0h1m0 0h1m5 0h1m0 0h1m3 0h1m3 0h1m4 0h1m6 0h1m1 0h1m2 0h1m0 0h1m5 0h1m0 0h1m0 0h1m1 0h1m1 0h1m0 0h1m1 0h1m0 0h1m1 0h1m2 0h1m4 0h1m1 0h1m0 0h1m0 0h1m3 0h1m0 0h1m0 0h1m5 0h1m3 0h1m2 0h1m0 0h1m1 0h1m1 0h1m2 0h1m2 0h1m0 0h1m76 0h1m-237 1h1m7 0h1m2 0h1m0 0h1m1 0h1m1 0h1m5 0h1m1 0h1m0 0h1m0 0h1m2 0h1m4 0h1m0 0h1m0 0h1m3 0h1m1 0h1m1 0h1m0 0h1m1 0h1m0 0h1m3 0h1m4 0h1m8 0h1m0 0h1m3 0h1m1 0h1m0 0h1m0 0h1m4 0h1m0 0h1m0 0h1m7 0h1m0 0h1m4 0h1m1 0h1m3 0h1m2 0h1m3 0h1m0 0h1m2 0h1m1 0h1m2 0h1m0 0h1m4 0h1m5 0h1m1 0h1m5 0h1m2 0h1m4 0h1m15 0h1m6 0h1m6 0h1m80 0h1m-259 1h1m5 0h1m0 0h1m3 0h1m1 0h1m1 0h1m2 0h1m3 0h1m3 0h1m0 0h1m0 0h1m2 0h1m3 0h1m2 0h1m11 0h1m2 0h1m1 0h1m1 0h1m6 0h1m1 0h1m2 0h1m2 0h1m2 0h1m1 0h1m0 0h1m0 0h1m7 0h1m2 0h1m0 0h1m1 0h1m2 0h1m3 0h1m7 0h1m0 0h1m1 0h1m12 0h1m0 0h1m13 0h1m9 0h1m7 0h1m7 0h1m1 0h1m1 0h1m19 0h1m0 0h1m4 0h1m18 0h1m31 0h1m-243 1h1m7 0h1m0 0h1m2 0h1m0 0h1m8 0h1m2 0h1m3 0h1m9 0h1m0 0h1m5 0h1m3 0h1m0 0h1m0 0h1m9 0h1m14 0h1m4 0h1m3 0h1m2 0h1m2 0h1m1 0h1m2 0h1m0 0h1m0 0h1m1 0h1m4 0h1m2 0h1m0 0h1m3 0h1m4 0h1m4 0h1m0 0h1m0 0h1m4 0h1m2 0h1m1 0h1m1 0h1m1 0h1m0 0h1m0 0h1m0 0h1m3 0h1m3 0h1m2 0h1m16 0h1m2 0h1m8 0h1m69 0h1m-250 1h1m0 0h1m5 0h1m0 0h1m0 0h1m0 0h1m0 0h1m0 0h1m0 0h1m0 0h1m5 0h1m1 0h1m12 0h1m1 0h1m0 0h1m0 0h1m1 0h1m2 0h1m4 0h1m1 0h1m0 0h1m0 0h1m2 0h1m1 0h1m4 0h1m2 0h1m0 0h1m9 0h1m2 0h1m2 0h1m3 0h1m6 0h1m2 0h1m0 0h1m5 0h1m4 0h1m2 0h1m0 0h1m0 0h1m1 0h1m14 0h1m7 0h1m0 0h1m2 0h1m1 0h1m1 0h1m6 0h1m0 0h1m8 0h1m1 0h1m20 0h1m26 0h1m30 0h1m0 0h1m-253 1h1m8 0h1m6 0h1m10 0h1m2 0h1m0 0h1m1 0h1m0 0h1m1 0h1m9 0h1m0 0h1m0 0h1m11 0h1m1 0h1m0 0h1m1 0h1m1 0h1m0 0h1m0 0h1m4 0h1m0 0h1m2 0h1m0 0h1m0 0h1m0 0h1m2 0h1m0 0h1m0 0h1m0 0h1m1 0h1m2 0h1m1 0h1m3 0h1m0 0h1m1 0h1m5 0h1m6 0h1m4 0h1m5 0h1m3 0h1m1 0h1m0 0h1m2 0h1m0 0h1m6 0h1m0 0h1m1 0h1m5 0h1m1 0h1m5 0h1m9 0h1m6 0h1m0 0h1m7 0h1m5 0h1m1 0h1m1 0h1m17 0h1m4 0h1m0 0h1m10 0h1m14 0h1m11 0h1m0 0h1m-260 1h1m5 0h1m1 0h1m3 0h1m6 0h1m3 0h1m2 0h1m2 0h1m6 0h1m0 0h1m1 0h1m0 0h1m1 0h1m2 0h1m2 0h1m6 0h1m0 0h1m0 0h1m1 0h1m7 0h1m0 0h1m4 0h1m0 0h1m0 0h1m6 0h1m1 0h1m1 0h1m5 0h1m3 0h1m6 0h1m4 0h1m10 0h1m0 0h1m1 0h1m5 0h1m6 0h1m2 0h1m2 0h1m1 0h1m0 0h1m3 0h1m1 0h1m1 0h1m1 0h1m2 0h1m1 0h1m3 0h1m1 0h1m1 0h1m1 0h1m0 0h1m0 0h1m7 0h1m9 0h1m0 0h1m19 0h1m9 0h1m16 0h1m8 0h1m-247 1h1m1 0h1m0 0h1m0 0h1m1 0h1m1 0h1m2 0h1m4 0h1m0 0h1m0 0h1m1 0h1m0 0h1m1 0h1m2 0h1m7 0h1m6 0h1m2 0h1m3 0h1m4 0h1m0 0h1m1 0h1m0 0h1m6 0h1m7 0h1m9 0h1m0 0h1m0 0h1m0 0h1m9 0h1m8 0h1m2 0h1m3 0h1m0 0h1m0 0h1m1 0h1m3 0h1m5 0h1m8 0h1m1 0h1m14 0h1m6 0h1m14 0h1m1 0h1m52 0h1m19 0h1m2 0h1m-254 1h1m4 0h1m0 0h1m3 0h1m1 0h1m4 0h1m11 0h1m2 0h1m6 0h1m1 0h1m3 0h1m0 0h1m0 0h1m2 0h1m0 0h1m3 0h1m3 0h1m1 0h1m1 0h1m1 0h1m8 0h1m5 0h1m1 0h1m1 0h1m0 0h1m4 0h1m7 0h1m1 0h1m1 0h1m0 0h1m3 0h1m0 0h1m5 0h1m3 0h1m0 0h1m3 0h1m4 0h1m5 0h1m1 0h1m0 0h1m1 0h1m0 0h1m5 0h1m0 0h1m0 0h1m0 0h1m0 0h1m11 0h1m6 0h1m6 0h1m0 0h1m1 0h1m12 0h1m6 0h1m25 0h1m12 0h1m20 0h1m-260 1h1m1 0h1m8 0h1m4 0h1m3 0h1m10 0h1m1 0h1m0 0h1m1 0h1m0 0h1m0 0h1m1 0h1m3 0h1m6 0h1m4 0h1m4 0h1m5 0h1m1 0h1m3 0h1m4 0h1m10 0h1m0 0h1m7 0h1m2 0h1m0 0h1m4 0h1m3 0h1m0 0h1m2 0h1m0 0h1m7 0h1m4 0h1m1 0h1m11 0h1m0 0h1m3 0h1m1 0h1m0 0h1m5 0h1m0 0h1m6 0h1m2 0h1m1 0h1m1 0h1m1 0h1m10 0h1m1 0h1m1 0h1m0 0h1m7 0h1m4 0h1m13 0h1m12 0h1m5 0h1m0 0h1m9 0h1m-247 1h1m0 0h1m0 0h1m5 0h1m1 0h1m8 0h1m3 0h1m1 0h1m1 0h1m2 0h1m0 0h1m8 0h1m7 0h1m7 0h1m3 0h1m0 0h1m4 0h1m3 0h1m2 0h1m7 0h1m15 0h1m5 0h1m12 0h1m1 0h1m5 0h1m0 0h1m9 0h1m0 0h1m0 0h1m5 0h1m0 0h1m3 0h1m0 0h1m1 0h1m1 0h1m1 0h1m4 0h1m7 0h1m0 0h1m3 0h1m3 0h1m6 0h1m0 0h1m1 0h1m13 0h1m7 0h1m2 0h1m6 0h1m0 0h1m4 0h1m1 0h1m1 0h1m2 0h1m7 0h1m14 0h1m1 0h1m-248 1h1m2 0h1m3 0h1m2 0h1m0 0h1m2 0h1m8 0h1m13 0h1m2 0h1m2 0h1m9 0h1m2 0h1m0 0h1m7 0h1m0 0h1m2 0h1m10 0h1m1 0h1m1 0h1m0 0h1m2 0h1m4 0h1m8 0h1m2 0h1m2 0h1m2 0h1m0 0h1m26 0h1m2 0h1m1 0h1m1 0h1m0 0h1m0 0h1m4 0h1m3 0h1m2 0h1m2 0h1m3 0h1m22 0h1m3 0h1m0 0h1m7 0h1m13 0h1m3 0h1m16 0h1m2 0h1m1 0h1m6 0h1m-246 1h1m2 0h1m3 0h1m12 0h1m7 0h1m0 0h1m1 0h1m19 0h1m12 0h1m0 0h1m2 0h1m7 0h1m20 0h1m3 0h1m0 0h1m0 0h1m1 0h1m7 0h1m0 0h1m3 0h1m3 0h1m1 0h1m5 0h1m2 0h1m5 0h1m0 0h1m5 0h1m1 0h1m4 0h1m1 0h1m1 0h1m5 0h1m3 0h1m0 0h1m3 0h1m4 0h1m1 0h1m7 0h1m2 0h1m1 0h1m1 0h1m5 0h1m1 0h1m13 0h1m3 0h1m9 0h1m5 0h1m7 0h1m-259 1h1m0 0h1m0 0h1m14 0h1m1 0h1m0 0h1m7 0h1m1 0h1m1 0h1m8 0h1m8 0h1m1 0h1m7 0h1m2 0h1m2 0h1m0 0h1m1 0h1m0 0h1m5 0h1m0 0h1m7 0h1m6 0h1m9 0h1m6 0h1m5 0h1m1 0h1m23 0h1m11 0h1m1 0h1m4 0h1m0 0h1m6 0h1m1 0h1m1 0h1m18 0h1m5 0h1m3 0h1m3 0h1m31 0h1m5 0h1m1 0h1m5 0h1m2 0h1m-254 1h1m6 0h1m4 0h1m3 0h1m1 0h1m1 0h1m11 0h1m2 0h1m23 0h1m5 0h1m66 0h1m4 0h1m7 0h1m3 0h1m1 0h1m3 0h1m0 0h1m0 0h1m2 0h1m0 0h1m0 0h1m0 0h1m0 0h1m3 0h1m1 0h1m5 0h1m0 0h1m2 0h1m1 0h1m1 0h1m18 0h1m4 0h1m12 0h1m1 0h1m6 0h1m-229 1h1m9 0h1m9 0h1m4 0h1m6 0h1m2 0h1m19 0h1m1 0h1m16 0h1m23 0h1m23 0h1m3 0h1m0 0h1m4 0h1m4 0h1m14 0h1m0 0h1m2 0h1m4 0h1m4 0h1m4 0h1m2 0h1m2 0h1m1 0h1m4 0h1m9 0h1m1 0h1m1 0h1m8 0h1m9 0h1m5 0h1m6 0h1m1 0h1m1 0h1m0 0h1m7 0h1m0 0h1m0 0h1m0 0h1m-230 1h1m1 0h1m1 0h1m19 0h1m3 0h1m8 0h1m4 0h1m46 0h1m40 0h1m1 0h1m6 0h1m9 0h1m4 0h1m0 0h1m3 0h1m1 0h1m2 0h1m2 0h1m0 0h1m10 0h1m3 0h1m0 0h1m1 0h1m20 0h1m2 0h1m4 0h1m0 0h1m1 0h1m1 0h1m1 0h1m1 0h1m2 0h1m5 0h1m0 0h1m4 0h1m-254 1h1m68 0h1m23 0h1m0 0h1m4 0h1m9 0h1m8 0h1m12 0h1m0 0h1m0 0h1m2 0h1m6 0h1m5 0h1m1 0h1m6 0h1m0 0h1m0 0h1m11 0h1m7 0h1m2 0h1m3 0h1m4 0h1m17 0h1m2 0h1m2 0h1m1 0h1m0 0h1m20 0h1m6 0h1m0 0h1m0 0h1m-253 1h1m1 0h1m39 0h1m38 0h1m9 0h1m37 0h1m6 0h1m0 0h1m19 0h1m1 0h1m3 0h1m6 0h1m5 0h1m9 0h1m0 0h1m0 0h1m6 0h1m3 0h1m11 0h1m5 0h1m3 0h1m1 0h1m10 0h1m0 0h1m3 0h1m1 0h1m-162 1h1m26 0h1m47 0h1m1 0h1m0 0h1m6 0h1m3 0h1m3 0h1m0 0h1m1 0h1m1 0h1m7 0h1m9 0h1m1 0h1m0 0h1m0 0h1m7 0h1m6 0h1m3 0h1m1 0h1m0 0h1m0 0h1m2 0h1m17 0h1m3 0h1m-221 1h1m46 0h1m35 0h1m20 0h1m14 0h1m3 0h1m3 0h1m6 0h1m0 0h1m2 0h1m2 0h1m2 0h1m1 0h1m0 0h1m0 0h1m2 0h1m5 0h1m3 0h1m6 0h1m2 0h1m4 0h1m0 0h1m4 0h1m3 0h1m0 0h1m2 0h1m0 0h1m6 0h1m4 0h1m1 0h1m2 0h1m0 0h1m8 0h1m0 0h1m4 0h1m-157 1h1m13 0h1m16 0h1m5 0h1m14 0h1m13 0h1m12 0h1m0 0h1m1 0h1m2 0h1m2 0h1m12 0h1m1 0h1m0 0h1m5 0h1m0 0h1m4 0h1m9 0h1m1 0h1m3 0h1m2 0h1m5 0h1m2 0h1m5 0h1m4 0h1m0 0h1m0 0h1m2 0h1m-177 1h1m45 0h1m18 0h1m2 0h1m5 0h1m24 0h1m1 0h1m7 0h1m4 0h1m14 0h1m0 0h1m0 0h1m0 0h1m0 0h1m1 0h1m7 0h1m4 0h1m0 0h1m3 0h1m0 0h1m1 0h1m0 0h1m0 0h1m1 0h1m1 0h1m4 0h1m0 0h1m0 0h1m4 0h1m0 0h1m-253 1h1m52 0h1m22 0h1m64 0h1m4 0h1m18 0h1m1 0h1m0 0h1m1 0h1m1 0h1m1 0h1m1 0h1m14 0h1m8 0h1m0 0h1m3 0h1m2 0h1m0 0h1m0 0h1m1 0h1m1 0h1m6 0h1m5 0h1m2 0h1m0 0h1m3 0h1m6 0h1m5 0h1m-233 1h1m47 0h1m88 0h1m4 0h1m10 0h1m6 0h1m8 0h1m0 0h1m1 0h1m7 0h1m0 0h1m2 0h1m0 0h1m0 0h1m1 0h1m1 0h1m9 0h1m2 0h1m2 0h1m3 0h1m8 0h1m4 0h1m6 0h1m1 0h1m-199 1h1m27 0h1m81 0h1m3 0h1m2 0h1m7 0h1m0 0h1m2 0h1m0 0h1m0 0h1m2 0h1m2 0h1m0 0h1m2 0h1m6 0h1m0 0h1m2 0h1m7 0h1m1 0h1m1 0h1m13 0h1m1 0h1m1 0h1m2 0h1m9 0h1m4 0h1m0 0h1m0 0h1m-257 1h1m152 0h1m8 0h1m17 0h1m8 0h1m5 0h1m5 0h1m22 0h1m4 0h1m0 0h1m4 0h1m4 0h1m1 0h1m3 0h1m0 0h1m1 0h1m5 0h1m-81 1h1m2 0h1m2 0h1m0 0h1m2 0h1m6 0h1m1 0h1m0 0h1m1 0h1m1 0h1m11 0h1m2 0h1m1 0h1m0 0h1m1 0h1m0 0h1m3 0h1m2 0h1m9 0h1m1 0h1m1 0h1m2 0h1m1 0h1m0 0h1m-80 1h1m1 0h1m2 0h1m4 0h1m2 0h1m4 0h1m4 0h1m0 0h1m4 0h1m4 0h1m1 0h1m0 0h1m3 0h1m0 0h1m2 0h1m4 0h1m1 0h1m4 0h1m5 0h1m0 0h1m10 0h1m1 0h1m2 0h1m1 0h1m-80 1h1m16 0h1m3 0h1m0 0h1m3 0h1m3 0h1m3 0h1m8 0h1m5 0h1m1 0h1m3 0h1m1 0h1m11 0h1m5 0h1m6 0h1m0 0h1m-105 1h1m19 0h1m5 0h1m0 0h1m3 0h1m5 0h1m7 0h1m1 0h1m5 0h1m4 0h1m4 0h1m2 0h1m1 0h1m1 0h1m15 0h1m0 0h1m11 0h1m0 0h1m-101 1h1m0 0h1m1 0h1m10 0h1m0 0h1m6 0h1m10 0h1m3 0h1m2 0h1m11 0h1m2 0h1m0 0h1m0 0h1m2 0h1m2 0h1m0 0h1m9 0h1m6 0h1m21 0h1m2 0h1m-84 1h1m8 0h1m0 0h1m2 0h1m4 0h1m1 0h1m2 0h1m1 0h1m3 0h1m5 0h1m1 0h1m0 0h1m13 0h1m1 0h1m0 0h1m-59 1h1m11 0h1m7 0h1m0 0h1m17 0h1m9 0h1m5 0h1m4 0h1m8 0h1m4 0h1m0 0h1m5 0h1m-93 1h1m17 0h1m9 0h1m6 0h1m5 0h1m3 0h1m2 0h1m4 0h1m5 0h1m1 0h1m1 0h1m3 0h1m12 0h1m9 0h1m5 0h1m-79 1h1m9 0h1m1 0h1m20 0h1m10 0h1m9 0h1m14 0h1m-55 1h1m6 0h1m3 0h1m18 0h1m7 0h1m9 0h1m0 0h1m-56 1h1m31 0h1m8 0h1m9 0h1m4 0h1m1 0h1m5 0h1m1 0h1m-82 1h1m21 0h1m12 0h1m9 0h1m19 0h1m1 0h1m1 0h1m0 0h1m6 0h1m5 0h1m-78 1h1m2 0h1m48 0h1m5 0h1m2 0h1m3 0h1m10 0h1m0 0h1m1 0h1m-64 1h1m29 0h1m5 0h1m5 0h1m-38 1h1m56 0h1m-74 1h1m13 0h1m21 0h1m-22 1h1m31 0h1m9 0h1m12 0h1m-51 1h1m29 0h1m12 0h1m-54 2h1m40 0h1m8 0h1m11 3h1m-35 1h1" stroke="#acacac" stroke-opacity="1.0" stroke-width="1" fill="none" shape-rendering="crispEdges"/>
<path d="M422 161.5h1m1 0h1m38 0h1m8 0h1m17 0h1m12 0h1m18 0h1m19 0h1m4 0h1m7 0h1m0 0h1m-142 1h1m2 0h1m12 0h1m1 0h1m6 0h1m11 0h1m5 0h1m62 0h1m23 0h1m-132 1h1m13 0h1m6 0h1m49 0h1m3 0h1m8 0h1m1 0h1m24 0h1m32 0h1m1 0h1m0 0h1m-141 1h1m7 0h1m18 0h1m1 0h1m2 0h1m5 0h1m7 0h1m3 0h1m4 0h1m14 0h1m10 0h1m1 0h1m7 0h1m19 0h1m0 0h1m13 0h1m11 0h1m4 0h1m-143 1h1m22 0h1m2 0h1m13 0h1m23 0h1m0 0h1m5 0h1m0 0h1m4 0h1m14 0h1m5 0h1m0 0h1m1 0h1m6 0h1m2 0h1m5 0h1m5 0h1m11 0h1m4 0h1m-140 1h1m6 0h1m7 0h1m7 0h1m5 0h1m7 0h1m1 0h1m5 0h1m8 0h1m2 0h1m3 0h1m5 0h1m1 0h1m3 0h1m3 0h1m1 0h1m11 0h1m12 0h1m10 0h1m10 0h1m6 0h1m2 0h1m24 0h1m-170 1h1m4 0h1m0 0h1m7 0h1m3 0h1m0 0h1m0 0h1m5 0h1m0 0h1m11 0h1m8 0h1m3 0h1m13 0h1m2 0h1m12 0h1m0 0h1m11 0h1m0 0h1m8 0h1m11 0h1m5 0h1m3 0h1m0 0h1m5 0h1m0 0h1m-137 1h1m1 0h1m9 0h1m0 0h1m0 0h1m4 0h1m5 0h1m18 0h1m2 0h1m0 0h1m6 0h1m5 0h1m0 0h1m1 0h1m14 0h1m0 0h1m0 0h1m0 0h1m6 0h1m3 0h1m0 0h1m4 0h1m2 0h1m14 0h1m3 0h1m4 0h1m5 0h1m11 0h1m7 0h1m18 0h1m6 0h1m-177 1h1m0 0h1m19 0h1m5 0h1m2 0h1m2 0h1m5 0h1m0 0h1m7 0h1m10 0h1m5 0h1m20 0h1m4 0h1m3 0h1m0 0h1m1 0h1m1 0h1m19 0h1m5 0h1m1 0h1m3 0h1m3 0h1m-137 1h1m18 0h1m1 0h1m4 0h1m8 0h1m0 0h1m1 0h1m1 0h1m0 0h1m2 0h1m12 0h1m13 0h1m0 0h1m12 0h1m7 0h1m13 0h1m2 0h1m4 0h1m2 0h1m2 0h1m2 0h1m3 0h1m13 0h1m2 0h1m6 0h1m1 0h1m-148 1h1m0 0h1m0 0h1m5 0h1m2 0h1m4 0h1m4 0h1m5 0h1m4 0h1m7 0h1m5 0h1m0 0h1m28 0h1m1 0h1m16 0h1m10 0h1m3 0h1m2 0h1m2 0h1m1 0h1m4 0h1m5 0h1m2 0h1m4 0h1m10 0h1m-146 1h1m16 0h1m0 0h1m2 0h1m9 0h1m7 0h1m5 0h1m0 0h1m2 0h1m7 0h1m4 0h1m11 0h1m0 0h1m3 0h1m1 0h1m5 0h1m4 0h1m10 0h1m0 0h1m3 0h1m11 0h1m3 0h1m6 0h1m7 0h1m10 0h1m8 0h1m7 0h1m-176 1h1m0 0h1m0 0h1m11 0h1m3 0h1m1 0h1m6 0h1m11 0h1m0 0h1m7 0h1m6 0h1m0 0h1m6 0h1m0 0h1m0 0h1m1 0h1m6 0h1m1 0h1m0 0h1m10 0h1m3 0h1m8 0h1m2 0h1m12 0h1m18 0h1m9 0h1m3 0h1m0 0h1m0 0h1m0 0h1m4 0h1m1 0h1m15 0h1m2 0h1m-169 1h1m0 0h1m29 0h1m0 0h1m8 0h1m8 0h1m0 0h1m6 0h1m3 0h1m7 0h1m13 0h1m1 0h1m1 0h1m4 0h1m5 0h1m7 0h1m1 0h1m2 0h1m9 0h1m1 0h1m6 0h1m6 0h1m13 0h1m-165 1h1m1 0h1m5 0h1m10 0h1m1 0h1m2 0h1m5 0h1m0 0h1m18 0h1m6 0h1m20 0h1m7 0h1m4 0h1m0 0h1m5 0h1m14 0h1m1 0h1m15 0h1m5 0h1m2 0h1m7 0h1m3 0h1m9 0h1m63 0h1m29 0h1m-246 1h1m20 0h1m18 0h1m13 0h1m6 0h1m2 0h1m13 0h1m2 0h1m9 0h1m4 0h1m12 0h1m10 0h1m5 0h1m1 0h1m4 0h1m0 0h1m8 0h1m0 0h1m1 0h1m0 0h1m0 0h1m3 0h1m5 0h1m-123 1h1m1 0h1m23 0h1m26 0h1m1 0h1m7 0h1m3 0h1m12 0h1m23 0h1m8 0h1m3 0h1m6 0h1m3 0h1m8 0h1m2 0h1m11 0h1m-177 1h1m18 0h1m16 0h1m1 0h1m0 0h1m73 0h1m1 0h1m18 0h1m7 0h1m1 0h1m2 0h1m0 0h1m7 0h1m-151 1h1m30 0h1m19 0h1m39 0h1m5 0h1m22 0h1m6 0h1m1 0h1m7 0h1m5 0h1m1 0h1m33 0h1m16 0h1m24 0h1m-164 1h1m0 0h1m0 0h1m17 0h1m38 0h1m19 0h1m26 0h1m6 0h1m16 0h1m-153 1h1m89 0h1m6 0h1m9 0h1m0 0h1m19 0h1m7 0h1m0 0h1m7 0h1m12 0h1m22 0h1m6 0h1m-148 1h1m27 0h1m15 0h1m5 0h1m4 0h1m4 0h1m3 0h1m7 0h1m4 0h1m1 0h1m24 0h1m6 0h1m3 0h1m17 0h1m3 0h1m1 0h1m0 0h1m-85 1h1m10 0h1m6 0h1m2 0h1m0 0h1m4 0h1m0 0h1m4 0h1m0 0h1m6 0h1m25 0h1m2 0h1m2 0h1m1 0h1m3 0h1m0 0h1m9 0h1m-100 1h1m11 0h1m12 0h1m3 0h1m0 0h1m3 0h1m4 0h1m10 0h1m5 0h1m4 0h1m3 0h1m2 0h1m2 0h1m3 0h1m10 0h1m0 0h1m-86 1h1m13 0h1m6 0h1m8 0h1m5 0h1m2 0h1m27 0h1m2 0h1m5 0h1m1 0h1m11 0h1m3 0h1m1 0h1m5 0h1m-219 1h1m129 0h1m1 0h1m4 0h1m4 0h1m0 0h1m1 0h1m1 0h1m1 0h1m1 0h1m16 0h1m5 0h1m5 0h1m0 0h1m2 0h1m7 0h1m4 0h1m0 0h1m2 0h1m6 0h1m2 0h1m0 0h1m-94 1h1m48 0h1m1 0h1m2 0h1m12 0h1m0 0h1m3 0h1m3 0h1m3 0h1m2 0h1m1 0h1m2 0h1m1 0h1m-86 1h1m13 0h1m11 0h1m0 0h1m3 0h1m0 0h1m3 0h1m0 0h1m2 0h1m4 0h1m0 0h1m4 0h1m0 0h1m0 0h1m2 0h1m3 0h1m5 0h1m14 0h1m0 0h1m3 0h1m-76 1h1m7 0h1m13 0h1m4 0h1m4 0h1m4 0h1m4 0h1m7 0h1m6 0h1m12 0h1m-57 1h1m8 0h1m0 0h1m19 0h1m3 0h1m15 0h1m13 0h1m3 0h1m0 0h1m-79 1h1m9 0h1m2 0h1m6 0h1m0 0h1m1 0h1m1 0h1m0 0h1m0 0h1m0 0h1m3 0h1m20 0h1m5 0h1m5 0h1m2 0h1m5 0h1m-66 1h1m2 0h1m3 0h1m23 0h1m7 0h1m1 0h1m4 0h1m1 0h1m-58 1h1m11 0h1m5 0h1m6 0h1m15 0h1m11 0h1m2 0h1m19 0h1m-64 1h1m3 0h1m1 0h1m6 0h1m5 0h1m0 0h1m17 0h1m6 0h1m4 0h1m11 0h1m-75 1h1m12 0h1m19 0h1m19 0h1m1 0h1m15 0h1m2 0h1m3 0h1m-51 1h1m4 0h1m16 0h1m5 0h1m-56 1h1m33 0h1m12 0h1m-28 1h1m37 0h1m0 0h1m17 0h1m-37 3h1m4 2h1" stroke="#888" stroke-opacity="1.0" stroke-width="1" fill="none" shape-rendering="crispEdges"/>
<path d="M554 167.5h1m-2 1h1m-4 2h1m9 5h1m6 0h1m0 1h1m-23 1h1m4 0h1m3 0h1m3 0h1m16 2h1m-18 1h1m4 0h1m8 0h1m6 0h1m-36 1h1m19 0h1m3 0h1m0 0h1m2 0h1m1 0h1m-16 1h1m16 1h1m9 0h1m44 0h1m-67 1h1m7 0h1m-15 1h1m0 0h1m7 0h1m1 0h1m2 0h1m-22 1h1m2 0h1m8 0h1m4 0h1m1 0h1m6 0h1m27 0h1m17 0h1m-77 1h1m8 0h1m3 0h1m0 0h1m11 0h1m1 0h1m1 0h1m4 0h1m2 0h1m-33 1h1m2 0h1m3 0h1m4 0h1m8 0h1m1 0h1m0 0h1m11 0h1m1 0h1m0 0h1m3 0h1m22 0h1m16 0h1m-78 1h1m7 0h1m0 0h1m4 0h1m0 0h1m3 0h1m0 0h1m2 0h1m7 0h1m16 0h1m15 0h1m13 0h1m-89 1h1m15 0h1m5 0h1m11 0h1m0 0h1m5 0h1m0 0h1m2 0h1m0 0h1m-48 1h1m10 0h1m12 0h1m3 0h1m4 0h1m16 0h1m41 0h1m-96 1h1m8 0h1m9 0h1m17 0h1m10 0h1m5 0h1m46 0h1m-102 1h1m1 0h1m7 0h1m10 0h1m2 0h1m0 0h1m9 0h1m20 0h1m28 0h1m37 0h1m-103 1h1m2 0h1m5 0h1m4 0h1m2 0h1m1 0h1m0 0h1m0 0h1m0 0h1m5 0h1m0 0h1m6 0h1m24 0h1m4 0h1m20 0h1m13 0h1m0 0h1m-123 1h1m33 0h1m0 0h1m2 0h1m4 0h1m6 0h1m0 0h1m11 0h1m9 0h1m33 0h1m5 0h1m13 0h1m-128 1h1m8 0h1m5 0h1m2 0h1m11 0h1m4 0h1m4 0h1m1 0h1m4 0h1m3 0h1m2 0h1m2 0h1m4 0h1m2 0h1m13 0h1m6 0h1m6 0h1m12 0h1m8 0h1m8 0h1m-119 1h1m7 0h1m9 0h1m15 0h1m8 0h1m0 0h1m4 0h1m0 0h1m1 0h1m15 0h1m3 0h1m4 0h1m1 0h1m15 0h1m11 0h1m10 0h1m-126 1h1m0 0h1m14 0h1m16 0h1m8 0h1m13 0h1m5 0h1m7 0h1m5 0h1m3 0h1m3 0h1m17 0h1m23 0h1m-118 1h1m7 0h1m16 0h1m8 0h1m9 0h1m11 0h1m0 0h1m6 0h1m1 0h1m5 0h1m7 0h1m10 0h1m4 0h1m7 0h1m2 0h1m11 0h1m-126 1h1m44 0h1m4 0h1m4 0h1m5 0h1m7 0h1m5 0h1m1 0h1m5 0h1m1 0h1m2 0h1m8 0h1m0 0h1m1 0h1m5 0h1m9 0h1m-122 1h1m7 0h1m0 0h1m9 0h1m42 0h1m0 0h1m1 0h1m4 0h1m3 0h1m22 0h1m0 0h1m1 0h1m5 0h1m0 0h1m1 0h1m10 0h1m1 0h1m0 0h1m-117 1h1m6 0h1m31 0h1m7 0h1m2 0h1m3 0h1m10 0h1m6 0h1m4 0h1m0 0h1m5 0h1m0 0h1m2 0h1m8 0h1m3 0h1m4 0h1m1 0h1m1 0h1m-70 1h1m10 0h1m3 0h1m2 0h1m4 0h1m1 0h1m7 0h1m16 0h1m9 0h1m2 0h1m9 0h1m4 0h1m-127 1h1m5 0h1m3 0h1m1 0h1m43 0h1m4 0h1m39 0h1m4 0h1m7 0h1m2 0h1m4 0h1m0 0h1m0 0h1m-74 1h1m15 0h1m0 0h1m1 0h1m1 0h1m0 0h1m0 0h1m4 0h1m18 0h1m2 0h1m7 0h1m9 0h1m-119 1h1m47 0h1m13 0h1m11 0h1m2 0h1m4 0h1m3 0h1m0 0h1m1 0h1m1 0h1m1 0h1m1 0h1m0 0h1m1 0h1m0 0h1m2 0h1m9 0h1m0 0h1m2 0h1m3 0h1m-66 1h1m3 0h1m6 0h1m8 0h1m9 0h1m8 0h1m3 0h1m2 0h1m2 0h1m1 0h1m2 0h1m7 0h1m10 0h1m0 0h1m-62 1h1m7 0h1m3 0h1m14 0h1m18 0h1m-115 1h1m67 0h1m0 0h1m13 0h1m0 0h1m4 0h1m2 0h1m5 0h1m0 0h1m11 0h1m1 0h1m13 0h1m0 0h1m-65 1h1m7 0h1m11 0h1m20 0h1m5 0h1m11 0h1m-63 1h1m8 0h1m20 0h1m20 0h1m12 0h1m-58 1h1m25 0h1m5 0h1m18 0h1m6 0h1m1 0h1m-36 1h1m30 0h1m0 0h1m1 0h1m-122 1h1m100 0h1m10 0h1m2 0h1m-40 1h1m35 0h1m0 0h1m-42 1h1m-76 1h1m111 0h1m6 1h1m-12 1h1m-24 1h1" stroke="#b8b8b8" stroke-opacity="1.0" stroke-width="1" fill="none" shape-rendering="crispEdges"/>
<polygon points="413,214 415,214 417,214 419,214 421,214 423,214 425,214 427,214 429,214 431,214 433,214 435,214 437,214 439,214 441,214 443,214 445,214 447,214 449,214 451,214 453,214 455,214 457,214 459,214 461,214 463,214 465,214 467,214 469,214 471,214 473,214 475,214 477,214 479,214 481,214 483,214 485,214 487,214 489,214 491,214 493,214 495,214 497,214 499,214 501,214 503,214 505,214 507,214 509,214 511,214 513,214 515,214 517,214 519,214 521,214 523,214 525,214 527,214 529,214 531,214 533,214 535,214 537,214 539,214 541,214 543,214 545,213.5 547,212.3 549,210.6 551,208.8 553,206.9 555,204.9 557,202.9 559,201 561,197.5 563,199.6 565,198.7 567,197.7 569,198.2 571,196.8 573,194.8 575,191.3 577,190.1 579,195.6 581,198.8 583,199.8 585,198.5 587,198.2 589,199.4 591,200.3 593,200.6 595,201 597,202 599,203.1 601,204.2 603,205.5 605,206.8 607,208.2 609,208.5 611,207.9 613,209.2 615,210.5 617,211.7 619,211.9 621,210.9 623,210.3 625,210 627,209.7 629,210.6 631,211.4 633,212.6 635,212.6 637,211.4 639,213.1 641,213.8 643,213.2 645,212.8 647,212.7 649,213.1 651,213.4 653,213.4 655,212.9 657,212.4 659,212.5 661,213 663,213.5 665,213.6 667,213.2 669,212.8 671,212.7 673,212.9 675,213.1 675,240 673,240 671,240 669,240 667,240 665,240 663,240 661,240 659,240 657,240 655,240 653,240 651,240 649,240 647,240 645,240 643,240 641,240 639,240 637,240 635,240 633,240 631,240 629,240 627,240 625,240 623,240 621,240 619,240 617,240 615,240 613,240 611,240 609,240 607,240 605,240 603,240 601,240 599,240 597,240 595,240 593,240 591,240 589,240 587,240 585,240 583,240 581,240 579,240 577,240 575,240 573,240 571,240 569,240 567,240 565,240 563,240 561,240 559,240 557,240 555,240 553,240 551,240 549,240 547,240 545,240 543,240 541,240 539,240 537,240 535,240 533,240 531,240 529,240 527,240 525,240 523,240 521,240 519,240 517,240 515,240 513,240 511,240 509,240 507,240 505,240 503,240 501,240 499,240 497,240 495,240 493,240 491,240 489,240 487,240 485,240 483,240 481,240 479,240 477,240 475,240 473,240 471,240 469,240 467,240 465,240 463,240 461,240 459,240 457,240 455,240 453,240 451,240 449,240 447,240 445,240 443,240 441,240 439,240 437,240 435,240 433,240 431,240 429,240 427,240 425,240 423,240 421,240 419,240 417,240 415,240 413,240" fill="#d6f7f9" fill-opacity="1.0" filter="url(#b2)"/>
<polygon points="413,214 415,214 417,214 419,214 421,214 423,214 425,214 427,214 429,214 431,214 433,214 435,214 437,214 439,214 441,214 443,214 445,214 447,214 449,214 451,214 453,214 455,214 457,214 459,214 461,214 463,214 465,214 467,214 469,214 471,214 473,214 475,214 477,214 479,214 481,214 483,214 485,214 487,214 489,214 491,214 493,214 495,214 497,214 499,214 501,214 503,214 505,214 507,214 509,214 511,214 513,214 515,214 517,214 519,214 521,214 523,214 525,214 527,214 529,214 531,214 533,214 535,214 537,214 539,214 541,214.2 543,214.4 545,214.8 547,215.1 549,215.3 551,215.7 553,215.9 555,216.2 557,216.6 559,216.8 561,217 563,217 565,217 567,217 569,217 571,217 573,217 575,217 577,217 579,217 581,217 583,217 585,217 587,217 589,217 591,217 593,217 595,217 597,217 599,217 601,217 603,217 605,217 607,217 609,217 611,217 613,217 615,217 617,217 619,217 621,217 623,217 625,217 627,217 629,217 631,217 633,217 635,217 637,217 639,217 641,217 643,217 645,217 647,217 649,217 651,217 653,217 655,217 657,217 659,217 661,217 663,217 665,217 667,217 669,217 671,217 673,217 675,217 675,240 673,240 671,240 669,240 667,240 665,240 663,240 661,240 659,240 657,240 655,240 653,240 651,240 649,240 647,240 645,240 643,240 641,240 639,240 637,240 635,240 633,240 631,240 629,240 627,240 625,240 623,240 621,240 619,240 617,240 615,240 613,240 611,240 609,240 607,240 605,240 603,240 601,240 599,240 597,240 595,240 593,240 591,240 589,240 587,240 585,240 583,240 581,240 579,240 577,240 575,240 573,240 571,240 569,240 567,240 565,240 563,240 561,240 559,240 557,240 555,240 553,240 551,240 549,240 547,240 545,240 543,240 541,240 539,240 537,240 535,240 533,240 531,240 529,240 527,240 525,240 523,240 521,240 519,240 517,240 515,240 513,240 511,240 509,240 507,240 505,240 503,240 501,240 499,240 497,240 495,240 493,240 491,240 489,240 487,240 485,240 483,240 481,240 479,240 477,240 475,240 473,240 471,240 469,240 467,240 465,240 463,240 461,240 459,240 457,240 455,240 453,240 451,240 449,240 447,240 445,240 443,240 441,240 439,240 437,240 435,240 433,240 431,240 429,240 427,240 425,240 423,240 421,240 419,240 417,240 415,240 413,240" fill="#a8eef2" fill-opacity="0.8" filter="url(#b2)"/>
<path d="M575 190.5h1m1 2h1m-4 1h1m-17 1h1m17 0h1m-6 1h1m7 0h1m-6 1h1m3 0h1m3 0h1m1 0h1m-19 1h1m3 1h1m20 0h1m0 0h1m-29 1h1m1 0h1m-11 1h1m8 0h1m2 0h1m8 0h1m0 0h1m8 0h1m4 0h1m-26 1h1m3 0h1m3 0h1m7 0h1m-16 1h1m2 0h1m1 0h1m10 0h1m5 0h1m-26 1h1m1 0h1m1 0h1m2 0h1m1 0h1m2 0h1m1 0h1m-25 1h1m5 0h1m3 0h1m1 0h1m5 0h1m6 0h1m3 0h1m0 0h1m1 0h1m9 0h1m0 0h1m-43 1h1m4 0h1m0 0h1m3 0h1m5 0h1m12 0h1m14 0h1m-48 1h1m26 0h1m8 0h1m2 0h1m3 0h1m17 0h1m45 0h1m12 0h1m-136 1h1m21 0h1m1 0h1m5 0h1m4 0h1m12 0h1m3 0h1m0 0h1m4 0h1m6 0h1m8 0h1m5 0h1m27 0h1m22 0h1m-115 1h1m0 0h1m3 0h1m2 0h1m5 0h1m0 0h1m8 0h1m8 0h1m6 0h1m1 0h1m0 0h1m3 0h1m0 0h1m7 0h1m-62 1h1m8 0h1m2 0h1m6 0h1m10 0h1m2 0h1m14 0h1m0 0h1m5 0h1m17 0h1m8 0h1m1 0h1m-83 1h1m1 0h1m3 0h1m1 0h1m20 0h1m0 0h1m2 0h1m2 0h1m4 0h1m5 0h1m4 0h1m25 0h1m-161 1h1m25 0h1m42 0h1m13 0h1m3 0h1m1 0h1m22 0h1m3 0h1m7 0h1m2 0h1m2 0h1m22 0h1m0 0h1m31 0h1m7 0h1m6 0h1m-225 1h1m133 0h1m1 0h1m5 0h1m1 0h1m2 0h1m4 0h1m1 0h1m1 0h1m0 0h1m0 0h1m0 0h1m0 0h1m8 0h1m4 0h1m3 0h1m2 0h1m19 0h1m7 0h1m16 0h1m-176 1h1m27 0h1m21 0h1m0 0h1m0 0h1m0 0h1m35 0h1m7 0h1m0 0h1m3 0h1m0 0h1m2 0h1m4 0h1m0 0h1m3 0h1m0 0h1m9 0h1m2 0h1m13 0h1m1 0h1m20 0h1m-169 1h1m18 0h1m33 0h1m6 0h1m6 0h1m25 0h1m4 0h1m12 0h1m7 0h1m18 0h1m0 0h1m1 0h1m4 0h1m2 0h1m1 0h1m12 0h1m6 0h1m2 0h1m-239 1h1m1 0h1m20 0h1m5 0h1m12 0h1m5 0h1m53 0h1m15 0h1m37 0h1m18 0h1m4 0h1m2 0h1m3 0h1m12 0h1m3 0h1m3 0h1m9 0h1m2 0h1m2 0h1m7 0h1m6 0h1m0 0h1m-254 1h1m47 0h1m23 0h1m17 0h1m2 0h1m13 0h1m16 0h1m0 0h1m3 0h1m4 0h1m2 0h1m5 0h1m30 0h1m16 0h1m5 0h1m1 0h1m6 0h1m2 0h1m8 0h1m19 0h1m4 0h1m1 0h1m3 0h1m0 0h1m-220 1h1m9 0h1m48 0h1m47 0h1m4 0h1m43 0h1m9 0h1m2 0h1m1 0h1m6 0h1m1 0h1m5 0h1m9 0h1m5 0h1m6 0h1m-229 1h1m12 0h1m6 0h1m5 0h1m1 0h1m0 0h1m10 0h1m8 0h1m11 0h1m7 0h1m14 0h1m25 0h1m9 0h1m53 0h1m5 0h1m0 0h1m1 0h1m12 0h1m1 0h1m0 0h1m5 0h1m2 0h1m12 0h1m1 0h1m1 0h1m0 0h1m15 0h1m0 0h1m-262 1h1m0 0h1m32 0h1m9 0h1m6 0h1m1 0h1m3 0h1m0 0h1m2 0h1m2 0h1m15 0h1m0 0h1m1 0h1m9 0h1m0 0h1m9 0h1m5 0h1m1 0h1m6 0h1m6 0h1m1 0h1m2 0h1m0 0h1m1 0h1m4 0h1m56 0h1m3 0h1m4 0h1m1 0h1m2 0h1m4 0h1m0 0h1m5 0h1m2 0h1m4 0h1m0 0h1m0 0h1m1 0h1m0 0h1m5 0h1m5 0h1m1 0h1m0 0h1m2 0h1m7 0h1m-247 1h1m1 0h1m16 0h1m0 0h1m1 0h1m2 0h1m2 0h1m1 0h1m37 0h1m0 0h1m15 0h1m1 0h1m4 0h1m1 0h1m4 0h1m7 0h1m6 0h1m3 0h1m4 0h1m52 0h1m9 0h1m10 0h1m0 0h1m8 0h1m2 0h1m0 0h1m3 0h1m6 0h1m10 0h1m5 0h1m0 0h1m0 0h1m-245 1h1m9 0h1m3 0h1m0 0h1m8 0h1m3 0h1m11 0h1m0 0h1m1 0h1m4 0h1m19 0h1m6 0h1m5 0h1m0 0h1m0 0h1m2 0h1m5 0h1m1 0h1m8 0h1m0 0h1m7 0h1m2 0h1m5 0h1m61 0h1m1 0h1m12 0h1m9 0h1m6 0h1m8 0h1m7 0h1m3 0h1m-244 1h1m7 0h1m9 0h1m1 0h1m15 0h1m3 0h1m6 0h1m1 0h1m1 0h1m8 0h1m3 0h1m3 0h1m0 0h1m2 0h1m0 0h1m1 0h1m4 0h1m11 0h1m2 0h1m10 0h1m2 0h1m0 0h1m7 0h1m8 0h1m60 0h1m10 0h1m7 0h1m0 0h1m5 0h1m18 0h1m0 0h1m1 0h1m3 0h1m2 0h1m0 0h1m6 0h1m0 0h1m0 0h1m-259 1h1m9 0h1m0 0h1m2 0h1m9 0h1m1 0h1m0 0h1m4 0h1m6 0h1m4 0h1m5 0h1m4 0h1m1 0h1m8 0h1m4 0h1m2 0h1m0 0h1m0 0h1m2 0h1m5 0h1m0 0h1m1 0h1m1 0h1m0 0h1m0 0h1m0 0h1m5 0h1m1 0h1m4 0h1m3 0h1m2 0h1m6 0h1m5 0h1m1 0h1m5 0h1m53 0h1m6 0h1m12 0h1m0 0h1m7 0h1m1 0h1m9 0h1m6 0h1m1 0h1m7 0h1m3 0h1m1 0h1m-249 1h1m3 0h1m1 0h1m7 0h1m0 0h1m10 0h1m2 0h1m11 0h1m0 0h1m2 0h1m11 0h1m11 0h1m1 0h1m6 0h1m9 0h1m12 0h1m2 0h1m2 0h1m0 0h1m5 0h1m10 0h1m1 0h1m72 0h1m8 0h1m13 0h1m0 0h1m11 0h1m2 0h1m3 0h1m-238 1h1m5 0h1m0 0h1m1 0h1m0 0h1m0 0h1m12 0h1m1 0h1m1 0h1m3 0h1m8 0h1m2 0h1m3 0h1m6 0h1m4 0h1m6 0h1m4 0h1m3 0h1m1 0h1m0 0h1m6 0h1m18 0h1m0 0h1m6 0h1m3 0h1m2 0h1m56 0h1m20 0h1m19 0h1m8 0h1m14 0h1m0 0h1m6 0h1m0 0h1m-260 1h1m4 0h1m0 0h1m0 0h1m3 0h1m0 0h1m0 0h1m6 0h1m0 0h1m0 0h1m7 0h1m3 0h1m1 0h1m14 0h1m8 0h1m5 0h1m1 0h1m0 0h1m9 0h1m3 0h1m5 0h1m0 0h1m5 0h1m1 0h1m0 0h1m1 0h1m5 0h1m11 0h1m77 0h1m6 0h1m14 0h1m9 0h1m13 0h1m-239 1h1m4 0h1m14 0h1m0 0h1m0 0h1m12 0h1m3 0h1m5 0h1m3 0h1m0 0h1m1 0h1m0 0h1m3 0h1m2 0h1m1 0h1m1 0h1m6 0h1m2 0h1m6 0h1m0 0h1m0 0h1m6 0h1m3 0h1m2 0h1m12 0h1m0 0h1m0 0h1m2 0h1m6 0h1m68 0h1m4 0h1m1 0h1m1 0h1m10 0h1m14 0h1m2 0h1m3 0h1m1 0h1m15 0h1m-257 1h1m0 0h1m1 0h1m0 0h1m8 0h1m1 0h1m6 0h1m0 0h1m0 0h1m1 0h1m2 0h1m17 0h1m0 0h1m0 0h1m7 0h1m2 0h1m0 0h1m4 0h1m1 0h1m2 0h1m0 0h1m2 0h1m6 0h1m1 0h1m3 0h1m17 0h1m4 0h1m4 0h1m4 0h1m0 0h1m5 0h1m4 0h1m84 0h1m8 0h1m1 0h1m-231 1h1m3 0h1m12 0h1m2 0h1m3 0h1m5 0h1m1 0h1m1 0h1m1 0h1m27 0h1m0 0h1m1 0h1m6 0h1m15 0h1m13 0h1m19 0h1m92 0h1m16 0h1m9 0h1m8 0h1m5 0h1m-259 1h1m0 0h1m0 0h1m3 0h1m0 0h1m2 0h1m10 0h1m5 0h1m17 0h1m0 0h1m45 0h1m0 0h1m3 0h1m21 0h1m11 0h1m90 0h1m1 0h1m-227 1h1m2 0h1m0 0h1m11 0h1m11 0h1m10 0h1m1 0h1m13 0h1m20 0h1m21 0h1m9 0h1m8 0h1m8 0h1m5 0h1" stroke="#8ae8ee" stroke-opacity="1.0" stroke-width="1" fill="none" shape-rendering="crispEdges"/>
<path d="M576 185.5h1m-15 1h1m-2 1h1m12 0h1m-16 1h1m7 1h1m7 1h1m13 0h1m-34 1h1m16 0h1m-6 2h1m2 0h1m14 0h1m19 0h1m-17 1h1m-31 1h1m11 0h1m9 0h1m28 0h1m63 0h1m-99 1h1m1 0h1m12 0h1m3 0h1m-12 1h1m-37 1h1m19 0h1m14 0h1m-44 1h1m41 0h1m9 0h1m19 0h1m-62 1h1m11 0h1m1 0h1m3 0h1m9 0h1m6 0h1m0 0h1m13 0h1m5 0h1m55 0h1m-225 1h1m116 0h1m33 0h1m12 0h1m32 0h1m5 0h1m-110 1h1m63 0h1m4 0h1m24 0h1m23 0h1m-99 1h1m59 0h1m16 0h1m29 0h1m-220 1h1m108 0h1m13 0h1m46 0h1m47 0h1m-239 1h1m135 0h1m35 0h1m0 0h1m1 0h1m-160 1h1m36 0h1m6 0h1m5 0h1m41 0h1m76 0h1m32 0h1m14 0h1m18 0h1m-166 1h1m0 0h1m3 0h1m48 0h1m36 0h1m0 0h1m21 0h1m32 0h1m-224 1h1m110 0h1m8 0h1m27 0h1m38 0h1m46 0h1m0 0h1m1 0h1m-257 1h1m104 0h1m15 0h1m0 0h1m79 0h1m5 0h1m23 0h1m1 0h1m10 0h1m9 0h1m1 0h1m-228 1h1m29 0h1m52 0h1m9 0h1m77 0h1m19 0h1m27 0h1m-219 1h1m4 0h1m10 0h1m2 0h1m24 0h1m32 0h1m22 0h1m59 0h1m18 0h1m29 0h1m11 0h1m-161 1h1m25 0h1m14 0h1m0 0h1m60 0h1m0 0h1m15 0h1m2 0h1m15 0h1m4 0h1m-186 1h1m6 0h1m3 0h1m18 0h1m29 0h1m17 0h1m6 0h1m48 0h1m17 0h1m3 0h1m10 0h1m11 0h1m2 0h1m9 0h1m0 0h1m-235 1h1m18 0h1m26 0h1m0 0h1m20 0h1m1 0h1m5 0h1m15 0h1m12 0h1m3 0h1m5 0h1m15 0h1m62 0h1m8 0h1m2 0h1m31 0h1m2 0h1m-232 1h1m2 0h1m9 0h1m6 0h1m29 0h1m17 0h1m9 0h1m33 0h1m95 0h1m8 0h1m-221 1h1m75 0h1m0 0h1m2 0h1m5 0h1m116 0h1m14 0h1m-232 1h1m17 0h1m4 0h1m4 0h1m34 0h1m3 0h1m11 0h1m0 0h1m2 0h1m2 0h1m0 0h1m113 0h1m-205 1h1m0 0h1m2 0h1m12 0h1m80 0h1m1 0h1m4 0h1m2 0h1m16 0h1m112 0h1m-224 1h1m26 0h1m9 0h1m5 0h1m5 0h1m23 0h1m14 0h1m12 0h1m93 0h1m12 0h1m0 0h1m1 0h1m31 0h1m-257 1h1m7 0h1m0 0h1m12 0h1m47 0h1m3 0h1m36 0h1m107 0h1m-217 1h1m7 0h1m39 0h1m8 0h1m21 0h1m42 0h1m-122 1h1m5 0h1m41 0h1m8 0h1m7 0h1m3 0h1m2 0h1m178 0h1m-250 1h1m25 0h1m8 0h1m1 0h1m1 0h1m17 0h1m-26 1h1m3 0h1m78 0h1m-104 1h1m12 0h1m2 0h1m1 1h1m9 0h1m60 0h1m-42 1h1m12 1h1m136 0h1m-182 2h1m3 0h1" stroke="#bdf3f5" stroke-opacity="1.0" stroke-width="1" fill="none" shape-rendering="crispEdges"/>
<line x1="544.4" y1="161" x2="544.4" y2="232" stroke="#555" stroke-width="0.7"/>
<line x1="616.6" y1="161" x2="616.6" y2="232" stroke="#ee5555" stroke-width="0.8" stroke-dasharray="1.2 1.2"/>
<polyline points="413,170.6 414.2,170.7 415.4,170.6 416.6,170.5 417.8,170.5 419,170.4 420.2,170.4 421.4,170.4 422.6,170.3 423.8,170.6 425,171.4 426.2,170.9 427.4,170.2 428.6,170.2 429.8,170 431,170.3 432.2,170.6 433.4,171 434.6,171.4 435.8,170.8 437,170.1 438.2,170.4 439.4,171.3 440.6,171.4 441.8,171.3 443,171.1 444.2,171.1 445.4,171.1 446.6,171.1 447.8,171.3 449,171.1 450.2,170.4 451.4,170.6 452.6,170.7 453.8,170.6 455,170.7 456.2,170 457.4,170 458.6,170.5 459.8,170.7 461,171 462.2,170.9 463.4,170.9 464.6,171.3 465.8,171 467,171.2 468.2,172.1 469.4,171.7 470.6,171.1 471.8,171.5 473,171.8 474.2,171.4 475.4,171.6 476.6,171.5 477.8,171.3 479,171.3 480.2,171.4 481.4,171 482.6,171.1 483.8,171.3 485,170.8 486.2,170.5 487.4,170.7 488.6,170.3 489.8,170.1 491,170.6 492.2,170.2 493.4,170.1 494.6,171 495.8,171.5 497,170.8 498.2,170.5 499.4,170.8 500.6,170.7 501.8,170.7 503,170.9 504.2,171.1 505.4,171.7 506.6,172.4 507.8,171.9 509,171.2 510.2,170.6 511.4,170.4 512.6,170.6 513.8,170.8 515,171.5 516.2,171.3 517.4,171.1 518.6,171.3 519.8,170.8 521,170.8 522.2,169.9 523.4,169.6 524.6,170.4 525.8,170.9 527,170.7 528.2,170.4 529.4,170.4 530.6,170.4 531.8,170.6 533,171 534.2,171 535.4,170.5 536.6,170.8 537.8,171.6 539,171.8 540.2,171.5 541.4,171.4 542.6,171.1 543.8,171.5 545,172.3 546.2,172.2 547.4,170.5 548.6,170.8 549.8,172.9 551,173.2 552.2,172.2 553.4,171.9 554.6,172.8 555.8,172.3 557,171.4 558.2,170.8 559.4,170.5 560.6,170.7 561.8,171.5 563,173.5 564.2,175.4 565.4,175.8 566.6,173.9 567.8,175.1 569,177.1 570.2,177.7 571.4,178.4 572.6,178.5 573.8,178.2 575,178.4 576.2,178.3 577.4,178 578.6,178.7 579.8,179.4 581,180 582.2,180.6 583.4,181.6 584.6,181.4 585.8,180.2 587,180.4 588.2,182.6 589.4,184.5 590.6,183.5 591.8,182 593,180.8 594.2,181.9 595.4,184.5 596.6,187.2 597.8,187.6 599,187.8 600.2,187.5 601.4,186.4 602.6,185.3 603.8,185.6 605,186.7 606.2,188.2 607.4,188.8 608.6,189.1 609.8,189.2 611,188.9 612.2,188.7 613.4,189.3 614.6,189.8 615.8,189.8 617,189.3 618.2,189.2 619.4,189 620.6,189.2 621.8,189 623,188.9 624.2,189.4 625.4,189 626.6,188.4 627.8,189.5 629,190.4 630.2,189.9 631.4,189.2 632.6,189.2 633.8,188.7 635,189.4 636.2,190.3 637.4,190.9 638.6,190.1 639.8,188.5 641,189 642.2,189.9 643.4,190.6 644.6,190.7 645.8,190.6 647,190.9 648.2,189.7 649.4,189 650.6,189.4 651.8,188.8 653,189 654.2,189.5 655.4,190.6 656.6,190.6 657.8,190 659,190.5 660.2,191.3 661.4,190.3 662.6,189.5 663.8,189.6 665,190 666.2,190.6 667.4,190.4 668.6,190.7 669.8,190.8 671,190.3 672.2,190.3 673.4,189.6 674.6,189.3 675.8,190.1" fill="none" stroke="#dd1a1a" stroke-width="1.7" stroke-linejoin="round"/>
<polyline points="413,222.3 414.2,221.7 415.4,222.9 416.6,223.7 417.8,223.6 419,223.7 420.2,223.7 421.4,224 422.6,223.7 423.8,223.9 425,224.3 426.2,223.3 427.4,223.5 428.6,223.4 429.8,223.7 431,223.5 432.2,222.4 433.4,221.7 434.6,222 435.8,223.5 437,223.8 438.2,223.1 439.4,222.2 440.6,221.9 441.8,222.9 443,223.3 444.2,223.3 445.4,223.5 446.6,223.6 447.8,223.3 449,223.3 450.2,223.7 451.4,223.4 452.6,223.1 453.8,223 455,222.5 456.2,222.7 457.4,222.9 458.6,222.7 459.8,222.8 461,223 462.2,223.5 463.4,224.1 464.6,223.3 465.8,222.2 467,222.4 468.2,223.2 469.4,222.9 470.6,222.1 471.8,221.7 473,221.7 474.2,222.1 475.4,222.6 476.6,223.5 477.8,223.3 479,222.9 480.2,223.2 481.4,223.3 482.6,223.3 483.8,222.8 485,223 486.2,223.8 487.4,223 488.6,222.3 489.8,222.8 491,223.2 492.2,223.3 493.4,223.6 494.6,223.6 495.8,223.9 497,223.6 498.2,222.6 499.4,222.4 500.6,223 501.8,224 503,223.6 504.2,223.3 505.4,223.1 506.6,223.5 507.8,223.9 509,223.6 510.2,223.1 511.4,222.7 512.6,223.3 513.8,223.2 515,222.2 516.2,221.9 517.4,222.4 518.6,223 519.8,223.3 521,223.5 522.2,223.5 523.4,222.8 524.6,223.3 525.8,223.8 527,222.8 528.2,222.4 529.4,222.4 530.6,223.1 531.8,223.3 533,222.4 534.2,222.6 535.4,222.1 536.6,221.8 537.8,222.1 539,221.8 540.2,221.1 541.4,220.4 542.6,219.7 543.8,218.8 545,218.7 546.2,218.1 547.4,217.4 548.6,215.7 549.8,214.9 551,214.3 552.2,212.7 553.4,211.9 554.6,211.3 555.8,209.5 557,207.7 558.2,206.9 559.4,205.8 560.6,203.8 561.8,203.1 563,205.6 564.2,204.8 565.4,202.9 566.6,202.4 567.8,202.9 569,203 570.2,202.5 571.4,201.8 572.6,200.4 573.8,198.7 575,196.9 576.2,194.6 577.4,196.8 578.6,200.5 579.8,202.9 581,203.5 582.2,204.7 583.4,204.9 584.6,203.1 585.8,202.2 587,202.8 588.2,203.6 589.4,204.2 590.6,205 591.8,205.3 593,204.8 594.2,205.3 595.4,206.1 596.6,206.5 597.8,207.2 599,207.8 600.2,208.9 601.4,210.2 602.6,210.6 603.8,211.3 605,211.9 606.2,212.2 607.4,213 608.6,214 609.8,213.2 611,212.7 612.2,213.4 613.4,214.4 614.6,215.6 615.8,216.5 617,217.5 618.2,217.3 619.4,216.6 620.6,216.9 621.8,216.7 623,215.6 624.2,214.7 625.4,214.4 626.6,214.3 627.8,214.6 629,216.4 630.2,217.2 631.4,217.3 632.6,217.5 633.8,217.9 635,218.1 636.2,216.6 637.4,215.9 638.6,217 639.8,217.8 641,218 642.2,218.4 643.4,218.7 644.6,218 645.8,217 647,217.9 648.2,218.4 649.4,218 650.6,218.9 651.8,219.1 653,217.9 654.2,218 655.4,218 656.6,216.9 657.8,217.1 659,217.5 660.2,217.3 661.4,218.1 662.6,219 663.8,218.5 665,218 666.2,218.8 667.4,218.9 668.6,218.3 669.8,217.4 671,217.6 672.2,217.5 673.4,217.9 674.6,218.4 675.8,217.6" fill="none" stroke="#1428d8" stroke-width="1.6" stroke-linejoin="round"/>
</g>
<rect x="73.5" y="8.5" width="262.0" height="72.0" fill="none" stroke="#000" stroke-width="1"/>
<path d="M108.8 8.5v3M108.8 80.5v-3M156.6 8.5v3M156.6 80.5v-3M204.3 8.5v3M204.3 80.5v-3M252.1 8.5v3M252.1 80.5v-3M299.9 8.5v3M299.9 80.5v-3M80.2 8.5v1.6M80.2 80.5v-1.6M89.7 8.5v1.6M89.7 80.5v-1.6M99.3 8.5v1.6M99.3 80.5v-1.6M118.4 8.5v1.6M118.4 80.5v-1.6M127.9 8.5v1.6M127.9 80.5v-1.6M137.5 8.5v1.6M137.5 80.5v-1.6M147 8.5v1.6M147 80.5v-1.6M166.1 8.5v1.6M166.1 80.5v-1.6M175.7 8.5v1.6M175.7 80.5v-1.6M185.2 8.5v1.6M185.2 80.5v-1.6M194.8 8.5v1.6M194.8 80.5v-1.6M213.9 8.5v1.6M213.9 80.5v-1.6M223.4 8.5v1.6M223.4 80.5v-1.6M233 8.5v1.6M233 80.5v-1.6M242.6 8.5v1.6M242.6 80.5v-1.6M261.6 8.5v1.6M261.6 80.5v-1.6M271.2 8.5v1.6M271.2 80.5v-1.6M280.8 8.5v1.6M280.8 80.5v-1.6M290.3 8.5v1.6M290.3 80.5v-1.6M309.4 8.5v1.6M309.4 80.5v-1.6M318.9 8.5v1.6M318.9 80.5v-1.6M328.5 8.5v1.6M328.5 80.5v-1.6M73.5 8.3h3M335.5 8.3h-3M73.5 54.2h3M335.5 54.2h-3M73.5 40.4h1.6M335.5 40.4h-1.6M73.5 32.3h1.6M335.5 32.3h-1.6M73.5 26.6h1.6M335.5 26.6h-1.6M73.5 22.1h1.6M335.5 22.1h-1.6M73.5 18.5h1.6M335.5 18.5h-1.6M73.5 15.4h1.6M335.5 15.4h-1.6M73.5 12.7h1.6M335.5 12.7h-1.6M73.5 10.4h1.6M335.5 10.4h-1.6M73.5 78.2h1.6M335.5 78.2h-1.6M73.5 72.5h1.6M335.5 72.5h-1.6M73.5 68h1.6M335.5 68h-1.6M73.5 64.4h1.6M335.5 64.4h-1.6M73.5 61.3h1.6M335.5 61.3h-1.6M73.5 58.6h1.6M335.5 58.6h-1.6M73.5 56.3h1.6M335.5 56.3h-1.6" stroke="#000" stroke-width="0.9" fill="none"/>
<rect x="73.5" y="84.5" width="262.0" height="72.0" fill="none" stroke="#000" stroke-width="1"/>
<path d="M108.8 84.5v3M108.8 156.5v-3M156.6 84.5v3M156.6 156.5v-3M204.3 84.5v3M204.3 156.5v-3M252.1 84.5v3M252.1 156.5v-3M299.9 84.5v3M299.9 156.5v-3M80.2 84.5v1.6M80.2 156.5v-1.6M89.7 84.5v1.6M89.7 156.5v-1.6M99.3 84.5v1.6M99.3 156.5v-1.6M118.4 84.5v1.6M118.4 156.5v-1.6M127.9 84.5v1.6M127.9 156.5v-1.6M137.5 84.5v1.6M137.5 156.5v-1.6M147 84.5v1.6M147 156.5v-1.6M166.1 84.5v1.6M166.1 156.5v-1.6M175.7 84.5v1.6M175.7 156.5v-1.6M185.2 84.5v1.6M185.2 156.5v-1.6M194.8 84.5v1.6M194.8 156.5v-1.6M213.9 84.5v1.6M213.9 156.5v-1.6M223.4 84.5v1.6M223.4 156.5v-1.6M233 84.5v1.6M233 156.5v-1.6M242.6 84.5v1.6M242.6 156.5v-1.6M261.6 84.5v1.6M261.6 156.5v-1.6M271.2 84.5v1.6M271.2 156.5v-1.6M280.8 84.5v1.6M280.8 156.5v-1.6M290.3 84.5v1.6M290.3 156.5v-1.6M309.4 84.5v1.6M309.4 156.5v-1.6M318.9 84.5v1.6M318.9 156.5v-1.6M328.5 84.5v1.6M328.5 156.5v-1.6M73.5 84.5h3M335.5 84.5h-3M73.5 102.5h3M335.5 102.5h-3M73.5 120.5h3M335.5 120.5h-3M73.5 138.5h3M335.5 138.5h-3M73.5 156.5h3M335.5 156.5h-3M73.5 97.1h1.6M335.5 97.1h-1.6M73.5 93.9h1.6M335.5 93.9h-1.6M73.5 91.7h1.6M335.5 91.7h-1.6M73.5 89.9h1.6M335.5 89.9h-1.6M73.5 88.5h1.6M335.5 88.5h-1.6M73.5 87.3h1.6M335.5 87.3h-1.6M73.5 86.2h1.6M335.5 86.2h-1.6M73.5 85.3h1.6M335.5 85.3h-1.6M73.5 115.1h1.6M335.5 115.1h-1.6M73.5 111.9h1.6M335.5 111.9h-1.6M73.5 109.7h1.6M335.5 109.7h-1.6M73.5 107.9h1.6M335.5 107.9h-1.6M73.5 106.5h1.6M335.5 106.5h-1.6M73.5 105.3h1.6M335.5 105.3h-1.6M73.5 104.2h1.6M335.5 104.2h-1.6M73.5 103.3h1.6M335.5 103.3h-1.6M73.5 133.1h1.6M335.5 133.1h-1.6M73.5 129.9h1.6M335.5 129.9h-1.6M73.5 127.7h1.6M335.5 127.7h-1.6M73.5 125.9h1.6M335.5 125.9h-1.6M73.5 124.5h1.6M335.5 124.5h-1.6M73.5 123.3h1.6M335.5 123.3h-1.6M73.5 122.2h1.6M335.5 122.2h-1.6M73.5 121.3h1.6M335.5 121.3h-1.6M73.5 151.1h1.6M335.5 151.1h-1.6M73.5 147.9h1.6M335.5 147.9h-1.6M73.5 145.7h1.6M335.5 145.7h-1.6M73.5 143.9h1.6M335.5 143.9h-1.6M73.5 142.5h1.6M335.5 142.5h-1.6M73.5 141.3h1.6M335.5 141.3h-1.6M73.5 140.2h1.6M335.5 140.2h-1.6M73.5 139.3h1.6M335.5 139.3h-1.6" stroke="#000" stroke-width="0.9" fill="none"/>
<rect x="73.5" y="161.5" width="262.0" height="71.0" fill="none" stroke="#000" stroke-width="1"/>
<path d="M108.8 161.5v3M108.8 232.5v-3M156.6 161.5v3M156.6 232.5v-3M204.3 161.5v3M204.3 232.5v-3M252.1 161.5v3M252.1 232.5v-3M299.9 161.5v3M299.9 232.5v-3M80.2 161.5v1.6M80.2 232.5v-1.6M89.7 161.5v1.6M89.7 232.5v-1.6M99.3 161.5v1.6M99.3 232.5v-1.6M118.4 161.5v1.6M118.4 232.5v-1.6M127.9 161.5v1.6M127.9 232.5v-1.6M137.5 161.5v1.6M137.5 232.5v-1.6M147 161.5v1.6M147 232.5v-1.6M166.1 161.5v1.6M166.1 232.5v-1.6M175.7 161.5v1.6M175.7 232.5v-1.6M185.2 161.5v1.6M185.2 232.5v-1.6M194.8 161.5v1.6M194.8 232.5v-1.6M213.9 161.5v1.6M213.9 232.5v-1.6M223.4 161.5v1.6M223.4 232.5v-1.6M233 161.5v1.6M233 232.5v-1.6M242.6 161.5v1.6M242.6 232.5v-1.6M261.6 161.5v1.6M261.6 232.5v-1.6M271.2 161.5v1.6M271.2 232.5v-1.6M280.8 161.5v1.6M280.8 232.5v-1.6M290.3 161.5v1.6M290.3 232.5v-1.6M309.4 161.5v1.6M309.4 232.5v-1.6M318.9 161.5v1.6M318.9 232.5v-1.6M328.5 161.5v1.6M328.5 232.5v-1.6M73.5 166.5h3M335.5 166.5h-3M73.5 195.6h3M335.5 195.6h-3M73.5 224.7h3M335.5 224.7h-3M73.5 181.1h1.6M335.5 181.1h-1.6M73.5 210.2h1.6M335.5 210.2h-1.6" stroke="#000" stroke-width="0.9" fill="none"/>
<rect x="413.5" y="8.5" width="262.0" height="72.0" fill="none" stroke="#000" stroke-width="1"/>
<path d="M417.4 8.5v3M417.4 80.5v-3M480.9 8.5v3M480.9 80.5v-3M544.4 8.5v3M544.4 80.5v-3M607.9 8.5v3M607.9 80.5v-3M671.4 8.5v3M671.4 80.5v-3M433.3 8.5v1.6M433.3 80.5v-1.6M449.1 8.5v1.6M449.1 80.5v-1.6M465 8.5v1.6M465 80.5v-1.6M496.8 8.5v1.6M496.8 80.5v-1.6M512.6 8.5v1.6M512.6 80.5v-1.6M528.5 8.5v1.6M528.5 80.5v-1.6M560.3 8.5v1.6M560.3 80.5v-1.6M576.1 8.5v1.6M576.1 80.5v-1.6M592 8.5v1.6M592 80.5v-1.6M623.8 8.5v1.6M623.8 80.5v-1.6M639.6 8.5v1.6M639.6 80.5v-1.6M655.5 8.5v1.6M655.5 80.5v-1.6M413.5 8.3h3M675.5 8.3h-3M413.5 54.2h3M675.5 54.2h-3M413.5 40.4h1.6M675.5 40.4h-1.6M413.5 32.3h1.6M675.5 32.3h-1.6M413.5 26.6h1.6M675.5 26.6h-1.6M413.5 22.1h1.6M675.5 22.1h-1.6M413.5 18.5h1.6M675.5 18.5h-1.6M413.5 15.4h1.6M675.5 15.4h-1.6M413.5 12.7h1.6M675.5 12.7h-1.6M413.5 10.4h1.6M675.5 10.4h-1.6M413.5 78.2h1.6M675.5 78.2h-1.6M413.5 72.5h1.6M675.5 72.5h-1.6M413.5 68h1.6M675.5 68h-1.6M413.5 64.4h1.6M675.5 64.4h-1.6M413.5 61.3h1.6M675.5 61.3h-1.6M413.5 58.6h1.6M675.5 58.6h-1.6M413.5 56.3h1.6M675.5 56.3h-1.6" stroke="#000" stroke-width="0.9" fill="none"/>
<rect x="413.5" y="84.5" width="262.0" height="72.0" fill="none" stroke="#000" stroke-width="1"/>
<path d="M417.4 84.5v3M417.4 156.5v-3M480.9 84.5v3M480.9 156.5v-3M544.4 84.5v3M544.4 156.5v-3M607.9 84.5v3M607.9 156.5v-3M671.4 84.5v3M671.4 156.5v-3M433.3 84.5v1.6M433.3 156.5v-1.6M449.1 84.5v1.6M449.1 156.5v-1.6M465 84.5v1.6M465 156.5v-1.6M496.8 84.5v1.6M496.8 156.5v-1.6M512.6 84.5v1.6M512.6 156.5v-1.6M528.5 84.5v1.6M528.5 156.5v-1.6M560.3 84.5v1.6M560.3 156.5v-1.6M576.1 84.5v1.6M576.1 156.5v-1.6M592 84.5v1.6M592 156.5v-1.6M623.8 84.5v1.6M623.8 156.5v-1.6M639.6 84.5v1.6M639.6 156.5v-1.6M655.5 84.5v1.6M655.5 156.5v-1.6M413.5 84.5h3M675.5 84.5h-3M413.5 102.5h3M675.5 102.5h-3M413.5 120.5h3M675.5 120.5h-3M413.5 138.5h3M675.5 138.5h-3M413.5 156.5h3M675.5 156.5h-3M413.5 97.1h1.6M675.5 97.1h-1.6M413.5 93.9h1.6M675.5 93.9h-1.6M413.5 91.7h1.6M675.5 91.7h-1.6M413.5 89.9h1.6M675.5 89.9h-1.6M413.5 88.5h1.6M675.5 88.5h-1.6M413.5 87.3h1.6M675.5 87.3h-1.6M413.5 86.2h1.6M675.5 86.2h-1.6M413.5 85.3h1.6M675.5 85.3h-1.6M413.5 115.1h1.6M675.5 115.1h-1.6M413.5 111.9h1.6M675.5 111.9h-1.6M413.5 109.7h1.6M675.5 109.7h-1.6M413.5 107.9h1.6M675.5 107.9h-1.6M413.5 106.5h1.6M675.5 106.5h-1.6M413.5 105.3h1.6M675.5 105.3h-1.6M413.5 104.2h1.6M675.5 104.2h-1.6M413.5 103.3h1.6M675.5 103.3h-1.6M413.5 133.1h1.6M675.5 133.1h-1.6M413.5 129.9h1.6M675.5 129.9h-1.6M413.5 127.7h1.6M675.5 127.7h-1.6M413.5 125.9h1.6M675.5 125.9h-1.6M413.5 124.5h1.6M675.5 124.5h-1.6M413.5 123.3h1.6M675.5 123.3h-1.6M413.5 122.2h1.6M675.5 122.2h-1.6M413.5 121.3h1.6M675.5 121.3h-1.6M413.5 151.1h1.6M675.5 151.1h-1.6M413.5 147.9h1.6M675.5 147.9h-1.6M413.5 145.7h1.6M675.5 145.7h-1.6M413.5 143.9h1.6M675.5 143.9h-1.6M413.5 142.5h1.6M675.5 142.5h-1.6M413.5 141.3h1.6M675.5 141.3h-1.6M413.5 140.2h1.6M675.5 140.2h-1.6M413.5 139.3h1.6M675.5 139.3h-1.6" stroke="#000" stroke-width="0.9" fill="none"/>
<rect x="413.5" y="161.5" width="262.0" height="71.0" fill="none" stroke="#000" stroke-width="1"/>
<path d="M417.4 161.5v3M417.4 232.5v-3M480.9 161.5v3M480.9 232.5v-3M544.4 161.5v3M544.4 232.5v-3M607.9 161.5v3M607.9 232.5v-3M671.4 161.5v3M671.4 232.5v-3M433.3 161.5v1.6M433.3 232.5v-1.6M449.1 161.5v1.6M449.1 232.5v-1.6M465 161.5v1.6M465 232.5v-1.6M496.8 161.5v1.6M496.8 232.5v-1.6M512.6 161.5v1.6M512.6 232.5v-1.6M528.5 161.5v1.6M528.5 232.5v-1.6M560.3 161.5v1.6M560.3 232.5v-1.6M576.1 161.5v1.6M576.1 232.5v-1.6M592 161.5v1.6M592 232.5v-1.6M623.8 161.5v1.6M623.8 232.5v-1.6M639.6 161.5v1.6M639.6 232.5v-1.6M655.5 161.5v1.6M655.5 232.5v-1.6M413.5 166.5h3M675.5 166.5h-3M413.5 195.6h3M675.5 195.6h-3M413.5 224.7h3M675.5 224.7h-3M413.5 181.1h1.6M675.5 181.1h-1.6M413.5 210.2h1.6M675.5 210.2h-1.6" stroke="#000" stroke-width="0.9" fill="none"/>
<text x="0.81" y="15.90" font-size="15.5" fill="#262626" textLength="19.59" lengthAdjust="spacingAndGlyphs">(a)</text>
<text x="0.81" y="94.30" font-size="15.5" fill="#262626" textLength="19.59" lengthAdjust="spacingAndGlyphs">(b)</text>
<text x="0.75" y="172.30" font-size="15.5" fill="#262626" textLength="19.69" lengthAdjust="spacingAndGlyphs">(c)</text>
<text x="53.27" y="14.40" font-size="11.5" fill="#262626" textLength="12.16" lengthAdjust="spacingAndGlyphs">10</text>
<text x="65.82" y="9.50" font-size="8.8" fill="#262626" textLength="5.35" lengthAdjust="spacingAndGlyphs">0</text>
<text x="50.37" y="57.80" font-size="11.5" fill="#262626" textLength="12.16" lengthAdjust="spacingAndGlyphs">10</text>
<text x="62.65" y="52.50" font-size="8.8" fill="#262626" textLength="7.04" lengthAdjust="spacingAndGlyphs">-1</text>
<text x="52.47" y="92.10" font-size="11.5" fill="#262626" textLength="12.16" lengthAdjust="spacingAndGlyphs">10</text>
<text x="65.60" y="86.50" font-size="8.8" fill="#262626" textLength="5.49" lengthAdjust="spacingAndGlyphs">2</text>
<text x="52.67" y="127.60" font-size="11.5" fill="#262626" textLength="12.16" lengthAdjust="spacingAndGlyphs">10</text>
<text x="66.26" y="122.40" font-size="8.8" fill="#262626" textLength="4.89" lengthAdjust="spacingAndGlyphs">0</text>
<text x="50.57" y="160.20" font-size="11.5" fill="#262626" textLength="12.16" lengthAdjust="spacingAndGlyphs">10</text>
<text x="64.06" y="155.50" font-size="8.8" fill="#262626" textLength="6.83" lengthAdjust="spacingAndGlyphs">-2</text>
<text x="52.72" y="171.70" font-size="10.5" fill="#262626" textLength="16.06" lengthAdjust="spacingAndGlyphs">1.2</text>
<text x="53.07" y="201.00" font-size="10.5" fill="#262626" textLength="15.42" lengthAdjust="spacingAndGlyphs">0.8</text>
<text x="52.56" y="230.60" font-size="10.5" fill="#262626" textLength="15.78" lengthAdjust="spacingAndGlyphs">0.4</text>
<text x="96.87" y="248.60" font-size="15.7" fill="#262626" textLength="23.77" lengthAdjust="spacingAndGlyphs">-10</text>
<text x="149.27" y="248.60" font-size="15.7" fill="#262626" textLength="14.51" lengthAdjust="spacingAndGlyphs">-5</text>
<text x="201.50" y="248.60" font-size="15.7" fill="#262626" textLength="9.95" lengthAdjust="spacingAndGlyphs">0</text>
<text x="247.32" y="248.60" font-size="15.7" fill="#262626" textLength="9.50" lengthAdjust="spacingAndGlyphs">5</text>
<text x="290.77" y="248.60" font-size="15.7" fill="#262626" textLength="17.96" lengthAdjust="spacingAndGlyphs">10</text>
<text x="164.24" y="263.50" font-size="14.5" fill="#262626" textLength="12.53" lengthAdjust="spacingAndGlyphs">Δ</text>
<text x="176.74" y="263.50" font-size="14.5" fill="#262626" textLength="4.79" lengthAdjust="spacingAndGlyphs">t</text>
<text x="183.46" y="271.00" font-size="12.0" fill="#262626" textLength="26.08" lengthAdjust="spacingAndGlyphs">ELM</text>
<text x="213.23" y="263.60" font-size="15.0" fill="#262626" textLength="31.24" lengthAdjust="spacingAndGlyphs">(ms)</text>
<text transform="translate(32.30,52.46) rotate(-90)" font-size="14.5" fill="#262626" textLength="10.24" lengthAdjust="spacingAndGlyphs">D</text>
<text transform="translate(35.20,44.01) rotate(-90)" font-size="9.1" fill="#262626" font-style="italic" font-family="Liberation Serif" textLength="7.28" lengthAdjust="spacingAndGlyphs">α</text>
<text transform="translate(48.80,73.31) rotate(-90)" font-size="14.7" fill="#262626" textLength="62.92" lengthAdjust="spacingAndGlyphs">(arb. unit)</text>
<text transform="translate(32.50,142.18) rotate(-90)" font-size="14" fill="#262626" textLength="20.31" lengthAdjust="spacingAndGlyphs">|dD</text>
<text transform="translate(35.40,122.32) rotate(-90)" font-size="9.1" fill="#262626" font-style="italic" font-family="Liberation Serif" textLength="5.64" lengthAdjust="spacingAndGlyphs">α</text>
<text transform="translate(32.50,116.30) rotate(-90)" font-size="14" fill="#262626" textLength="21.39" lengthAdjust="spacingAndGlyphs">/dt|</text>
<text transform="translate(48.50,147.82) rotate(-90)" font-size="14" fill="#262626" textLength="4.40" lengthAdjust="spacingAndGlyphs">(</text>
<text transform="translate(48.50,141.35) rotate(-90)" font-size="14" fill="#262626" font-style="italic" textLength="5.96" lengthAdjust="spacingAndGlyphs">δ</text>
<text transform="translate(48.50,134.91) rotate(-90)" font-size="14" fill="#262626" textLength="9.75" lengthAdjust="spacingAndGlyphs">D</text>
<text transform="translate(51.40,125.61) rotate(-90)" font-size="9.1" fill="#262626" font-style="italic" font-family="Liberation Serif" textLength="5.44" lengthAdjust="spacingAndGlyphs">α</text>
<text transform="translate(48.50,120.00) rotate(-90)" font-size="14" fill="#262626" textLength="29.13" lengthAdjust="spacingAndGlyphs">/ms)</text>
<text transform="translate(30.70,211.39) rotate(-90)" font-size="15" fill="#262626" textLength="4.17" lengthAdjust="spacingAndGlyphs">I</text>
<text transform="translate(32.40,205.89) rotate(-90)" font-size="11.5" fill="#262626" textLength="17.26" lengthAdjust="spacingAndGlyphs">SX</text>
<text transform="translate(48.40,229.07) rotate(-90)" font-size="15.6" fill="#262626" textLength="66.73" lengthAdjust="spacingAndGlyphs">(arb. unit)</text>
<text x="340.81" y="15.90" font-size="15.5" fill="#262626" textLength="19.59" lengthAdjust="spacingAndGlyphs">(d)</text>
<text x="340.81" y="94.30" font-size="15.5" fill="#262626" textLength="19.59" lengthAdjust="spacingAndGlyphs">(e)</text>
<text x="340.47" y="172.30" font-size="15.5" fill="#262626" textLength="20.26" lengthAdjust="spacingAndGlyphs">(f)</text>
<text x="393.27" y="14.40" font-size="11.5" fill="#262626" textLength="12.16" lengthAdjust="spacingAndGlyphs">10</text>
<text x="405.82" y="9.50" font-size="8.8" fill="#262626" textLength="5.35" lengthAdjust="spacingAndGlyphs">0</text>
<text x="390.37" y="57.80" font-size="11.5" fill="#262626" textLength="12.16" lengthAdjust="spacingAndGlyphs">10</text>
<text x="402.65" y="52.50" font-size="8.8" fill="#262626" textLength="7.04" lengthAdjust="spacingAndGlyphs">-1</text>
<text x="392.47" y="92.10" font-size="11.5" fill="#262626" textLength="12.16" lengthAdjust="spacingAndGlyphs">10</text>
<text x="405.60" y="86.50" font-size="8.8" fill="#262626" textLength="5.49" lengthAdjust="spacingAndGlyphs">2</text>
<text x="392.67" y="127.60" font-size="11.5" fill="#262626" textLength="12.16" lengthAdjust="spacingAndGlyphs">10</text>
<text x="406.26" y="122.40" font-size="8.8" fill="#262626" textLength="4.89" lengthAdjust="spacingAndGlyphs">0</text>
<text x="390.57" y="160.20" font-size="11.5" fill="#262626" textLength="12.16" lengthAdjust="spacingAndGlyphs">10</text>
<text x="404.06" y="155.50" font-size="8.8" fill="#262626" textLength="6.83" lengthAdjust="spacingAndGlyphs">-2</text>
<text x="392.72" y="171.70" font-size="10.5" fill="#262626" textLength="16.06" lengthAdjust="spacingAndGlyphs">1.2</text>
<text x="393.07" y="201.00" font-size="10.5" fill="#262626" textLength="15.42" lengthAdjust="spacingAndGlyphs">0.8</text>
<text x="392.56" y="230.60" font-size="10.5" fill="#262626" textLength="15.78" lengthAdjust="spacingAndGlyphs">0.4</text>
<text x="403.71" y="248.60" font-size="15.7" fill="#262626" textLength="26.74" lengthAdjust="spacingAndGlyphs">-0.4</text>
<text x="467.19" y="248.60" font-size="15.7" fill="#262626" textLength="27.72" lengthAdjust="spacingAndGlyphs">-0.2</text>
<text x="539.61" y="248.60" font-size="15.7" fill="#262626" textLength="9.89" lengthAdjust="spacingAndGlyphs">0</text>
<text x="597.27" y="248.60" font-size="15.7" fill="#262626" textLength="22.34" lengthAdjust="spacingAndGlyphs">0.2</text>
<text x="660.27" y="248.60" font-size="15.7" fill="#262626" textLength="22.51" lengthAdjust="spacingAndGlyphs">0.4</text>
<text x="504.24" y="263.50" font-size="14.5" fill="#262626" textLength="12.53" lengthAdjust="spacingAndGlyphs">Δ</text>
<text x="516.74" y="263.50" font-size="14.5" fill="#262626" textLength="4.79" lengthAdjust="spacingAndGlyphs">t</text>
<text x="523.46" y="271.00" font-size="12.0" fill="#262626" textLength="26.08" lengthAdjust="spacingAndGlyphs">ELM</text>
<text x="553.23" y="263.60" font-size="15.0" fill="#262626" textLength="31.24" lengthAdjust="spacingAndGlyphs">(ms)</text>
<text transform="translate(372.30,52.46) rotate(-90)" font-size="14.5" fill="#262626" textLength="10.24" lengthAdjust="spacingAndGlyphs">D</text>
<text transform="translate(375.20,44.01) rotate(-90)" font-size="9.1" fill="#262626" font-style="italic" font-family="Liberation Serif" textLength="7.28" lengthAdjust="spacingAndGlyphs">α</text>
<text transform="translate(388.80,73.31) rotate(-90)" font-size="14.7" fill="#262626" textLength="62.92" lengthAdjust="spacingAndGlyphs">(arb. unit)</text>
<text transform="translate(372.50,142.18) rotate(-90)" font-size="14" fill="#262626" textLength="20.31" lengthAdjust="spacingAndGlyphs">|dD</text>
<text transform="translate(375.40,122.32) rotate(-90)" font-size="9.1" fill="#262626" font-style="italic" font-family="Liberation Serif" textLength="5.64" lengthAdjust="spacingAndGlyphs">α</text>
<text transform="translate(372.50,116.30) rotate(-90)" font-size="14" fill="#262626" textLength="21.39" lengthAdjust="spacingAndGlyphs">/dt|</text>
<text transform="translate(388.50,147.82) rotate(-90)" font-size="14" fill="#262626" textLength="4.40" lengthAdjust="spacingAndGlyphs">(</text>
<text transform="translate(388.50,141.35) rotate(-90)" font-size="14" fill="#262626" font-style="italic" textLength="5.96" lengthAdjust="spacingAndGlyphs">δ</text>
<text transform="translate(388.50,134.91) rotate(-90)" font-size="14" fill="#262626" textLength="9.75" lengthAdjust="spacingAndGlyphs">D</text>
<text transform="translate(391.40,125.61) rotate(-90)" font-size="9.1" fill="#262626" font-style="italic" font-family="Liberation Serif" textLength="5.44" lengthAdjust="spacingAndGlyphs">α</text>
<text transform="translate(388.50,120.00) rotate(-90)" font-size="14" fill="#262626" textLength="29.13" lengthAdjust="spacingAndGlyphs">/ms)</text>
<text transform="translate(370.70,211.39) rotate(-90)" font-size="15" fill="#262626" textLength="4.17" lengthAdjust="spacingAndGlyphs">I</text>
<text transform="translate(372.40,205.89) rotate(-90)" font-size="11.5" fill="#262626" textLength="17.26" lengthAdjust="spacingAndGlyphs">SX</text>
<text transform="translate(388.40,229.07) rotate(-90)" font-size="15.6" fill="#262626" textLength="66.73" lengthAdjust="spacingAndGlyphs">(arb. unit)</text>
<text x="447.37" y="29.70" font-size="17" fill="#d424d4" font-weight="bold" font-style="italic" font-family="Liberation Serif" textLength="9.20" lengthAdjust="spacingAndGlyphs">τ</text>
<text x="455.74" y="22.00" font-size="14.5" fill="#d424d4" font-weight="bold" textLength="9.30" lengthAdjust="spacingAndGlyphs">D</text>
<text x="468.56" y="22.60" font-size="12.5" fill="#d424d4" font-weight="bold" font-style="italic" font-family="Liberation Serif" textLength="10.01" lengthAdjust="spacingAndGlyphs">α</text>
<text x="456.25" y="37.50" font-size="14" fill="#d424d4" font-weight="bold" textLength="30.00" lengthAdjust="spacingAndGlyphs">ELM</text>
<text x="488.85" y="29.60" font-size="17.2" fill="#d424d4" font-weight="bold" textLength="30.60" lengthAdjust="spacingAndGlyphs">=53</text>
<text x="522.35" y="29.80" font-size="17.5" fill="#d424d4" font-weight="bold" font-style="italic" font-family="Liberation Serif" textLength="9.83" lengthAdjust="spacingAndGlyphs">μ</text>
<text x="533.38" y="29.60" font-size="16" fill="#d424d4" font-weight="bold" textLength="9.73" lengthAdjust="spacingAndGlyphs">s</text>
<path d="M548 24.3H558" stroke="#d424d4" stroke-width="1.1"/>
<path d="M544.80 24.30L550.80 21.30L550.80 27.30z" fill="#d424d4"/>
<path d="M561.00 24.30L555.00 21.30L555.00 27.30z" fill="#d424d4"/>
<text x="432.10" y="104.80" font-size="15" fill="#1e36d8" font-weight="bold" font-style="italic" font-family="Liberation Serif" textLength="8.61" lengthAdjust="spacingAndGlyphs">τ</text>
<text x="440.26" y="98.20" font-size="11.8" fill="#1e36d8" font-weight="bold" textLength="17.60" lengthAdjust="spacingAndGlyphs">dD</text>
<text x="458.29" y="98.20" font-size="10.6" fill="#1e36d8" font-weight="bold" font-style="italic" font-family="Liberation Serif" textLength="9.01" lengthAdjust="spacingAndGlyphs">α</text>
<text x="467.07" y="98.20" font-size="11.8" fill="#1e36d8" font-weight="bold" textLength="15.89" lengthAdjust="spacingAndGlyphs">/dt</text>
<text x="439.92" y="112.50" font-size="12.6" fill="#1e36d8" font-weight="bold" textLength="27.65" lengthAdjust="spacingAndGlyphs">ELM</text>
<text x="484.53" y="105.80" font-size="16.4" fill="#1e36d8" font-weight="bold" textLength="27.47" lengthAdjust="spacingAndGlyphs">=29</text>
<text x="515.83" y="105.80" font-size="15.5" fill="#1e36d8" font-weight="bold" font-style="italic" font-family="Liberation Serif" textLength="8.26" lengthAdjust="spacingAndGlyphs">μ</text>
<text x="524.37" y="105.60" font-size="15.5" fill="#1e36d8" font-weight="bold" textLength="9.96" lengthAdjust="spacingAndGlyphs">s</text>
<path d="M535 98.1H563" stroke="#1e36d8" stroke-width="0.8"/>
<path d="M543.80 98.10L537.30 94.80L537.30 101.40z" fill="#1e36d8"/>
<path d="M553.30 98.10L559.80 94.80L559.80 101.40z" fill="#1e36d8"/>
<rect x="478.3" y="113.4" width="53.4" height="13" fill="#e8ef1e" stroke="#6a6a3a" stroke-width="0.8"/>
<text stroke="#1f2a78" stroke-width="0.3" x="479.28" y="123.60" font-size="10.5" fill="#1f2a78" textLength="15.81" lengthAdjust="spacingAndGlyphs">dD</text>
<text x="495.71" y="126.00" font-size="7.5" fill="#1f2a78" font-style="italic" font-family="Liberation Serif" textLength="5.13" lengthAdjust="spacingAndGlyphs">α</text>
<text stroke="#1f2a78" stroke-width="0.3" x="503.00" y="123.60" font-size="10.5" fill="#1f2a78" textLength="28.11" lengthAdjust="spacingAndGlyphs">/dt=1</text>
<path d="M532 120.3H543" stroke="#333" stroke-width="0.7"/><path d="M544 120.3l-4-2M544 120.3l-4 2" stroke="#333" stroke-width="0.7"/>
<text x="435.98" y="198.20" font-size="16.5" fill="#dc2020" font-weight="bold" font-style="italic" font-family="Liberation Serif" textLength="9.10" lengthAdjust="spacingAndGlyphs">τ</text>
<text x="445.82" y="190.00" font-size="13.2" fill="#dc2020" font-weight="bold" textLength="17.39" lengthAdjust="spacingAndGlyphs">SX</text>
<text x="445.26" y="205.80" font-size="14" fill="#dc2020" font-weight="bold" textLength="29.68" lengthAdjust="spacingAndGlyphs">ELM</text>
<text x="477.26" y="197.60" font-size="17.0" fill="#dc2020" font-weight="bold" textLength="40.09" lengthAdjust="spacingAndGlyphs">=228</text>
<text x="523.21" y="197.70" font-size="16" fill="#dc2020" font-weight="bold" font-style="italic" font-family="Liberation Serif" textLength="9.34" lengthAdjust="spacingAndGlyphs">μ</text>
<text x="532.95" y="197.50" font-size="15" fill="#dc2020" font-weight="bold" textLength="10.31" lengthAdjust="spacingAndGlyphs">s</text>
<path d="M549 192.8H612" stroke="#dc2020" stroke-width="1.1"/>
<path d="M545.40 192.80L551.90 189.60L551.90 196.00z" fill="#dc2020"/>
<path d="M615.50 192.80L609.00 189.60L609.00 196.00z" fill="#dc2020"/>
</svg></body></html>
